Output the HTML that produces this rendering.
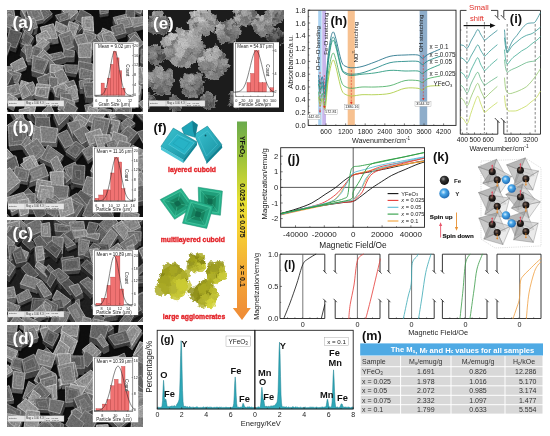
<!DOCTYPE html>
<html><head><meta charset="utf-8"><style>
html,body{margin:0;padding:0;background:#fff;}
body{width:550px;height:436px;overflow:hidden;}
svg{display:block;font-family:"Liberation Sans",Arial,sans-serif;}
</style></head><body>
<svg width="550" height="436" viewBox="0 0 550 436">
<defs>
<filter id="semtex" x="0" y="0" width="1" height="1" color-interpolation-filters="sRGB">
<feTurbulence type="fractalNoise" baseFrequency="0.55" numOctaves="2" seed="4" result="n"/>
<feColorMatrix in="n" type="matrix" values="0.32 0 0 0 0.72  0.32 0 0 0 0.72  0.32 0 0 0 0.72  0 0 0 0 1" result="ng"/>
<feBlend in="SourceGraphic" in2="ng" mode="multiply" result="m"/>
<feComponentTransfer in="m" result="m2"><feFuncR type="linear" slope="1.13"/><feFuncG type="linear" slope="1.13"/><feFuncB type="linear" slope="1.13"/></feComponentTransfer>
<feGaussianBlur in="m2" stdDeviation="0.55"/>
</filter>
<filter id="rough" x="-10%" y="-10%" width="120%" height="120%">
<feTurbulence type="fractalNoise" baseFrequency="0.22" numOctaves="2" seed="3" result="n"/>
<feDisplacementMap in="SourceGraphic" in2="n" scale="6" xChannelSelector="R" yChannelSelector="G" result="d"/>
<feTurbulence type="fractalNoise" baseFrequency="0.7" numOctaves="2" seed="7" result="n2"/>
<feColorMatrix in="n2" type="matrix" values="0.5 0 0 0 0.6  0.5 0 0 0 0.6  0.5 0 0 0 0.6  0 0 0 0 1" result="ng"/>
<feBlend in="d" in2="ng" mode="multiply" result="m"/>
<feComposite in="m" in2="d" operator="in" result="mm"/>
<feGaussianBlur in="mm" stdDeviation="0.35"/>
</filter>
<clipPath id="clipa"><rect x="7" y="10" width="136" height="102"/></clipPath>
<clipPath id="clipb"><rect x="7" y="114" width="136" height="103"/></clipPath>
<clipPath id="clipc"><rect x="7" y="220" width="136" height="102"/></clipPath>
<clipPath id="clipd"><rect x="7" y="325" width="136" height="102"/></clipPath>
<clipPath id="clipe"><rect x="148" y="10" width="136" height="102"/></clipPath>
<radialGradient id="blobG" cx="0.42" cy="0.4" r="0.62"><stop offset="0" stop-color="#fff" stop-opacity="1"/><stop offset="0.7" stop-color="#fff" stop-opacity="0.75"/><stop offset="1" stop-color="#fff" stop-opacity="0.35"/></radialGradient>
<linearGradient id="cyanA" x1="0" y1="0" x2="1" y2="1"><stop offset="0" stop-color="#3cc4d2"/><stop offset="1" stop-color="#168f9f"/></linearGradient>
<linearGradient id="grnA" x1="0" y1="0" x2="1" y2="1"><stop offset="0" stop-color="#3cc69e"/><stop offset="1" stop-color="#159070"/></linearGradient>
<radialGradient id="yelA" cx="0.4" cy="0.35" r="0.7"><stop offset="0" stop-color="#d4d448"/><stop offset="0.6" stop-color="#adad22"/><stop offset="1" stop-color="#7a7a10"/></radialGradient>
<linearGradient id="barG" x1="0" y1="0" x2="0" y2="1"><stop offset="0" stop-color="#6aaa4c"/><stop offset="0.18" stop-color="#9cc23a"/><stop offset="0.4" stop-color="#e6e032"/><stop offset="0.55" stop-color="#f6d033"/><stop offset="0.78" stop-color="#f3a637"/><stop offset="1" stop-color="#ef8a36"/></linearGradient>
<filter id="rough2" x="-10%" y="-10%" width="120%" height="120%">
<feTurbulence type="fractalNoise" baseFrequency="0.3" numOctaves="2" seed="5" result="n"/>
<feDisplacementMap in="SourceGraphic" in2="n" scale="4.5" xChannelSelector="R" yChannelSelector="G"/>
</filter>
<radialGradient id="feB" cx="0.38" cy="0.35" r="0.7"><stop offset="0" stop-color="#9a9a9a"/><stop offset="0.35" stop-color="#333"/><stop offset="1" stop-color="#0a0a0a"/></radialGradient>
<radialGradient id="yB" cx="0.4" cy="0.38" r="0.7"><stop offset="0" stop-color="#d8f0ff"/><stop offset="0.35" stop-color="#48a6e8"/><stop offset="1" stop-color="#1a5fa8"/></radialGradient>
<radialGradient id="feS" cx="0.4" cy="0.38" r="0.65"><stop offset="0" stop-color="#8a7060"/><stop offset="0.45" stop-color="#2a2220"/><stop offset="1" stop-color="#080808"/></radialGradient>
</defs>
<rect width="550" height="436" fill="#fff"/>
<g clip-path="url(#clipa)">
<g filter="url(#semtex)"><rect x="7" y="10" width="136" height="102" fill="#101010"/>
<polygon points="47.8,12.7 38.9,18.4 34.0,11.5 44.8,6.5" fill="#080808" opacity="0.55"/>
<polygon points="44.9,5.2 36.0,10.9 37.4,16.4 46.3,10.7" fill="#606060" stroke="#797979" stroke-width="0.4"/>
<polygon points="36.0,10.9 31.2,4.0 32.5,9.5 37.4,16.4" fill="#595959" stroke="#727272" stroke-width="0.4"/>
<polygon points="44.9,5.2 36.0,10.9 31.2,4.0 41.9,-1.0" fill="#8b8b8b" stroke="#c5c5c5" stroke-width="0.85" stroke-linejoin="round"/>
<polygon points="44.1,5.2 36.0,8.3 34.2,3.5 41.4,1.0" fill="#868686" stroke="#b8b8b8" stroke-width="0.55"/>
<polygon points="132.8,3.0 145.6,10.7 143.1,18.8 130.4,13.3" fill="#080808" opacity="0.55"/>
<polygon points="143.1,5.6 140.7,13.7 141.6,16.8 144.1,8.7" fill="#3e3e3e" stroke="#575757" stroke-width="0.4"/>
<polygon points="140.7,13.7 127.9,8.2 128.9,11.3 141.6,16.8" fill="#4c4c4c" stroke="#656565" stroke-width="0.4"/>
<polygon points="130.3,-2.1 143.1,5.6 140.7,13.7 127.9,8.2" fill="#747474" stroke="#aeaeae" stroke-width="0.85" stroke-linejoin="round"/>
<polygon points="110.0,3.2 109.7,17.8 101.6,19.1 100.2,5.8" fill="#080808" opacity="0.55"/>
<polygon points="108.2,12.7 100.2,14.0 100.1,17.1 108.2,15.8" fill="#414141" stroke="#5a5a5a" stroke-width="0.4"/>
<polygon points="100.2,14.0 98.8,0.7 98.7,3.8 100.1,17.1" fill="#2c2c2c" stroke="#454545" stroke-width="0.4"/>
<polygon points="108.6,-1.9 108.2,12.7 100.2,14.0 98.8,0.7" fill="#636363" stroke="#9d9d9d" stroke-width="0.85" stroke-linejoin="round"/>
<polygon points="107.9,-0.0 107.7,11.3 100.5,11.6 100.6,3.4" fill="#606060" stroke="#909090" stroke-width="0.55"/>
<polygon points="79.7,18.4 70.9,26.1 63.3,15.0 74.7,9.4" fill="#080808" opacity="0.55"/>
<polygon points="77.8,11.8 68.9,19.5 69.4,24.1 78.2,16.4" fill="#636363" stroke="#7c7c7c" stroke-width="0.4"/>
<polygon points="68.9,19.5 61.4,8.4 61.8,13.0 69.4,24.1" fill="#5e5e5e" stroke="#777777" stroke-width="0.4"/>
<polygon points="77.8,11.8 68.9,19.5 61.4,8.4 72.7,2.8" fill="#919191" stroke="#cbcbcb" stroke-width="0.85" stroke-linejoin="round"/>
<polygon points="29.3,11.5 37.8,23.7 27.8,27.6 21.8,16.5" fill="#080808" opacity="0.55"/>
<polygon points="36.8,15.7 26.8,19.6 26.3,25.6 36.3,21.7" fill="#686868" stroke="#818181" stroke-width="0.4"/>
<polygon points="26.8,19.6 20.7,8.5 20.3,14.5 26.3,25.6" fill="#5b5b5b" stroke="#747474" stroke-width="0.4"/>
<polygon points="28.2,3.5 36.8,15.7 26.8,19.6 20.7,8.5" fill="#8f8f8f" stroke="#c9c9c9" stroke-width="0.85" stroke-linejoin="round"/>
<polygon points="53.7,19.3 45.0,26.5 39.4,20.3 46.8,11.1" fill="#080808" opacity="0.55"/>
<polygon points="52.2,13.8 43.4,21.0 43.5,24.5 52.2,17.3" fill="#333333" stroke="#4c4c4c" stroke-width="0.4"/>
<polygon points="43.4,21.0 37.9,14.8 37.9,18.3 43.5,24.5" fill="#303030" stroke="#494949" stroke-width="0.4"/>
<polygon points="52.2,13.8 43.4,21.0 37.9,14.8 45.3,5.6" fill="#616161" stroke="#9b9b9b" stroke-width="0.85" stroke-linejoin="round"/>
<polygon points="49.2,13.7 44.0,18.0 41.2,13.6 44.8,9.7" fill="#696969" stroke="#8e8e8e" stroke-width="0.55"/>
<polygon points="15.7,25.2 4.8,24.8 4.9,16.3 14.3,16.1" fill="#080808" opacity="0.55"/>
<polygon points="15.1,18.2 4.2,17.8 3.3,22.8 14.2,23.2" fill="#595959" stroke="#727272" stroke-width="0.4"/>
<polygon points="4.2,17.8 4.3,9.3 3.4,14.3 3.3,22.8" fill="#414141" stroke="#5a5a5a" stroke-width="0.4"/>
<polygon points="15.1,18.2 4.2,17.8 4.3,9.3 13.7,9.1" fill="#787878" stroke="#b2b2b2" stroke-width="0.85" stroke-linejoin="round"/>
<polygon points="13.0,15.5 6.2,16.0 7.1,11.9 11.3,10.9" fill="#6f6f6f" stroke="#a5a5a5" stroke-width="0.55"/>
<polygon points="44.5,24.9 30.9,28.3 27.2,15.8 39.8,13.5" fill="#080808" opacity="0.55"/>
<polygon points="43.9,18.8 30.4,22.2 29.4,26.3 43.0,22.9" fill="#515151" stroke="#6a6a6a" stroke-width="0.4"/>
<polygon points="30.4,22.2 26.6,9.7 25.7,13.8 29.4,26.3" fill="#3f3f3f" stroke="#585858" stroke-width="0.4"/>
<polygon points="43.9,18.8 30.4,22.2 26.6,9.7 39.2,7.4" fill="#757575" stroke="#afafaf" stroke-width="0.85" stroke-linejoin="round"/>
<polygon points="40.6,15.9 33.2,17.9 30.7,11.2 37.1,10.4" fill="#737373" stroke="#a2a2a2" stroke-width="0.55"/>
<polygon points="136.8,14.6 136.4,27.1 127.3,25.0 128.1,14.7" fill="#080808" opacity="0.55"/>
<polygon points="134.9,8.9 134.5,21.3 134.9,25.1 135.3,12.6" fill="#2b2b2b" stroke="#444444" stroke-width="0.4"/>
<polygon points="134.5,21.3 125.4,19.3 125.8,23.0 134.9,25.1" fill="#3f3f3f" stroke="#585858" stroke-width="0.4"/>
<polygon points="134.9,8.9 134.5,21.3 125.4,19.3 126.2,8.9" fill="#626262" stroke="#9c9c9c" stroke-width="0.85" stroke-linejoin="round"/>
<polygon points="71.9,27.2 62.2,30.2 58.2,23.8 70.8,20.8" fill="#080808" opacity="0.55"/>
<polygon points="69.2,18.7 59.6,21.7 60.7,28.2 70.4,25.2" fill="#404040" stroke="#595959" stroke-width="0.4"/>
<polygon points="59.6,21.7 55.5,15.3 56.7,21.8 60.7,28.2" fill="#323232" stroke="#4b4b4b" stroke-width="0.4"/>
<polygon points="68.1,12.3 69.2,18.7 70.4,25.2 69.3,18.8" fill="#2f2f2f" stroke="#484848" stroke-width="0.4"/>
<polygon points="69.2,18.7 59.6,21.7 55.5,15.3 68.1,12.3" fill="#666666" stroke="#a0a0a0" stroke-width="0.85" stroke-linejoin="round"/>
<polygon points="67.2,17.0 60.7,20.0 59.8,16.9 65.4,14.3" fill="#6a6a6a" stroke="#939393" stroke-width="0.55"/>
<polygon points="80.7,14.4 91.5,20.5 84.2,29.7 75.5,25.0" fill="#080808" opacity="0.55"/>
<polygon points="91.4,15.1 84.1,24.4 82.7,27.7 90.0,18.5" fill="#2b2b2b" stroke="#444444" stroke-width="0.4"/>
<polygon points="84.1,24.4 75.4,19.6 74.0,23.0 82.7,27.7" fill="#333333" stroke="#4c4c4c" stroke-width="0.4"/>
<polygon points="80.6,9.0 91.4,15.1 84.1,24.4 75.4,19.6" fill="#5d5d5d" stroke="#979797" stroke-width="0.85" stroke-linejoin="round"/>
<polygon points="127.2,29.4 116.6,31.3 114.3,25.1 127.4,21.9" fill="#080808" opacity="0.55"/>
<polygon points="126.2,21.8 115.6,23.6 115.1,29.3 125.7,27.4" fill="#525252" stroke="#6b6b6b" stroke-width="0.4"/>
<polygon points="115.6,23.6 113.3,17.5 112.8,23.1 115.1,29.3" fill="#3f3f3f" stroke="#585858" stroke-width="0.4"/>
<polygon points="126.2,21.8 115.6,23.6 113.3,17.5 126.4,14.2" fill="#747474" stroke="#aeaeae" stroke-width="0.85" stroke-linejoin="round"/>
<polygon points="124.2,20.3 116.6,22.2 114.7,18.8 125.1,16.3" fill="#7b7b7b" stroke="#a1a1a1" stroke-width="0.55"/>
<polygon points="18.5,25.3 15.9,38.0 6.4,33.7 10.9,22.1" fill="#080808" opacity="0.55"/>
<polygon points="16.1,16.9 13.4,29.6 14.4,36.0 17.0,23.3" fill="#404040" stroke="#595959" stroke-width="0.4"/>
<polygon points="13.4,29.6 3.9,25.2 4.9,31.7 14.4,36.0" fill="#4e4e4e" stroke="#676767" stroke-width="0.4"/>
<polygon points="16.1,16.9 13.4,29.6 3.9,25.2 8.4,13.7" fill="#777777" stroke="#b1b1b1" stroke-width="0.85" stroke-linejoin="round"/>
<polygon points="14.7,17.9 12.8,25.8 5.5,23.7 7.9,15.6" fill="#797979" stroke="#a4a4a4" stroke-width="0.55"/>
<polygon points="147.5,30.4 133.4,34.3 132.5,24.1 146.5,22.6" fill="#080808" opacity="0.55"/>
<polygon points="145.5,24.2 131.4,28.1 131.9,32.3 146.0,28.4" fill="#5c5c5c" stroke="#757575" stroke-width="0.4"/>
<polygon points="145.5,24.2 131.4,28.1 130.6,17.9 144.5,16.5" fill="#808080" stroke="#bababa" stroke-width="0.85" stroke-linejoin="round"/>
<polygon points="143.1,22.5 133.5,24.5 132.6,18.7 141.2,17.5" fill="#888888" stroke="#adadad" stroke-width="0.55"/>
<polygon points="135.0,34.5 121.1,38.1 118.3,28.3 131.9,25.5" fill="#080808" opacity="0.55"/>
<polygon points="133.1,26.0 119.2,29.6 119.6,36.1 133.5,32.5" fill="#565656" stroke="#6f6f6f" stroke-width="0.4"/>
<polygon points="119.2,29.6 116.3,19.8 116.8,26.3 119.6,36.1" fill="#454545" stroke="#5e5e5e" stroke-width="0.4"/>
<polygon points="133.1,26.0 119.2,29.6 116.3,19.8 129.9,17.0" fill="#7b7b7b" stroke="#b5b5b5" stroke-width="0.85" stroke-linejoin="round"/>
<polygon points="130.0,23.9 122.4,26.7 119.8,21.3 127.7,18.9" fill="#7d7d7d" stroke="#a8a8a8" stroke-width="0.55"/>
<polygon points="25.7,24.8 19.6,35.9 12.8,31.2 18.4,21.6" fill="#080808" opacity="0.55"/>
<polygon points="25.0,19.7 18.8,30.9 18.1,33.9 24.2,22.8" fill="#363636" stroke="#4f4f4f" stroke-width="0.4"/>
<polygon points="18.8,30.9 12.0,26.1 11.3,29.2 18.1,33.9" fill="#3e3e3e" stroke="#575757" stroke-width="0.4"/>
<polygon points="25.0,19.7 18.8,30.9 12.0,26.1 17.7,16.5" fill="#6a6a6a" stroke="#a4a4a4" stroke-width="0.85" stroke-linejoin="round"/>
<polygon points="35.3,27.0 38.2,35.7 29.7,38.9 26.2,26.5" fill="#080808" opacity="0.55"/>
<polygon points="37.5,27.3 29.0,30.5 28.2,36.9 36.7,33.7" fill="#4e4e4e" stroke="#676767" stroke-width="0.4"/>
<polygon points="29.0,30.5 25.5,18.1 24.7,24.5 28.2,36.9" fill="#3f3f3f" stroke="#585858" stroke-width="0.4"/>
<polygon points="34.6,18.6 37.5,27.3 29.0,30.5 25.5,18.1" fill="#757575" stroke="#afafaf" stroke-width="0.85" stroke-linejoin="round"/>
<polygon points="32.5,19.7 34.9,24.9 29.7,27.9 27.7,19.8" fill="#767676" stroke="#a2a2a2" stroke-width="0.55"/>
<polygon points="94.9,25.0 95.8,39.6 84.1,37.2 84.2,25.7" fill="#080808" opacity="0.55"/>
<polygon points="92.7,16.6 93.6,31.2 94.3,37.6 93.4,23.0" fill="#5d5d5d" stroke="#767676" stroke-width="0.4"/>
<polygon points="93.6,31.2 81.9,28.8 82.6,35.2 94.3,37.6" fill="#717171" stroke="#8a8a8a" stroke-width="0.4"/>
<polygon points="92.7,16.6 93.6,31.2 81.9,28.8 82.0,17.4" fill="#949494" stroke="#cecece" stroke-width="0.85" stroke-linejoin="round"/>
<polygon points="91.1,19.7 90.7,27.9 85.0,27.7 84.8,18.8" fill="#8a8a8a" stroke="#c1c1c1" stroke-width="0.55"/>
<polygon points="34.7,29.9 31.8,40.5 23.2,36.7 27.0,25.5" fill="#080808" opacity="0.55"/>
<polygon points="34.5,23.0 31.6,33.6 30.3,38.5 33.2,27.9" fill="#292929" stroke="#424242" stroke-width="0.4"/>
<polygon points="31.6,33.6 22.9,29.8 21.7,34.7 30.3,38.5" fill="#373737" stroke="#505050" stroke-width="0.4"/>
<polygon points="34.5,23.0 31.6,33.6 22.9,29.8 26.8,18.6" fill="#5f5f5f" stroke="#999999" stroke-width="0.85" stroke-linejoin="round"/>
<polygon points="58.3,28.4 72.4,35.1 69.3,43.4 57.3,36.8" fill="#080808" opacity="0.55"/>
<polygon points="70.1,27.9 67.0,36.2 67.8,41.4 70.9,33.1" fill="#545454" stroke="#6d6d6d" stroke-width="0.4"/>
<polygon points="67.0,36.2 55.0,29.6 55.8,34.8 67.8,41.4" fill="#5f5f5f" stroke="#787878" stroke-width="0.4"/>
<polygon points="56.0,21.2 70.1,27.9 67.0,36.2 55.0,29.6" fill="#898989" stroke="#c3c3c3" stroke-width="0.85" stroke-linejoin="round"/>
<polygon points="58.8,23.4 67.3,27.3 66.2,32.9 56.5,29.4" fill="#888888" stroke="#b6b6b6" stroke-width="0.55"/>
<polygon points="84.2,33.2 75.6,43.6 67.7,34.3 78.7,27.0" fill="#080808" opacity="0.55"/>
<polygon points="82.3,27.4 73.6,37.8 74.1,41.6 82.7,31.2" fill="#2c2c2c" stroke="#454545" stroke-width="0.4"/>
<polygon points="73.6,37.8 65.7,28.5 66.2,32.3 74.1,41.6" fill="#2c2c2c" stroke="#454545" stroke-width="0.4"/>
<polygon points="82.3,27.4 73.6,37.8 65.7,28.5 76.7,21.2" fill="#5d5d5d" stroke="#979797" stroke-width="0.85" stroke-linejoin="round"/>
<polygon points="78.9,28.3 75.1,34.1 71.3,28.6 76.4,24.8" fill="#585858" stroke="#8a8a8a" stroke-width="0.55"/>
<polygon points="127.1,38.8 115.5,42.2 112.3,33.3 123.9,29.4" fill="#080808" opacity="0.55"/>
<polygon points="126.0,32.6 114.4,36.0 114.0,40.2 125.6,36.8" fill="#424242" stroke="#5b5b5b" stroke-width="0.4"/>
<polygon points="114.4,36.0 111.2,27.0 110.8,31.3 114.0,40.2" fill="#323232" stroke="#4b4b4b" stroke-width="0.4"/>
<polygon points="126.0,32.6 114.4,36.0 111.2,27.0 122.9,23.1" fill="#676767" stroke="#a1a1a1" stroke-width="0.85" stroke-linejoin="round"/>
<polygon points="122.9,31.8 116.1,31.8 115.0,28.3 120.9,27.2" fill="#6a6a6a" stroke="#949494" stroke-width="0.55"/>
<polygon points="78.8,30.2 74.6,44.0 65.6,43.0 69.4,26.7" fill="#080808" opacity="0.55"/>
<polygon points="74.3,38.7 65.4,37.7 64.1,41.0 73.1,42.0" fill="#676767" stroke="#808080" stroke-width="0.4"/>
<polygon points="65.4,37.7 69.2,21.4 67.9,24.7 64.1,41.0" fill="#515151" stroke="#6a6a6a" stroke-width="0.4"/>
<polygon points="78.6,24.9 74.3,38.7 65.4,37.7 69.2,21.4" fill="#888888" stroke="#c2c2c2" stroke-width="0.85" stroke-linejoin="round"/>
<polygon points="76.6,27.1 73.4,35.7 68.5,35.6 70.1,24.3" fill="#8c8c8c" stroke="#b5b5b5" stroke-width="0.55"/>
<polygon points="55.9,31.1 60.1,45.2 46.7,47.4 43.0,34.6" fill="#080808" opacity="0.55"/>
<polygon points="57.6,37.8 44.2,40.1 45.2,45.4 58.6,43.2" fill="#686868" stroke="#818181" stroke-width="0.4"/>
<polygon points="44.2,40.1 40.4,27.3 41.5,32.6 45.2,45.4" fill="#545454" stroke="#6d6d6d" stroke-width="0.4"/>
<polygon points="53.3,23.7 57.6,37.8 44.2,40.1 40.4,27.3" fill="#8a8a8a" stroke="#c4c4c4" stroke-width="0.85" stroke-linejoin="round"/>
<polygon points="50.4,27.4 54.5,34.8 45.1,35.8 43.5,28.6" fill="#939393" stroke="#b7b7b7" stroke-width="0.55"/>
<polygon points="103.3,35.8 114.6,40.9 110.3,45.2 101.1,41.9" fill="#080808" opacity="0.55"/>
<polygon points="114.1,33.1 109.8,37.4 108.8,43.2 113.1,38.9" fill="#505050" stroke="#696969" stroke-width="0.4"/>
<polygon points="109.8,37.4 100.5,34.1 99.6,39.9 108.8,43.2" fill="#595959" stroke="#727272" stroke-width="0.4"/>
<polygon points="102.7,28.1 114.1,33.1 109.8,37.4 100.5,34.1" fill="#7f7f7f" stroke="#b9b9b9" stroke-width="0.85" stroke-linejoin="round"/>
<polygon points="104.6,29.3 111.3,32.8 108.4,36.6 102.6,34.0" fill="#858585" stroke="#acacac" stroke-width="0.55"/>
<polygon points="53.0,44.5 38.5,47.5 37.8,41.6 48.1,36.3" fill="#080808" opacity="0.55"/>
<polygon points="51.3,38.3 36.9,41.3 37.0,45.5 51.5,42.5" fill="#6c6c6c" stroke="#858585" stroke-width="0.4"/>
<polygon points="36.9,41.3 36.1,35.4 36.3,39.6 37.0,45.5" fill="#595959" stroke="#727272" stroke-width="0.4"/>
<polygon points="51.3,38.3 36.9,41.3 36.1,35.4 46.4,30.1" fill="#8f8f8f" stroke="#c9c9c9" stroke-width="0.85" stroke-linejoin="round"/>
<polygon points="48.1,37.7 38.9,38.0 39.0,35.6 45.1,33.4" fill="#919191" stroke="#bcbcbc" stroke-width="0.55"/>
<polygon points="137.6,40.0 142.2,47.8 135.8,52.3 129.5,43.2" fill="#080808" opacity="0.55"/>
<polygon points="140.6,39.7 134.2,44.3 134.3,50.3 140.7,45.8" fill="#3c3c3c" stroke="#555555" stroke-width="0.4"/>
<polygon points="134.2,44.3 127.9,35.2 128.0,41.2 134.3,50.3" fill="#353535" stroke="#4e4e4e" stroke-width="0.4"/>
<polygon points="136.0,31.9 140.6,39.7 134.2,44.3 127.9,35.2" fill="#686868" stroke="#a2a2a2" stroke-width="0.85" stroke-linejoin="round"/>
<polygon points="104.7,35.3 115.0,46.2 107.1,52.2 97.5,41.4" fill="#080808" opacity="0.55"/>
<polygon points="113.6,40.8 105.6,46.8 105.6,50.2 113.5,44.2" fill="#565656" stroke="#6f6f6f" stroke-width="0.4"/>
<polygon points="105.6,46.8 96.1,36.0 96.0,39.4 105.6,50.2" fill="#535353" stroke="#6c6c6c" stroke-width="0.4"/>
<polygon points="103.3,30.0 113.6,40.8 105.6,46.8 96.1,36.0" fill="#838383" stroke="#bdbdbd" stroke-width="0.85" stroke-linejoin="round"/>
<polygon points="103.2,32.2 111.0,39.1 106.0,43.6 98.4,35.6" fill="#7e7e7e" stroke="#b0b0b0" stroke-width="0.55"/>
<polygon points="112.1,36.8 118.8,47.4 106.3,51.2 103.1,39.1" fill="#080808" opacity="0.55"/>
<polygon points="117.6,42.0 105.1,45.8 104.8,49.2 117.3,45.4" fill="#5d5d5d" stroke="#767676" stroke-width="0.4"/>
<polygon points="105.1,45.8 101.9,33.8 101.6,37.1 104.8,49.2" fill="#4c4c4c" stroke="#656565" stroke-width="0.4"/>
<polygon points="110.9,31.5 117.6,42.0 105.1,45.8 101.9,33.8" fill="#828282" stroke="#bcbcbc" stroke-width="0.85" stroke-linejoin="round"/>
<polygon points="109.1,35.2 114.6,39.8 106.9,42.2 104.5,35.6" fill="#7c7c7c" stroke="#afafaf" stroke-width="0.55"/>
<polygon points="35.7,42.9 30.4,52.7 22.0,48.6 27.2,35.9" fill="#080808" opacity="0.55"/>
<polygon points="33.5,37.2 28.2,47.0 28.9,50.7 34.2,40.9" fill="#343434" stroke="#4d4d4d" stroke-width="0.4"/>
<polygon points="28.2,47.0 19.8,42.9 20.5,46.6 28.9,50.7" fill="#3f3f3f" stroke="#585858" stroke-width="0.4"/>
<polygon points="33.5,37.2 28.2,47.0 19.8,42.9 25.0,30.2" fill="#686868" stroke="#a2a2a2" stroke-width="0.85" stroke-linejoin="round"/>
<polygon points="31.7,37.2 27.7,44.8 22.5,40.6 25.2,32.5" fill="#5f5f5f" stroke="#959595" stroke-width="0.55"/>
<polygon points="91.1,49.0 77.8,50.5 76.0,42.0 88.0,41.1" fill="#080808" opacity="0.55"/>
<polygon points="89.1,42.2 75.9,43.7 76.3,48.5 89.6,47.0" fill="#515151" stroke="#6a6a6a" stroke-width="0.4"/>
<polygon points="75.9,43.7 74.0,35.2 74.5,40.0 76.3,48.5" fill="#3c3c3c" stroke="#555555" stroke-width="0.4"/>
<polygon points="89.1,42.2 75.9,43.7 74.0,35.2 86.0,34.3" fill="#727272" stroke="#acacac" stroke-width="0.85" stroke-linejoin="round"/>
<polygon points="22.8,39.0 17.0,54.2 6.7,51.1 11.1,35.1" fill="#080808" opacity="0.55"/>
<polygon points="21.8,32.9 15.9,48.0 15.5,52.2 21.3,37.0" fill="#242424" stroke="#3d3d3d" stroke-width="0.4"/>
<polygon points="15.9,48.0 5.7,44.9 5.2,49.1 15.5,52.2" fill="#343434" stroke="#4d4d4d" stroke-width="0.4"/>
<polygon points="21.8,32.9 15.9,48.0 5.7,44.9 10.1,28.9" fill="#5a5a5a" stroke="#949494" stroke-width="0.85" stroke-linejoin="round"/>
<polygon points="73.0,35.9 79.0,50.7 66.4,56.5 60.9,40.3" fill="#080808" opacity="0.55"/>
<polygon points="76.9,45.2 64.3,51.0 64.9,54.5 77.5,48.7" fill="#4e4e4e" stroke="#676767" stroke-width="0.4"/>
<polygon points="64.3,51.0 58.8,34.8 59.4,38.3 64.9,54.5" fill="#414141" stroke="#5a5a5a" stroke-width="0.4"/>
<polygon points="70.9,30.4 76.9,45.2 64.3,51.0 58.8,34.8" fill="#777777" stroke="#b1b1b1" stroke-width="0.85" stroke-linejoin="round"/>
<polygon points="69.3,35.3 72.0,43.6 65.4,45.7 62.1,38.2" fill="#6e6e6e" stroke="#a4a4a4" stroke-width="0.55"/>
<polygon points="99.0,40.6 94.9,53.5 83.6,51.7 86.8,36.4" fill="#080808" opacity="0.55"/>
<polygon points="96.3,34.7 92.1,47.6 93.4,51.5 97.5,38.6" fill="#444444" stroke="#5d5d5d" stroke-width="0.4"/>
<polygon points="92.1,47.6 80.9,45.8 82.1,49.7 93.4,51.5" fill="#585858" stroke="#717171" stroke-width="0.4"/>
<polygon points="96.3,34.7 92.1,47.6 80.9,45.8 84.0,30.5" fill="#7a7a7a" stroke="#b4b4b4" stroke-width="0.85" stroke-linejoin="round"/>
<polygon points="93.0,36.4 89.8,44.4 82.2,45.1 85.9,33.7" fill="#757575" stroke="#a7a7a7" stroke-width="0.55"/>
<polygon points="84.6,41.1 89.6,54.0 79.7,57.6 74.5,44.9" fill="#080808" opacity="0.55"/>
<polygon points="89.5,46.1 79.7,49.8 78.2,55.6 88.1,52.0" fill="#555555" stroke="#6e6e6e" stroke-width="0.4"/>
<polygon points="79.7,49.8 74.4,37.1 73.0,42.9 78.2,55.6" fill="#474747" stroke="#606060" stroke-width="0.4"/>
<polygon points="84.6,33.3 89.5,46.1 79.7,49.8 74.4,37.1" fill="#7c7c7c" stroke="#b6b6b6" stroke-width="0.85" stroke-linejoin="round"/>
<polygon points="83.9,36.4 86.7,43.6 81.9,46.6 78.0,39.2" fill="#7e7e7e" stroke="#a9a9a9" stroke-width="0.55"/>
<polygon points="146.4,51.5 135.0,61.9 127.9,53.1 136.8,42.9" fill="#080808" opacity="0.55"/>
<polygon points="143.9,43.0 132.5,53.5 133.5,59.9 144.9,49.5" fill="#474747" stroke="#606060" stroke-width="0.4"/>
<polygon points="132.5,53.5 125.4,44.6 126.4,51.1 133.5,59.9" fill="#444444" stroke="#5d5d5d" stroke-width="0.4"/>
<polygon points="143.9,43.0 132.5,53.5 125.4,44.6 134.2,34.4" fill="#767676" stroke="#b0b0b0" stroke-width="0.85" stroke-linejoin="round"/>
<polygon points="51.0,50.0 42.7,58.3 35.6,54.7 44.6,45.5" fill="#080808" opacity="0.55"/>
<polygon points="49.2,42.4 40.9,50.7 41.2,56.3 49.5,48.0" fill="#5f5f5f" stroke="#787878" stroke-width="0.4"/>
<polygon points="40.9,50.7 33.8,47.1 34.1,52.7 41.2,56.3" fill="#656565" stroke="#7e7e7e" stroke-width="0.4"/>
<polygon points="49.2,42.4 40.9,50.7 33.8,47.1 42.8,37.9" fill="#8f8f8f" stroke="#c9c9c9" stroke-width="0.85" stroke-linejoin="round"/>
<polygon points="46.7,42.8 40.8,48.6 36.0,45.6 43.3,41.3" fill="#919191" stroke="#bcbcbc" stroke-width="0.55"/>
<polygon points="106.0,54.2 93.2,63.0 85.8,56.4 96.6,45.4" fill="#080808" opacity="0.55"/>
<polygon points="104.3,46.6 91.5,55.4 91.7,61.0 104.5,52.2" fill="#3a3a3a" stroke="#535353" stroke-width="0.4"/>
<polygon points="91.5,55.4 84.1,48.7 84.3,54.4 91.7,61.0" fill="#373737" stroke="#505050" stroke-width="0.4"/>
<polygon points="104.3,46.6 91.5,55.4 84.1,48.7 94.9,37.8" fill="#666666" stroke="#a0a0a0" stroke-width="0.85" stroke-linejoin="round"/>
<polygon points="98.5,47.8 93.0,51.7 88.1,48.4 93.3,41.3" fill="#6e6e6e" stroke="#939393" stroke-width="0.55"/>
<polygon points="138.0,59.1 128.3,59.2 126.2,50.7 136.7,47.7" fill="#080808" opacity="0.55"/>
<polygon points="137.4,52.4 127.7,52.6 126.8,57.2 136.5,57.1" fill="#757575" stroke="#8e8e8e" stroke-width="0.4"/>
<polygon points="127.7,52.6 125.6,44.1 124.7,48.7 126.8,57.2" fill="#5d5d5d" stroke="#767676" stroke-width="0.4"/>
<polygon points="137.4,52.4 127.7,52.6 125.6,44.1 136.0,41.1" fill="#939393" stroke="#cdcdcd" stroke-width="0.85" stroke-linejoin="round"/>
<polygon points="11.3,51.7 5.5,66.9 -2.5,62.0 1.6,47.3" fill="#080808" opacity="0.55"/>
<polygon points="11.2,43.7 5.4,58.8 4.0,64.9 9.8,49.7" fill="#2f2f2f" stroke="#484848" stroke-width="0.4"/>
<polygon points="5.4,58.8 -2.6,53.9 -4.0,60.0 4.0,64.9" fill="#393939" stroke="#525252" stroke-width="0.4"/>
<polygon points="11.2,43.7 5.4,58.8 -2.6,53.9 1.5,39.2" fill="#646464" stroke="#9e9e9e" stroke-width="0.85" stroke-linejoin="round"/>
<polygon points="106.1,47.8 117.3,57.7 111.2,63.4 103.2,55.0" fill="#080808" opacity="0.55"/>
<polygon points="116.7,50.3 110.6,55.9 109.7,61.4 115.8,55.7" fill="#3c3c3c" stroke="#555555" stroke-width="0.4"/>
<polygon points="110.6,55.9 102.6,47.5 101.7,53.0 109.7,61.4" fill="#3b3b3b" stroke="#545454" stroke-width="0.4"/>
<polygon points="105.5,40.3 116.7,50.3 110.6,55.9 102.6,47.5" fill="#6b6b6b" stroke="#a5a5a5" stroke-width="0.85" stroke-linejoin="round"/>
<polygon points="107.8,44.3 112.6,49.6 109.0,53.4 105.3,47.9" fill="#6b6b6b" stroke="#989898" stroke-width="0.55"/>
<polygon points="26.1,51.7 32.4,58.2 26.9,63.1 21.6,57.7" fill="#080808" opacity="0.55"/>
<polygon points="32.2,50.4 26.7,55.3 25.4,61.1 30.9,56.2" fill="#393939" stroke="#525252" stroke-width="0.4"/>
<polygon points="26.7,55.3 21.3,49.9 20.1,55.7 25.4,61.1" fill="#383838" stroke="#515151" stroke-width="0.4"/>
<polygon points="25.9,43.9 32.2,50.4 26.7,55.3 21.3,49.9" fill="#686868" stroke="#a2a2a2" stroke-width="0.85" stroke-linejoin="round"/>
<polygon points="26.6,46.1 30.7,50.1 26.0,53.1 23.8,49.5" fill="#6a6a6a" stroke="#959595" stroke-width="0.55"/>
<polygon points="93.2,50.1 92.4,64.7 80.4,64.8 80.1,51.8" fill="#080808" opacity="0.55"/>
<polygon points="91.6,42.7 90.8,57.3 90.9,62.7 91.7,48.1" fill="#545454" stroke="#6d6d6d" stroke-width="0.4"/>
<polygon points="90.8,57.3 78.8,57.4 78.9,62.8 90.9,62.7" fill="#6d6d6d" stroke="#868686" stroke-width="0.4"/>
<polygon points="78.8,57.4 78.5,44.4 78.6,49.8 78.9,62.8" fill="#545454" stroke="#6d6d6d" stroke-width="0.4"/>
<polygon points="91.6,42.7 90.8,57.3 78.8,57.4 78.5,44.4" fill="#8b8b8b" stroke="#c5c5c5" stroke-width="0.85" stroke-linejoin="round"/>
<polygon points="128.4,52.5 131.0,67.1 121.5,66.2 118.7,51.0" fill="#080808" opacity="0.55"/>
<polygon points="129.5,60.1 120.0,59.2 120.0,64.2 129.5,65.1" fill="#454545" stroke="#5e5e5e" stroke-width="0.4"/>
<polygon points="120.0,59.2 117.2,43.9 117.2,49.0 120.0,64.2" fill="#2f2f2f" stroke="#484848" stroke-width="0.4"/>
<polygon points="126.9,45.4 129.5,60.1 120.0,59.2 117.2,43.9" fill="#666666" stroke="#a0a0a0" stroke-width="0.85" stroke-linejoin="round"/>
<polygon points="125.4,48.0 127.6,56.1 122.3,56.6 120.0,48.2" fill="#5f5f5f" stroke="#939393" stroke-width="0.55"/>
<polygon points="65.9,56.0 76.1,58.1 75.4,64.0 64.6,63.9" fill="#080808" opacity="0.55"/>
<polygon points="74.6,51.0 73.8,56.8 73.9,62.0 74.6,56.1" fill="#353535" stroke="#4e4e4e" stroke-width="0.4"/>
<polygon points="73.8,56.8 63.0,56.7 63.1,61.9 73.9,62.0" fill="#4d4d4d" stroke="#666666" stroke-width="0.4"/>
<polygon points="64.3,48.8 74.6,51.0 73.8,56.8 63.0,56.7" fill="#6b6b6b" stroke="#a5a5a5" stroke-width="0.85" stroke-linejoin="round"/>
<polygon points="34.2,50.5 40.6,66.2 29.8,67.1 27.6,51.6" fill="#080808" opacity="0.55"/>
<polygon points="37.6,60.5 26.9,61.3 28.3,65.1 39.1,64.2" fill="#4e4e4e" stroke="#676767" stroke-width="0.4"/>
<polygon points="31.3,44.7 37.6,60.5 26.9,61.3 24.7,45.8" fill="#6e6e6e" stroke="#a8a8a8" stroke-width="0.85" stroke-linejoin="round"/>
<polygon points="30.3,46.9 35.2,58.2 27.0,58.1 27.3,48.4" fill="#737373" stroke="#9b9b9b" stroke-width="0.55"/>
<polygon points="43.7,54.5 43.8,66.6 33.0,64.7 36.8,52.4" fill="#080808" opacity="0.55"/>
<polygon points="40.9,47.9 41.0,60.0 42.3,64.6 42.2,52.5" fill="#303030" stroke="#494949" stroke-width="0.4"/>
<polygon points="41.0,60.0 30.2,58.1 31.5,62.7 42.3,64.6" fill="#454545" stroke="#5e5e5e" stroke-width="0.4"/>
<polygon points="40.9,47.9 41.0,60.0 30.2,58.1 34.0,45.7" fill="#676767" stroke="#a1a1a1" stroke-width="0.85" stroke-linejoin="round"/>
<polygon points="40.1,50.0 40.2,57.7 32.2,57.2 34.6,48.9" fill="#606060" stroke="#949494" stroke-width="0.55"/>
<polygon points="150.5,55.8 148.6,70.0 141.4,68.3 141.8,54.8" fill="#080808" opacity="0.55"/>
<polygon points="148.0,64.2 140.8,62.6 139.9,66.3 147.1,68.0" fill="#3f3f3f" stroke="#585858" stroke-width="0.4"/>
<polygon points="140.8,62.6 141.1,49.1 140.3,52.8 139.9,66.3" fill="#2b2b2b" stroke="#444444" stroke-width="0.4"/>
<polygon points="149.9,50.1 148.0,64.2 140.8,62.6 141.1,49.1" fill="#626262" stroke="#9c9c9c" stroke-width="0.85" stroke-linejoin="round"/>
<polygon points="148.0,51.7 146.0,60.8 141.8,60.1 143.3,51.9" fill="#5c5c5c" stroke="#8f8f8f" stroke-width="0.55"/>
<polygon points="67.3,64.9 53.5,68.5 51.2,62.3 63.9,59.5" fill="#080808" opacity="0.55"/>
<polygon points="65.1,57.3 51.3,60.8 52.0,66.5 65.8,62.9" fill="#4a4a4a" stroke="#636363" stroke-width="0.4"/>
<polygon points="51.3,60.8 49.0,54.6 49.7,60.3 52.0,66.5" fill="#393939" stroke="#525252" stroke-width="0.4"/>
<polygon points="65.1,57.3 51.3,60.8 49.0,54.6 61.7,51.9" fill="#6e6e6e" stroke="#a8a8a8" stroke-width="0.85" stroke-linejoin="round"/>
<polygon points="60.6,56.1 53.5,57.6 53.5,54.5 58.9,54.0" fill="#6e6e6e" stroke="#9b9b9b" stroke-width="0.55"/>
<polygon points="43.9,56.9 52.9,65.2 45.2,72.9 37.3,63.2" fill="#080808" opacity="0.55"/>
<polygon points="52.5,57.8 44.8,65.6 43.7,70.9 51.4,63.2" fill="#545454" stroke="#6d6d6d" stroke-width="0.4"/>
<polygon points="44.8,65.6 36.9,55.8 35.8,61.2 43.7,70.9" fill="#535353" stroke="#6c6c6c" stroke-width="0.4"/>
<polygon points="43.5,49.5 52.5,57.8 44.8,65.6 36.9,55.8" fill="#848484" stroke="#bebebe" stroke-width="0.85" stroke-linejoin="round"/>
<polygon points="43.2,52.4 49.0,57.7 45.4,62.5 40.3,56.9" fill="#8c8c8c" stroke="#b1b1b1" stroke-width="0.55"/>
<polygon points="115.4,62.5 109.1,73.3 99.7,68.5 106.2,59.1" fill="#080808" opacity="0.55"/>
<polygon points="114.7,54.5 108.4,65.2 107.6,71.3 113.9,60.5" fill="#5e5e5e" stroke="#777777" stroke-width="0.4"/>
<polygon points="108.4,65.2 99.0,60.4 98.2,66.5 107.6,71.3" fill="#686868" stroke="#818181" stroke-width="0.4"/>
<polygon points="114.7,54.5 108.4,65.2 99.0,60.4 105.5,51.0" fill="#929292" stroke="#cccccc" stroke-width="0.85" stroke-linejoin="round"/>
<polygon points="110.8,56.3 107.2,62.1 102.7,58.5 106.1,54.5" fill="#898989" stroke="#bfbfbf" stroke-width="0.55"/>
<polygon points="119.2,57.4 117.1,70.7 106.1,70.5 108.3,56.3" fill="#080808" opacity="0.55"/>
<polygon points="118.0,52.3 115.9,65.6 115.6,68.7 117.7,55.4" fill="#4c4c4c" stroke="#656565" stroke-width="0.4"/>
<polygon points="115.9,65.6 104.9,65.4 104.6,68.5 115.6,68.7" fill="#646464" stroke="#7d7d7d" stroke-width="0.4"/>
<polygon points="118.0,52.3 115.9,65.6 104.9,65.4 107.1,51.3" fill="#838383" stroke="#bdbdbd" stroke-width="0.85" stroke-linejoin="round"/>
<polygon points="114.3,57.0 113.8,61.8 109.0,61.5 109.5,55.9" fill="#8c8c8c" stroke="#b0b0b0" stroke-width="0.55"/>
<polygon points="112.8,71.3 100.4,74.8 100.6,63.8 112.6,60.5" fill="#080808" opacity="0.55"/>
<polygon points="110.9,64.1 98.5,67.6 98.9,72.8 111.3,69.3" fill="#626262" stroke="#7b7b7b" stroke-width="0.4"/>
<polygon points="110.8,53.3 110.9,64.1 111.3,69.3 111.1,58.5" fill="#505050" stroke="#696969" stroke-width="0.4"/>
<polygon points="110.9,64.1 98.5,67.6 98.7,56.6 110.8,53.3" fill="#878787" stroke="#c1c1c1" stroke-width="0.85" stroke-linejoin="round"/>
<polygon points="107.9,62.5 101.8,64.2 100.3,57.7 108.6,55.7" fill="#7b7b7b" stroke="#b4b4b4" stroke-width="0.55"/>
<polygon points="46.7,61.4 57.0,71.7 48.8,76.9 40.8,67.7" fill="#080808" opacity="0.55"/>
<polygon points="55.4,64.5 47.1,69.6 47.3,74.9 55.5,69.7" fill="#4b4b4b" stroke="#646464" stroke-width="0.4"/>
<polygon points="47.1,69.6 39.2,60.5 39.3,65.7 47.3,74.9" fill="#454545" stroke="#5e5e5e" stroke-width="0.4"/>
<polygon points="45.0,54.1 55.4,64.5 47.1,69.6 39.2,60.5" fill="#767676" stroke="#b0b0b0" stroke-width="0.85" stroke-linejoin="round"/>
<polygon points="132.8,74.0 118.3,74.7 118.2,63.7 130.6,61.2" fill="#080808" opacity="0.55"/>
<polygon points="130.9,68.4 116.4,69.2 116.8,72.7 131.3,72.0" fill="#6b6b6b" stroke="#848484" stroke-width="0.4"/>
<polygon points="130.9,68.4 116.4,69.2 116.3,58.1 128.7,55.6" fill="#8a8a8a" stroke="#c4c4c4" stroke-width="0.85" stroke-linejoin="round"/>
<polygon points="127.1,65.0 118.9,65.3 118.9,61.0 125.2,59.2" fill="#8f8f8f" stroke="#b7b7b7" stroke-width="0.55"/>
<polygon points="27.3,71.9 15.1,76.9 11.2,69.2 23.2,62.7" fill="#080808" opacity="0.55"/>
<polygon points="26.5,66.7 14.4,71.7 13.6,74.9 25.8,69.9" fill="#656565" stroke="#7e7e7e" stroke-width="0.4"/>
<polygon points="14.4,71.7 10.5,64.0 9.7,67.2 13.6,74.9" fill="#585858" stroke="#717171" stroke-width="0.4"/>
<polygon points="26.5,66.7 14.4,71.7 10.5,64.0 22.5,57.5" fill="#8d8d8d" stroke="#c7c7c7" stroke-width="0.85" stroke-linejoin="round"/>
<polygon points="50.4,68.0 44.9,81.4 33.6,78.1 35.2,62.7" fill="#080808" opacity="0.55"/>
<polygon points="48.5,60.5 43.1,73.9 43.4,79.4 48.9,66.0" fill="#3d3d3d" stroke="#565656" stroke-width="0.4"/>
<polygon points="43.1,73.9 31.7,70.6 32.1,76.1 43.4,79.4" fill="#4d4d4d" stroke="#666666" stroke-width="0.4"/>
<polygon points="48.5,60.5 43.1,73.9 31.7,70.6 33.3,55.2" fill="#727272" stroke="#acacac" stroke-width="0.85" stroke-linejoin="round"/>
<polygon points="47.0,61.1 42.4,71.5 34.0,69.0 35.8,58.9" fill="#676767" stroke="#9f9f9f" stroke-width="0.55"/>
<polygon points="81.7,68.8 95.6,71.3 95.8,79.9 81.1,79.3" fill="#080808" opacity="0.55"/>
<polygon points="92.6,63.8 92.8,72.3 94.3,77.9 94.1,69.3" fill="#333333" stroke="#4c4c4c" stroke-width="0.4"/>
<polygon points="92.8,72.3 78.1,71.8 79.6,77.3 94.3,77.9" fill="#4b4b4b" stroke="#646464" stroke-width="0.4"/>
<polygon points="78.7,61.2 92.6,63.8 92.8,72.3 78.1,71.8" fill="#6a6a6a" stroke="#a4a4a4" stroke-width="0.85" stroke-linejoin="round"/>
<polygon points="115.1,72.3 111.2,82.0 101.2,78.7 107.8,68.3" fill="#080808" opacity="0.55"/>
<polygon points="113.9,63.9 110.1,73.5 109.7,80.0 113.6,70.3" fill="#515151" stroke="#6a6a6a" stroke-width="0.4"/>
<polygon points="110.1,73.5 100.0,70.3 99.7,76.7 109.7,80.0" fill="#616161" stroke="#7a7a7a" stroke-width="0.4"/>
<polygon points="113.9,63.9 110.1,73.5 100.0,70.3 106.7,59.8" fill="#868686" stroke="#c0c0c0" stroke-width="0.85" stroke-linejoin="round"/>
<polygon points="110.1,64.9 108.7,69.8 104.0,68.5 106.4,63.8" fill="#828282" stroke="#b3b3b3" stroke-width="0.55"/>
<polygon points="50.8,70.4 64.7,71.8 62.9,79.7 50.1,78.4" fill="#080808" opacity="0.55"/>
<polygon points="62.7,73.6 49.9,72.3 48.6,76.4 61.4,77.7" fill="#6e6e6e" stroke="#878787" stroke-width="0.4"/>
<polygon points="49.9,72.3 50.6,64.3 49.3,68.4 48.6,76.4" fill="#575757" stroke="#707070" stroke-width="0.4"/>
<polygon points="50.6,64.3 64.5,65.7 62.7,73.6 49.9,72.3" fill="#8e8e8e" stroke="#c8c8c8" stroke-width="0.85" stroke-linejoin="round"/>
<polygon points="53.9,67.1 60.5,67.0 60.3,71.9 54.4,70.5" fill="#949494" stroke="#bbbbbb" stroke-width="0.55"/>
<polygon points="64.7,70.2 78.8,70.6 77.0,79.1 65.8,77.2" fill="#080808" opacity="0.55"/>
<polygon points="76.8,73.7 65.6,71.8 64.3,75.2 75.5,77.1" fill="#414141" stroke="#5a5a5a" stroke-width="0.4"/>
<polygon points="65.6,71.8 64.4,64.7 63.2,68.2 64.3,75.2" fill="#2c2c2c" stroke="#454545" stroke-width="0.4"/>
<polygon points="64.4,64.7 78.6,65.2 76.8,73.7 65.6,71.8" fill="#636363" stroke="#9d9d9d" stroke-width="0.85" stroke-linejoin="round"/>
<polygon points="67.2,66.6 76.2,67.0 75.9,72.9 68.4,70.2" fill="#6c6c6c" stroke="#909090" stroke-width="0.55"/>
<polygon points="129.0,65.9 138.2,75.6 132.2,82.1 122.9,73.2" fill="#080808" opacity="0.55"/>
<polygon points="136.5,70.5 130.4,77.0 130.7,80.1 136.7,73.6" fill="#5f5f5f" stroke="#787878" stroke-width="0.4"/>
<polygon points="130.4,77.0 121.1,68.1 121.4,71.2 130.7,80.1" fill="#606060" stroke="#797979" stroke-width="0.4"/>
<polygon points="127.3,60.8 136.5,70.5 130.4,77.0 121.1,68.1" fill="#8f8f8f" stroke="#c9c9c9" stroke-width="0.85" stroke-linejoin="round"/>
<polygon points="127.3,62.4 134.0,70.6 129.4,75.3 123.4,68.8" fill="#878787" stroke="#bcbcbc" stroke-width="0.55"/>
<polygon points="111.7,68.4 116.9,79.9 109.7,82.8 105.2,72.9" fill="#080808" opacity="0.55"/>
<polygon points="115.4,74.9 108.2,77.8 108.2,80.8 115.4,77.9" fill="#4b4b4b" stroke="#646464" stroke-width="0.4"/>
<polygon points="108.2,77.8 103.7,67.9 103.7,70.9 108.2,80.8" fill="#3e3e3e" stroke="#575757" stroke-width="0.4"/>
<polygon points="110.1,63.4 115.4,74.9 108.2,77.8 103.7,67.9" fill="#727272" stroke="#acacac" stroke-width="0.85" stroke-linejoin="round"/>
<polygon points="109.9,66.0 113.4,73.5 109.0,75.2 104.8,68.8" fill="#7b7b7b" stroke="#9f9f9f" stroke-width="0.55"/>
<polygon points="148.3,71.1 152.9,81.8 148.0,86.0 142.0,74.1" fill="#080808" opacity="0.55"/>
<polygon points="151.0,76.3 146.1,80.5 146.5,84.0 151.4,79.8" fill="#666666" stroke="#7f7f7f" stroke-width="0.4"/>
<polygon points="146.1,80.5 140.1,68.6 140.5,72.1 146.5,84.0" fill="#606060" stroke="#797979" stroke-width="0.4"/>
<polygon points="146.4,65.6 151.0,76.3 146.1,80.5 140.1,68.6" fill="#949494" stroke="#cecece" stroke-width="0.85" stroke-linejoin="round"/>
<polygon points="146.8,69.4 148.2,74.5 145.8,76.0 142.5,70.7" fill="#949494" stroke="#c1c1c1" stroke-width="0.55"/>
<polygon points="14.8,74.0 8.2,88.8 1.7,83.5 6.8,73.6" fill="#080808" opacity="0.55"/>
<polygon points="13.0,67.0 6.4,81.7 6.7,86.8 13.3,72.0" fill="#3e3e3e" stroke="#575757" stroke-width="0.4"/>
<polygon points="6.4,81.7 -0.1,76.4 0.2,81.5 6.7,86.8" fill="#464646" stroke="#5f5f5f" stroke-width="0.4"/>
<polygon points="13.0,67.0 6.4,81.7 -0.1,76.4 5.0,66.5" fill="#737373" stroke="#adadad" stroke-width="0.85" stroke-linejoin="round"/>
<polygon points="10.1,69.6 6.1,78.5 2.2,75.6 6.0,68.9" fill="#797979" stroke="#a0a0a0" stroke-width="0.55"/>
<polygon points="111.8,72.9 123.8,76.8 120.2,87.1 108.8,83.8" fill="#080808" opacity="0.55"/>
<polygon points="123.0,69.3 119.4,79.6 118.7,85.1 122.3,74.8" fill="#575757" stroke="#707070" stroke-width="0.4"/>
<polygon points="119.4,79.6 108.1,76.3 107.3,81.8 118.7,85.1" fill="#686868" stroke="#818181" stroke-width="0.4"/>
<polygon points="111.1,65.4 123.0,69.3 119.4,79.6 108.1,76.3" fill="#8d8d8d" stroke="#c7c7c7" stroke-width="0.85" stroke-linejoin="round"/>
<polygon points="112.4,67.2 121.2,71.2 118.7,77.6 111.1,75.8" fill="#848484" stroke="#bababa" stroke-width="0.55"/>
<polygon points="82.9,75.9 95.9,79.4 95.7,87.3 81.9,86.1" fill="#080808" opacity="0.55"/>
<polygon points="93.4,71.4 93.2,79.2 94.2,85.3 94.4,77.4" fill="#363636" stroke="#4f4f4f" stroke-width="0.4"/>
<polygon points="93.2,79.2 79.4,78.1 80.4,84.1 94.2,85.3" fill="#4d4d4d" stroke="#666666" stroke-width="0.4"/>
<polygon points="80.4,67.8 93.4,71.4 93.2,79.2 79.4,78.1" fill="#6d6d6d" stroke="#a7a7a7" stroke-width="0.85" stroke-linejoin="round"/>
<polygon points="83.6,70.3 90.6,72.5 90.9,76.2 81.9,76.0" fill="#6f6f6f" stroke="#9a9a9a" stroke-width="0.55"/>
<polygon points="13.5,76.8 5.7,89.0 -0.5,81.7 4.9,74.1" fill="#080808" opacity="0.55"/>
<polygon points="11.4,71.4 3.6,83.5 4.2,87.0 12.0,74.8" fill="#303030" stroke="#494949" stroke-width="0.4"/>
<polygon points="3.6,83.5 -2.6,76.2 -2.0,79.7 4.2,87.0" fill="#323232" stroke="#4b4b4b" stroke-width="0.4"/>
<polygon points="11.4,71.4 3.6,83.5 -2.6,76.2 2.8,68.7" fill="#636363" stroke="#9d9d9d" stroke-width="0.85" stroke-linejoin="round"/>
<polygon points="8.8,72.0 3.7,79.9 -0.0,75.5 4.0,70.5" fill="#616161" stroke="#909090" stroke-width="0.55"/>
<polygon points="64.3,74.6 70.3,86.1 60.8,90.4 55.6,78.7" fill="#080808" opacity="0.55"/>
<polygon points="68.6,80.3 59.1,84.6 59.3,88.4 68.8,84.1" fill="#5a5a5a" stroke="#737373" stroke-width="0.4"/>
<polygon points="59.1,84.6 53.9,72.9 54.1,76.7 59.3,88.4" fill="#4e4e4e" stroke="#676767" stroke-width="0.4"/>
<polygon points="62.5,68.8 68.6,80.3 59.1,84.6 53.9,72.9" fill="#838383" stroke="#bdbdbd" stroke-width="0.85" stroke-linejoin="round"/>
<polygon points="10.0,75.8 22.5,79.7 19.0,89.0 5.3,87.8" fill="#080808" opacity="0.55"/>
<polygon points="21.2,73.8 17.7,83.0 17.5,87.0 21.0,77.7" fill="#3c3c3c" stroke="#555555" stroke-width="0.4"/>
<polygon points="17.7,83.0 4.0,81.8 3.8,85.8 17.5,87.0" fill="#525252" stroke="#6b6b6b" stroke-width="0.4"/>
<polygon points="8.7,69.8 21.2,73.8 17.7,83.0 4.0,81.8" fill="#727272" stroke="#acacac" stroke-width="0.85" stroke-linejoin="round"/>
<polygon points="10.1,73.5 18.4,75.3 15.7,79.6 8.5,78.9" fill="#6e6e6e" stroke="#9f9f9f" stroke-width="0.55"/>
<polygon points="15.2,83.3 10.4,93.0 1.4,87.5 8.3,77.9" fill="#080808" opacity="0.55"/>
<polygon points="12.3,75.2 7.6,84.8 8.9,91.0 13.7,81.3" fill="#393939" stroke="#525252" stroke-width="0.4"/>
<polygon points="7.6,84.8 -1.5,79.4 -0.1,85.5 8.9,91.0" fill="#424242" stroke="#5b5b5b" stroke-width="0.4"/>
<polygon points="12.3,75.2 7.6,84.8 -1.5,79.4 5.4,69.8" fill="#6d6d6d" stroke="#a7a7a7" stroke-width="0.85" stroke-linejoin="round"/>
<polygon points="143.0,73.8 146.5,89.9 132.9,94.2 128.8,79.2" fill="#080808" opacity="0.55"/>
<polygon points="144.4,82.6 130.8,86.9 131.4,92.2 145.0,87.9" fill="#656565" stroke="#7e7e7e" stroke-width="0.4"/>
<polygon points="130.8,86.9 126.7,71.9 127.3,77.2 131.4,92.2" fill="#545454" stroke="#6d6d6d" stroke-width="0.4"/>
<polygon points="140.9,66.6 144.4,82.6 130.8,86.9 126.7,71.9" fill="#8a8a8a" stroke="#c4c4c4" stroke-width="0.85" stroke-linejoin="round"/>
<polygon points="137.6,72.8 138.7,79.6 133.1,82.6 131.3,74.4" fill="#909090" stroke="#b7b7b7" stroke-width="0.55"/>
<polygon points="115.1,76.6 125.6,80.2 122.6,92.4 107.9,88.0" fill="#080808" opacity="0.55"/>
<polygon points="123.0,75.1 120.0,87.4 121.1,90.4 124.1,78.2" fill="#3e3e3e" stroke="#575757" stroke-width="0.4"/>
<polygon points="120.0,87.4 105.3,82.9 106.4,86.0 121.1,90.4" fill="#4f4f4f" stroke="#686868" stroke-width="0.4"/>
<polygon points="112.6,71.6 123.0,75.1 120.0,87.4 105.3,82.9" fill="#757575" stroke="#afafaf" stroke-width="0.85" stroke-linejoin="round"/>
<polygon points="113.0,74.6 119.3,75.8 118.3,83.5 109.9,80.8" fill="#727272" stroke="#a2a2a2" stroke-width="0.55"/>
<polygon points="139.0,81.3 140.7,91.9 135.0,91.2 133.7,82.4" fill="#080808" opacity="0.55"/>
<polygon points="136.5,74.7 138.2,85.3 139.2,89.9 137.5,79.3" fill="#434343" stroke="#5c5c5c" stroke-width="0.4"/>
<polygon points="138.2,85.3 132.5,84.6 133.5,89.2 139.2,89.9" fill="#595959" stroke="#727272" stroke-width="0.4"/>
<polygon points="136.5,74.7 138.2,85.3 132.5,84.6 131.2,75.8" fill="#7a7a7a" stroke="#b4b4b4" stroke-width="0.85" stroke-linejoin="round"/>
<polygon points="46.7,81.3 57.3,85.8 54.7,95.2 44.7,89.0" fill="#080808" opacity="0.55"/>
<polygon points="55.2,78.2 52.5,87.6 53.2,93.2 55.8,83.8" fill="#545454" stroke="#6d6d6d" stroke-width="0.4"/>
<polygon points="52.5,87.6 42.6,81.5 43.2,87.0 53.2,93.2" fill="#5e5e5e" stroke="#777777" stroke-width="0.4"/>
<polygon points="44.5,73.8 55.2,78.2 52.5,87.6 42.6,81.5" fill="#8a8a8a" stroke="#c4c4c4" stroke-width="0.85" stroke-linejoin="round"/>
<polygon points="45.7,75.9 51.9,79.8 50.9,84.3 45.8,81.6" fill="#929292" stroke="#b7b7b7" stroke-width="0.55"/>
<polygon points="54.9,89.9 42.7,94.2 39.4,84.2 52.5,79.0" fill="#080808" opacity="0.55"/>
<polygon points="52.7,83.9 40.5,88.2 41.2,92.2 53.4,87.9" fill="#4a4a4a" stroke="#636363" stroke-width="0.4"/>
<polygon points="40.5,88.2 37.2,78.1 37.9,82.2 41.2,92.2" fill="#3a3a3a" stroke="#535353" stroke-width="0.4"/>
<polygon points="52.7,83.9 40.5,88.2 37.2,78.1 50.2,72.9" fill="#707070" stroke="#aaaaaa" stroke-width="0.85" stroke-linejoin="round"/>
<polygon points="58.5,83.7 57.3,93.7 50.1,93.3 49.3,82.8" fill="#080808" opacity="0.55"/>
<polygon points="57.0,87.9 49.8,87.5 48.6,91.3 55.8,91.7" fill="#515151" stroke="#6a6a6a" stroke-width="0.4"/>
<polygon points="49.8,87.5 49.0,77.0 47.8,80.8 48.6,91.3" fill="#3a3a3a" stroke="#535353" stroke-width="0.4"/>
<polygon points="58.2,77.9 57.0,87.9 49.8,87.5 49.0,77.0" fill="#707070" stroke="#aaaaaa" stroke-width="0.85" stroke-linejoin="round"/>
<polygon points="90.6,95.3 81.6,95.6 80.3,88.2 91.1,85.5" fill="#080808" opacity="0.55"/>
<polygon points="89.5,88.2 80.5,88.5 80.1,93.6 89.1,93.3" fill="#505050" stroke="#696969" stroke-width="0.4"/>
<polygon points="80.5,88.5 79.2,81.1 78.8,86.2 80.1,93.6" fill="#383838" stroke="#515151" stroke-width="0.4"/>
<polygon points="89.5,88.2 80.5,88.5 79.2,81.1 90.0,78.4" fill="#6e6e6e" stroke="#a8a8a8" stroke-width="0.85" stroke-linejoin="round"/>
<polygon points="86.8,87.0 82.3,87.3 81.6,82.2 87.8,80.4" fill="#787878" stroke="#9b9b9b" stroke-width="0.55"/>
<polygon points="124.1,84.1 132.2,96.2 124.8,103.0 116.9,87.5" fill="#080808" opacity="0.55"/>
<polygon points="130.2,88.4 122.8,95.2 123.3,101.0 130.7,94.2" fill="#5b5b5b" stroke="#747474" stroke-width="0.4"/>
<polygon points="122.8,95.2 115.0,79.7 115.4,85.5 123.3,101.0" fill="#555555" stroke="#6e6e6e" stroke-width="0.4"/>
<polygon points="122.1,76.3 130.2,88.4 122.8,95.2 115.0,79.7" fill="#8a8a8a" stroke="#c4c4c4" stroke-width="0.85" stroke-linejoin="round"/>
<polygon points="94.4,87.9 106.0,87.7 107.0,99.3 92.3,98.1" fill="#080808" opacity="0.55"/>
<polygon points="104.0,81.3 105.0,92.8 105.5,97.3 104.5,85.7" fill="#4e4e4e" stroke="#676767" stroke-width="0.4"/>
<polygon points="105.0,92.8 90.3,91.6 90.8,96.1 105.5,97.3" fill="#656565" stroke="#7e7e7e" stroke-width="0.4"/>
<polygon points="92.4,81.5 104.0,81.3 105.0,92.8 90.3,91.6" fill="#858585" stroke="#bfbfbf" stroke-width="0.85" stroke-linejoin="round"/>
<polygon points="94.9,84.3 100.1,83.0 102.0,89.7 94.3,88.0" fill="#7b7b7b" stroke="#b2b2b2" stroke-width="0.55"/>
<polygon points="33.7,89.7 30.1,101.5 20.4,96.7 22.5,86.2" fill="#080808" opacity="0.55"/>
<polygon points="32.4,84.0 28.9,95.7 28.6,99.5 32.2,87.7" fill="#5a5a5a" stroke="#737373" stroke-width="0.4"/>
<polygon points="28.9,95.7 19.1,91.0 18.9,94.7 28.6,99.5" fill="#676767" stroke="#808080" stroke-width="0.4"/>
<polygon points="32.4,84.0 28.9,95.7 19.1,91.0 21.2,80.4" fill="#909090" stroke="#cacaca" stroke-width="0.85" stroke-linejoin="round"/>
<polygon points="30.6,85.4 27.8,94.1 20.1,90.6 21.8,82.6" fill="#888888" stroke="#bdbdbd" stroke-width="0.55"/>
<polygon points="33.9,88.5 38.7,98.5 32.1,103.4 26.1,91.7" fill="#080808" opacity="0.55"/>
<polygon points="37.6,91.7 30.9,96.5 30.6,101.4 37.2,96.5" fill="#4f4f4f" stroke="#686868" stroke-width="0.4"/>
<polygon points="30.9,96.5 24.9,84.9 24.6,89.7 30.6,101.4" fill="#484848" stroke="#616161" stroke-width="0.4"/>
<polygon points="32.8,81.7 37.6,91.7 30.9,96.5 24.9,84.9" fill="#7c7c7c" stroke="#b6b6b6" stroke-width="0.85" stroke-linejoin="round"/>
<polygon points="32.8,84.7 34.3,89.0 32.0,92.2 28.6,86.1" fill="#7e7e7e" stroke="#a9a9a9" stroke-width="0.55"/>
<polygon points="78.6,97.6 64.4,103.7 60.0,91.2 74.5,86.9" fill="#080808" opacity="0.55"/>
<polygon points="77.9,90.9 63.7,97.0 62.9,101.7 77.1,95.6" fill="#4c4c4c" stroke="#656565" stroke-width="0.4"/>
<polygon points="63.7,97.0 59.3,84.5 58.5,89.2 62.9,101.7" fill="#3e3e3e" stroke="#575757" stroke-width="0.4"/>
<polygon points="77.9,90.9 63.7,97.0 59.3,84.5 73.8,80.2" fill="#747474" stroke="#aeaeae" stroke-width="0.85" stroke-linejoin="round"/>
<polygon points="74.3,89.9 67.0,91.7 64.7,85.7 70.8,84.2" fill="#757575" stroke="#a1a1a1" stroke-width="0.55"/>
<polygon points="143.3,94.7 141.6,102.9 133.1,101.9 133.9,90.0" fill="#080808" opacity="0.55"/>
<polygon points="141.2,86.4 139.6,94.7 140.1,100.9 141.8,92.7" fill="#585858" stroke="#717171" stroke-width="0.4"/>
<polygon points="139.6,94.7 131.0,93.7 131.6,99.9 140.1,100.9" fill="#6e6e6e" stroke="#878787" stroke-width="0.4"/>
<polygon points="141.2,86.4 139.6,94.7 131.0,93.7 131.9,81.8" fill="#8e8e8e" stroke="#c8c8c8" stroke-width="0.85" stroke-linejoin="round"/>
<polygon points="138.6,87.0 137.6,91.7 132.8,91.4 132.9,84.2" fill="#8e8e8e" stroke="#bbbbbb" stroke-width="0.55"/>
<polygon points="72.6,97.8 58.6,105.6 54.7,94.4 66.2,90.1" fill="#080808" opacity="0.55"/>
<polygon points="71.0,90.7 57.0,98.4 57.1,103.6 71.1,95.8" fill="#626262" stroke="#7b7b7b" stroke-width="0.4"/>
<polygon points="57.0,98.4 53.1,87.3 53.2,92.4 57.1,103.6" fill="#565656" stroke="#6f6f6f" stroke-width="0.4"/>
<polygon points="71.0,90.7 57.0,98.4 53.1,87.3 64.5,83.0" fill="#8c8c8c" stroke="#c6c6c6" stroke-width="0.85" stroke-linejoin="round"/>
<polygon points="67.4,90.2 58.0,96.0 56.5,87.9 63.6,84.7" fill="#858585" stroke="#b9b9b9" stroke-width="0.55"/>
<polygon points="23.5,98.5 8.1,102.7 6.9,92.5 21.5,88.9" fill="#080808" opacity="0.55"/>
<polygon points="20.8,93.2 5.4,97.5 6.6,100.7 22.0,96.5" fill="#5b5b5b" stroke="#747474" stroke-width="0.4"/>
<polygon points="18.8,83.7 20.8,93.2 22.0,96.5 20.0,86.9" fill="#494949" stroke="#626262" stroke-width="0.4"/>
<polygon points="20.8,93.2 5.4,97.5 4.1,87.2 18.8,83.7" fill="#808080" stroke="#bababa" stroke-width="0.85" stroke-linejoin="round"/>
<polygon points="16.9,92.2 10.1,93.9 9.7,88.5 15.0,86.9" fill="#787878" stroke="#adadad" stroke-width="0.55"/>
<polygon points="95.0,89.8 95.0,104.5 87.1,104.6 84.3,90.6" fill="#080808" opacity="0.55"/>
<polygon points="93.8,97.1 85.8,97.1 85.6,102.6 93.5,102.5" fill="#464646" stroke="#5f5f5f" stroke-width="0.4"/>
<polygon points="85.8,97.1 83.1,83.1 82.8,88.6 85.6,102.6" fill="#2e2e2e" stroke="#474747" stroke-width="0.4"/>
<polygon points="93.7,82.4 93.8,97.1 85.8,97.1 83.1,83.1" fill="#646464" stroke="#9e9e9e" stroke-width="0.85" stroke-linejoin="round"/>
<polygon points="93.0,86.0 93.1,95.6 87.6,95.7 84.1,85.5" fill="#656565" stroke="#919191" stroke-width="0.55"/>
<polygon points="52.1,90.5 44.4,106.4 36.4,99.7 38.3,89.0" fill="#080808" opacity="0.55"/>
<polygon points="50.5,85.2 42.9,101.1 42.9,104.4 50.6,88.5" fill="#5c5c5c" stroke="#757575" stroke-width="0.4"/>
<polygon points="42.9,101.1 34.8,94.4 34.9,97.7 42.9,104.4" fill="#636363" stroke="#7c7c7c" stroke-width="0.4"/>
<polygon points="50.5,85.2 42.9,101.1 34.8,94.4 36.8,83.7" fill="#909090" stroke="#cacaca" stroke-width="0.85" stroke-linejoin="round"/>
<polygon points="47.0,88.1 42.8,96.2 36.5,93.8 39.5,87.4" fill="#8d8d8d" stroke="#bdbdbd" stroke-width="0.55"/>
<polygon points="38.5,93.0 51.0,93.9 49.2,104.0 37.0,101.0" fill="#080808" opacity="0.55"/>
<polygon points="49.3,88.0 47.4,98.0 47.7,102.0 49.5,91.9" fill="#505050" stroke="#696969" stroke-width="0.4"/>
<polygon points="47.4,98.0 35.2,95.1 35.5,99.0 47.7,102.0" fill="#636363" stroke="#7c7c7c" stroke-width="0.4"/>
<polygon points="36.8,87.1 49.3,88.0 47.4,98.0 35.2,95.1" fill="#878787" stroke="#c1c1c1" stroke-width="0.85" stroke-linejoin="round"/>
<polygon points="39.7,88.8 46.0,90.0 44.9,95.7 37.7,94.7" fill="#7f7f7f" stroke="#b4b4b4" stroke-width="0.55"/>
<polygon points="27.2,91.4 33.7,101.7 25.1,106.4 21.7,96.4" fill="#080808" opacity="0.55"/>
<polygon points="31.3,94.4 22.7,99.0 23.6,104.4 32.2,99.7" fill="#5a5a5a" stroke="#737373" stroke-width="0.4"/>
<polygon points="22.7,99.0 19.3,89.1 20.2,94.4 23.6,104.4" fill="#4e4e4e" stroke="#676767" stroke-width="0.4"/>
<polygon points="24.8,84.1 31.3,94.4 22.7,99.0 19.3,89.1" fill="#848484" stroke="#bebebe" stroke-width="0.85" stroke-linejoin="round"/>
<polygon points="25.6,86.1 28.6,94.4 23.6,96.9 21.2,89.8" fill="#7e7e7e" stroke="#b1b1b1" stroke-width="0.55"/>
<polygon points="77.2,90.0 79.9,103.8 66.0,107.0 67.4,93.7" fill="#080808" opacity="0.55"/>
<polygon points="78.4,98.7 64.5,102.0 64.5,105.0 78.4,101.8" fill="#666666" stroke="#7f7f7f" stroke-width="0.4"/>
<polygon points="75.7,85.0 78.4,98.7 64.5,102.0 65.9,88.6" fill="#8a8a8a" stroke="#c4c4c4" stroke-width="0.85" stroke-linejoin="round"/>
<polygon points="73.6,87.7 77.2,96.7 65.5,100.1 68.0,90.4" fill="#929292" stroke="#b7b7b7" stroke-width="0.55"/>
<polygon points="57.7,95.3 69.1,99.8 66.1,107.9 55.4,104.5" fill="#080808" opacity="0.55"/>
<polygon points="68.9,91.5 65.9,99.6 64.6,105.9 67.6,97.8" fill="#333333" stroke="#4c4c4c" stroke-width="0.4"/>
<polygon points="65.9,99.6 55.2,96.2 53.9,102.5 64.6,105.9" fill="#434343" stroke="#5c5c5c" stroke-width="0.4"/>
<polygon points="57.5,87.0 68.9,91.5 65.9,99.6 55.2,96.2" fill="#696969" stroke="#a3a3a3" stroke-width="0.85" stroke-linejoin="round"/>
<polygon points="59.3,90.2 66.1,91.8 64.1,97.4 58.1,96.4" fill="#686868" stroke="#969696" stroke-width="0.55"/>
<polygon points="137.7,100.1 136.6,110.4 126.8,110.2 131.7,96.6" fill="#080808" opacity="0.55"/>
<polygon points="134.7,92.3 133.6,102.6 135.1,108.4 136.2,98.1" fill="#333333" stroke="#4c4c4c" stroke-width="0.4"/>
<polygon points="133.6,102.6 123.9,102.5 125.3,108.2 135.1,108.4" fill="#4c4c4c" stroke="#656565" stroke-width="0.4"/>
<polygon points="134.7,92.3 133.6,102.6 123.9,102.5 128.7,88.8" fill="#6a6a6a" stroke="#a4a4a4" stroke-width="0.85" stroke-linejoin="round"/>
<polygon points="116.1,97.8 129.4,104.8 125.2,111.4 112.9,103.9" fill="#080808" opacity="0.55"/>
<polygon points="128.8,97.2 124.6,103.8 123.7,109.4 127.9,102.8" fill="#303030" stroke="#494949" stroke-width="0.4"/>
<polygon points="124.6,103.8 112.3,96.3 111.4,101.9 123.7,109.4" fill="#383838" stroke="#515151" stroke-width="0.4"/>
<polygon points="115.5,90.3 128.8,97.2 124.6,103.8 112.3,96.3" fill="#636363" stroke="#9d9d9d" stroke-width="0.85" stroke-linejoin="round"/>
<polygon points="117.7,94.4 124.1,97.3 122.7,100.1 116.4,97.7" fill="#646464" stroke="#909090" stroke-width="0.55"/>
<polygon points="72.4,102.1 73.8,112.3 62.8,116.1 60.6,101.1" fill="#080808" opacity="0.55"/>
<polygon points="73.1,104.1 62.1,107.9 61.3,114.1 72.3,110.3" fill="#464646" stroke="#5f5f5f" stroke-width="0.4"/>
<polygon points="62.1,107.9 59.9,92.9 59.1,99.1 61.3,114.1" fill="#363636" stroke="#4f4f4f" stroke-width="0.4"/>
<polygon points="71.7,93.9 73.1,104.1 62.1,107.9 59.9,92.9" fill="#6c6c6c" stroke="#a6a6a6" stroke-width="0.85" stroke-linejoin="round"/>
<polygon points="8.4,99.0 18.0,104.9 14.8,113.0 3.0,105.9" fill="#080808" opacity="0.55"/>
<polygon points="17.7,98.9 14.5,107.0 13.3,111.0 16.5,102.9" fill="#5c5c5c" stroke="#757575" stroke-width="0.4"/>
<polygon points="14.5,107.0 2.7,100.0 1.5,103.9 13.3,111.0" fill="#666666" stroke="#7f7f7f" stroke-width="0.4"/>
<polygon points="8.1,93.0 17.7,98.9 14.5,107.0 2.7,100.0" fill="#919191" stroke="#cbcbcb" stroke-width="0.85" stroke-linejoin="round"/>
<polygon points="9.3,96.6 14.2,98.7 12.5,103.8 6.6,101.0" fill="#8c8c8c" stroke="#bebebe" stroke-width="0.55"/>
<polygon points="108.4,109.4 99.0,115.4 94.5,110.6 104.5,101.7" fill="#080808" opacity="0.55"/>
<polygon points="106.1,101.5 96.6,107.5 97.5,113.4 106.9,107.4" fill="#3b3b3b" stroke="#545454" stroke-width="0.4"/>
<polygon points="96.6,107.5 92.1,102.7 93.0,108.6 97.5,113.4" fill="#363636" stroke="#4f4f4f" stroke-width="0.4"/>
<polygon points="106.1,101.5 96.6,107.5 92.1,102.7 102.1,93.7" fill="#676767" stroke="#a1a1a1" stroke-width="0.85" stroke-linejoin="round"/>
<polygon points="104.1,101.0 96.8,104.9 94.9,102.7 102.3,96.7" fill="#6a6a6a" stroke="#949494" stroke-width="0.55"/>
<polygon points="159.5,110.1 149.2,117.7 140.9,108.4 154.0,100.9" fill="#080808" opacity="0.55"/>
<polygon points="157.0,104.5 146.8,112.1 147.7,115.7 158.0,108.1" fill="#5c5c5c" stroke="#757575" stroke-width="0.4"/>
<polygon points="146.8,112.1 138.4,102.8 139.4,106.4 147.7,115.7" fill="#585858" stroke="#717171" stroke-width="0.4"/>
<polygon points="157.0,104.5 146.8,112.1 138.4,102.8 151.5,95.3" fill="#898989" stroke="#c3c3c3" stroke-width="0.85" stroke-linejoin="round"/>
<polygon points="64.2,102.6 77.3,106.9 76.5,120.5 60.8,114.6" fill="#080808" opacity="0.55"/>
<polygon points="74.3,101.5 73.6,115.1 75.0,118.5 75.8,104.9" fill="#4a4a4a" stroke="#636363" stroke-width="0.4"/>
<polygon points="73.6,115.1 57.9,109.2 59.3,112.6 75.0,118.5" fill="#5a5a5a" stroke="#737373" stroke-width="0.4"/>
<polygon points="61.3,97.2 74.3,101.5 73.6,115.1 57.9,109.2" fill="#818181" stroke="#bbbbbb" stroke-width="0.85" stroke-linejoin="round"/>
<polygon points="130.4,116.8 121.2,122.8 114.5,114.7 121.7,110.3" fill="#080808" opacity="0.55"/>
<polygon points="128.7,108.7 119.5,114.8 119.7,120.8 128.9,114.8" fill="#5c5c5c" stroke="#757575" stroke-width="0.4"/>
<polygon points="119.5,114.8 112.8,106.6 113.0,112.7 119.7,120.8" fill="#565656" stroke="#6f6f6f" stroke-width="0.4"/>
<polygon points="128.7,108.7 119.5,114.8 112.8,106.6 120.0,102.2" fill="#888888" stroke="#c2c2c2" stroke-width="0.85" stroke-linejoin="round"/>
<polygon points="126.3,108.9 119.8,112.1 115.0,106.6 120.4,104.7" fill="#909090" stroke="#b5b5b5" stroke-width="0.55"/>
<polygon points="102.6,121.8 89.0,123.5 86.6,113.5 96.6,111.5" fill="#080808" opacity="0.55"/>
<polygon points="100.7,113.5 87.2,115.2 87.5,121.5 101.1,119.8" fill="#494949" stroke="#626262" stroke-width="0.4"/>
<polygon points="87.2,115.2 84.7,105.2 85.1,111.5 87.5,121.5" fill="#343434" stroke="#4d4d4d" stroke-width="0.4"/>
<polygon points="100.7,113.5 87.2,115.2 84.7,105.2 94.7,103.1" fill="#6a6a6a" stroke="#a4a4a4" stroke-width="0.85" stroke-linejoin="round"/>
<polygon points="97.6,111.1 88.5,112.8 87.2,106.4 92.7,104.6" fill="#666666" stroke="#979797" stroke-width="0.55"/>
<polygon points="78.4,114.3 71.7,124.5 62.4,120.4 67.6,108.1" fill="#080808" opacity="0.55"/>
<polygon points="77.7,107.9 71.0,118.1 70.2,122.5 76.9,112.3" fill="#3e3e3e" stroke="#575757" stroke-width="0.4"/>
<polygon points="71.0,118.1 61.7,114.0 60.9,118.4 70.2,122.5" fill="#494949" stroke="#626262" stroke-width="0.4"/>
<polygon points="77.7,107.9 71.0,118.1 61.7,114.0 66.9,101.6" fill="#717171" stroke="#ababab" stroke-width="0.85" stroke-linejoin="round"/>
<polygon points="37.1,109.5 33.2,126.3 23.0,125.5 26.5,108.9" fill="#080808" opacity="0.55"/>
<polygon points="36.6,102.6 32.6,119.5 31.7,124.3 35.6,107.5" fill="#5e5e5e" stroke="#777777" stroke-width="0.4"/>
<polygon points="32.6,119.5 22.5,118.7 21.5,123.5 31.7,124.3" fill="#747474" stroke="#8d8d8d" stroke-width="0.4"/>
<polygon points="36.6,102.6 32.6,119.5 22.5,118.7 25.9,102.1" fill="#949494" stroke="#cecece" stroke-width="0.85" stroke-linejoin="round"/>
<polygon points="133.2,110.6 132.2,121.8 121.2,125.3 119.9,109.8" fill="#080808" opacity="0.55"/>
<polygon points="131.8,105.2 130.8,116.4 130.7,119.8 131.7,108.6" fill="#3c3c3c" stroke="#555555" stroke-width="0.4"/>
<polygon points="130.8,116.4 119.8,120.0 119.7,123.3 130.7,119.8" fill="#4d4d4d" stroke="#666666" stroke-width="0.4"/>
<polygon points="119.8,120.0 118.5,104.4 118.4,107.8 119.7,123.3" fill="#3c3c3c" stroke="#555555" stroke-width="0.4"/>
<polygon points="131.8,105.2 130.8,116.4 119.8,120.0 118.5,104.4" fill="#727272" stroke="#acacac" stroke-width="0.85" stroke-linejoin="round"/>
<polygon points="129.9,107.5 129.1,115.0 122.2,115.9 121.5,106.4" fill="#686868" stroke="#9f9f9f" stroke-width="0.55"/>
<polygon points="100.7,114.4 111.7,116.5 109.4,125.4 96.2,120.3" fill="#080808" opacity="0.55"/>
<polygon points="111.4,109.9 109.1,118.7 107.9,123.4 110.2,114.5" fill="#3a3a3a" stroke="#535353" stroke-width="0.4"/>
<polygon points="109.1,118.7 95.9,113.6 94.7,118.3 107.9,123.4" fill="#494949" stroke="#626262" stroke-width="0.4"/>
<polygon points="100.4,107.8 111.4,109.9 109.1,118.7 95.9,113.6" fill="#707070" stroke="#aaaaaa" stroke-width="0.85" stroke-linejoin="round"/>
<polygon points="101.5,108.8 109.1,111.2 107.2,117.3 98.8,113.0" fill="#6c6c6c" stroke="#9d9d9d" stroke-width="0.55"/>
<polygon points="50.9,110.7 56.9,122.6 48.8,126.2 43.3,117.6" fill="#080808" opacity="0.55"/>
<polygon points="56.0,116.2 47.9,119.8 47.3,124.2 55.4,120.6" fill="#565656" stroke="#6f6f6f" stroke-width="0.4"/>
<polygon points="47.9,119.8 42.4,111.2 41.8,115.6 47.3,124.2" fill="#4b4b4b" stroke="#646464" stroke-width="0.4"/>
<polygon points="50.0,104.2 56.0,116.2 47.9,119.8 42.4,111.2" fill="#7e7e7e" stroke="#b8b8b8" stroke-width="0.85" stroke-linejoin="round"/>
<polygon points="157.1,121.3 147.8,130.3 139.6,123.6 149.2,115.2" fill="#080808" opacity="0.55"/>
<polygon points="154.2,113.8 145.0,122.8 146.3,128.3 155.6,119.3" fill="#3b3b3b" stroke="#545454" stroke-width="0.4"/>
<polygon points="145.0,122.8 136.8,116.0 138.1,121.6 146.3,128.3" fill="#3c3c3c" stroke="#555555" stroke-width="0.4"/>
<polygon points="154.2,113.8 145.0,122.8 136.8,116.0 146.3,107.7" fill="#6a6a6a" stroke="#a4a4a4" stroke-width="0.85" stroke-linejoin="round"/>
<polygon points="150.4,113.8 145.8,119.4 140.0,114.9 145.9,110.9" fill="#636363" stroke="#979797" stroke-width="0.55"/>
<polygon points="99.3,117.0 95.9,132.1 86.0,128.0 90.4,114.0" fill="#080808" opacity="0.55"/>
<polygon points="98.1,109.1 94.7,124.1 94.4,130.1 97.8,115.0" fill="#535353" stroke="#6c6c6c" stroke-width="0.4"/>
<polygon points="94.7,124.1 84.8,120.1 84.5,126.0 94.4,130.1" fill="#626262" stroke="#7b7b7b" stroke-width="0.4"/>
<polygon points="98.1,109.1 94.7,124.1 84.8,120.1 89.2,106.1" fill="#8a8a8a" stroke="#c4c4c4" stroke-width="0.85" stroke-linejoin="round"/>
<polygon points="95.6,111.0 93.4,122.2 87.3,118.2 89.8,108.3" fill="#898989" stroke="#b7b7b7" stroke-width="0.55"/>
<polygon points="12.1,122.1 2.3,126.7 -0.9,119.9 9.6,116.2" fill="#080808" opacity="0.55"/>
<polygon points="9.7,116.1 -0.1,120.7 0.8,124.7 10.6,120.1" fill="#585858" stroke="#717171" stroke-width="0.4"/>
<polygon points="-0.1,120.7 -3.3,113.9 -2.4,117.9 0.8,124.7" fill="#4c4c4c" stroke="#656565" stroke-width="0.4"/>
<polygon points="9.7,116.1 -0.1,120.7 -3.3,113.9 7.2,110.2" fill="#808080" stroke="#bababa" stroke-width="0.85" stroke-linejoin="round"/>
<polygon points="6.7,115.3 1.3,119.2 -0.6,113.9 5.5,111.4" fill="#808080" stroke="#adadad" stroke-width="0.55"/>
<polygon points="127.8,117.4 120.6,125.9 113.7,124.6 120.6,113.9" fill="#080808" opacity="0.55"/>
<polygon points="125.2,111.3 117.9,119.8 119.1,123.9 126.3,115.4" fill="#303030" stroke="#494949" stroke-width="0.4"/>
<polygon points="117.9,119.8 111.1,118.5 112.2,122.6 119.1,123.9" fill="#3f3f3f" stroke="#585858" stroke-width="0.4"/>
<polygon points="125.2,111.3 117.9,119.8 111.1,118.5 118.0,107.9" fill="#616161" stroke="#9b9b9b" stroke-width="0.85" stroke-linejoin="round"/>
<polygon points="121.8,113.2 118.7,117.5 113.9,117.6 117.7,111.0" fill="#5a5a5a" stroke="#8e8e8e" stroke-width="0.55"/>
<polygon points="32.0,114.5 31.9,128.4 22.7,131.1 20.9,116.8" fill="#080808" opacity="0.55"/>
<polygon points="30.1,107.5 30.0,121.4 30.4,126.4 30.5,112.5" fill="#525252" stroke="#6b6b6b" stroke-width="0.4"/>
<polygon points="30.0,121.4 20.8,124.1 21.2,129.1 30.4,126.4" fill="#646464" stroke="#7d7d7d" stroke-width="0.4"/>
<polygon points="20.8,124.1 19.1,109.8 19.4,114.8 21.2,129.1" fill="#525252" stroke="#6b6b6b" stroke-width="0.4"/>
<polygon points="30.1,107.5 30.0,121.4 20.8,124.1 19.1,109.8" fill="#898989" stroke="#c3c3c3" stroke-width="0.85" stroke-linejoin="round"/>
<polygon points="29.5,110.2 27.9,119.3 22.6,120.9 21.7,112.3" fill="#828282" stroke="#b6b6b6" stroke-width="0.55"/>
<polygon points="67.9,121.5 59.3,129.5 51.2,125.0 61.9,116.4" fill="#080808" opacity="0.55"/>
<polygon points="67.7,114.0 59.1,122.0 57.8,127.5 66.4,119.5" fill="#2c2c2c" stroke="#454545" stroke-width="0.4"/>
<polygon points="59.1,122.0 51.0,117.6 49.7,123.0 57.8,127.5" fill="#313131" stroke="#4a4a4a" stroke-width="0.4"/>
<polygon points="67.7,114.0 59.1,122.0 51.0,117.6 61.7,109.0" fill="#5b5b5b" stroke="#959595" stroke-width="0.85" stroke-linejoin="round"/>
</g></g>
<text x="12.5" y="22.3" font-size="17" font-weight="bold" fill="#fff" dominant-baseline="central" stroke="#666" stroke-width="0.5" paint-order="stroke">(a)</text>
<rect x="8.0" y="100.5" width="56.0" height="5.8" fill="#e6e6e6" stroke="#999" stroke-width="0.3"/>
<line x1="25.0" y1="100.5" x2="25.0" y2="106.3" stroke="#777" stroke-width="0.3"/>
<line x1="45.0" y1="100.5" x2="45.0" y2="106.3" stroke="#777" stroke-width="0.3"/>
<text x="9" y="102.5" font-size="2" fill="#333" dominant-baseline="central">Detector</text>
<text x="26" y="103.5" font-size="2.6" fill="#333" dominant-baseline="central">Mag = 3.00 K X</text>
<text x="46" y="102.5" font-size="2" fill="#333" dominant-baseline="central">WD = 8.5 mm</text>
<text x="46" y="104.8" font-size="2" fill="#333" dominant-baseline="central">EHT = 5.00 kV</text>
<rect x="93.2" y="42.2" width="45.4" height="65.3" fill="#fff" stroke="none" stroke-width="0.8"/>
<rect x="94.9" y="43.2" width="38.3" height="53.5" fill="none" stroke="#333" stroke-width="0.5"/>
<text x="114.4" y="46.5" font-size="4.5" text-anchor="middle" dominant-baseline="central" fill="#222">Mean = 9.02 μm</text>
<rect x="101.1" y="83.1" width="3.1" height="12.1" fill="#f07272" stroke="#b03030" stroke-width="0.35"/>
<rect x="104.3" y="88.2" width="3.1" height="7.0" fill="#f07272" stroke="#b03030" stroke-width="0.35"/>
<rect x="107.4" y="78.1" width="3.3" height="17.1" fill="#f07272" stroke="#b03030" stroke-width="0.35"/>
<rect x="110.7" y="64.4" width="2.8" height="30.8" fill="#f07272" stroke="#b03030" stroke-width="0.35"/>
<rect x="113.4" y="51.5" width="2.8" height="43.7" fill="#f07272" stroke="#b03030" stroke-width="0.35"/>
<rect x="116.2" y="57.9" width="2.8" height="37.2" fill="#f07272" stroke="#b03030" stroke-width="0.35"/>
<rect x="118.9" y="70.8" width="2.8" height="24.4" fill="#f07272" stroke="#b03030" stroke-width="0.35"/>
<rect x="121.7" y="88.2" width="3.3" height="7.0" fill="#f07272" stroke="#b03030" stroke-width="0.35"/>
<path d="M95.1,95.5 C95.3,95.5 96.1,95.5 96.6,95.5 C97.1,95.5 97.6,95.5 98.1,95.5 C98.6,95.5 99.1,95.4 99.6,95.4 C100.1,95.3 100.6,95.2 101.1,95.0 C101.6,94.8 102.0,94.6 102.5,94.2 C103.0,93.8 103.5,93.4 104.0,92.6 C104.5,91.8 105.0,90.9 105.5,89.6 C106.0,88.3 106.5,86.7 107.0,84.7 C107.5,82.8 108.0,80.4 108.5,77.8 C109.0,75.3 109.5,72.2 110.0,69.4 C110.5,66.6 111.0,63.4 111.5,60.9 C112.0,58.4 112.5,55.9 113.0,54.2 C113.5,52.6 114.0,51.5 114.5,51.2 C115.0,51.0 115.5,51.5 116.0,52.7 C116.5,53.9 117.0,56.1 117.5,58.4 C118.0,60.6 118.4,63.7 118.9,66.5 C119.4,69.3 119.9,72.4 120.4,75.1 C120.9,77.8 121.4,80.4 121.9,82.6 C122.4,84.8 122.9,86.6 123.4,88.2 C123.9,89.7 124.4,90.8 124.9,91.8 C125.4,92.7 125.9,93.3 126.4,93.8 C126.9,94.3 127.4,94.6 127.9,94.8 C128.4,95.1 128.9,95.2 129.4,95.3 C129.9,95.4 130.6,95.4 130.9,95.5" stroke="#222" stroke-width="0.55" fill="none" stroke-linejoin="round" stroke-linecap="round"/>
<line x1="94.9" y1="95.2" x2="133.2" y2="95.2" stroke="#333" stroke-width="0.35"/>
<text x="96.4" y="100.9" font-size="3.8" text-anchor="middle" dominant-baseline="central" fill="#222">6</text>
<line x1="96.4" y1="96.7" x2="96.4" y2="95.5" stroke="#333" stroke-width="0.4"/>
<text x="107.0" y="100.9" font-size="3.8" text-anchor="middle" dominant-baseline="central" fill="#222">8</text>
<line x1="107.0" y1="96.7" x2="107.0" y2="95.5" stroke="#333" stroke-width="0.4"/>
<text x="118.6" y="100.9" font-size="3.8" text-anchor="middle" dominant-baseline="central" fill="#222">10</text>
<line x1="118.6" y1="96.7" x2="118.6" y2="95.5" stroke="#333" stroke-width="0.4"/>
<text x="130.0" y="100.9" font-size="3.8" text-anchor="middle" dominant-baseline="central" fill="#222">12</text>
<line x1="130.0" y1="96.7" x2="130.0" y2="95.5" stroke="#333" stroke-width="0.4"/>
<text x="134.1" y="45.6" font-size="3.7" text-anchor="start" dominant-baseline="central" fill="#222">20</text>
<line x1="133.2" y1="45.6" x2="132.0" y2="45.6" stroke="#333" stroke-width="0.4"/>
<text x="134.1" y="55.6" font-size="3.7" text-anchor="start" dominant-baseline="central" fill="#222">16</text>
<line x1="133.2" y1="55.6" x2="132.0" y2="55.6" stroke="#333" stroke-width="0.4"/>
<text x="134.1" y="65.3" font-size="3.7" text-anchor="start" dominant-baseline="central" fill="#222">12</text>
<line x1="133.2" y1="65.3" x2="132.0" y2="65.3" stroke="#333" stroke-width="0.4"/>
<text x="134.1" y="75.4" font-size="3.7" text-anchor="start" dominant-baseline="central" fill="#222">8</text>
<line x1="133.2" y1="75.4" x2="132.0" y2="75.4" stroke="#333" stroke-width="0.4"/>
<text x="134.1" y="84.9" font-size="3.7" text-anchor="start" dominant-baseline="central" fill="#222">4</text>
<line x1="133.2" y1="84.9" x2="132.0" y2="84.9" stroke="#333" stroke-width="0.4"/>
<text x="134.1" y="94.6" font-size="3.7" text-anchor="start" dominant-baseline="central" fill="#222">0</text>
<line x1="133.2" y1="94.6" x2="132.0" y2="94.6" stroke="#333" stroke-width="0.4"/>
<text x="114.4" y="104.8" font-size="4.5" text-anchor="middle" dominant-baseline="central" fill="#222">Grain Size (μm)</text>
<text x="127.2" y="70.2" font-size="4.5" text-anchor="middle" dominant-baseline="central" fill="#222" transform="rotate(90 127.19999999999999 70.2)">Count</text>
<g clip-path="url(#clipb)">
<g filter="url(#semtex)"><rect x="7" y="114" width="136" height="103" fill="#101010"/>
<polygon points="119.3,104.3 123.2,121.9 111.9,126.1 106.9,110.5" fill="#080808" opacity="0.55"/>
<polygon points="122.1,114.2 110.8,118.5 110.4,124.1 121.7,119.9" fill="#696969" stroke="#828282" stroke-width="0.4"/>
<polygon points="110.8,118.5 105.7,102.8 105.4,108.5 110.4,124.1" fill="#5a5a5a" stroke="#737373" stroke-width="0.4"/>
<polygon points="118.2,96.6 122.1,114.2 110.8,118.5 105.7,102.8" fill="#909090" stroke="#cacaca" stroke-width="0.85" stroke-linejoin="round"/>
<polygon points="117.5,101.4 119.2,112.5 111.2,115.5 109.4,105.6" fill="#969696" stroke="#bdbdbd" stroke-width="0.55"/>
<polygon points="121.0,110.5 133.5,116.8 129.8,125.9 117.5,118.6" fill="#080808" opacity="0.55"/>
<polygon points="130.8,108.5 127.0,117.7 128.3,123.9 132.0,114.8" fill="#454545" stroke="#5e5e5e" stroke-width="0.4"/>
<polygon points="127.0,117.7 114.7,110.3 116.0,116.6 128.3,123.9" fill="#4f4f4f" stroke="#686868" stroke-width="0.4"/>
<polygon points="118.2,102.2 130.8,108.5 127.0,117.7 114.7,110.3" fill="#7a7a7a" stroke="#b4b4b4" stroke-width="0.85" stroke-linejoin="round"/>
<polygon points="143.8,104.1 154.5,117.4 145.6,125.8 134.0,113.2" fill="#080808" opacity="0.55"/>
<polygon points="151.8,112.2 142.9,120.6 144.1,123.8 153.0,115.4" fill="#3b3b3b" stroke="#545454" stroke-width="0.4"/>
<polygon points="142.9,120.6 131.3,108.0 132.5,111.2 144.1,123.8" fill="#393939" stroke="#525252" stroke-width="0.4"/>
<polygon points="141.0,98.9 151.8,112.2 142.9,120.6 131.3,108.0" fill="#6a6a6a" stroke="#a4a4a4" stroke-width="0.85" stroke-linejoin="round"/>
<polygon points="142.2,103.8 147.7,112.3 143.5,116.0 135.3,110.1" fill="#696969" stroke="#979797" stroke-width="0.55"/>
<polygon points="72.7,109.7 80.3,118.4 76.2,125.2 63.4,114.9" fill="#080808" opacity="0.55"/>
<polygon points="80.2,112.9 76.1,119.7 74.7,123.2 78.8,116.4" fill="#3b3b3b" stroke="#545454" stroke-width="0.4"/>
<polygon points="76.1,119.7 63.3,109.4 61.9,112.9 74.7,123.2" fill="#404040" stroke="#595959" stroke-width="0.4"/>
<polygon points="72.5,104.2 80.2,112.9 76.1,119.7 63.3,109.4" fill="#6e6e6e" stroke="#a8a8a8" stroke-width="0.85" stroke-linejoin="round"/>
<polygon points="72.8,106.1 78.5,111.6 75.6,118.0 66.3,109.7" fill="#686868" stroke="#9b9b9b" stroke-width="0.55"/>
<polygon points="123.3,113.3 135.4,117.4 132.5,126.5 119.0,119.3" fill="#080808" opacity="0.55"/>
<polygon points="134.7,109.7 131.8,118.7 131.0,124.5 133.9,115.4" fill="#414141" stroke="#5a5a5a" stroke-width="0.4"/>
<polygon points="131.8,118.7 118.3,111.5 117.5,117.3 131.0,124.5" fill="#4d4d4d" stroke="#666666" stroke-width="0.4"/>
<polygon points="122.7,105.5 134.7,109.7 131.8,118.7 118.3,111.5" fill="#777777" stroke="#b1b1b1" stroke-width="0.85" stroke-linejoin="round"/>
<polygon points="123.4,107.0 132.7,109.6 130.3,117.7 120.7,112.3" fill="#707070" stroke="#a4a4a4" stroke-width="0.55"/>
<polygon points="38.3,106.5 51.9,118.7 42.4,130.9 29.1,119.7" fill="#080808" opacity="0.55"/>
<polygon points="50.2,111.3 40.6,123.5 40.9,128.9 50.4,116.7" fill="#4a4a4a" stroke="#636363" stroke-width="0.4"/>
<polygon points="40.6,123.5 27.4,112.3 27.6,117.7 40.9,128.9" fill="#4d4d4d" stroke="#666666" stroke-width="0.4"/>
<polygon points="36.5,99.1 50.2,111.3 40.6,123.5 27.4,112.3" fill="#7b7b7b" stroke="#b5b5b5" stroke-width="0.85" stroke-linejoin="round"/>
<polygon points="36.4,105.0 44.1,111.8 39.1,119.1 31.1,112.5" fill="#7f7f7f" stroke="#a8a8a8" stroke-width="0.55"/>
<polygon points="19.6,110.7 24.3,124.4 16.9,125.5 10.0,112.9" fill="#080808" opacity="0.55"/>
<polygon points="24.3,118.5 16.9,119.6 15.4,123.5 22.8,122.4" fill="#616161" stroke="#7a7a7a" stroke-width="0.4"/>
<polygon points="16.9,119.6 10.0,107.0 8.5,110.9 15.4,123.5" fill="#4f4f4f" stroke="#686868" stroke-width="0.4"/>
<polygon points="19.6,104.8 24.3,118.5 16.9,119.6 10.0,107.0" fill="#828282" stroke="#bcbcbc" stroke-width="0.85" stroke-linejoin="round"/>
<polygon points="18.1,108.5 20.9,115.2 17.5,116.3 14.3,109.1" fill="#7a7a7a" stroke="#afafaf" stroke-width="0.55"/>
<polygon points="87.0,112.5 102.0,118.8 99.0,128.5 82.4,122.2" fill="#080808" opacity="0.55"/>
<polygon points="100.3,110.9 97.4,120.6 97.5,126.5 100.5,116.8" fill="#2a2a2a" stroke="#434343" stroke-width="0.4"/>
<polygon points="97.4,120.6 80.8,114.3 80.9,120.2 97.5,126.5" fill="#393939" stroke="#525252" stroke-width="0.4"/>
<polygon points="85.4,104.6 100.3,110.9 97.4,120.6 80.8,114.3" fill="#606060" stroke="#9a9a9a" stroke-width="0.85" stroke-linejoin="round"/>
<polygon points="87.7,107.6 96.7,112.6 94.3,118.0 85.4,113.7" fill="#575757" stroke="#8d8d8d" stroke-width="0.55"/>
<polygon points="91.3,108.0 92.4,127.2 76.9,128.4 72.5,111.4" fill="#080808" opacity="0.55"/>
<polygon points="89.5,102.8 90.5,122.0 90.9,125.2 89.8,106.0" fill="#3c3c3c" stroke="#555555" stroke-width="0.4"/>
<polygon points="90.5,122.0 75.0,123.2 75.4,126.4 90.9,125.2" fill="#535353" stroke="#6c6c6c" stroke-width="0.4"/>
<polygon points="75.0,123.2 70.6,106.2 71.0,109.4 75.4,126.4" fill="#3c3c3c" stroke="#555555" stroke-width="0.4"/>
<polygon points="89.5,102.8 90.5,122.0 75.0,123.2 70.6,106.2" fill="#737373" stroke="#adadad" stroke-width="0.85" stroke-linejoin="round"/>
<polygon points="86.6,106.8 87.6,118.8 76.0,119.5 73.4,109.0" fill="#787878" stroke="#a0a0a0" stroke-width="0.55"/>
<polygon points="107.8,116.1 98.6,131.2 87.9,127.0 96.9,112.4" fill="#080808" opacity="0.55"/>
<polygon points="107.6,109.8 98.4,124.9 97.1,129.2 106.3,114.1" fill="#545454" stroke="#6d6d6d" stroke-width="0.4"/>
<polygon points="98.4,124.9 87.7,120.7 86.4,125.0 97.1,129.2" fill="#606060" stroke="#797979" stroke-width="0.4"/>
<polygon points="107.6,109.8 98.4,124.9 87.7,120.7 96.6,106.1" fill="#878787" stroke="#c1c1c1" stroke-width="0.85" stroke-linejoin="round"/>
<polygon points="70.1,123.7 60.2,133.3 55.1,121.1 64.4,113.7" fill="#080808" opacity="0.55"/>
<polygon points="68.7,115.6 58.8,125.2 58.7,131.3 68.6,121.7" fill="#4c4c4c" stroke="#656565" stroke-width="0.4"/>
<polygon points="58.8,125.2 53.7,113.0 53.6,119.1 58.7,131.3" fill="#464646" stroke="#5f5f5f" stroke-width="0.4"/>
<polygon points="68.7,115.6 58.8,125.2 53.7,113.0 63.0,105.6" fill="#7b7b7b" stroke="#b5b5b5" stroke-width="0.85" stroke-linejoin="round"/>
<polygon points="65.3,114.9 60.3,120.4 57.9,114.1 62.1,110.5" fill="#777777" stroke="#a8a8a8" stroke-width="0.55"/>
<polygon points="41.5,113.7 48.2,125.4 41.8,133.0 32.4,119.1" fill="#080808" opacity="0.55"/>
<polygon points="47.1,117.9 40.7,125.4 40.3,131.0 46.7,123.4" fill="#393939" stroke="#525252" stroke-width="0.4"/>
<polygon points="40.7,125.4 31.3,111.6 30.9,117.1 40.3,131.0" fill="#373737" stroke="#505050" stroke-width="0.4"/>
<polygon points="40.4,106.2 47.1,117.9 40.7,125.4 31.3,111.6" fill="#6a6a6a" stroke="#a4a4a4" stroke-width="0.85" stroke-linejoin="round"/>
<polygon points="41.3,111.5 43.4,115.8 40.5,120.9 34.9,113.3" fill="#6e6e6e" stroke="#979797" stroke-width="0.55"/>
<polygon points="89.8,127.2 82.6,138.4 72.7,131.7 79.4,120.9" fill="#080808" opacity="0.55"/>
<polygon points="88.4,120.5 81.2,131.7 81.1,136.4 88.3,125.2" fill="#585858" stroke="#717171" stroke-width="0.4"/>
<polygon points="81.2,131.7 71.3,125.0 71.2,129.7 81.1,136.4" fill="#5f5f5f" stroke="#787878" stroke-width="0.4"/>
<polygon points="88.4,120.5 81.2,131.7 71.3,125.0 78.0,114.2" fill="#8b8b8b" stroke="#c5c5c5" stroke-width="0.85" stroke-linejoin="round"/>
<polygon points="84.5,122.2 80.2,127.3 75.7,124.9 79.4,118.9" fill="#8b8b8b" stroke="#b8b8b8" stroke-width="0.55"/>
<polygon points="136.3,128.6 123.4,137.6 120.4,129.8 129.0,123.3" fill="#080808" opacity="0.55"/>
<polygon points="135.1,123.3 122.1,132.3 121.9,135.6 134.8,126.6" fill="#464646" stroke="#5f5f5f" stroke-width="0.4"/>
<polygon points="122.1,132.3 119.1,124.4 118.9,127.8 121.9,135.6" fill="#3d3d3d" stroke="#565656" stroke-width="0.4"/>
<polygon points="135.1,123.3 122.1,132.3 119.1,124.4 127.8,117.9" fill="#727272" stroke="#acacac" stroke-width="0.85" stroke-linejoin="round"/>
<polygon points="131.1,124.6 124.6,128.4 121.8,124.2 126.2,120.6" fill="#777777" stroke="#9f9f9f" stroke-width="0.55"/>
<polygon points="103.0,125.4 122.5,129.7 118.7,143.3 101.2,136.6" fill="#080808" opacity="0.55"/>
<polygon points="120.1,121.3 116.3,134.9 117.2,141.3 121.0,127.7" fill="#525252" stroke="#6b6b6b" stroke-width="0.4"/>
<polygon points="116.3,134.9 98.8,128.2 99.7,134.6 117.2,141.3" fill="#616161" stroke="#7a7a7a" stroke-width="0.4"/>
<polygon points="100.6,117.0 120.1,121.3 116.3,134.9 98.8,128.2" fill="#888888" stroke="#c2c2c2" stroke-width="0.85" stroke-linejoin="round"/>
<polygon points="104.6,121.7 114.1,123.2 112.8,128.8 103.7,126.4" fill="#878787" stroke="#b5b5b5" stroke-width="0.55"/>
<polygon points="34.1,135.0 19.0,144.3 9.2,132.6 22.9,123.1" fill="#080808" opacity="0.55"/>
<polygon points="32.5,127.6 17.4,136.9 17.5,142.3 32.6,133.0" fill="#515151" stroke="#6a6a6a" stroke-width="0.4"/>
<polygon points="17.4,136.9 7.5,125.2 7.7,130.6 17.5,142.3" fill="#4b4b4b" stroke="#646464" stroke-width="0.4"/>
<polygon points="32.5,127.6 17.4,136.9 7.5,125.2 21.3,115.7" fill="#7c7c7c" stroke="#b6b6b6" stroke-width="0.85" stroke-linejoin="round"/>
<polygon points="112.1,124.5 108.0,140.6 92.3,137.9 95.5,121.5" fill="#080808" opacity="0.55"/>
<polygon points="110.1,119.5 106.1,135.5 106.5,138.6 110.6,122.5" fill="#3b3b3b" stroke="#545454" stroke-width="0.4"/>
<polygon points="106.1,135.5 90.3,132.9 90.8,135.9 106.5,138.6" fill="#4f4f4f" stroke="#686868" stroke-width="0.4"/>
<polygon points="110.1,119.5 106.1,135.5 90.3,132.9 93.5,116.5" fill="#727272" stroke="#acacac" stroke-width="0.85" stroke-linejoin="round"/>
<polygon points="104.9,121.6 102.8,131.1 94.1,129.2 95.1,119.6" fill="#767676" stroke="#9f9f9f" stroke-width="0.55"/>
<polygon points="49.7,125.1 51.3,143.2 35.1,142.5 36.3,125.0" fill="#080808" opacity="0.55"/>
<polygon points="50.9,135.5 34.7,134.8 33.6,140.5 49.8,141.2" fill="#444444" stroke="#5d5d5d" stroke-width="0.4"/>
<polygon points="34.7,134.8 35.9,117.3 34.8,123.0 33.6,140.5" fill="#2c2c2c" stroke="#454545" stroke-width="0.4"/>
<polygon points="49.3,117.3 50.9,135.5 34.7,134.8 35.9,117.3" fill="#636363" stroke="#9d9d9d" stroke-width="0.85" stroke-linejoin="round"/>
<polygon points="22.4,123.7 38.0,133.4 28.8,149.0 13.8,136.7" fill="#080808" opacity="0.55"/>
<polygon points="35.8,126.5 26.7,142.1 27.3,147.0 36.5,131.4" fill="#474747" stroke="#606060" stroke-width="0.4"/>
<polygon points="26.7,142.1 11.6,129.8 12.3,134.7 27.3,147.0" fill="#4d4d4d" stroke="#666666" stroke-width="0.4"/>
<polygon points="20.2,116.8 35.8,126.5 26.7,142.1 11.6,129.8" fill="#7a7a7a" stroke="#b4b4b4" stroke-width="0.85" stroke-linejoin="round"/>
<polygon points="21.7,121.7 30.2,127.0 25.1,136.6 17.3,129.6" fill="#838383" stroke="#a7a7a7" stroke-width="0.55"/>
<polygon points="79.9,127.4 86.8,144.7 75.6,146.1 69.2,130.8" fill="#080808" opacity="0.55"/>
<polygon points="85.2,137.0 74.0,138.5 74.1,144.1 85.3,142.7" fill="#5a5a5a" stroke="#737373" stroke-width="0.4"/>
<polygon points="74.0,138.5 67.6,123.2 67.7,128.8 74.1,144.1" fill="#464646" stroke="#5f5f5f" stroke-width="0.4"/>
<polygon points="78.3,119.8 85.2,137.0 74.0,138.5 67.6,123.2" fill="#7b7b7b" stroke="#b5b5b5" stroke-width="0.85" stroke-linejoin="round"/>
<polygon points="43.7,134.8 42.5,148.2 32.5,146.3 35.3,132.0" fill="#080808" opacity="0.55"/>
<polygon points="42.2,142.4 32.3,140.5 31.0,144.3 41.0,146.2" fill="#5a5a5a" stroke="#737373" stroke-width="0.4"/>
<polygon points="32.3,140.5 35.1,126.2 33.8,130.0 31.0,144.3" fill="#474747" stroke="#606060" stroke-width="0.4"/>
<polygon points="43.5,129.0 42.2,142.4 32.3,140.5 35.1,126.2" fill="#7d7d7d" stroke="#b7b7b7" stroke-width="0.85" stroke-linejoin="round"/>
<polygon points="41.5,130.0 41.7,140.3 33.7,138.5 35.1,128.8" fill="#828282" stroke="#aaaaaa" stroke-width="0.55"/>
<polygon points="140.3,139.8 129.2,153.0 119.7,144.0 131.0,133.1" fill="#080808" opacity="0.55"/>
<polygon points="137.3,132.6 126.3,145.7 127.7,151.0 138.8,137.8" fill="#3e3e3e" stroke="#575757" stroke-width="0.4"/>
<polygon points="126.3,145.7 116.8,136.7 118.2,142.0 127.7,151.0" fill="#404040" stroke="#595959" stroke-width="0.4"/>
<polygon points="137.3,132.6 126.3,145.7 116.8,136.7 128.1,125.9" fill="#6f6f6f" stroke="#a9a9a9" stroke-width="0.85" stroke-linejoin="round"/>
<polygon points="131.9,134.5 125.5,141.2 120.9,135.8 126.7,129.5" fill="#686868" stroke="#9c9c9c" stroke-width="0.55"/>
<polygon points="85.7,132.9 95.6,143.4 83.2,151.3 74.4,139.3" fill="#080808" opacity="0.55"/>
<polygon points="94.0,136.2 81.6,144.0 81.7,149.3 94.1,141.4" fill="#4b4b4b" stroke="#646464" stroke-width="0.4"/>
<polygon points="81.6,144.0 72.8,132.1 72.9,137.3 81.7,149.3" fill="#444444" stroke="#5d5d5d" stroke-width="0.4"/>
<polygon points="84.1,125.7 94.0,136.2 81.6,144.0 72.8,132.1" fill="#767676" stroke="#b0b0b0" stroke-width="0.85" stroke-linejoin="round"/>
<polygon points="42.6,132.5 60.3,134.8 58.1,149.0 44.1,148.1" fill="#080808" opacity="0.55"/>
<polygon points="57.8,128.4 55.6,142.5 56.6,147.0 58.8,132.8" fill="#4a4a4a" stroke="#636363" stroke-width="0.4"/>
<polygon points="55.6,142.5 41.6,141.7 42.6,146.1 56.6,147.0" fill="#616161" stroke="#7a7a7a" stroke-width="0.4"/>
<polygon points="40.1,126.1 57.8,128.4 55.6,142.5 41.6,141.7" fill="#808080" stroke="#bababa" stroke-width="0.85" stroke-linejoin="round"/>
<polygon points="27.5,131.7 30.6,150.4 11.8,152.7 11.2,133.0" fill="#080808" opacity="0.55"/>
<polygon points="24.8,124.9 27.9,143.6 29.1,148.4 26.0,129.7" fill="#363636" stroke="#4f4f4f" stroke-width="0.4"/>
<polygon points="27.9,143.6 9.1,145.9 10.3,150.7 29.1,148.4" fill="#4c4c4c" stroke="#656565" stroke-width="0.4"/>
<polygon points="24.8,124.9 27.9,143.6 9.1,145.9 8.5,126.2" fill="#6d6d6d" stroke="#a7a7a7" stroke-width="0.85" stroke-linejoin="round"/>
<polygon points="22.1,128.6 23.2,140.1 12.7,141.8 11.6,129.6" fill="#676767" stroke="#9a9a9a" stroke-width="0.55"/>
<polygon points="106.0,144.9 91.1,150.2 86.6,139.3 101.6,134.1" fill="#080808" opacity="0.55"/>
<polygon points="104.5,139.2 89.6,144.6 89.6,148.2 104.5,142.9" fill="#686868" stroke="#818181" stroke-width="0.4"/>
<polygon points="89.6,144.6 85.1,133.7 85.1,137.3 89.6,148.2" fill="#595959" stroke="#727272" stroke-width="0.4"/>
<polygon points="104.5,139.2 89.6,144.6 85.1,133.7 100.1,128.5" fill="#8e8e8e" stroke="#c8c8c8" stroke-width="0.85" stroke-linejoin="round"/>
<polygon points="153.4,133.2 156.9,145.0 147.3,150.8 140.1,137.3" fill="#080808" opacity="0.55"/>
<polygon points="150.7,127.8 154.1,139.7 155.4,143.0 151.9,131.2" fill="#363636" stroke="#4f4f4f" stroke-width="0.4"/>
<polygon points="154.1,139.7 144.5,145.5 145.8,148.8 155.4,143.0" fill="#414141" stroke="#5a5a5a" stroke-width="0.4"/>
<polygon points="144.5,145.5 137.3,132.0 138.6,135.3 145.8,148.8" fill="#383838" stroke="#515151" stroke-width="0.4"/>
<polygon points="150.7,127.8 154.1,139.7 144.5,145.5 137.3,132.0" fill="#6c6c6c" stroke="#a6a6a6" stroke-width="0.85" stroke-linejoin="round"/>
<polygon points="68.9,135.3 75.7,149.0 66.9,153.5 58.9,140.1" fill="#080808" opacity="0.55"/>
<polygon points="73.8,143.6 65.0,148.1 65.4,151.5 74.2,147.0" fill="#484848" stroke="#616161" stroke-width="0.4"/>
<polygon points="65.0,148.1 57.0,134.7 57.4,138.1 65.4,151.5" fill="#3e3e3e" stroke="#575757" stroke-width="0.4"/>
<polygon points="67.0,129.9 73.8,143.6 65.0,148.1 57.0,134.7" fill="#727272" stroke="#acacac" stroke-width="0.85" stroke-linejoin="round"/>
<polygon points="113.7,139.8 127.2,145.1 127.0,154.2 110.8,149.9" fill="#080808" opacity="0.55"/>
<polygon points="126.8,145.8 110.6,141.5 109.3,147.9 125.5,152.2" fill="#656565" stroke="#7e7e7e" stroke-width="0.4"/>
<polygon points="113.5,131.5 127.0,136.7 126.8,145.8 110.6,141.5" fill="#8a8a8a" stroke="#c4c4c4" stroke-width="0.85" stroke-linejoin="round"/>
<polygon points="113.9,151.7 100.7,156.3 96.3,142.9 112.3,142.3" fill="#080808" opacity="0.55"/>
<polygon points="111.4,144.1 98.3,148.6 99.2,154.3 112.4,149.7" fill="#6a6a6a" stroke="#838383" stroke-width="0.4"/>
<polygon points="98.3,148.6 93.9,135.2 94.8,140.9 99.2,154.3" fill="#5b5b5b" stroke="#747474" stroke-width="0.4"/>
<polygon points="111.4,144.1 98.3,148.6 93.9,135.2 109.8,134.7" fill="#909090" stroke="#cacaca" stroke-width="0.85" stroke-linejoin="round"/>
<polygon points="107.3,142.0 101.7,144.4 99.3,137.5 106.7,137.5" fill="#8e8e8e" stroke="#bdbdbd" stroke-width="0.55"/>
<polygon points="27.2,141.4 39.2,152.8 33.2,158.4 21.6,150.0" fill="#080808" opacity="0.55"/>
<polygon points="38.8,147.6 32.8,153.2 31.7,156.4 37.7,150.8" fill="#474747" stroke="#606060" stroke-width="0.4"/>
<polygon points="32.8,153.2 21.1,144.8 20.1,148.0 31.7,156.4" fill="#4a4a4a" stroke="#636363" stroke-width="0.4"/>
<polygon points="26.7,136.2 38.8,147.6 32.8,153.2 21.1,144.8" fill="#767676" stroke="#b0b0b0" stroke-width="0.85" stroke-linejoin="round"/>
<polygon points="28.2,139.6 34.6,146.9 31.0,149.5 23.6,144.4" fill="#7c7c7c" stroke="#a3a3a3" stroke-width="0.55"/>
<polygon points="115.0,144.5 121.3,157.6 112.3,161.2 106.5,147.2" fill="#080808" opacity="0.55"/>
<polygon points="121.1,152.6 112.2,156.2 110.8,159.2 119.8,155.6" fill="#464646" stroke="#5f5f5f" stroke-width="0.4"/>
<polygon points="112.2,156.2 106.3,142.2 105.0,145.2 110.8,159.2" fill="#383838" stroke="#515151" stroke-width="0.4"/>
<polygon points="114.8,139.5 121.1,152.6 112.2,156.2 106.3,142.2" fill="#6d6d6d" stroke="#a7a7a7" stroke-width="0.85" stroke-linejoin="round"/>
<polygon points="114.4,141.8 119.7,152.0 113.1,153.3 108.5,143.9" fill="#767676" stroke="#9a9a9a" stroke-width="0.55"/>
<polygon points="86.5,153.2 77.3,163.7 67.6,157.0 77.7,146.5" fill="#080808" opacity="0.55"/>
<polygon points="84.8,147.8 75.6,158.3 75.8,161.7 85.0,151.2" fill="#343434" stroke="#4d4d4d" stroke-width="0.4"/>
<polygon points="75.6,158.3 65.9,151.6 66.1,155.0 75.8,161.7" fill="#393939" stroke="#525252" stroke-width="0.4"/>
<polygon points="84.8,147.8 75.6,158.3 65.9,151.6 76.0,141.1" fill="#656565" stroke="#9f9f9f" stroke-width="0.85" stroke-linejoin="round"/>
<polygon points="80.3,148.7 75.8,155.5 68.5,151.0 75.0,144.5" fill="#646464" stroke="#929292" stroke-width="0.55"/>
<polygon points="37.6,144.4 47.6,157.9 34.3,167.4 24.6,153.0" fill="#080808" opacity="0.55"/>
<polygon points="47.0,152.1 33.7,161.6 32.8,165.4 46.1,155.9" fill="#4c4c4c" stroke="#656565" stroke-width="0.4"/>
<polygon points="33.7,161.6 24.0,147.2 23.1,151.0 32.8,165.4" fill="#454545" stroke="#5e5e5e" stroke-width="0.4"/>
<polygon points="37.0,138.5 47.0,152.1 33.7,161.6 24.0,147.2" fill="#787878" stroke="#b2b2b2" stroke-width="0.85" stroke-linejoin="round"/>
<polygon points="36.8,145.0 41.9,150.6 35.5,156.3 30.4,147.9" fill="#747474" stroke="#a5a5a5" stroke-width="0.55"/>
<polygon points="132.0,151.3 123.1,168.3 113.7,163.6 120.5,148.0" fill="#080808" opacity="0.55"/>
<polygon points="130.9,143.7 122.0,160.7 121.6,166.3 130.5,149.3" fill="#474747" stroke="#606060" stroke-width="0.4"/>
<polygon points="122.0,160.7 112.6,156.0 112.2,161.6 121.6,166.3" fill="#525252" stroke="#6b6b6b" stroke-width="0.4"/>
<polygon points="130.9,143.7 122.0,160.7 112.6,156.0 119.4,140.4" fill="#7b7b7b" stroke="#b5b5b5" stroke-width="0.85" stroke-linejoin="round"/>
<polygon points="132.9,153.0 143.6,158.0 140.6,167.3 127.0,160.7" fill="#080808" opacity="0.55"/>
<polygon points="143.6,150.3 140.5,159.6 139.1,165.3 142.1,156.0" fill="#515151" stroke="#6a6a6a" stroke-width="0.4"/>
<polygon points="140.5,159.6 126.9,153.0 125.5,158.7 139.1,165.3" fill="#5d5d5d" stroke="#767676" stroke-width="0.4"/>
<polygon points="132.8,145.3 143.6,150.3 140.5,159.6 126.9,153.0" fill="#868686" stroke="#c0c0c0" stroke-width="0.85" stroke-linejoin="round"/>
<polygon points="134.9,148.1 140.2,150.6 138.3,154.9 130.9,153.1" fill="#7d7d7d" stroke="#b3b3b3" stroke-width="0.55"/>
<polygon points="100.5,157.7 89.7,165.7 83.9,155.5 93.8,149.9" fill="#080808" opacity="0.55"/>
<polygon points="98.5,152.4 87.8,160.4 88.2,163.7 99.0,155.7" fill="#484848" stroke="#616161" stroke-width="0.4"/>
<polygon points="87.8,160.4 82.0,150.3 82.4,153.5 88.2,163.7" fill="#424242" stroke="#5b5b5b" stroke-width="0.4"/>
<polygon points="98.5,152.4 87.8,160.4 82.0,150.3 91.9,144.6" fill="#757575" stroke="#afafaf" stroke-width="0.85" stroke-linejoin="round"/>
<polygon points="96.8,152.8 87.3,157.9 84.6,151.4 90.8,146.0" fill="#767676" stroke="#a2a2a2" stroke-width="0.55"/>
<polygon points="6.5,151.5 14.8,160.6 9.7,169.2 -0.7,160.4" fill="#080808" opacity="0.55"/>
<polygon points="13.1,155.5 8.0,164.0 8.2,167.2 13.3,158.6" fill="#5d5d5d" stroke="#767676" stroke-width="0.4"/>
<polygon points="8.0,164.0 -2.4,155.3 -2.2,158.4 8.2,167.2" fill="#626262" stroke="#7b7b7b" stroke-width="0.4"/>
<polygon points="4.8,146.4 13.1,155.5 8.0,164.0 -2.4,155.3" fill="#909090" stroke="#cacaca" stroke-width="0.85" stroke-linejoin="round"/>
<polygon points="5.4,150.7 9.7,155.0 7.0,158.6 2.1,155.8" fill="#969696" stroke="#bdbdbd" stroke-width="0.55"/>
<polygon points="48.8,151.1 64.3,161.8 57.8,171.6 41.4,164.4" fill="#080808" opacity="0.55"/>
<polygon points="63.4,155.8 56.9,165.6 56.3,169.6 62.8,159.8" fill="#3c3c3c" stroke="#555555" stroke-width="0.4"/>
<polygon points="56.9,165.6 40.5,158.5 39.9,162.4 56.3,169.6" fill="#474747" stroke="#606060" stroke-width="0.4"/>
<polygon points="48.0,145.1 63.4,155.8 56.9,165.6 40.5,158.5" fill="#6f6f6f" stroke="#a9a9a9" stroke-width="0.85" stroke-linejoin="round"/>
<polygon points="49.9,148.3 59.7,155.3 55.0,162.3 44.8,158.6" fill="#767676" stroke="#9c9c9c" stroke-width="0.55"/>
<polygon points="117.4,160.8 107.4,174.4 95.3,167.4 103.4,153.6" fill="#080808" opacity="0.55"/>
<polygon points="116.6,155.3 106.6,168.9 105.9,172.4 115.9,158.8" fill="#4a4a4a" stroke="#636363" stroke-width="0.4"/>
<polygon points="106.6,168.9 94.5,162.0 93.8,165.4 105.9,172.4" fill="#515151" stroke="#6a6a6a" stroke-width="0.4"/>
<polygon points="116.6,155.3 106.6,168.9 94.5,162.0 102.6,148.1" fill="#7c7c7c" stroke="#b6b6b6" stroke-width="0.85" stroke-linejoin="round"/>
<polygon points="113.0,156.8 105.9,164.8 98.4,160.5 103.1,152.4" fill="#848484" stroke="#a9a9a9" stroke-width="0.55"/>
<polygon points="138.6,159.7 136.4,173.9 123.3,174.8 123.2,158.6" fill="#080808" opacity="0.55"/>
<polygon points="137.4,153.0 135.3,167.2 134.9,171.9 137.1,157.7" fill="#4b4b4b" stroke="#646464" stroke-width="0.4"/>
<polygon points="135.3,167.2 122.1,168.1 121.8,172.8 134.9,171.9" fill="#626262" stroke="#7b7b7b" stroke-width="0.4"/>
<polygon points="122.1,168.1 122.0,152.0 121.7,156.6 121.8,172.8" fill="#4b4b4b" stroke="#646464" stroke-width="0.4"/>
<polygon points="137.4,153.0 135.3,167.2 122.1,168.1 122.0,152.0" fill="#828282" stroke="#bcbcbc" stroke-width="0.85" stroke-linejoin="round"/>
<polygon points="135.9,155.5 134.6,164.8 124.0,166.6 123.8,154.1" fill="#848484" stroke="#afafaf" stroke-width="0.55"/>
<polygon points="99.4,158.4 117.9,161.5 116.2,173.2 100.1,170.8" fill="#080808" opacity="0.55"/>
<polygon points="115.3,168.1 99.1,165.6 98.6,168.8 114.7,171.2" fill="#4a4a4a" stroke="#636363" stroke-width="0.4"/>
<polygon points="99.1,165.6 98.5,153.2 97.9,156.4 98.6,168.8" fill="#353535" stroke="#4e4e4e" stroke-width="0.4"/>
<polygon points="98.5,153.2 117.0,156.4 115.3,168.1 99.1,165.6" fill="#6c6c6c" stroke="#a6a6a6" stroke-width="0.85" stroke-linejoin="round"/>
<polygon points="152.0,174.0 134.6,178.2 132.2,164.1 148.1,161.2" fill="#080808" opacity="0.55"/>
<polygon points="149.3,167.5 131.9,171.7 133.1,176.2 150.5,172.0" fill="#616161" stroke="#7a7a7a" stroke-width="0.4"/>
<polygon points="149.3,167.5 131.9,171.7 129.6,157.6 145.5,154.7" fill="#858585" stroke="#bfbfbf" stroke-width="0.85" stroke-linejoin="round"/>
<polygon points="145.5,166.1 135.8,168.6 134.4,159.7 142.5,158.5" fill="#8e8e8e" stroke="#b2b2b2" stroke-width="0.55"/>
<polygon points="35.0,160.5 41.1,172.5 28.9,179.5 24.6,163.3" fill="#080808" opacity="0.55"/>
<polygon points="39.6,167.3 27.4,174.4 27.4,177.5 39.6,170.5" fill="#6c6c6c" stroke="#858585" stroke-width="0.4"/>
<polygon points="27.4,174.4 23.2,158.2 23.1,161.3 27.4,177.5" fill="#606060" stroke="#797979" stroke-width="0.4"/>
<polygon points="33.5,155.4 39.6,167.3 27.4,174.4 23.2,158.2" fill="#969696" stroke="#d0d0d0" stroke-width="0.85" stroke-linejoin="round"/>
<polygon points="33.5,159.3 37.5,165.8 28.4,171.2 25.6,160.1" fill="#8b8b8b" stroke="#c3c3c3" stroke-width="0.55"/>
<polygon points="57.7,161.5 64.8,175.2 56.6,178.5 51.2,166.3" fill="#080808" opacity="0.55"/>
<polygon points="64.0,169.5 55.7,172.9 55.1,176.5 63.3,173.2" fill="#5e5e5e" stroke="#777777" stroke-width="0.4"/>
<polygon points="55.7,172.9 50.3,160.6 49.7,164.3 55.1,176.5" fill="#515151" stroke="#6a6a6a" stroke-width="0.4"/>
<polygon points="56.8,155.8 64.0,169.5 55.7,172.9 50.3,160.6" fill="#868686" stroke="#c0c0c0" stroke-width="0.85" stroke-linejoin="round"/>
<polygon points="17.2,163.9 20.4,176.6 6.0,179.6 7.0,166.6" fill="#080808" opacity="0.55"/>
<polygon points="19.0,169.0 4.7,172.0 4.5,177.6 18.9,174.6" fill="#747474" stroke="#8d8d8d" stroke-width="0.4"/>
<polygon points="15.8,156.3 19.0,169.0 4.7,172.0 5.6,158.9" fill="#979797" stroke="#d1d1d1" stroke-width="0.85" stroke-linejoin="round"/>
<polygon points="15.2,157.4 17.2,167.4 6.0,170.2 8.2,159.4" fill="#9d9d9d" stroke="#c4c4c4" stroke-width="0.55"/>
<polygon points="19.1,173.0 2.7,179.8 0.3,169.7 15.1,161.6" fill="#080808" opacity="0.55"/>
<polygon points="19.0,166.9 2.6,173.7 1.2,177.8 17.6,171.0" fill="#353535" stroke="#4e4e4e" stroke-width="0.4"/>
<polygon points="2.6,173.7 0.2,163.6 -1.2,167.7 1.2,177.8" fill="#262626" stroke="#3f3f3f" stroke-width="0.4"/>
<polygon points="19.0,166.9 2.6,173.7 0.2,163.6 15.0,155.5" fill="#5c5c5c" stroke="#969696" stroke-width="0.85" stroke-linejoin="round"/>
<polygon points="16.7,167.1 5.4,171.6 3.1,164.8 13.9,159.1" fill="#646464" stroke="#898989" stroke-width="0.55"/>
<polygon points="109.5,169.8 101.6,184.8 92.9,179.3 98.7,164.6" fill="#080808" opacity="0.55"/>
<polygon points="107.3,161.5 99.3,176.5 100.1,182.8 108.0,167.8" fill="#515151" stroke="#6a6a6a" stroke-width="0.4"/>
<polygon points="99.3,176.5 90.7,171.0 91.4,177.3 100.1,182.8" fill="#5a5a5a" stroke="#737373" stroke-width="0.4"/>
<polygon points="107.3,161.5 99.3,176.5 90.7,171.0 96.4,156.2" fill="#868686" stroke="#c0c0c0" stroke-width="0.85" stroke-linejoin="round"/>
<polygon points="103.8,162.8 99.3,173.8 93.6,169.3 96.8,159.7" fill="#8e8e8e" stroke="#b3b3b3" stroke-width="0.55"/>
<polygon points="30.7,164.9 36.5,174.1 28.8,180.6 20.6,171.9" fill="#080808" opacity="0.55"/>
<polygon points="36.5,166.7 28.8,173.3 27.3,178.6 35.0,172.1" fill="#5c5c5c" stroke="#757575" stroke-width="0.4"/>
<polygon points="28.8,173.3 20.6,164.5 19.1,169.9 27.3,178.6" fill="#5a5a5a" stroke="#737373" stroke-width="0.4"/>
<polygon points="30.7,157.5 36.5,166.7 28.8,173.3 20.6,164.5" fill="#8a8a8a" stroke="#c4c4c4" stroke-width="0.85" stroke-linejoin="round"/>
<polygon points="30.6,160.9 33.2,166.3 29.1,170.3 24.6,164.8" fill="#8d8d8d" stroke="#b7b7b7" stroke-width="0.55"/>
<polygon points="139.2,167.9 131.7,182.2 114.2,175.9 121.6,161.5" fill="#080808" opacity="0.55"/>
<polygon points="137.9,162.9 130.4,177.2 130.2,180.2 137.7,165.9" fill="#393939" stroke="#525252" stroke-width="0.4"/>
<polygon points="130.4,177.2 113.0,170.9 112.7,173.9 130.2,180.2" fill="#474747" stroke="#606060" stroke-width="0.4"/>
<polygon points="137.9,162.9 130.4,177.2 113.0,170.9 120.3,156.5" fill="#6d6d6d" stroke="#a7a7a7" stroke-width="0.85" stroke-linejoin="round"/>
<polygon points="134.1,163.6 128.7,173.1 116.9,170.4 121.4,160.6" fill="#686868" stroke="#9a9a9a" stroke-width="0.55"/>
<polygon points="131.6,167.4 143.3,176.9 135.5,188.3 126.0,178.8" fill="#080808" opacity="0.55"/>
<polygon points="141.8,170.1 134.0,181.6 134.0,186.3 141.8,174.9" fill="#2b2b2b" stroke="#444444" stroke-width="0.4"/>
<polygon points="134.0,181.6 124.5,172.0 124.5,176.8 134.0,186.3" fill="#2e2e2e" stroke="#474747" stroke-width="0.4"/>
<polygon points="130.2,160.7 141.8,170.1 134.0,181.6 124.5,172.0" fill="#5e5e5e" stroke="#989898" stroke-width="0.85" stroke-linejoin="round"/>
<polygon points="132.2,164.5 139.0,169.6 134.2,178.4 127.9,172.6" fill="#5f5f5f" stroke="#8b8b8b" stroke-width="0.55"/>
<polygon points="77.5,169.1 83.8,185.5 73.3,191.3 66.7,174.0" fill="#080808" opacity="0.55"/>
<polygon points="81.5,178.6 70.9,184.4 71.8,189.3 82.3,183.5" fill="#424242" stroke="#5b5b5b" stroke-width="0.4"/>
<polygon points="70.9,184.4 64.4,167.0 65.2,172.0 71.8,189.3" fill="#363636" stroke="#4f4f4f" stroke-width="0.4"/>
<polygon points="75.1,162.1 81.5,178.6 70.9,184.4 64.4,167.0" fill="#6c6c6c" stroke="#a6a6a6" stroke-width="0.85" stroke-linejoin="round"/>
<polygon points="74.9,166.0 79.4,176.1 72.7,179.5 66.6,167.9" fill="#6c6c6c" stroke="#999999" stroke-width="0.55"/>
<polygon points="49.0,182.8 29.6,189.7 24.9,178.9 44.4,170.8" fill="#080808" opacity="0.55"/>
<polygon points="48.5,175.5 29.1,182.4 28.1,187.7 47.5,180.8" fill="#535353" stroke="#6c6c6c" stroke-width="0.4"/>
<polygon points="29.1,182.4 24.4,171.6 23.4,176.9 28.1,187.7" fill="#454545" stroke="#5e5e5e" stroke-width="0.4"/>
<polygon points="48.5,175.5 29.1,182.4 24.4,171.6 43.9,163.5" fill="#797979" stroke="#b3b3b3" stroke-width="0.85" stroke-linejoin="round"/>
<polygon points="42.3,174.8 33.2,178.1 30.4,173.2 41.0,167.9" fill="#818181" stroke="#a6a6a6" stroke-width="0.55"/>
<polygon points="17.4,171.8 31.2,175.7 28.9,186.7 14.1,184.4" fill="#080808" opacity="0.55"/>
<polygon points="29.5,170.4 27.2,181.3 27.4,184.7 29.7,173.7" fill="#383838" stroke="#515151" stroke-width="0.4"/>
<polygon points="27.2,181.3 12.4,179.0 12.6,182.4 27.4,184.7" fill="#4d4d4d" stroke="#666666" stroke-width="0.4"/>
<polygon points="15.7,166.4 29.5,170.4 27.2,181.3 12.4,179.0" fill="#6f6f6f" stroke="#a9a9a9" stroke-width="0.85" stroke-linejoin="round"/>
<polygon points="19.4,170.6 26.6,172.3 25.6,178.7 17.4,177.3" fill="#6c6c6c" stroke="#9c9c9c" stroke-width="0.55"/>
<polygon points="86.9,171.2 85.9,190.9 73.6,188.1 74.9,170.3" fill="#080808" opacity="0.55"/>
<polygon points="84.8,165.6 83.9,185.4 84.4,188.9 85.4,169.2" fill="#262626" stroke="#3f3f3f" stroke-width="0.4"/>
<polygon points="83.9,185.4 71.5,182.5 72.1,186.1 84.4,188.9" fill="#393939" stroke="#525252" stroke-width="0.4"/>
<polygon points="84.8,165.6 83.9,185.4 71.5,182.5 72.8,164.7" fill="#5d5d5d" stroke="#979797" stroke-width="0.85" stroke-linejoin="round"/>
<polygon points="80.6,170.4 80.7,179.7 75.8,177.3 74.9,170.7" fill="#545454" stroke="#8a8a8a" stroke-width="0.55"/>
<polygon points="62.3,173.2 73.2,183.8 63.1,193.1 52.6,181.8" fill="#080808" opacity="0.55"/>
<polygon points="70.8,178.2 60.6,187.5 61.6,191.1 71.7,181.8" fill="#444444" stroke="#5d5d5d" stroke-width="0.4"/>
<polygon points="60.6,187.5 50.2,176.2 51.1,179.8 61.6,191.1" fill="#424242" stroke="#5b5b5b" stroke-width="0.4"/>
<polygon points="59.8,167.6 70.8,178.2 60.6,187.5 50.2,176.2" fill="#737373" stroke="#adadad" stroke-width="0.85" stroke-linejoin="round"/>
<polygon points="60.4,171.8 66.2,178.5 60.6,182.2 55.5,176.7" fill="#747474" stroke="#a0a0a0" stroke-width="0.55"/>
<polygon points="10.1,175.8 20.4,189.5 6.8,200.9 -5.5,184.9" fill="#080808" opacity="0.55"/>
<polygon points="20.3,181.4 6.6,192.7 5.3,198.9 18.9,187.5" fill="#636363" stroke="#7c7c7c" stroke-width="0.4"/>
<polygon points="6.6,192.7 -5.6,176.8 -7.0,182.9 5.3,198.9" fill="#5f5f5f" stroke="#787878" stroke-width="0.4"/>
<polygon points="9.9,167.7 20.3,181.4 6.6,192.7 -5.6,176.8" fill="#919191" stroke="#cbcbcb" stroke-width="0.85" stroke-linejoin="round"/>
<polygon points="114.5,176.5 126.4,190.6 115.0,199.3 101.0,184.9" fill="#080808" opacity="0.55"/>
<polygon points="126.0,183.0 114.6,191.8 113.5,197.3 124.9,188.6" fill="#555555" stroke="#6e6e6e" stroke-width="0.4"/>
<polygon points="114.6,191.8 100.6,177.3 99.5,182.9 113.5,197.3" fill="#535353" stroke="#6c6c6c" stroke-width="0.4"/>
<polygon points="114.1,168.9 126.0,183.0 114.6,191.8 100.6,177.3" fill="#828282" stroke="#bcbcbc" stroke-width="0.85" stroke-linejoin="round"/>
<polygon points="114.1,173.8 119.3,181.9 114.8,186.4 106.1,179.8" fill="#838383" stroke="#afafaf" stroke-width="0.55"/>
<polygon points="142.9,195.4 126.0,198.2 119.9,185.5 138.2,179.0" fill="#080808" opacity="0.55"/>
<polygon points="140.3,187.7 123.4,190.6 124.5,196.2 141.4,193.4" fill="#6b6b6b" stroke="#848484" stroke-width="0.4"/>
<polygon points="123.4,190.6 117.3,177.9 118.4,183.5 124.5,196.2" fill="#585858" stroke="#717171" stroke-width="0.4"/>
<polygon points="140.3,187.7 123.4,190.6 117.3,177.9 135.6,171.4" fill="#8d8d8d" stroke="#c7c7c7" stroke-width="0.85" stroke-linejoin="round"/>
<polygon points="134.0,183.4 125.4,185.7 123.1,180.0 132.1,177.1" fill="#8d8d8d" stroke="#bababa" stroke-width="0.55"/>
<polygon points="65.6,178.7 66.1,198.7 54.8,198.7 52.3,179.7" fill="#080808" opacity="0.55"/>
<polygon points="63.1,171.1 63.6,191.1 64.6,196.7 64.1,176.7" fill="#5d5d5d" stroke="#767676" stroke-width="0.4"/>
<polygon points="63.6,191.1 52.3,191.1 53.3,196.7 64.6,196.7" fill="#767676" stroke="#8f8f8f" stroke-width="0.4"/>
<polygon points="63.1,171.1 63.6,191.1 52.3,191.1 49.8,172.1" fill="#949494" stroke="#cecece" stroke-width="0.85" stroke-linejoin="round"/>
<polygon points="145.5,194.5 128.2,200.0 125.4,184.4 142.2,179.3" fill="#080808" opacity="0.55"/>
<polygon points="143.2,186.5 125.9,192.1 126.7,198.0 144.0,192.5" fill="#575757" stroke="#707070" stroke-width="0.4"/>
<polygon points="125.9,192.1 123.0,176.4 123.9,182.4 126.7,198.0" fill="#464646" stroke="#5f5f5f" stroke-width="0.4"/>
<polygon points="143.2,186.5 125.9,192.1 123.0,176.4 139.8,171.3" fill="#7d7d7d" stroke="#b7b7b7" stroke-width="0.85" stroke-linejoin="round"/>
<polygon points="137.4,184.8 128.4,187.4 128.1,179.0 136.2,175.6" fill="#717171" stroke="#aaaaaa" stroke-width="0.55"/>
<polygon points="142.0,178.0 150.3,194.4 139.3,200.7 130.4,186.7" fill="#080808" opacity="0.55"/>
<polygon points="149.6,187.6 138.6,193.9 137.8,198.7 148.8,192.4" fill="#5f5f5f" stroke="#787878" stroke-width="0.4"/>
<polygon points="138.6,193.9 129.7,179.8 128.9,184.7 137.8,198.7" fill="#565656" stroke="#6f6f6f" stroke-width="0.4"/>
<polygon points="141.3,171.2 149.6,187.6 138.6,193.9 129.7,179.8" fill="#898989" stroke="#c3c3c3" stroke-width="0.85" stroke-linejoin="round"/>
<polygon points="139.4,176.6 144.6,184.7 139.1,187.5 134.0,182.3" fill="#8c8c8c" stroke="#b6b6b6" stroke-width="0.55"/>
<polygon points="38.0,187.3 52.8,189.8 50.2,203.2 36.2,198.6" fill="#080808" opacity="0.55"/>
<polygon points="52.1,181.8 49.5,195.1 48.7,201.2 51.3,187.8" fill="#565656" stroke="#6f6f6f" stroke-width="0.4"/>
<polygon points="49.5,195.1 35.5,190.5 34.7,196.6 48.7,201.2" fill="#676767" stroke="#808080" stroke-width="0.4"/>
<polygon points="37.3,179.3 52.1,181.8 49.5,195.1 35.5,190.5" fill="#8d8d8d" stroke="#c7c7c7" stroke-width="0.85" stroke-linejoin="round"/>
<polygon points="40.8,182.1 47.4,183.5 45.6,190.5 39.4,187.4" fill="#878787" stroke="#bababa" stroke-width="0.55"/>
<polygon points="99.1,186.8 93.3,203.2 82.8,199.1 87.7,183.8" fill="#080808" opacity="0.55"/>
<polygon points="98.2,179.4 92.5,195.8 91.8,201.2 97.6,184.8" fill="#494949" stroke="#626262" stroke-width="0.4"/>
<polygon points="92.5,195.8 81.9,191.6 81.3,197.1 91.8,201.2" fill="#575757" stroke="#707070" stroke-width="0.4"/>
<polygon points="98.2,179.4 92.5,195.8 81.9,191.6 86.9,176.3" fill="#7e7e7e" stroke="#b8b8b8" stroke-width="0.85" stroke-linejoin="round"/>
<polygon points="145.3,191.7 147.6,206.5 134.2,209.3 131.5,194.6" fill="#080808" opacity="0.55"/>
<polygon points="145.6,200.0 132.2,202.8 132.7,207.3 146.1,204.5" fill="#3c3c3c" stroke="#555555" stroke-width="0.4"/>
<polygon points="132.2,202.8 129.4,188.1 130.0,192.6 132.7,207.3" fill="#292929" stroke="#424242" stroke-width="0.4"/>
<polygon points="143.3,185.1 145.6,200.0 132.2,202.8 129.4,188.1" fill="#5f5f5f" stroke="#999999" stroke-width="0.85" stroke-linejoin="round"/>
<polygon points="140.7,190.2 140.6,196.9 134.6,198.5 134.3,190.4" fill="#5c5c5c" stroke="#8c8c8c" stroke-width="0.55"/>
<polygon points="53.9,190.1 71.5,191.6 69.6,208.0 50.0,207.1" fill="#080808" opacity="0.55"/>
<polygon points="68.6,186.2 66.7,202.6 68.1,206.0 70.0,189.6" fill="#3f3f3f" stroke="#585858" stroke-width="0.4"/>
<polygon points="66.7,202.6 47.1,201.7 48.5,205.1 68.1,206.0" fill="#565656" stroke="#6f6f6f" stroke-width="0.4"/>
<polygon points="51.0,184.7 68.6,186.2 66.7,202.6 47.1,201.7" fill="#757575" stroke="#afafaf" stroke-width="0.85" stroke-linejoin="round"/>
<polygon points="102.8,196.1 120.0,195.9 118.7,207.6 101.9,205.4" fill="#080808" opacity="0.55"/>
<polygon points="118.0,189.9 116.7,201.6 117.2,205.6 118.5,193.9" fill="#2e2e2e" stroke="#474747" stroke-width="0.4"/>
<polygon points="116.7,201.6 100.0,199.4 100.4,203.4 117.2,205.6" fill="#444444" stroke="#5d5d5d" stroke-width="0.4"/>
<polygon points="100.8,190.2 118.0,189.9 116.7,201.6 100.0,199.4" fill="#656565" stroke="#9f9f9f" stroke-width="0.85" stroke-linejoin="round"/>
<polygon points="103.7,190.6 116.1,190.8 114.7,198.8 103.3,198.6" fill="#6b6b6b" stroke="#929292" stroke-width="0.55"/>
<polygon points="53.6,192.8 53.6,211.1 36.3,209.5 40.0,191.2" fill="#080808" opacity="0.55"/>
<polygon points="53.2,205.1 35.9,203.5 34.8,207.5 52.1,209.1" fill="#6e6e6e" stroke="#878787" stroke-width="0.4"/>
<polygon points="35.9,203.5 39.6,185.2 38.5,189.2 34.8,207.5" fill="#585858" stroke="#717171" stroke-width="0.4"/>
<polygon points="53.2,186.8 53.2,205.1 35.9,203.5 39.6,185.2" fill="#8f8f8f" stroke="#c9c9c9" stroke-width="0.85" stroke-linejoin="round"/>
<polygon points="49.3,190.0 49.2,199.6 40.0,200.1 41.6,189.1" fill="#979797" stroke="#bcbcbc" stroke-width="0.55"/>
<polygon points="83.0,198.2 95.0,206.0 88.6,214.3 77.3,204.9" fill="#080808" opacity="0.55"/>
<polygon points="92.8,198.0 86.4,206.2 87.1,212.3 93.5,204.0" fill="#2c2c2c" stroke="#454545" stroke-width="0.4"/>
<polygon points="86.4,206.2 75.2,196.8 75.8,202.9 87.1,212.3" fill="#303030" stroke="#494949" stroke-width="0.4"/>
<polygon points="80.9,190.2 92.8,198.0 86.4,206.2 75.2,196.8" fill="#5e5e5e" stroke="#989898" stroke-width="0.85" stroke-linejoin="round"/>
<polygon points="114.7,194.8 129.2,205.7 124.7,214.6 108.4,207.3" fill="#080808" opacity="0.55"/>
<polygon points="128.2,200.0 123.7,208.9 123.2,212.6 127.7,203.7" fill="#2e2e2e" stroke="#474747" stroke-width="0.4"/>
<polygon points="123.7,208.9 107.3,201.7 106.9,205.3 123.2,212.6" fill="#3a3a3a" stroke="#535353" stroke-width="0.4"/>
<polygon points="113.7,189.2 128.2,200.0 123.7,208.9 107.3,201.7" fill="#626262" stroke="#9c9c9c" stroke-width="0.85" stroke-linejoin="round"/>
<polygon points="114.5,193.6 122.9,200.6 121.3,204.7 111.0,201.3" fill="#5c5c5c" stroke="#8f8f8f" stroke-width="0.55"/>
<polygon points="41.8,205.2 29.5,215.7 18.9,205.4 31.1,194.0" fill="#080808" opacity="0.55"/>
<polygon points="38.9,199.5 26.7,210.0 28.0,213.7 40.3,203.2" fill="#343434" stroke="#4d4d4d" stroke-width="0.4"/>
<polygon points="26.7,210.0 16.0,199.7 17.4,203.4 28.0,213.7" fill="#333333" stroke="#4c4c4c" stroke-width="0.4"/>
<polygon points="38.9,199.5 26.7,210.0 16.0,199.7 28.2,188.2" fill="#636363" stroke="#9d9d9d" stroke-width="0.85" stroke-linejoin="round"/>
<polygon points="31.9,200.3 26.2,204.8 22.8,200.6 26.8,195.2" fill="#636363" stroke="#909090" stroke-width="0.55"/>
<polygon points="36.3,215.9 21.0,216.4 19.4,203.0 35.5,201.5" fill="#080808" opacity="0.55"/>
<polygon points="35.7,208.0 20.4,208.5 19.5,214.4 34.8,213.9" fill="#525252" stroke="#6b6b6b" stroke-width="0.4"/>
<polygon points="20.4,208.5 18.8,195.1 17.9,201.0 19.5,214.4" fill="#3a3a3a" stroke="#535353" stroke-width="0.4"/>
<polygon points="35.7,208.0 20.4,208.5 18.8,195.1 34.9,193.6" fill="#717171" stroke="#ababab" stroke-width="0.85" stroke-linejoin="round"/>
<polygon points="30.9,205.6 22.4,204.2 21.9,196.9 30.7,197.2" fill="#6c6c6c" stroke="#9e9e9e" stroke-width="0.55"/>
<polygon points="32.1,208.4 13.5,217.9 8.0,203.6 25.0,198.3" fill="#080808" opacity="0.55"/>
<polygon points="30.4,202.5 11.8,212.0 12.0,215.9 30.6,206.4" fill="#646464" stroke="#7d7d7d" stroke-width="0.4"/>
<polygon points="11.8,212.0 6.3,197.7 6.5,201.6 12.0,215.9" fill="#585858" stroke="#717171" stroke-width="0.4"/>
<polygon points="30.4,202.5 11.8,212.0 6.3,197.7 23.3,192.4" fill="#8d8d8d" stroke="#c7c7c7" stroke-width="0.85" stroke-linejoin="round"/>
<polygon points="25.8,202.8 14.0,208.3 10.9,198.5 21.9,195.7" fill="#8e8e8e" stroke="#bababa" stroke-width="0.55"/>
<polygon points="108.3,199.7 115.3,216.9 102.9,220.7 99.7,202.9" fill="#080808" opacity="0.55"/>
<polygon points="112.9,209.0 100.6,212.9 101.4,218.7 113.8,214.9" fill="#4e4e4e" stroke="#676767" stroke-width="0.4"/>
<polygon points="100.6,212.9 97.3,195.1 98.2,200.9 101.4,218.7" fill="#3d3d3d" stroke="#565656" stroke-width="0.4"/>
<polygon points="106.0,191.8 112.9,209.0 100.6,212.9 97.3,195.1" fill="#747474" stroke="#aeaeae" stroke-width="0.85" stroke-linejoin="round"/>
<polygon points="104.7,195.1 109.4,206.6 101.8,208.7 99.5,198.5" fill="#787878" stroke="#a1a1a1" stroke-width="0.55"/>
<polygon points="55.1,204.4 71.7,203.7 71.4,212.7 54.6,213.4" fill="#080808" opacity="0.55"/>
<polygon points="71.3,206.8 54.5,207.5 53.1,211.4 69.9,210.7" fill="#555555" stroke="#6e6e6e" stroke-width="0.4"/>
<polygon points="54.5,207.5 55.0,198.5 53.6,202.4 53.1,211.4" fill="#3d3d3d" stroke="#565656" stroke-width="0.4"/>
<polygon points="55.0,198.5 71.6,197.8 71.3,206.8 54.5,207.5" fill="#747474" stroke="#aeaeae" stroke-width="0.85" stroke-linejoin="round"/>
<polygon points="58.3,200.2 67.8,200.4 69.0,204.3 58.8,205.9" fill="#696969" stroke="#a1a1a1" stroke-width="0.55"/>
<polygon points="76.8,199.9 88.0,213.1 77.1,223.6 64.7,207.0" fill="#080808" opacity="0.55"/>
<polygon points="87.9,206.4 77.0,216.9 75.6,221.6 86.5,211.1" fill="#383838" stroke="#515151" stroke-width="0.4"/>
<polygon points="77.0,216.9 64.6,200.3 63.2,205.0 75.6,221.6" fill="#353535" stroke="#4e4e4e" stroke-width="0.4"/>
<polygon points="76.7,193.2 87.9,206.4 77.0,216.9 64.6,200.3" fill="#676767" stroke="#a1a1a1" stroke-width="0.85" stroke-linejoin="round"/>
<polygon points="76.8,198.0 84.0,205.9 77.5,212.5 68.8,201.4" fill="#666666" stroke="#949494" stroke-width="0.55"/>
<polygon points="66.8,212.1 53.3,222.1 44.2,213.4 56.0,202.2" fill="#080808" opacity="0.55"/>
<polygon points="65.6,205.0 52.0,214.9 51.8,220.1 65.3,210.1" fill="#454545" stroke="#5e5e5e" stroke-width="0.4"/>
<polygon points="52.0,214.9 42.9,206.2 42.7,211.4 51.8,220.1" fill="#434343" stroke="#5c5c5c" stroke-width="0.4"/>
<polygon points="65.6,205.0 52.0,214.9 42.9,206.2 54.8,195.0" fill="#727272" stroke="#acacac" stroke-width="0.85" stroke-linejoin="round"/>
<polygon points="61.5,204.5 53.9,211.6 47.3,206.4 55.4,198.4" fill="#6e6e6e" stroke="#9f9f9f" stroke-width="0.55"/>
<polygon points="69.4,202.5 85.7,211.3 78.0,223.7 64.5,213.3" fill="#080808" opacity="0.55"/>
<polygon points="83.5,205.3 75.8,217.7 76.5,221.7 84.2,209.3" fill="#393939" stroke="#525252" stroke-width="0.4"/>
<polygon points="75.8,217.7 62.4,207.3 63.0,211.3 76.5,221.7" fill="#3f3f3f" stroke="#585858" stroke-width="0.4"/>
<polygon points="67.2,196.5 83.5,205.3 75.8,217.7 62.4,207.3" fill="#6d6d6d" stroke="#a7a7a7" stroke-width="0.85" stroke-linejoin="round"/>
<polygon points="68.8,200.3 79.2,205.2 73.5,213.8 65.1,207.0" fill="#616161" stroke="#9a9a9a" stroke-width="0.55"/>
<polygon points="29.4,204.2 29.2,218.7 21.1,221.5 18.5,206.1" fill="#080808" opacity="0.55"/>
<polygon points="28.6,213.1 20.5,215.9 19.6,219.5 27.7,216.7" fill="#6b6b6b" stroke="#848484" stroke-width="0.4"/>
<polygon points="20.5,215.9 17.8,200.5 17.0,204.1 19.6,219.5" fill="#5b5b5b" stroke="#747474" stroke-width="0.4"/>
<polygon points="28.8,198.6 28.6,213.1 20.5,215.9 17.8,200.5" fill="#929292" stroke="#cccccc" stroke-width="0.85" stroke-linejoin="round"/>
<polygon points="48.0,204.8 64.9,212.0 58.3,225.8 44.2,218.5" fill="#080808" opacity="0.55"/>
<polygon points="63.3,204.0 56.7,217.9 56.8,223.8 63.4,210.0" fill="#393939" stroke="#525252" stroke-width="0.4"/>
<polygon points="56.7,217.9 42.7,210.5 42.7,216.5 56.8,223.8" fill="#444444" stroke="#5d5d5d" stroke-width="0.4"/>
<polygon points="46.4,196.8 63.3,204.0 56.7,217.9 42.7,210.5" fill="#6d6d6d" stroke="#a7a7a7" stroke-width="0.85" stroke-linejoin="round"/>
<polygon points="48.3,199.4 59.4,205.7 54.4,215.9 44.3,209.3" fill="#6c6c6c" stroke="#9a9a9a" stroke-width="0.55"/>
<polygon points="72.4,203.7 75.2,218.8 62.0,224.1 57.8,208.7" fill="#080808" opacity="0.55"/>
<polygon points="74.1,212.6 61.0,218.0 60.5,222.1 73.7,216.8" fill="#6c6c6c" stroke="#858585" stroke-width="0.4"/>
<polygon points="61.0,218.0 56.8,202.6 56.3,206.7 60.5,222.1" fill="#5e5e5e" stroke="#777777" stroke-width="0.4"/>
<polygon points="71.3,197.5 74.1,212.6 61.0,218.0 56.8,202.6" fill="#949494" stroke="#cecece" stroke-width="0.85" stroke-linejoin="round"/>
<polygon points="67.5,203.1 68.9,210.1 62.5,212.1 61.9,206.1" fill="#909090" stroke="#c1c1c1" stroke-width="0.55"/>
<polygon points="101.2,208.1 92.4,224.6 84.1,221.4 92.1,204.7" fill="#080808" opacity="0.55"/>
<polygon points="99.7,202.1 90.9,218.6 90.9,222.6 99.7,206.1" fill="#383838" stroke="#515151" stroke-width="0.4"/>
<polygon points="90.9,218.6 82.6,215.4 82.6,219.4 90.9,222.6" fill="#454545" stroke="#5e5e5e" stroke-width="0.4"/>
<polygon points="99.7,202.1 90.9,218.6 82.6,215.4 90.6,198.6" fill="#6c6c6c" stroke="#a6a6a6" stroke-width="0.85" stroke-linejoin="round"/>
<polygon points="44.3,205.1 48.7,219.9 39.9,224.9 34.1,212.7" fill="#080808" opacity="0.55"/>
<polygon points="46.1,214.1 37.3,219.2 38.4,222.9 47.2,217.9" fill="#333333" stroke="#4c4c4c" stroke-width="0.4"/>
<polygon points="37.3,219.2 31.5,207.0 32.6,210.7 38.4,222.9" fill="#292929" stroke="#424242" stroke-width="0.4"/>
<polygon points="41.8,199.4 46.1,214.1 37.3,219.2 31.5,207.0" fill="#5e5e5e" stroke="#989898" stroke-width="0.85" stroke-linejoin="round"/>
<polygon points="138.1,210.8 137.2,226.6 124.7,226.6 127.3,209.7" fill="#080808" opacity="0.55"/>
<polygon points="136.4,219.7 123.8,219.7 123.2,224.6 135.7,224.6" fill="#404040" stroke="#595959" stroke-width="0.4"/>
<polygon points="137.2,203.9 136.4,219.7 123.8,219.7 126.5,202.8" fill="#5e5e5e" stroke="#989898" stroke-width="0.85" stroke-linejoin="round"/>
<polygon points="115.1,226.1 100.2,232.5 93.6,219.6 109.4,214.6" fill="#080808" opacity="0.55"/>
<polygon points="114.8,219.2 99.8,225.7 98.7,230.5 113.6,224.1" fill="#393939" stroke="#525252" stroke-width="0.4"/>
<polygon points="99.8,225.7 93.2,212.7 92.1,217.6 98.7,230.5" fill="#2d2d2d" stroke="#464646" stroke-width="0.4"/>
<polygon points="114.8,219.2 99.8,225.7 93.2,212.7 109.1,207.8" fill="#616161" stroke="#9b9b9b" stroke-width="0.85" stroke-linejoin="round"/>
<polygon points="122.0,215.1 139.7,220.0 136.6,233.9 120.5,228.6" fill="#080808" opacity="0.55"/>
<polygon points="136.2,228.0 120.1,222.7 119.0,226.6 135.1,231.9" fill="#5c5c5c" stroke="#757575" stroke-width="0.4"/>
<polygon points="120.1,222.7 121.6,209.2 120.5,213.1 119.0,226.6" fill="#4b4b4b" stroke="#646464" stroke-width="0.4"/>
<polygon points="121.6,209.2 139.4,214.1 136.2,228.0 120.1,222.7" fill="#828282" stroke="#bcbcbc" stroke-width="0.85" stroke-linejoin="round"/>
<polygon points="124.3,211.4 135.8,216.0 134.6,226.1 122.3,221.0" fill="#858585" stroke="#afafaf" stroke-width="0.55"/>
<polygon points="5.0,218.5 14.5,229.0 3.0,238.4 -7.5,226.7" fill="#080808" opacity="0.55"/>
<polygon points="14.2,222.3 2.8,231.7 1.5,236.4 13.0,227.0" fill="#353535" stroke="#4e4e4e" stroke-width="0.4"/>
<polygon points="2.8,231.7 -7.8,219.9 -9.0,224.7 1.5,236.4" fill="#323232" stroke="#4b4b4b" stroke-width="0.4"/>
<polygon points="4.7,211.7 14.2,222.3 2.8,231.7 -7.8,219.9" fill="#636363" stroke="#9d9d9d" stroke-width="0.85" stroke-linejoin="round"/>
<polygon points="105.2,224.2 94.1,236.2 87.3,230.8 97.7,218.1" fill="#080808" opacity="0.55"/>
<polygon points="103.4,218.8 92.3,230.8 92.6,234.2 103.7,222.2" fill="#4c4c4c" stroke="#656565" stroke-width="0.4"/>
<polygon points="92.3,230.8 85.5,225.4 85.8,228.8 92.6,234.2" fill="#4f4f4f" stroke="#686868" stroke-width="0.4"/>
<polygon points="103.4,218.8 92.3,230.8 85.5,225.4 95.9,212.7" fill="#7c7c7c" stroke="#b6b6b6" stroke-width="0.85" stroke-linejoin="round"/>
<polygon points="99.8,219.5 94.3,226.3 89.7,223.2 95.2,216.9" fill="#747474" stroke="#a9a9a9" stroke-width="0.55"/>
</g></g>
<text x="12.5" y="127.8" font-size="17" font-weight="bold" fill="#fff" dominant-baseline="central" stroke="#666" stroke-width="0.5" paint-order="stroke">(b)</text>
<rect x="8.0" y="203.5" width="56.0" height="5.8" fill="#e6e6e6" stroke="#999" stroke-width="0.3"/>
<line x1="25.0" y1="203.5" x2="25.0" y2="209.3" stroke="#777" stroke-width="0.3"/>
<line x1="45.0" y1="203.5" x2="45.0" y2="209.3" stroke="#777" stroke-width="0.3"/>
<text x="9" y="205.5" font-size="2" fill="#333" dominant-baseline="central">Detector</text>
<text x="26" y="206.5" font-size="2.6" fill="#333" dominant-baseline="central">Mag = 3.00 K X</text>
<text x="46" y="205.5" font-size="2" fill="#333" dominant-baseline="central">WD = 8.5 mm</text>
<text x="46" y="207.8" font-size="2" fill="#333" dominant-baseline="central">EHT = 5.00 kV</text>
<rect x="92.8" y="147.0" width="45.4" height="65.3" fill="#fff" stroke="none" stroke-width="0.8"/>
<rect x="94.5" y="148.0" width="38.3" height="53.5" fill="none" stroke="#333" stroke-width="0.5"/>
<text x="114.0" y="151.3" font-size="4.5" text-anchor="middle" dominant-baseline="central" fill="#222">Mean = 11.16 μm</text>
<rect x="95.1" y="198.3" width="3.7" height="2.2" fill="#f07272" stroke="#b03030" stroke-width="0.35"/>
<rect x="98.8" y="195.0" width="4.6" height="5.5" fill="#f07272" stroke="#b03030" stroke-width="0.35"/>
<rect x="103.3" y="189.9" width="3.7" height="10.6" fill="#f07272" stroke="#b03030" stroke-width="0.35"/>
<rect x="107.0" y="189.9" width="3.7" height="10.6" fill="#f07272" stroke="#b03030" stroke-width="0.35"/>
<rect x="110.7" y="173.0" width="3.7" height="27.5" fill="#f07272" stroke="#b03030" stroke-width="0.35"/>
<rect x="114.4" y="157.4" width="4.2" height="43.1" fill="#f07272" stroke="#b03030" stroke-width="0.35"/>
<rect x="118.6" y="162.0" width="3.1" height="38.5" fill="#f07272" stroke="#b03030" stroke-width="0.35"/>
<rect x="121.7" y="188.6" width="3.3" height="11.9" fill="#f07272" stroke="#b03030" stroke-width="0.35"/>
<path d="M94.2,200.9 C94.5,200.9 95.3,200.9 95.9,200.9 C96.4,200.9 97.0,200.9 97.5,200.9 C98.1,200.9 98.7,200.9 99.2,200.8 C99.8,200.7 100.3,200.7 100.9,200.5 C101.5,200.4 102.0,200.3 102.6,199.9 C103.1,199.6 103.7,199.2 104.3,198.5 C104.8,197.8 105.4,197.0 105.9,195.8 C106.5,194.6 107.1,193.1 107.6,191.2 C108.2,189.2 108.8,186.9 109.3,184.3 C109.9,181.8 110.4,178.7 111.0,175.8 C111.6,173.0 112.1,169.7 112.7,167.1 C113.2,164.5 113.8,161.9 114.4,160.3 C114.9,158.7 115.5,157.6 116.0,157.5 C116.6,157.3 117.2,158.1 117.7,159.5 C118.3,160.8 118.8,163.2 119.4,165.7 C120.0,168.1 120.5,171.3 121.1,174.2 C121.6,177.1 122.2,180.2 122.8,182.9 C123.3,185.5 123.9,188.0 124.4,190.1 C125.0,192.1 125.6,193.8 126.1,195.1 C126.7,196.4 127.3,197.4 127.8,198.1 C128.4,198.9 128.9,199.3 129.5,199.7 C130.1,200.1 130.6,200.3 131.2,200.5 C131.7,200.6 132.3,200.7 132.9,200.8 C133.4,200.8 134.3,200.9 134.5,200.9" stroke="#222" stroke-width="0.55" fill="none" stroke-linejoin="round" stroke-linecap="round"/>
<line x1="94.5" y1="200.6" x2="132.8" y2="200.6" stroke="#333" stroke-width="0.35"/>
<text x="96.4" y="205.7" font-size="3.8" text-anchor="middle" dominant-baseline="central" fill="#222">6</text>
<line x1="96.4" y1="201.5" x2="96.4" y2="200.3" stroke="#333" stroke-width="0.4"/>
<text x="103.0" y="205.7" font-size="3.8" text-anchor="middle" dominant-baseline="central" fill="#222">8</text>
<line x1="103.0" y1="201.5" x2="103.0" y2="200.3" stroke="#333" stroke-width="0.4"/>
<text x="110.7" y="205.7" font-size="3.8" text-anchor="middle" dominant-baseline="central" fill="#222">10</text>
<line x1="110.7" y1="201.5" x2="110.7" y2="200.3" stroke="#333" stroke-width="0.4"/>
<text x="118.0" y="205.7" font-size="3.8" text-anchor="middle" dominant-baseline="central" fill="#222">12</text>
<line x1="118.0" y1="201.5" x2="118.0" y2="200.3" stroke="#333" stroke-width="0.4"/>
<text x="125.4" y="205.7" font-size="3.8" text-anchor="middle" dominant-baseline="central" fill="#222">14</text>
<line x1="125.4" y1="201.5" x2="125.4" y2="200.3" stroke="#333" stroke-width="0.4"/>
<text x="132.7" y="205.7" font-size="3.8" text-anchor="middle" dominant-baseline="central" fill="#222">16</text>
<line x1="132.7" y1="201.5" x2="132.7" y2="200.3" stroke="#333" stroke-width="0.4"/>
<text x="133.7" y="150.6" font-size="3.7" text-anchor="start" dominant-baseline="central" fill="#222">20</text>
<line x1="132.8" y1="150.6" x2="131.6" y2="150.6" stroke="#333" stroke-width="0.4"/>
<text x="133.7" y="160.6" font-size="3.7" text-anchor="start" dominant-baseline="central" fill="#222">16</text>
<line x1="132.8" y1="160.6" x2="131.6" y2="160.6" stroke="#333" stroke-width="0.4"/>
<text x="133.7" y="170.3" font-size="3.7" text-anchor="start" dominant-baseline="central" fill="#222">12</text>
<line x1="132.8" y1="170.3" x2="131.6" y2="170.3" stroke="#333" stroke-width="0.4"/>
<text x="133.7" y="180.0" font-size="3.7" text-anchor="start" dominant-baseline="central" fill="#222">8</text>
<line x1="132.8" y1="180.0" x2="131.6" y2="180.0" stroke="#333" stroke-width="0.4"/>
<text x="133.7" y="189.9" font-size="3.7" text-anchor="start" dominant-baseline="central" fill="#222">4</text>
<line x1="132.8" y1="189.9" x2="131.6" y2="189.9" stroke="#333" stroke-width="0.4"/>
<text x="133.7" y="199.6" font-size="3.7" text-anchor="start" dominant-baseline="central" fill="#222">0</text>
<line x1="132.8" y1="199.6" x2="131.6" y2="199.6" stroke="#333" stroke-width="0.4"/>
<text x="114.0" y="209.6" font-size="4.5" text-anchor="middle" dominant-baseline="central" fill="#222">Particle Size (μm)</text>
<text x="126.8" y="175.0" font-size="4.5" text-anchor="middle" dominant-baseline="central" fill="#222" transform="rotate(90 126.80000000000001 175)">Count</text>
<g clip-path="url(#clipc)">
<g filter="url(#semtex)"><rect x="7" y="220" width="136" height="102" fill="#202020"/>
<polygon points="131.3,214.8 132.1,227.8 125.1,230.3 120.6,216.1" fill="#080808" opacity="0.55"/>
<polygon points="129.1,208.8 129.9,221.8 130.6,225.8 129.8,212.8" fill="#464646" stroke="#5f5f5f" stroke-width="0.4"/>
<polygon points="129.9,221.8 122.9,224.3 123.6,228.3 130.6,225.8" fill="#575757" stroke="#707070" stroke-width="0.4"/>
<polygon points="122.9,224.3 118.4,210.1 119.1,214.1 123.6,228.3" fill="#474747" stroke="#606060" stroke-width="0.4"/>
<polygon points="129.1,208.8 129.9,221.8 122.9,224.3 118.4,210.1" fill="#7d7d7d" stroke="#b7b7b7" stroke-width="0.85" stroke-linejoin="round"/>
<polygon points="127.0,210.5 127.3,219.2 123.3,221.6 119.8,211.8" fill="#828282" stroke="#aaaaaa" stroke-width="0.55"/>
<polygon points="10.8,219.7 12.8,232.4 5.2,230.3 6.2,219.0" fill="#080808" opacity="0.55"/>
<polygon points="11.1,224.1 3.5,222.1 3.7,228.3 11.3,230.4" fill="#5e5e5e" stroke="#777777" stroke-width="0.4"/>
<polygon points="9.1,211.5 11.1,224.1 3.5,222.1 4.5,210.8" fill="#838383" stroke="#bdbdbd" stroke-width="0.85" stroke-linejoin="round"/>
<polygon points="36.0,216.2 43.7,226.5 36.5,233.4 28.1,220.9" fill="#080808" opacity="0.55"/>
<polygon points="42.8,219.6 35.6,226.5 35.0,231.4 42.2,224.5" fill="#3e3e3e" stroke="#575757" stroke-width="0.4"/>
<polygon points="35.6,226.5 27.2,214.0 26.6,218.9 35.0,231.4" fill="#3a3a3a" stroke="#535353" stroke-width="0.4"/>
<polygon points="35.2,209.3 42.8,219.6 35.6,226.5 27.2,214.0" fill="#6d6d6d" stroke="#a7a7a7" stroke-width="0.85" stroke-linejoin="round"/>
<polygon points="63.0,218.2 78.2,226.4 68.7,235.1 55.2,226.9" fill="#080808" opacity="0.55"/>
<polygon points="77.4,218.5 68.0,227.3 67.2,233.1 76.7,224.4" fill="#393939" stroke="#525252" stroke-width="0.4"/>
<polygon points="68.0,227.3 54.5,219.0 53.7,224.9 67.2,233.1" fill="#3c3c3c" stroke="#555555" stroke-width="0.4"/>
<polygon points="62.2,210.3 77.4,218.5 68.0,227.3 54.5,219.0" fill="#686868" stroke="#a2a2a2" stroke-width="0.85" stroke-linejoin="round"/>
<polygon points="63.5,213.1 74.5,218.3 67.5,224.4 57.4,218.2" fill="#6d6d6d" stroke="#959595" stroke-width="0.55"/>
<polygon points="42.9,222.4 30.7,235.6 23.7,230.2 34.0,216.0" fill="#080808" opacity="0.55"/>
<polygon points="41.9,215.9 29.7,229.2 29.2,233.6 41.4,220.4" fill="#202020" stroke="#393939" stroke-width="0.4"/>
<polygon points="29.7,229.2 22.7,223.8 22.2,228.2 29.2,233.6" fill="#232323" stroke="#3c3c3c" stroke-width="0.4"/>
<polygon points="41.9,215.9 29.7,229.2 22.7,223.8 33.0,209.5" fill="#505050" stroke="#8a8a8a" stroke-width="0.85" stroke-linejoin="round"/>
<polygon points="39.0,216.9 31.5,225.4 25.6,222.3 32.1,214.0" fill="#545454" stroke="#7d7d7d" stroke-width="0.55"/>
<polygon points="143.2,226.3 132.6,233.5 128.2,228.0 140.5,220.1" fill="#080808" opacity="0.55"/>
<polygon points="142.4,220.2 131.7,227.4 131.1,231.5 141.7,224.3" fill="#373737" stroke="#505050" stroke-width="0.4"/>
<polygon points="131.7,227.4 127.3,221.9 126.7,226.0 131.1,231.5" fill="#313131" stroke="#4a4a4a" stroke-width="0.4"/>
<polygon points="142.4,220.2 131.7,227.4 127.3,221.9 139.6,214.0" fill="#636363" stroke="#9d9d9d" stroke-width="0.85" stroke-linejoin="round"/>
<polygon points="133.6,220.1 138.5,237.4 129.3,238.5 124.1,222.2" fill="#080808" opacity="0.55"/>
<polygon points="137.6,230.2 128.5,231.3 127.8,236.5 137.0,235.4" fill="#353535" stroke="#4e4e4e" stroke-width="0.4"/>
<polygon points="128.5,231.3 123.3,215.0 122.6,220.2 127.8,236.5" fill="#212121" stroke="#3a3a3a" stroke-width="0.4"/>
<polygon points="132.7,212.9 137.6,230.2 128.5,231.3 123.3,215.0" fill="#565656" stroke="#909090" stroke-width="0.85" stroke-linejoin="round"/>
<polygon points="133.0,215.9 135.8,227.4 130.1,227.8 126.1,216.8" fill="#575757" stroke="#838383" stroke-width="0.55"/>
<polygon points="119.9,228.6 107.9,240.1 100.6,230.9 112.6,220.2" fill="#080808" opacity="0.55"/>
<polygon points="118.0,222.2 106.0,233.7 106.4,238.1 118.4,226.6" fill="#3e3e3e" stroke="#575757" stroke-width="0.4"/>
<polygon points="106.0,233.7 98.8,224.5 99.1,228.9 106.4,238.1" fill="#3c3c3c" stroke="#555555" stroke-width="0.4"/>
<polygon points="118.0,222.2 106.0,233.7 98.8,224.5 110.7,213.8" fill="#6d6d6d" stroke="#a7a7a7" stroke-width="0.85" stroke-linejoin="round"/>
<polygon points="114.5,223.1 107.2,231.2 102.3,224.4 109.7,216.2" fill="#707070" stroke="#9a9a9a" stroke-width="0.55"/>
<polygon points="15.6,223.2 30.6,236.2 23.7,243.7 9.3,231.2" fill="#080808" opacity="0.55"/>
<polygon points="30.0,228.0 23.0,235.5 22.2,241.7 29.1,234.2" fill="#4a4a4a" stroke="#636363" stroke-width="0.4"/>
<polygon points="23.0,235.5 8.7,223.0 7.8,229.2 22.2,241.7" fill="#4b4b4b" stroke="#646464" stroke-width="0.4"/>
<polygon points="14.9,215.0 30.0,228.0 23.0,235.5 8.7,223.0" fill="#7a7a7a" stroke="#b4b4b4" stroke-width="0.85" stroke-linejoin="round"/>
<polygon points="16.6,218.8 26.5,226.9 22.1,231.3 11.7,223.5" fill="#7c7c7c" stroke="#a7a7a7" stroke-width="0.55"/>
<polygon points="87.2,236.4 73.5,236.1 71.8,228.7 85.9,227.7" fill="#080808" opacity="0.55"/>
<polygon points="84.8,230.0 71.1,229.7 72.0,234.1 85.7,234.4" fill="#555555" stroke="#6e6e6e" stroke-width="0.4"/>
<polygon points="71.1,229.7 69.4,222.2 70.3,226.7 72.0,234.1" fill="#3d3d3d" stroke="#565656" stroke-width="0.4"/>
<polygon points="83.6,221.3 84.8,230.0 85.7,234.4 84.4,225.7" fill="#3d3d3d" stroke="#565656" stroke-width="0.4"/>
<polygon points="84.8,230.0 71.1,229.7 69.4,222.2 83.6,221.3" fill="#747474" stroke="#aeaeae" stroke-width="0.85" stroke-linejoin="round"/>
<polygon points="82.2,228.0 72.6,227.9 70.8,224.0 81.9,221.6" fill="#737373" stroke="#a1a1a1" stroke-width="0.55"/>
<polygon points="21.5,233.7 8.4,238.3 8.3,230.3 21.8,227.0" fill="#080808" opacity="0.55"/>
<polygon points="19.2,227.3 6.0,231.9 6.9,236.3 20.0,231.7" fill="#616161" stroke="#7a7a7a" stroke-width="0.4"/>
<polygon points="19.4,220.6 19.2,227.3 20.0,231.7 20.3,225.0" fill="#505050" stroke="#696969" stroke-width="0.4"/>
<polygon points="19.2,227.3 6.0,231.9 5.9,223.9 19.4,220.6" fill="#878787" stroke="#c1c1c1" stroke-width="0.85" stroke-linejoin="round"/>
<polygon points="141.8,233.3 125.3,240.8 120.1,228.9 137.1,222.6" fill="#080808" opacity="0.55"/>
<polygon points="140.7,227.1 124.2,234.6 123.8,238.8 140.3,231.3" fill="#595959" stroke="#727272" stroke-width="0.4"/>
<polygon points="124.2,234.6 119.0,222.7 118.6,226.9 123.8,238.8" fill="#4c4c4c" stroke="#656565" stroke-width="0.4"/>
<polygon points="140.7,227.1 124.2,234.6 119.0,222.7 135.9,216.4" fill="#818181" stroke="#bbbbbb" stroke-width="0.85" stroke-linejoin="round"/>
<polygon points="138.3,226.2 126.4,231.1 121.9,223.0 134.4,219.5" fill="#878787" stroke="#aeaeae" stroke-width="0.55"/>
<polygon points="45.8,235.6 30.4,242.1 26.8,230.4 39.5,224.4" fill="#080808" opacity="0.55"/>
<polygon points="45.3,229.8 29.9,236.3 28.9,240.1 44.3,233.6" fill="#484848" stroke="#616161" stroke-width="0.4"/>
<polygon points="29.9,236.3 26.3,224.6 25.3,228.4 28.9,240.1" fill="#3a3a3a" stroke="#535353" stroke-width="0.4"/>
<polygon points="45.3,229.8 29.9,236.3 26.3,224.6 39.0,218.6" fill="#707070" stroke="#aaaaaa" stroke-width="0.85" stroke-linejoin="round"/>
<polygon points="57.5,231.5 72.8,234.2 73.4,240.6 57.7,239.2" fill="#080808" opacity="0.55"/>
<polygon points="70.2,226.0 70.7,232.4 71.9,238.6 71.3,232.2" fill="#303030" stroke="#494949" stroke-width="0.4"/>
<polygon points="70.7,232.4 55.1,231.0 56.2,237.2 71.9,238.6" fill="#474747" stroke="#606060" stroke-width="0.4"/>
<polygon points="54.8,223.3 70.2,226.0 70.7,232.4 55.1,231.0" fill="#676767" stroke="#a1a1a1" stroke-width="0.85" stroke-linejoin="round"/>
<polygon points="57.4,225.7 67.5,226.9 69.3,230.6 57.0,231.4" fill="#5f5f5f" stroke="#949494" stroke-width="0.55"/>
<polygon points="121.7,228.8 131.6,238.1 124.4,247.6 112.8,234.0" fill="#080808" opacity="0.55"/>
<polygon points="131.2,230.4 124.0,239.9 122.9,245.6 130.1,236.1" fill="#565656" stroke="#6f6f6f" stroke-width="0.4"/>
<polygon points="124.0,239.9 112.4,226.2 111.3,232.0 122.9,245.6" fill="#575757" stroke="#707070" stroke-width="0.4"/>
<polygon points="121.3,221.1 131.2,230.4 124.0,239.9 112.4,226.2" fill="#888888" stroke="#c2c2c2" stroke-width="0.85" stroke-linejoin="round"/>
<polygon points="121.8,223.1 127.8,230.1 123.2,237.8 116.1,226.3" fill="#898989" stroke="#b5b5b5" stroke-width="0.55"/>
<polygon points="52.3,230.8 53.1,244.9 44.0,244.0 44.0,232.1" fill="#080808" opacity="0.55"/>
<polygon points="49.5,222.6 50.3,236.7 51.6,242.9 50.8,228.8" fill="#4b4b4b" stroke="#646464" stroke-width="0.4"/>
<polygon points="50.3,236.7 41.2,235.8 42.5,242.0 51.6,242.9" fill="#626262" stroke="#7b7b7b" stroke-width="0.4"/>
<polygon points="49.5,222.6 50.3,236.7 41.2,235.8 41.2,224.0" fill="#828282" stroke="#bcbcbc" stroke-width="0.85" stroke-linejoin="round"/>
<polygon points="47.6,225.9 47.5,233.9 43.1,233.8 43.7,226.1" fill="#8c8c8c" stroke="#afafaf" stroke-width="0.55"/>
<polygon points="98.5,230.9 92.5,246.0 84.6,244.8 89.3,229.2" fill="#080808" opacity="0.55"/>
<polygon points="98.4,223.7 92.4,238.7 91.0,244.0 97.0,228.9" fill="#2d2d2d" stroke="#464646" stroke-width="0.4"/>
<polygon points="92.4,238.7 84.5,237.5 83.1,242.8 91.0,244.0" fill="#404040" stroke="#595959" stroke-width="0.4"/>
<polygon points="98.4,223.7 92.4,238.7 84.5,237.5 89.2,221.9" fill="#626262" stroke="#9c9c9c" stroke-width="0.85" stroke-linejoin="round"/>
<polygon points="13.6,243.8 0.9,244.0 -1.0,237.2 13.2,236.2" fill="#080808" opacity="0.55"/>
<polygon points="13.2,235.5 0.6,235.7 -0.6,242.0 12.1,241.8" fill="#626262" stroke="#7b7b7b" stroke-width="0.4"/>
<polygon points="0.6,235.7 -1.4,228.9 -2.5,235.2 -0.6,242.0" fill="#4a4a4a" stroke="#636363" stroke-width="0.4"/>
<polygon points="13.2,235.5 0.6,235.7 -1.4,228.9 12.8,227.9" fill="#808080" stroke="#bababa" stroke-width="0.85" stroke-linejoin="round"/>
<polygon points="18.7,236.9 16.9,248.2 6.0,246.8 11.7,234.3" fill="#080808" opacity="0.55"/>
<polygon points="15.9,228.4 14.2,239.7 15.4,246.2 17.2,234.9" fill="#4a4a4a" stroke="#636363" stroke-width="0.4"/>
<polygon points="14.2,239.7 3.3,238.3 4.5,244.8 15.4,246.2" fill="#5f5f5f" stroke="#787878" stroke-width="0.4"/>
<polygon points="15.9,228.4 14.2,239.7 3.3,238.3 9.0,225.8" fill="#808080" stroke="#bababa" stroke-width="0.85" stroke-linejoin="round"/>
<polygon points="90.4,241.8 72.4,245.4 72.4,237.3 88.3,236.0" fill="#080808" opacity="0.55"/>
<polygon points="88.1,235.6 70.0,239.1 70.9,243.4 88.9,239.8" fill="#636363" stroke="#7c7c7c" stroke-width="0.4"/>
<polygon points="88.1,235.6 70.0,239.1 70.0,231.0 85.9,229.8" fill="#868686" stroke="#c0c0c0" stroke-width="0.85" stroke-linejoin="round"/>
<polygon points="84.5,235.2 72.9,237.4 71.8,231.3 83.4,230.6" fill="#838383" stroke="#b3b3b3" stroke-width="0.55"/>
<polygon points="103.1,233.1 115.0,243.0 107.5,250.8 97.4,241.0" fill="#080808" opacity="0.55"/>
<polygon points="112.3,236.4 104.8,244.1 106.0,248.8 113.5,241.0" fill="#2c2c2c" stroke="#454545" stroke-width="0.4"/>
<polygon points="104.8,244.1 94.7,234.4 95.9,239.0 106.0,248.8" fill="#2d2d2d" stroke="#464646" stroke-width="0.4"/>
<polygon points="100.4,226.5 112.3,236.4 104.8,244.1 94.7,234.4" fill="#5c5c5c" stroke="#969696" stroke-width="0.85" stroke-linejoin="round"/>
<polygon points="101.1,229.3 110.3,236.4 104.0,241.0 97.5,234.7" fill="#606060" stroke="#898989" stroke-width="0.55"/>
<polygon points="89.2,239.6 102.2,239.4 100.4,245.3 88.9,242.5" fill="#080808" opacity="0.55"/>
<polygon points="99.9,233.7 98.2,239.7 98.9,243.3 100.7,237.4" fill="#474747" stroke="#606060" stroke-width="0.4"/>
<polygon points="98.2,239.7 86.7,236.9 87.4,240.5 98.9,243.3" fill="#595959" stroke="#727272" stroke-width="0.4"/>
<polygon points="87.0,234.0 99.9,233.7 98.2,239.7 86.7,236.9" fill="#7d7d7d" stroke="#b7b7b7" stroke-width="0.85" stroke-linejoin="round"/>
<polygon points="128.9,238.0 142.6,238.3 142.3,247.4 128.0,248.7" fill="#080808" opacity="0.55"/>
<polygon points="140.9,240.8 126.6,242.1 126.5,246.7 140.8,245.4" fill="#474747" stroke="#606060" stroke-width="0.4"/>
<polygon points="127.6,231.4 141.2,231.7 140.9,240.8 126.6,242.1" fill="#676767" stroke="#a1a1a1" stroke-width="0.85" stroke-linejoin="round"/>
<polygon points="128.3,233.9 137.9,233.6 139.2,240.1 128.9,240.8" fill="#717171" stroke="#949494" stroke-width="0.55"/>
<polygon points="76.0,244.9 67.3,252.3 59.2,244.3 73.0,236.6" fill="#080808" opacity="0.55"/>
<polygon points="74.7,238.3 66.0,245.6 65.8,250.3 74.5,242.9" fill="#2a2a2a" stroke="#434343" stroke-width="0.4"/>
<polygon points="66.0,245.6 57.9,237.6 57.7,242.3 65.8,250.3" fill="#282828" stroke="#414141" stroke-width="0.4"/>
<polygon points="74.7,238.3 66.0,245.6 57.9,237.6 71.7,230.0" fill="#585858" stroke="#929292" stroke-width="0.85" stroke-linejoin="round"/>
<polygon points="23.7,241.9 11.6,253.9 2.6,246.5 15.1,232.8" fill="#080808" opacity="0.55"/>
<polygon points="22.8,234.2 10.7,246.2 10.1,251.9 22.2,239.9" fill="#2f2f2f" stroke="#484848" stroke-width="0.4"/>
<polygon points="10.7,246.2 1.6,238.8 1.1,244.5 10.1,251.9" fill="#313131" stroke="#4a4a4a" stroke-width="0.4"/>
<polygon points="22.8,234.2 10.7,246.2 1.6,238.8 14.1,225.1" fill="#5f5f5f" stroke="#999999" stroke-width="0.85" stroke-linejoin="round"/>
<polygon points="119.2,239.9 109.7,255.2 101.2,248.6 112.7,233.7" fill="#080808" opacity="0.55"/>
<polygon points="117.5,234.8 108.0,250.1 108.2,253.2 117.7,237.9" fill="#4d4d4d" stroke="#666666" stroke-width="0.4"/>
<polygon points="108.0,250.1 99.5,243.5 99.7,246.6 108.2,253.2" fill="#535353" stroke="#6c6c6c" stroke-width="0.4"/>
<polygon points="117.5,234.8 108.0,250.1 99.5,243.5 110.9,228.6" fill="#818181" stroke="#bbbbbb" stroke-width="0.85" stroke-linejoin="round"/>
<polygon points="65.8,238.7 77.9,249.4 69.3,253.3 60.6,244.5" fill="#080808" opacity="0.55"/>
<polygon points="75.5,244.1 66.8,248.0 67.8,251.3 76.4,247.4" fill="#454545" stroke="#5e5e5e" stroke-width="0.4"/>
<polygon points="66.8,248.0 58.1,239.1 59.1,242.5 67.8,251.3" fill="#3d3d3d" stroke="#565656" stroke-width="0.4"/>
<polygon points="63.4,233.4 75.5,244.1 66.8,248.0 58.1,239.1" fill="#6d6d6d" stroke="#a7a7a7" stroke-width="0.85" stroke-linejoin="round"/>
<polygon points="65.1,236.4 71.4,242.4 67.3,244.9 60.7,240.0" fill="#6a6a6a" stroke="#9a9a9a" stroke-width="0.55"/>
<polygon points="5.7,238.8 16.5,249.1 10.8,254.5 1.9,243.9" fill="#080808" opacity="0.55"/>
<polygon points="14.9,243.3 9.1,248.8 9.3,252.5 15.0,247.1" fill="#565656" stroke="#6f6f6f" stroke-width="0.4"/>
<polygon points="9.1,248.8 0.2,238.1 0.4,241.9 9.3,252.5" fill="#545454" stroke="#6d6d6d" stroke-width="0.4"/>
<polygon points="4.1,233.0 14.9,243.3 9.1,248.8 0.2,238.1" fill="#858585" stroke="#bfbfbf" stroke-width="0.85" stroke-linejoin="round"/>
<polygon points="66.4,247.4 50.7,256.4 48.3,249.9 62.2,243.7" fill="#080808" opacity="0.55"/>
<polygon points="64.4,241.0 48.7,249.9 49.2,254.4 64.9,245.4" fill="#2c2c2c" stroke="#454545" stroke-width="0.4"/>
<polygon points="48.7,249.9 46.3,243.4 46.8,247.9 49.2,254.4" fill="#212121" stroke="#3a3a3a" stroke-width="0.4"/>
<polygon points="64.4,241.0 48.7,249.9 46.3,243.4 60.2,237.3" fill="#575757" stroke="#919191" stroke-width="0.85" stroke-linejoin="round"/>
<polygon points="60.8,242.4 52.1,246.6 49.3,243.5 58.4,240.2" fill="#565656" stroke="#848484" stroke-width="0.55"/>
<polygon points="27.9,240.9 37.0,250.0 31.6,254.8 23.2,247.2" fill="#080808" opacity="0.55"/>
<polygon points="36.0,245.0 30.5,249.8 30.1,252.8 35.5,248.0" fill="#202020" stroke="#393939" stroke-width="0.4"/>
<polygon points="30.5,249.8 22.2,242.1 21.7,245.2 30.1,252.8" fill="#1f1f1f" stroke="#383838" stroke-width="0.4"/>
<polygon points="26.9,235.9 36.0,245.0 30.5,249.8 22.2,242.1" fill="#4e4e4e" stroke="#888888" stroke-width="0.85" stroke-linejoin="round"/>
<polygon points="140.0,249.0 128.6,257.2 121.8,250.4 136.6,240.0" fill="#080808" opacity="0.55"/>
<polygon points="137.4,243.1 126.0,251.2 127.1,255.2 138.5,247.0" fill="#484848" stroke="#616161" stroke-width="0.4"/>
<polygon points="126.0,251.2 119.2,244.4 120.3,248.4 127.1,255.2" fill="#444444" stroke="#5d5d5d" stroke-width="0.4"/>
<polygon points="137.4,243.1 126.0,251.2 119.2,244.4 134.0,234.1" fill="#747474" stroke="#aeaeae" stroke-width="0.85" stroke-linejoin="round"/>
<polygon points="133.3,243.7 127.0,246.9 124.5,244.2 131.9,239.1" fill="#777777" stroke="#a1a1a1" stroke-width="0.55"/>
<polygon points="41.5,242.2 53.7,256.7 43.1,261.3 35.2,246.0" fill="#080808" opacity="0.55"/>
<polygon points="52.0,250.1 41.3,254.6 41.6,259.3 52.2,254.7" fill="#393939" stroke="#525252" stroke-width="0.4"/>
<polygon points="41.3,254.6 33.5,239.3 33.7,244.0 41.6,259.3" fill="#2c2c2c" stroke="#454545" stroke-width="0.4"/>
<polygon points="39.8,235.5 52.0,250.1 41.3,254.6 33.5,239.3" fill="#606060" stroke="#9a9a9a" stroke-width="0.85" stroke-linejoin="round"/>
<polygon points="65.0,244.0 64.0,259.8 54.2,259.8 54.0,242.8" fill="#080808" opacity="0.55"/>
<polygon points="63.3,237.6 62.3,253.4 62.5,257.8 63.5,242.0" fill="#3c3c3c" stroke="#555555" stroke-width="0.4"/>
<polygon points="62.3,253.4 52.4,253.4 52.7,257.8 62.5,257.8" fill="#555555" stroke="#6e6e6e" stroke-width="0.4"/>
<polygon points="63.3,237.6 62.3,253.4 52.4,253.4 52.2,236.4" fill="#737373" stroke="#adadad" stroke-width="0.85" stroke-linejoin="round"/>
<polygon points="90.4,246.9 87.9,259.8 79.3,261.5 79.7,245.0" fill="#080808" opacity="0.55"/>
<polygon points="89.6,240.6 87.1,253.5 86.4,257.8 88.9,244.9" fill="#393939" stroke="#525252" stroke-width="0.4"/>
<polygon points="87.1,253.5 78.6,255.3 77.8,259.5 86.4,257.8" fill="#4d4d4d" stroke="#666666" stroke-width="0.4"/>
<polygon points="78.6,255.3 79.0,238.7 78.2,243.0 77.8,259.5" fill="#393939" stroke="#525252" stroke-width="0.4"/>
<polygon points="89.6,240.6 87.1,253.5 78.6,255.3 79.0,238.7" fill="#707070" stroke="#aaaaaa" stroke-width="0.85" stroke-linejoin="round"/>
<polygon points="87.6,242.9 85.6,251.9 81.2,251.4 80.9,241.4" fill="#797979" stroke="#9d9d9d" stroke-width="0.55"/>
<polygon points="52.3,246.9 63.0,254.5 57.5,264.1 45.7,253.8" fill="#080808" opacity="0.55"/>
<polygon points="62.1,248.3 56.5,257.9 56.0,262.1 61.5,252.5" fill="#262626" stroke="#3f3f3f" stroke-width="0.4"/>
<polygon points="56.5,257.9 44.7,247.6 44.2,251.8 56.0,262.1" fill="#2c2c2c" stroke="#454545" stroke-width="0.4"/>
<polygon points="51.3,240.7 62.1,248.3 56.5,257.9 44.7,247.6" fill="#5a5a5a" stroke="#949494" stroke-width="0.85" stroke-linejoin="round"/>
<polygon points="52.7,245.1 58.9,249.4 54.6,253.1 48.7,247.5" fill="#4f4f4f" stroke="#878787" stroke-width="0.55"/>
<polygon points="111.2,259.4 94.6,263.0 94.9,249.5 109.3,250.1" fill="#080808" opacity="0.55"/>
<polygon points="110.1,253.6 93.6,257.1 93.1,261.0 109.7,257.4" fill="#2b2b2b" stroke="#444444" stroke-width="0.4"/>
<polygon points="93.6,257.1 93.9,243.7 93.4,247.5 93.1,261.0" fill="#171717" stroke="#303030" stroke-width="0.4"/>
<polygon points="110.1,253.6 93.6,257.1 93.9,243.7 108.3,244.2" fill="#4e4e4e" stroke="#888888" stroke-width="0.85" stroke-linejoin="round"/>
<polygon points="107.8,252.2 95.4,254.1 96.8,244.8 106.3,246.2" fill="#4f4f4f" stroke="#7b7b7b" stroke-width="0.55"/>
<polygon points="102.8,254.5 95.1,266.7 85.8,262.8 95.8,250.3" fill="#080808" opacity="0.55"/>
<polygon points="100.5,247.0 92.8,259.2 93.6,264.7 101.3,252.5" fill="#262626" stroke="#3f3f3f" stroke-width="0.4"/>
<polygon points="92.8,259.2 83.6,255.3 84.3,260.8 93.6,264.7" fill="#323232" stroke="#4b4b4b" stroke-width="0.4"/>
<polygon points="100.5,247.0 92.8,259.2 83.6,255.3 93.5,242.8" fill="#595959" stroke="#939393" stroke-width="0.85" stroke-linejoin="round"/>
<polygon points="97.8,248.0 93.4,256.6 86.7,253.3 92.8,245.8" fill="#5c5c5c" stroke="#868686" stroke-width="0.55"/>
<polygon points="12.7,254.6 10.7,266.2 1.8,266.0 5.2,252.0" fill="#080808" opacity="0.55"/>
<polygon points="10.6,258.0 1.7,257.7 0.3,264.0 9.2,264.2" fill="#303030" stroke="#494949" stroke-width="0.4"/>
<polygon points="12.6,246.3 10.6,258.0 1.7,257.7 5.1,243.7" fill="#4e4e4e" stroke="#888888" stroke-width="0.85" stroke-linejoin="round"/>
<polygon points="11.4,248.7 10.1,256.1 3.5,256.4 4.8,247.2" fill="#434343" stroke="#7b7b7b" stroke-width="0.55"/>
<polygon points="135.3,252.2 137.5,264.7 131.9,266.7 128.6,255.2" fill="#080808" opacity="0.55"/>
<polygon points="135.6,256.9 130.1,258.9 130.4,264.7 136.0,262.7" fill="#565656" stroke="#6f6f6f" stroke-width="0.4"/>
<polygon points="130.1,258.9 126.7,247.4 127.1,253.2 130.4,264.7" fill="#464646" stroke="#5f5f5f" stroke-width="0.4"/>
<polygon points="133.4,244.4 135.6,256.9 130.1,258.9 126.7,247.4" fill="#7c7c7c" stroke="#b6b6b6" stroke-width="0.85" stroke-linejoin="round"/>
<polygon points="132.0,245.6 135.5,255.1 130.4,257.4 127.4,248.9" fill="#838383" stroke="#a9a9a9" stroke-width="0.55"/>
<polygon points="17.5,252.0 30.7,258.1 28.1,264.7 13.0,255.8" fill="#080808" opacity="0.55"/>
<polygon points="28.6,252.4 26.0,259.1 26.6,262.7 29.2,256.1" fill="#4c4c4c" stroke="#656565" stroke-width="0.4"/>
<polygon points="26.0,259.1 10.9,250.1 11.5,253.8 26.6,262.7" fill="#565656" stroke="#6f6f6f" stroke-width="0.4"/>
<polygon points="15.4,246.3 28.6,252.4 26.0,259.1 10.9,250.1" fill="#818181" stroke="#bbbbbb" stroke-width="0.85" stroke-linejoin="round"/>
<polygon points="17.4,248.0 26.3,252.4 23.6,255.7 13.7,250.4" fill="#848484" stroke="#aeaeae" stroke-width="0.55"/>
<polygon points="120.2,251.3 126.9,263.8 118.3,271.1 110.3,258.9" fill="#080808" opacity="0.55"/>
<polygon points="124.9,255.4 116.3,262.7 116.8,269.1 125.4,261.8" fill="#515151" stroke="#6a6a6a" stroke-width="0.4"/>
<polygon points="116.3,262.7 108.2,250.5 108.8,256.9 116.8,269.1" fill="#4c4c4c" stroke="#656565" stroke-width="0.4"/>
<polygon points="118.2,242.9 124.9,255.4 116.3,262.7 108.2,250.5" fill="#7f7f7f" stroke="#b9b9b9" stroke-width="0.85" stroke-linejoin="round"/>
<polygon points="16.9,253.5 19.4,265.3 11.8,269.2 10.2,253.5" fill="#080808" opacity="0.55"/>
<polygon points="17.5,257.0 9.9,260.9 10.3,267.2 17.9,263.3" fill="#3f3f3f" stroke="#585858" stroke-width="0.4"/>
<polygon points="9.9,260.9 8.2,245.2 8.7,251.5 10.3,267.2" fill="#313131" stroke="#4a4a4a" stroke-width="0.4"/>
<polygon points="15.0,245.2 17.5,257.0 9.9,260.9 8.2,245.2" fill="#686868" stroke="#a2a2a2" stroke-width="0.85" stroke-linejoin="round"/>
<polygon points="14.5,248.4 15.5,254.9 10.6,257.3 10.4,247.4" fill="#6b6b6b" stroke="#959595" stroke-width="0.55"/>
<polygon points="150.4,252.7 156.0,268.2 146.8,268.6 141.7,257.4" fill="#080808" opacity="0.55"/>
<polygon points="153.1,260.1 143.9,260.5 145.3,266.6 154.5,266.2" fill="#5c5c5c" stroke="#757575" stroke-width="0.4"/>
<polygon points="143.9,260.5 138.7,249.3 140.2,255.4 145.3,266.6" fill="#474747" stroke="#606060" stroke-width="0.4"/>
<polygon points="147.4,244.6 153.1,260.1 143.9,260.5 138.7,249.3" fill="#7c7c7c" stroke="#b6b6b6" stroke-width="0.85" stroke-linejoin="round"/>
<polygon points="146.9,248.8 149.5,257.6 145.4,257.8 142.6,250.4" fill="#797979" stroke="#a9a9a9" stroke-width="0.55"/>
<polygon points="43.1,253.8 45.1,266.9 37.2,269.0 35.7,254.6" fill="#080808" opacity="0.55"/>
<polygon points="44.5,259.3 36.6,261.4 35.7,267.0 43.6,264.9" fill="#606060" stroke="#797979" stroke-width="0.4"/>
<polygon points="36.6,261.4 35.2,247.0 34.2,252.6 35.7,267.0" fill="#4d4d4d" stroke="#666666" stroke-width="0.4"/>
<polygon points="42.6,246.2 44.5,259.3 36.6,261.4 35.2,247.0" fill="#848484" stroke="#bebebe" stroke-width="0.85" stroke-linejoin="round"/>
<polygon points="42.2,249.2 42.2,256.0 38.1,258.3 38.1,250.3" fill="#8d8d8d" stroke="#b1b1b1" stroke-width="0.55"/>
<polygon points="21.5,252.9 27.3,267.3 16.8,269.8 13.3,258.1" fill="#080808" opacity="0.55"/>
<polygon points="26.7,260.9 16.2,263.4 15.3,267.8 25.8,265.3" fill="#383838" stroke="#515151" stroke-width="0.4"/>
<polygon points="16.2,263.4 12.7,251.7 11.8,256.1 15.3,267.8" fill="#262626" stroke="#3f3f3f" stroke-width="0.4"/>
<polygon points="20.9,246.5 26.7,260.9 16.2,263.4 12.7,251.7" fill="#5c5c5c" stroke="#969696" stroke-width="0.85" stroke-linejoin="round"/>
<polygon points="20.4,250.8 21.6,258.5 17.7,258.6 15.5,253.6" fill="#5f5f5f" stroke="#898989" stroke-width="0.55"/>
<polygon points="98.5,254.8 98.7,269.5 92.9,268.8 90.0,256.1" fill="#080808" opacity="0.55"/>
<polygon points="98.2,263.0 92.4,262.3 91.4,266.8 97.2,267.5" fill="#606060" stroke="#797979" stroke-width="0.4"/>
<polygon points="92.4,262.3 89.5,249.6 88.5,254.1 91.4,266.8" fill="#4a4a4a" stroke="#636363" stroke-width="0.4"/>
<polygon points="98.0,248.3 98.2,263.0 92.4,262.3 89.5,249.6" fill="#818181" stroke="#bbbbbb" stroke-width="0.85" stroke-linejoin="round"/>
<polygon points="97.6,251.6 96.6,260.1 93.1,259.7 91.6,251.8" fill="#7d7d7d" stroke="#aeaeae" stroke-width="0.55"/>
<polygon points="126.8,259.2 119.7,272.6 114.1,271.5 117.6,254.3" fill="#080808" opacity="0.55"/>
<polygon points="125.5,252.1 118.3,265.6 118.2,270.6 125.3,257.2" fill="#505050" stroke="#696969" stroke-width="0.4"/>
<polygon points="118.3,265.6 112.7,264.4 112.6,269.5 118.2,270.6" fill="#616161" stroke="#7a7a7a" stroke-width="0.4"/>
<polygon points="125.5,252.1 118.3,265.6 112.7,264.4 116.2,247.2" fill="#848484" stroke="#bebebe" stroke-width="0.85" stroke-linejoin="round"/>
<polygon points="123.2,253.4 118.7,263.6 113.6,262.5 116.4,250.5" fill="#7e7e7e" stroke="#b1b1b1" stroke-width="0.55"/>
<polygon points="75.3,271.5 62.1,273.6 61.2,266.5 73.5,264.7" fill="#080808" opacity="0.55"/>
<polygon points="75.2,263.1 62.0,265.2 60.6,271.6 73.8,269.5" fill="#333333" stroke="#4c4c4c" stroke-width="0.4"/>
<polygon points="62.0,265.2 61.1,258.1 59.7,264.5 60.6,271.6" fill="#1f1f1f" stroke="#383838" stroke-width="0.4"/>
<polygon points="75.2,263.1 62.0,265.2 61.1,258.1 73.4,256.2" fill="#555555" stroke="#8f8f8f" stroke-width="0.85" stroke-linejoin="round"/>
<polygon points="71.5,261.7 63.5,263.2 64.7,259.4 71.3,258.9" fill="#535353" stroke="#828282" stroke-width="0.55"/>
<polygon points="134.9,262.9 131.7,276.7 124.7,277.2 125.6,262.5" fill="#080808" opacity="0.55"/>
<polygon points="131.3,270.4 124.3,271.0 123.2,275.2 130.2,274.7" fill="#5f5f5f" stroke="#787878" stroke-width="0.4"/>
<polygon points="124.3,271.0 125.2,256.3 124.1,260.5 123.2,275.2" fill="#484848" stroke="#616161" stroke-width="0.4"/>
<polygon points="134.6,256.6 131.3,270.4 124.3,271.0 125.2,256.3" fill="#7f7f7f" stroke="#b9b9b9" stroke-width="0.85" stroke-linejoin="round"/>
<polygon points="132.9,259.6 130.9,268.2 125.7,269.3 126.6,258.6" fill="#767676" stroke="#acacac" stroke-width="0.55"/>
<polygon points="80.5,275.2 62.9,276.7 62.2,266.1 79.3,262.9" fill="#080808" opacity="0.55"/>
<polygon points="80.3,269.5 62.8,271.0 61.4,274.7 79.0,273.2" fill="#454545" stroke="#5e5e5e" stroke-width="0.4"/>
<polygon points="62.8,271.0 62.0,260.4 60.7,264.1 61.4,274.7" fill="#2e2e2e" stroke="#474747" stroke-width="0.4"/>
<polygon points="80.3,269.5 62.8,271.0 62.0,260.4 79.2,257.2" fill="#656565" stroke="#9f9f9f" stroke-width="0.85" stroke-linejoin="round"/>
<polygon points="78.4,268.2 65.1,269.6 65.5,261.1 77.7,259.9" fill="#5f5f5f" stroke="#929292" stroke-width="0.55"/>
<polygon points="107.2,268.3 120.5,270.9 118.1,279.9 104.0,272.0" fill="#080808" opacity="0.55"/>
<polygon points="119.1,263.1 116.7,272.1 116.6,277.9 119.0,268.9" fill="#1b1b1b" stroke="#343434" stroke-width="0.4"/>
<polygon points="116.7,272.1 102.6,264.1 102.5,270.0 116.6,277.9" fill="#272727" stroke="#404040" stroke-width="0.4"/>
<polygon points="105.8,260.4 119.1,263.1 116.7,272.1 102.6,264.1" fill="#515151" stroke="#8b8b8b" stroke-width="0.85" stroke-linejoin="round"/>
<polygon points="109.1,261.8 116.4,263.6 115.4,269.2 106.0,264.1" fill="#515151" stroke="#7e7e7e" stroke-width="0.55"/>
<polygon points="13.5,275.8 -2.4,276.2 -2.0,268.5 12.5,265.1" fill="#080808" opacity="0.55"/>
<polygon points="11.3,269.6 -4.7,269.9 -3.9,274.2 12.0,273.8" fill="#303030" stroke="#494949" stroke-width="0.4"/>
<polygon points="10.3,258.8 11.3,269.6 12.0,273.8 11.0,263.1" fill="#181818" stroke="#313131" stroke-width="0.4"/>
<polygon points="11.3,269.6 -4.7,269.9 -4.2,262.2 10.3,258.8" fill="#4f4f4f" stroke="#898989" stroke-width="0.85" stroke-linejoin="round"/>
<polygon points="5.0,264.6 16.7,274.5 10.6,284.2 -1.0,274.1" fill="#080808" opacity="0.55"/>
<polygon points="15.3,266.6 9.3,276.2 9.1,282.2 15.2,272.5" fill="#3d3d3d" stroke="#565656" stroke-width="0.4"/>
<polygon points="9.3,276.2 -2.4,266.1 -2.5,272.1 9.1,282.2" fill="#424242" stroke="#5b5b5b" stroke-width="0.4"/>
<polygon points="3.6,256.6 15.3,266.6 9.3,276.2 -2.4,266.1" fill="#717171" stroke="#ababab" stroke-width="0.85" stroke-linejoin="round"/>
<polygon points="5.4,260.6 10.2,265.6 8.6,272.2 2.5,265.9" fill="#6a6a6a" stroke="#9e9e9e" stroke-width="0.55"/>
<polygon points="39.0,270.2 53.1,279.4 47.6,285.2 36.2,274.7" fill="#080808" opacity="0.55"/>
<polygon points="52.0,270.9 46.5,276.7 46.1,283.2 51.6,277.4" fill="#535353" stroke="#6c6c6c" stroke-width="0.4"/>
<polygon points="46.5,276.7 35.1,266.2 34.7,272.7 46.1,283.2" fill="#545454" stroke="#6d6d6d" stroke-width="0.4"/>
<polygon points="37.8,261.7 52.0,270.9 46.5,276.7 35.1,266.2" fill="#838383" stroke="#bdbdbd" stroke-width="0.85" stroke-linejoin="round"/>
<polygon points="39.7,265.6 47.6,269.1 45.0,274.4 39.0,266.5" fill="#8d8d8d" stroke="#b0b0b0" stroke-width="0.55"/>
<polygon points="88.3,266.4 101.9,277.4 95.9,284.0 82.7,272.1" fill="#080808" opacity="0.55"/>
<polygon points="100.3,270.7 94.3,277.3 94.4,282.0 100.4,275.4" fill="#282828" stroke="#414141" stroke-width="0.4"/>
<polygon points="94.3,277.3 81.1,265.4 81.2,270.1 94.4,282.0" fill="#2a2a2a" stroke="#434343" stroke-width="0.4"/>
<polygon points="86.7,259.7 100.3,270.7 94.3,277.3 81.1,265.4" fill="#585858" stroke="#929292" stroke-width="0.85" stroke-linejoin="round"/>
<polygon points="88.8,263.3 95.9,269.5 93.7,274.3 84.3,266.6" fill="#505050" stroke="#858585" stroke-width="0.55"/>
<polygon points="149.4,273.7 139.2,284.4 135.4,279.5 146.2,269.6" fill="#080808" opacity="0.55"/>
<polygon points="146.5,267.5 136.3,278.1 137.7,282.4 147.9,271.7" fill="#282828" stroke="#414141" stroke-width="0.4"/>
<polygon points="136.3,278.1 132.5,273.3 133.9,277.5 137.7,282.4" fill="#272727" stroke="#404040" stroke-width="0.4"/>
<polygon points="146.5,267.5 136.3,278.1 132.5,273.3 143.3,263.4" fill="#585858" stroke="#929292" stroke-width="0.85" stroke-linejoin="round"/>
<polygon points="145.0,267.3 137.9,275.3 134.0,271.6 141.7,266.1" fill="#5f5f5f" stroke="#858585" stroke-width="0.55"/>
<polygon points="29.5,267.7 40.1,280.0 32.9,285.2 22.8,273.0" fill="#080808" opacity="0.55"/>
<polygon points="38.7,274.7 31.5,280.0 31.4,283.2 38.6,278.0" fill="#2c2c2c" stroke="#454545" stroke-width="0.4"/>
<polygon points="31.5,280.0 21.4,267.7 21.3,271.0 31.4,283.2" fill="#282828" stroke="#414141" stroke-width="0.4"/>
<polygon points="28.1,262.5 38.7,274.7 31.5,280.0 21.4,267.7" fill="#595959" stroke="#939393" stroke-width="0.85" stroke-linejoin="round"/>
<polygon points="48.8,271.3 57.6,280.0 53.7,282.7 46.2,274.6" fill="#080808" opacity="0.55"/>
<polygon points="57.4,273.4 53.5,276.2 52.2,280.7 56.1,278.0" fill="#383838" stroke="#515151" stroke-width="0.4"/>
<polygon points="53.5,276.2 46.0,268.0 44.7,272.6 52.2,280.7" fill="#343434" stroke="#4d4d4d" stroke-width="0.4"/>
<polygon points="48.6,264.7 57.4,273.4 53.5,276.2 46.0,268.0" fill="#656565" stroke="#9f9f9f" stroke-width="0.85" stroke-linejoin="round"/>
<polygon points="49.7,268.0 53.8,272.0 52.6,273.3 49.8,269.9" fill="#5a5a5a" stroke="#929292" stroke-width="0.55"/>
<polygon points="129.4,279.8 116.7,291.8 108.7,282.9 121.6,270.1" fill="#080808" opacity="0.55"/>
<polygon points="128.7,271.9 116.0,283.8 115.2,289.8 127.9,277.8" fill="#515151" stroke="#6a6a6a" stroke-width="0.4"/>
<polygon points="116.0,283.8 108.0,274.9 107.2,280.9 115.2,289.8" fill="#4f4f4f" stroke="#686868" stroke-width="0.4"/>
<polygon points="128.7,271.9 116.0,283.8 108.0,274.9 120.9,262.2" fill="#808080" stroke="#bababa" stroke-width="0.85" stroke-linejoin="round"/>
<polygon points="124.2,272.1 116.8,278.9 112.2,274.2 119.2,266.3" fill="#828282" stroke="#adadad" stroke-width="0.55"/>
<polygon points="60.0,274.8 70.2,283.4 62.2,291.1 52.4,278.6" fill="#080808" opacity="0.55"/>
<polygon points="69.2,276.8 61.2,284.5 60.7,289.1 68.7,281.4" fill="#393939" stroke="#525252" stroke-width="0.4"/>
<polygon points="61.2,284.5 51.4,272.0 50.9,276.6 60.7,289.1" fill="#363636" stroke="#4f4f4f" stroke-width="0.4"/>
<polygon points="59.0,268.2 69.2,276.8 61.2,284.5 51.4,272.0" fill="#686868" stroke="#a2a2a2" stroke-width="0.85" stroke-linejoin="round"/>
<polygon points="58.6,272.0 66.0,277.2 59.7,280.1 55.8,273.6" fill="#626262" stroke="#959595" stroke-width="0.55"/>
<polygon points="130.0,280.5 119.0,291.8 111.0,283.3 122.9,272.5" fill="#080808" opacity="0.55"/>
<polygon points="129.1,274.7 118.1,286.0 117.5,289.8 128.5,278.5" fill="#515151" stroke="#6a6a6a" stroke-width="0.4"/>
<polygon points="118.1,286.0 110.2,277.5 109.5,281.3 117.5,289.8" fill="#515151" stroke="#6a6a6a" stroke-width="0.4"/>
<polygon points="129.1,274.7 118.1,286.0 110.2,277.5 122.1,266.7" fill="#818181" stroke="#bbbbbb" stroke-width="0.85" stroke-linejoin="round"/>
<polygon points="123.9,276.1 119.5,281.4 115.9,277.1 120.2,271.0" fill="#828282" stroke="#aeaeae" stroke-width="0.55"/>
<polygon points="147.3,288.2 131.6,288.8 132.1,283.5 146.0,281.2" fill="#080808" opacity="0.55"/>
<polygon points="146.7,282.5 131.0,283.2 130.1,286.8 145.8,286.2" fill="#313131" stroke="#4a4a4a" stroke-width="0.4"/>
<polygon points="131.0,283.2 131.5,277.8 130.6,281.5 130.1,286.8" fill="#1a1a1a" stroke="#333333" stroke-width="0.4"/>
<polygon points="146.7,282.5 131.0,283.2 131.5,277.8 145.4,275.6" fill="#505050" stroke="#8a8a8a" stroke-width="0.85" stroke-linejoin="round"/>
<polygon points="143.0,280.6 133.9,282.4 134.7,278.9 143.5,277.7" fill="#4b4b4b" stroke="#7d7d7d" stroke-width="0.55"/>
<polygon points="58.8,284.8 52.8,295.2 49.3,290.7 53.8,280.0" fill="#080808" opacity="0.55"/>
<polygon points="56.3,277.1 50.3,287.5 51.3,293.2 57.3,282.8" fill="#222222" stroke="#3b3b3b" stroke-width="0.4"/>
<polygon points="50.3,287.5 46.8,282.9 47.8,288.7 51.3,293.2" fill="#242424" stroke="#3d3d3d" stroke-width="0.4"/>
<polygon points="56.3,277.1 50.3,287.5 46.8,282.9 51.3,272.3" fill="#565656" stroke="#909090" stroke-width="0.85" stroke-linejoin="round"/>
<polygon points="27.2,280.5 42.4,286.1 38.5,295.4 22.0,289.9" fill="#080808" opacity="0.55"/>
<polygon points="40.6,280.0 36.7,289.3 37.0,293.4 40.9,284.1" fill="#494949" stroke="#626262" stroke-width="0.4"/>
<polygon points="36.7,289.3 20.1,283.8 20.5,287.9 37.0,293.4" fill="#585858" stroke="#717171" stroke-width="0.4"/>
<polygon points="25.3,274.5 40.6,280.0 36.7,289.3 20.1,283.8" fill="#7e7e7e" stroke="#b8b8b8" stroke-width="0.85" stroke-linejoin="round"/>
<polygon points="113.2,286.6 106.8,296.0 103.7,293.9 108.9,282.1" fill="#080808" opacity="0.55"/>
<polygon points="112.0,279.6 105.5,289.0 105.3,294.0 111.7,284.6" fill="#4c4c4c" stroke="#656565" stroke-width="0.4"/>
<polygon points="105.5,289.0 102.4,286.9 102.2,291.9 105.3,294.0" fill="#535353" stroke="#6c6c6c" stroke-width="0.4"/>
<polygon points="112.0,279.6 105.5,289.0 102.4,286.9 107.6,275.1" fill="#7f7f7f" stroke="#b9b9b9" stroke-width="0.85" stroke-linejoin="round"/>
<polygon points="109.8,280.6 106.2,287.0 103.5,285.8 107.6,276.6" fill="#7b7b7b" stroke="#acacac" stroke-width="0.55"/>
<polygon points="88.1,283.5 100.3,294.1 91.8,300.6 80.1,288.5" fill="#080808" opacity="0.55"/>
<polygon points="100.1,287.6 91.6,294.0 90.3,298.6 98.8,292.1" fill="#3f3f3f" stroke="#585858" stroke-width="0.4"/>
<polygon points="91.6,294.0 79.8,282.0 78.6,286.5 90.3,298.6" fill="#3c3c3c" stroke="#555555" stroke-width="0.4"/>
<polygon points="87.8,277.0 100.1,287.6 91.6,294.0 79.8,282.0" fill="#6c6c6c" stroke="#a6a6a6" stroke-width="0.85" stroke-linejoin="round"/>
<polygon points="88.1,281.2 95.8,285.7 91.4,289.6 84.7,283.4" fill="#6c6c6c" stroke="#999999" stroke-width="0.55"/>
<polygon points="70.1,285.2 80.1,295.2 72.5,301.9 62.9,290.5" fill="#080808" opacity="0.55"/>
<polygon points="78.1,288.3 70.4,295.0 71.0,299.9 78.6,293.2" fill="#252525" stroke="#3e3e3e" stroke-width="0.4"/>
<polygon points="70.4,295.0 60.8,283.5 61.4,288.5 71.0,299.9" fill="#222222" stroke="#3b3b3b" stroke-width="0.4"/>
<polygon points="68.0,278.3 78.1,288.3 70.4,295.0 60.8,283.5" fill="#545454" stroke="#8e8e8e" stroke-width="0.85" stroke-linejoin="round"/>
<polygon points="42.3,286.7 52.5,300.3 45.0,303.4 37.2,290.3" fill="#080808" opacity="0.55"/>
<polygon points="51.8,294.1 44.3,297.3 43.5,301.4 51.0,298.3" fill="#535353" stroke="#6c6c6c" stroke-width="0.4"/>
<polygon points="44.3,297.3 36.5,284.2 35.7,288.3 43.5,301.4" fill="#484848" stroke="#616161" stroke-width="0.4"/>
<polygon points="41.6,280.6 51.8,294.1 44.3,297.3 36.5,284.2" fill="#7b7b7b" stroke="#b5b5b5" stroke-width="0.85" stroke-linejoin="round"/>
<polygon points="41.8,283.8 47.4,291.3 44.6,292.5 39.3,286.6" fill="#808080" stroke="#a8a8a8" stroke-width="0.55"/>
<polygon points="80.7,290.8 84.9,299.5 78.2,303.5 71.4,293.7" fill="#080808" opacity="0.55"/>
<polygon points="82.4,292.5 75.7,296.5 76.7,301.5 83.4,297.5" fill="#484848" stroke="#616161" stroke-width="0.4"/>
<polygon points="75.7,296.5 68.9,286.6 69.9,291.7 76.7,301.5" fill="#404040" stroke="#595959" stroke-width="0.4"/>
<polygon points="78.2,283.7 82.4,292.5 75.7,296.5 68.9,286.6" fill="#737373" stroke="#adadad" stroke-width="0.85" stroke-linejoin="round"/>
<polygon points="17.0,304.6 3.2,306.3 0.6,296.8 14.8,294.3" fill="#080808" opacity="0.55"/>
<polygon points="16.0,297.1 2.1,298.8 1.7,304.3 15.5,302.6" fill="#5f5f5f" stroke="#787878" stroke-width="0.4"/>
<polygon points="2.1,298.8 -0.4,289.2 -0.9,294.8 1.7,304.3" fill="#4a4a4a" stroke="#636363" stroke-width="0.4"/>
<polygon points="16.0,297.1 2.1,298.8 -0.4,289.2 13.8,286.7" fill="#808080" stroke="#bababa" stroke-width="0.85" stroke-linejoin="round"/>
<polygon points="12.6,295.4 5.9,296.3 4.3,291.5 10.5,290.6" fill="#757575" stroke="#adadad" stroke-width="0.55"/>
<polygon points="128.8,293.7 140.4,304.8 136.0,311.2 122.1,298.7" fill="#080808" opacity="0.55"/>
<polygon points="137.7,297.2 133.3,303.6 134.5,309.2 138.9,302.8" fill="#2d2d2d" stroke="#464646" stroke-width="0.4"/>
<polygon points="133.3,303.6 119.4,291.2 120.6,296.7 134.5,309.2" fill="#313131" stroke="#4a4a4a" stroke-width="0.4"/>
<polygon points="126.1,286.1 137.7,297.2 133.3,303.6 119.4,291.2" fill="#606060" stroke="#9a9a9a" stroke-width="0.85" stroke-linejoin="round"/>
<polygon points="127.6,288.0 134.3,297.0 132.6,300.7 121.4,292.6" fill="#5a5a5a" stroke="#8d8d8d" stroke-width="0.55"/>
<polygon points="33.8,302.2 20.4,308.2 18.3,300.8 30.0,294.1" fill="#080808" opacity="0.55"/>
<polygon points="31.8,297.1 18.4,303.1 18.9,306.2 32.3,300.2" fill="#494949" stroke="#626262" stroke-width="0.4"/>
<polygon points="18.4,303.1 16.2,295.7 16.8,298.8 18.9,306.2" fill="#3b3b3b" stroke="#545454" stroke-width="0.4"/>
<polygon points="31.8,297.1 18.4,303.1 16.2,295.7 28.0,289.1" fill="#717171" stroke="#ababab" stroke-width="0.85" stroke-linejoin="round"/>
<polygon points="29.1,295.9 20.1,300.9 19.0,295.8 26.0,290.2" fill="#7b7b7b" stroke="#9e9e9e" stroke-width="0.55"/>
<polygon points="58.7,297.9 72.7,308.3 66.4,313.7 54.3,306.5" fill="#080808" opacity="0.55"/>
<polygon points="70.9,300.4 64.5,305.9 64.9,311.7 71.2,306.3" fill="#494949" stroke="#626262" stroke-width="0.4"/>
<polygon points="64.5,305.9 52.5,298.6 52.8,304.5 64.9,311.7" fill="#4c4c4c" stroke="#656565" stroke-width="0.4"/>
<polygon points="56.9,290.1 70.9,300.4 64.5,305.9 52.5,298.6" fill="#777777" stroke="#b1b1b1" stroke-width="0.85" stroke-linejoin="round"/>
<polygon points="145.8,298.1 156.0,311.4 146.7,317.5 139.3,301.3" fill="#080808" opacity="0.55"/>
<polygon points="154.1,304.9 144.8,311.1 145.2,315.5 154.5,309.4" fill="#3e3e3e" stroke="#575757" stroke-width="0.4"/>
<polygon points="144.8,311.1 137.4,294.8 137.8,299.3 145.2,315.5" fill="#353535" stroke="#4e4e4e" stroke-width="0.4"/>
<polygon points="144.0,291.6 154.1,304.9 144.8,311.1 137.4,294.8" fill="#6a6a6a" stroke="#a4a4a4" stroke-width="0.85" stroke-linejoin="round"/>
<polygon points="143.2,296.2 148.0,302.2 145.2,304.7 141.2,298.6" fill="#686868" stroke="#979797" stroke-width="0.55"/>
<polygon points="143.8,300.4 154.9,314.2 144.9,321.2 133.8,307.7" fill="#080808" opacity="0.55"/>
<polygon points="153.5,306.5 143.5,313.6 143.4,319.2 153.4,312.2" fill="#2f2f2f" stroke="#484848" stroke-width="0.4"/>
<polygon points="143.5,313.6 132.3,300.0 132.3,305.7 143.4,319.2" fill="#2a2a2a" stroke="#434343" stroke-width="0.4"/>
<polygon points="142.3,292.7 153.5,306.5 143.5,313.6 132.3,300.0" fill="#5b5b5b" stroke="#959595" stroke-width="0.85" stroke-linejoin="round"/>
<polygon points="113.5,307.9 124.4,310.9 123.8,317.6 110.8,312.5" fill="#080808" opacity="0.55"/>
<polygon points="123.0,309.5 110.1,304.5 109.3,310.5 122.3,315.6" fill="#4e4e4e" stroke="#676767" stroke-width="0.4"/>
<polygon points="112.7,299.8 123.6,302.8 123.0,309.5 110.1,304.5" fill="#757575" stroke="#afafaf" stroke-width="0.85" stroke-linejoin="round"/>
<polygon points="113.5,300.8 121.0,302.6 120.7,307.4 111.1,304.3" fill="#727272" stroke="#a2a2a2" stroke-width="0.55"/>
<polygon points="63.9,313.9 48.4,316.5 46.6,309.8 61.7,305.4" fill="#080808" opacity="0.55"/>
<polygon points="63.6,307.2 48.2,309.9 46.9,314.5 62.4,311.9" fill="#343434" stroke="#4d4d4d" stroke-width="0.4"/>
<polygon points="48.2,309.9 46.3,303.1 45.1,307.8 46.9,314.5" fill="#202020" stroke="#393939" stroke-width="0.4"/>
<polygon points="63.6,307.2 48.2,309.9 46.3,303.1 61.5,298.8" fill="#565656" stroke="#909090" stroke-width="0.85" stroke-linejoin="round"/>
<polygon points="59.5,306.7 51.2,307.3 50.4,304.9 58.8,301.4" fill="#575757" stroke="#838383" stroke-width="0.55"/>
<polygon points="45.9,306.3 45.8,321.0 32.6,318.7 34.3,305.2" fill="#080808" opacity="0.55"/>
<polygon points="44.1,299.1 44.0,313.8 44.3,319.0 44.4,304.3" fill="#191919" stroke="#323232" stroke-width="0.4"/>
<polygon points="44.0,313.8 30.8,311.5 31.1,316.7 44.3,319.0" fill="#2e2e2e" stroke="#474747" stroke-width="0.4"/>
<polygon points="44.1,299.1 44.0,313.8 30.8,311.5 32.6,298.0" fill="#505050" stroke="#8a8a8a" stroke-width="0.85" stroke-linejoin="round"/>
<polygon points="42.6,300.4 42.4,312.0 32.8,309.6 34.7,300.6" fill="#5a5a5a" stroke="#7d7d7d" stroke-width="0.55"/>
<polygon points="48.6,306.7 60.4,312.7 59.5,319.9 43.5,315.6" fill="#080808" opacity="0.55"/>
<polygon points="57.6,304.9 56.8,312.0 58.0,317.9 58.9,310.7" fill="#2a2a2a" stroke="#434343" stroke-width="0.4"/>
<polygon points="56.8,312.0 40.7,307.7 42.0,313.6 58.0,317.9" fill="#3c3c3c" stroke="#555555" stroke-width="0.4"/>
<polygon points="45.8,298.8 57.6,304.9 56.8,312.0 40.7,307.7" fill="#606060" stroke="#9a9a9a" stroke-width="0.85" stroke-linejoin="round"/>
<polygon points="47.1,302.0 54.7,306.1 54.1,309.4 45.4,306.9" fill="#5c5c5c" stroke="#8d8d8d" stroke-width="0.55"/>
<polygon points="81.9,305.4 83.0,319.5 76.5,319.5 78.4,307.2" fill="#080808" opacity="0.55"/>
<polygon points="79.1,299.1 80.2,313.2 81.5,317.5 80.4,303.4" fill="#2d2d2d" stroke="#464646" stroke-width="0.4"/>
<polygon points="80.2,313.2 73.7,313.2 75.0,317.5 81.5,317.5" fill="#464646" stroke="#5f5f5f" stroke-width="0.4"/>
<polygon points="79.1,299.1 80.2,313.2 73.7,313.2 75.6,300.8" fill="#646464" stroke="#9e9e9e" stroke-width="0.85" stroke-linejoin="round"/>
<polygon points="6.4,306.9 22.4,313.1 17.0,324.0 0.7,313.3" fill="#080808" opacity="0.55"/>
<polygon points="20.1,306.2 14.7,317.0 15.5,322.0 20.9,311.1" fill="#414141" stroke="#5a5a5a" stroke-width="0.4"/>
<polygon points="14.7,317.0 -1.6,306.4 -0.8,311.3 15.5,322.0" fill="#4a4a4a" stroke="#636363" stroke-width="0.4"/>
<polygon points="4.1,300.0 20.1,306.2 14.7,317.0 -1.6,306.4" fill="#767676" stroke="#b0b0b0" stroke-width="0.85" stroke-linejoin="round"/>
<polygon points="6.3,301.4 17.5,307.0 12.2,314.9 1.3,305.9" fill="#797979" stroke="#a3a3a3" stroke-width="0.55"/>
<polygon points="106.3,305.2 119.8,314.1 113.1,322.7 99.5,313.7" fill="#080808" opacity="0.55"/>
<polygon points="117.0,308.2 110.4,316.8 111.6,320.7 118.3,312.1" fill="#262626" stroke="#3f3f3f" stroke-width="0.4"/>
<polygon points="110.4,316.8 96.7,307.8 98.0,311.7 111.6,320.7" fill="#2c2c2c" stroke="#454545" stroke-width="0.4"/>
<polygon points="103.5,299.3 117.0,308.2 110.4,316.8 96.7,307.8" fill="#585858" stroke="#929292" stroke-width="0.85" stroke-linejoin="round"/>
<polygon points="98.1,307.3 107.7,312.3 103.4,317.2 93.1,310.6" fill="#080808" opacity="0.55"/>
<polygon points="106.1,307.2 101.7,312.2 101.9,315.2 106.2,310.3" fill="#494949" stroke="#626262" stroke-width="0.4"/>
<polygon points="101.7,312.2 91.5,305.5 91.6,308.6 101.9,315.2" fill="#4e4e4e" stroke="#676767" stroke-width="0.4"/>
<polygon points="96.5,302.3 106.1,307.2 101.7,312.2 91.5,305.5" fill="#7a7a7a" stroke="#b4b4b4" stroke-width="0.85" stroke-linejoin="round"/>
<polygon points="97.7,303.9 103.6,307.5 100.8,310.8 95.3,307.0" fill="#838383" stroke="#a7a7a7" stroke-width="0.55"/>
<polygon points="142.9,316.2 128.2,323.7 122.0,314.8 135.5,304.4" fill="#080808" opacity="0.55"/>
<polygon points="141.4,309.8 126.7,317.3 126.7,321.7 141.4,314.2" fill="#2f2f2f" stroke="#484848" stroke-width="0.4"/>
<polygon points="126.7,317.3 120.6,308.5 120.5,312.8 126.7,321.7" fill="#252525" stroke="#3e3e3e" stroke-width="0.4"/>
<polygon points="141.4,309.8 126.7,317.3 120.6,308.5 134.1,298.0" fill="#585858" stroke="#929292" stroke-width="0.85" stroke-linejoin="round"/>
<polygon points="52.8,312.5 48.9,324.0 40.7,319.2 45.7,307.4" fill="#080808" opacity="0.55"/>
<polygon points="52.0,306.2 48.1,317.6 47.4,322.0 51.3,310.5" fill="#3f3f3f" stroke="#585858" stroke-width="0.4"/>
<polygon points="48.1,317.6 39.9,312.8 39.2,317.2 47.4,322.0" fill="#4a4a4a" stroke="#636363" stroke-width="0.4"/>
<polygon points="52.0,306.2 48.1,317.6 39.9,312.8 44.9,301.0" fill="#757575" stroke="#afafaf" stroke-width="0.85" stroke-linejoin="round"/>
<polygon points="49.6,306.5 47.3,314.4 41.5,312.4 44.7,304.1" fill="#7f7f7f" stroke="#a2a2a2" stroke-width="0.55"/>
<polygon points="48.6,319.1 36.9,326.3 35.4,319.2 45.1,311.5" fill="#080808" opacity="0.55"/>
<polygon points="46.2,311.8 34.5,319.0 35.4,324.3 47.1,317.1" fill="#555555" stroke="#6e6e6e" stroke-width="0.4"/>
<polygon points="34.5,319.0 33.0,311.9 33.9,317.2 35.4,324.3" fill="#494949" stroke="#626262" stroke-width="0.4"/>
<polygon points="46.2,311.8 34.5,319.0 33.0,311.9 42.7,304.2" fill="#808080" stroke="#bababa" stroke-width="0.85" stroke-linejoin="round"/>
<polygon points="44.5,311.2 36.2,317.5 35.0,312.4 41.0,305.6" fill="#7e7e7e" stroke="#adadad" stroke-width="0.55"/>
<polygon points="10.2,314.5 3.4,326.2 -4.2,321.6 3.7,312.1" fill="#080808" opacity="0.55"/>
<polygon points="9.2,308.3 2.4,320.1 1.9,324.2 8.7,312.5" fill="#2c2c2c" stroke="#454545" stroke-width="0.4"/>
<polygon points="2.4,320.1 -5.2,315.5 -5.7,319.6 1.9,324.2" fill="#353535" stroke="#4e4e4e" stroke-width="0.4"/>
<polygon points="9.2,308.3 2.4,320.1 -5.2,315.5 2.7,305.9" fill="#606060" stroke="#9a9a9a" stroke-width="0.85" stroke-linejoin="round"/>
<polygon points="5.8,310.1 1.7,317.5 -3.6,315.3 1.5,307.3" fill="#565656" stroke="#8d8d8d" stroke-width="0.55"/>
<polygon points="118.5,322.0 107.3,324.0 107.0,318.9 120.0,317.4" fill="#080808" opacity="0.55"/>
<polygon points="115.6,315.3 104.5,317.3 105.8,322.0 117.0,320.0" fill="#464646" stroke="#5f5f5f" stroke-width="0.4"/>
<polygon points="117.2,310.6 115.6,315.3 117.0,320.0 118.5,315.4" fill="#333333" stroke="#4c4c4c" stroke-width="0.4"/>
<polygon points="115.6,315.3 104.5,317.3 104.2,312.1 117.2,310.6" fill="#696969" stroke="#a3a3a3" stroke-width="0.85" stroke-linejoin="round"/>
<polygon points="114.5,313.8 107.1,315.8 105.5,312.2 115.9,311.2" fill="#666666" stroke="#969696" stroke-width="0.55"/>
<polygon points="77.4,310.1 87.0,326.3 77.9,331.9 68.1,315.9" fill="#080808" opacity="0.55"/>
<polygon points="86.2,318.3 77.1,323.9 76.4,329.9 85.5,324.3" fill="#4c4c4c" stroke="#656565" stroke-width="0.4"/>
<polygon points="77.1,323.9 67.3,308.0 66.6,313.9 76.4,329.9" fill="#434343" stroke="#5c5c5c" stroke-width="0.4"/>
<polygon points="76.7,302.1 86.2,318.3 77.1,323.9 67.3,308.0" fill="#777777" stroke="#b1b1b1" stroke-width="0.85" stroke-linejoin="round"/>
<polygon points="76.2,308.8 80.4,316.7 76.9,318.3 72.3,310.9" fill="#808080" stroke="#a4a4a4" stroke-width="0.55"/>
<polygon points="70.2,320.2 64.4,333.3 54.6,330.2 60.8,319.4" fill="#080808" opacity="0.55"/>
<polygon points="70.1,312.3 64.3,325.3 62.9,331.3 68.7,318.2" fill="#3e3e3e" stroke="#575757" stroke-width="0.4"/>
<polygon points="64.3,325.3 54.6,322.3 53.1,328.2 62.9,331.3" fill="#4d4d4d" stroke="#666666" stroke-width="0.4"/>
<polygon points="70.1,312.3 64.3,325.3 54.6,322.3 60.7,311.4" fill="#737373" stroke="#adadad" stroke-width="0.85" stroke-linejoin="round"/>
<polygon points="67.8,314.3 62.8,323.0 56.6,320.6 61.7,313.1" fill="#7b7b7b" stroke="#a0a0a0" stroke-width="0.55"/>
<polygon points="134.4,322.1 127.4,333.9 119.4,329.3 128.8,316.6" fill="#080808" opacity="0.55"/>
<polygon points="133.6,315.8 126.7,327.6 125.9,331.9 132.9,320.1" fill="#333333" stroke="#4c4c4c" stroke-width="0.4"/>
<polygon points="126.7,327.6 118.7,323.0 117.9,327.3 125.9,331.9" fill="#3c3c3c" stroke="#555555" stroke-width="0.4"/>
<polygon points="133.6,315.8 126.7,327.6 118.7,323.0 128.1,310.4" fill="#666666" stroke="#a0a0a0" stroke-width="0.85" stroke-linejoin="round"/>
<polygon points="131.0,318.0 126.3,322.4 122.6,321.2 127.8,316.0" fill="#6d6d6d" stroke="#939393" stroke-width="0.55"/>
<polygon points="60.3,320.7 60.0,331.2 50.7,331.4 54.2,319.1" fill="#080808" opacity="0.55"/>
<polygon points="59.0,326.0 49.7,326.2 49.2,329.4 58.5,329.2" fill="#464646" stroke="#5f5f5f" stroke-width="0.4"/>
<polygon points="59.3,315.5 59.0,326.0 49.7,326.2 53.2,313.9" fill="#656565" stroke="#9f9f9f" stroke-width="0.85" stroke-linejoin="round"/>
<polygon points="57.4,316.3 56.9,322.2 52.0,323.6 54.4,316.5" fill="#626262" stroke="#929292" stroke-width="0.55"/>
<polygon points="158.5,326.5 146.5,339.5 137.2,332.2 151.1,318.7" fill="#080808" opacity="0.55"/>
<polygon points="157.4,318.2 145.3,331.2 145.0,337.5 157.0,324.5" fill="#3e3e3e" stroke="#575757" stroke-width="0.4"/>
<polygon points="145.3,331.2 136.0,323.9 135.7,330.2 145.0,337.5" fill="#414141" stroke="#5a5a5a" stroke-width="0.4"/>
<polygon points="157.4,318.2 145.3,331.2 136.0,323.9 149.9,310.4" fill="#6e6e6e" stroke="#a8a8a8" stroke-width="0.85" stroke-linejoin="round"/>
<polygon points="153.0,318.6 145.6,327.0 140.5,322.3 147.8,316.2" fill="#686868" stroke="#9b9b9b" stroke-width="0.55"/>
<polygon points="10.3,331.0 -1.0,334.3 -4.8,322.1 9.7,321.2" fill="#080808" opacity="0.55"/>
<polygon points="8.3,325.0 -3.0,328.3 -2.5,332.3 8.8,329.0" fill="#565656" stroke="#6f6f6f" stroke-width="0.4"/>
<polygon points="-3.0,328.3 -6.8,316.1 -6.3,320.1 -2.5,332.3" fill="#454545" stroke="#5e5e5e" stroke-width="0.4"/>
<polygon points="7.7,315.2 8.3,325.0 8.8,329.0 8.2,319.2" fill="#444444" stroke="#5d5d5d" stroke-width="0.4"/>
<polygon points="8.3,325.0 -3.0,328.3 -6.8,316.1 7.7,315.2" fill="#7a7a7a" stroke="#b4b4b4" stroke-width="0.85" stroke-linejoin="round"/>
<polygon points="5.2,324.0 -0.9,324.2 -2.9,317.7 6.0,317.1" fill="#7b7b7b" stroke="#a7a7a7" stroke-width="0.55"/>
<polygon points="24.9,321.9 38.9,328.6 33.9,335.3 20.7,331.2" fill="#080808" opacity="0.55"/>
<polygon points="37.8,321.7 32.9,328.4 32.4,333.3 37.4,326.6" fill="#474747" stroke="#606060" stroke-width="0.4"/>
<polygon points="32.9,328.4 19.7,324.4 19.2,329.2 32.4,333.3" fill="#535353" stroke="#6c6c6c" stroke-width="0.4"/>
<polygon points="23.9,315.0 37.8,321.7 32.9,328.4 19.7,324.4" fill="#797979" stroke="#b3b3b3" stroke-width="0.85" stroke-linejoin="round"/>
<polygon points="24.7,317.0 34.9,321.5 32.7,327.5 22.4,323.6" fill="#757575" stroke="#a6a6a6" stroke-width="0.55"/>
<polygon points="106.7,324.4 99.8,338.9 89.0,334.4 97.9,320.6" fill="#080808" opacity="0.55"/>
<polygon points="104.6,317.9 97.7,332.4 98.3,336.9 105.2,322.4" fill="#2f2f2f" stroke="#484848" stroke-width="0.4"/>
<polygon points="97.7,332.4 86.9,327.9 87.5,332.4 98.3,336.9" fill="#3c3c3c" stroke="#555555" stroke-width="0.4"/>
<polygon points="104.6,317.9 97.7,332.4 86.9,327.9 95.8,314.1" fill="#646464" stroke="#9e9e9e" stroke-width="0.85" stroke-linejoin="round"/>
<polygon points="101.5,321.0 97.0,328.1 91.6,326.3 96.0,318.5" fill="#6e6e6e" stroke="#919191" stroke-width="0.55"/>
<polygon points="19.7,322.9 13.0,338.5 4.6,334.5 11.7,320.8" fill="#080808" opacity="0.55"/>
<polygon points="18.4,317.7 11.7,333.4 11.5,336.5 18.2,320.9" fill="#1a1a1a" stroke="#333333" stroke-width="0.4"/>
<polygon points="11.7,333.4 3.3,329.3 3.1,332.5 11.5,336.5" fill="#262626" stroke="#3f3f3f" stroke-width="0.4"/>
<polygon points="18.4,317.7 11.7,333.4 3.3,329.3 10.4,315.6" fill="#4f4f4f" stroke="#898989" stroke-width="0.85" stroke-linejoin="round"/>
<polygon points="17.7,320.6 30.9,330.3 25.2,341.1 10.4,331.0" fill="#080808" opacity="0.55"/>
<polygon points="28.7,324.6 23.0,335.3 23.7,339.1 29.4,328.3" fill="#434343" stroke="#5c5c5c" stroke-width="0.4"/>
<polygon points="23.0,335.3 8.2,325.3 8.9,329.0 23.7,339.1" fill="#4b4b4b" stroke="#646464" stroke-width="0.4"/>
<polygon points="15.5,314.9 28.7,324.6 23.0,335.3 8.2,325.3" fill="#777777" stroke="#b1b1b1" stroke-width="0.85" stroke-linejoin="round"/>
<polygon points="17.1,319.3 22.6,324.8 21.1,328.8 14.6,324.1" fill="#6f6f6f" stroke="#a4a4a4" stroke-width="0.55"/>
<polygon points="94.8,325.7 110.6,329.0 108.1,337.0 91.8,335.1" fill="#080808" opacity="0.55"/>
<polygon points="109.6,322.3 107.1,330.3 106.6,335.0 109.1,327.0" fill="#414141" stroke="#5a5a5a" stroke-width="0.4"/>
<polygon points="107.1,330.3 90.8,328.4 90.3,333.1 106.6,335.0" fill="#565656" stroke="#6f6f6f" stroke-width="0.4"/>
<polygon points="93.9,319.0 109.6,322.3 107.1,330.3 90.8,328.4" fill="#777777" stroke="#b1b1b1" stroke-width="0.85" stroke-linejoin="round"/>
<polygon points="97.1,321.7 104.8,322.9 104.7,327.4 94.5,326.1" fill="#727272" stroke="#a4a4a4" stroke-width="0.55"/>
<polygon points="92.7,324.2 92.4,338.3 83.7,339.0 84.7,322.2" fill="#080808" opacity="0.55"/>
<polygon points="90.9,318.6 90.6,332.6 90.9,336.3 91.2,322.2" fill="#484848" stroke="#616161" stroke-width="0.4"/>
<polygon points="90.6,332.6 81.9,333.3 82.2,337.0 90.9,336.3" fill="#5f5f5f" stroke="#787878" stroke-width="0.4"/>
<polygon points="90.9,318.6 90.6,332.6 81.9,333.3 82.9,316.5" fill="#7f7f7f" stroke="#b9b9b9" stroke-width="0.85" stroke-linejoin="round"/>
<polygon points="89.7,322.5 88.3,330.1 84.1,330.6 83.9,319.5" fill="#7c7c7c" stroke="#acacac" stroke-width="0.55"/>
</g></g>
<text x="12.5" y="233.8" font-size="17" font-weight="bold" fill="#fff" dominant-baseline="central" stroke="#666" stroke-width="0.5" paint-order="stroke">(c)</text>
<rect x="8.0" y="311.3" width="56.0" height="5.8" fill="#e6e6e6" stroke="#999" stroke-width="0.3"/>
<line x1="25.0" y1="311.3" x2="25.0" y2="317.1" stroke="#777" stroke-width="0.3"/>
<line x1="45.0" y1="311.3" x2="45.0" y2="317.1" stroke="#777" stroke-width="0.3"/>
<text x="9" y="313.3" font-size="2" fill="#333" dominant-baseline="central">Detector</text>
<text x="26" y="314.3" font-size="2.6" fill="#333" dominant-baseline="central">Mag = 3.00 K X</text>
<text x="46" y="313.3" font-size="2" fill="#333" dominant-baseline="central">WD = 8.5 mm</text>
<text x="46" y="315.6" font-size="2" fill="#333" dominant-baseline="central">EHT = 5.00 kV</text>
<rect x="92.8" y="249.8" width="45.4" height="65.3" fill="#fff" stroke="none" stroke-width="0.8"/>
<rect x="94.5" y="250.8" width="38.3" height="53.5" fill="none" stroke="#333" stroke-width="0.5"/>
<text x="114.0" y="254.1" font-size="4.5" text-anchor="middle" dominant-baseline="central" fill="#222">Mean = 10.89 μm</text>
<rect x="96.0" y="303.3" width="5.5" height="2.2" fill="#f07272" stroke="#b03030" stroke-width="0.35"/>
<rect x="101.5" y="298.2" width="5.5" height="7.3" fill="#f07272" stroke="#b03030" stroke-width="0.35"/>
<rect x="107.0" y="285.4" width="3.7" height="20.2" fill="#f07272" stroke="#b03030" stroke-width="0.35"/>
<rect x="110.7" y="277.1" width="4.6" height="28.4" fill="#f07272" stroke="#b03030" stroke-width="0.35"/>
<rect x="115.3" y="256.0" width="4.6" height="49.5" fill="#f07272" stroke="#b03030" stroke-width="0.35"/>
<rect x="119.9" y="289.0" width="3.7" height="16.5" fill="#f07272" stroke="#b03030" stroke-width="0.35"/>
<path d="M95.1,305.9 C95.3,305.9 96.1,305.8 96.6,305.8 C97.1,305.7 97.6,305.7 98.1,305.6 C98.7,305.5 99.2,305.3 99.7,305.1 C100.2,304.8 100.7,304.5 101.2,304.0 C101.7,303.5 102.2,303.0 102.7,302.1 C103.2,301.2 103.8,300.1 104.3,298.7 C104.8,297.3 105.3,295.6 105.8,293.6 C106.3,291.5 106.8,289.1 107.3,286.5 C107.8,283.9 108.3,280.9 108.9,278.0 C109.4,275.1 109.9,271.9 110.4,269.2 C110.9,266.5 111.4,263.7 111.9,261.7 C112.4,259.7 112.9,258.0 113.4,257.2 C114.0,256.3 114.5,256.2 115.0,256.7 C115.5,257.3 116.0,258.7 116.5,260.5 C117.0,262.3 117.5,264.9 118.0,267.5 C118.5,270.2 119.0,273.3 119.6,276.2 C120.1,279.1 120.6,282.2 121.1,284.9 C121.6,287.6 122.1,290.1 122.6,292.3 C123.1,294.5 123.6,296.3 124.1,297.8 C124.7,299.4 125.2,300.6 125.7,301.5 C126.2,302.5 126.7,303.2 127.2,303.7 C127.7,304.3 128.2,304.6 128.7,304.9 C129.2,305.2 129.8,305.4 130.3,305.5 C130.8,305.6 131.5,305.7 131.8,305.8" stroke="#222" stroke-width="0.55" fill="none" stroke-linejoin="round" stroke-linecap="round"/>
<line x1="94.5" y1="305.6" x2="132.8" y2="305.6" stroke="#333" stroke-width="0.35"/>
<text x="101.5" y="308.5" font-size="3.8" text-anchor="middle" dominant-baseline="central" fill="#222">8</text>
<line x1="101.5" y1="304.3" x2="101.5" y2="303.1" stroke="#333" stroke-width="0.4"/>
<text x="108.9" y="308.5" font-size="3.8" text-anchor="middle" dominant-baseline="central" fill="#222">10</text>
<line x1="108.9" y1="304.3" x2="108.9" y2="303.1" stroke="#333" stroke-width="0.4"/>
<text x="119.9" y="308.5" font-size="3.8" text-anchor="middle" dominant-baseline="central" fill="#222">12</text>
<line x1="119.9" y1="304.3" x2="119.9" y2="303.1" stroke="#333" stroke-width="0.4"/>
<text x="128.1" y="308.5" font-size="3.8" text-anchor="middle" dominant-baseline="central" fill="#222">14</text>
<line x1="128.1" y1="304.3" x2="128.1" y2="303.1" stroke="#333" stroke-width="0.4"/>
<text x="133.7" y="255.6" font-size="3.7" text-anchor="start" dominant-baseline="central" fill="#222">24</text>
<line x1="132.8" y1="255.6" x2="131.6" y2="255.6" stroke="#333" stroke-width="0.4"/>
<text x="133.7" y="268.9" font-size="3.7" text-anchor="start" dominant-baseline="central" fill="#222">18</text>
<line x1="132.8" y1="268.9" x2="131.6" y2="268.9" stroke="#333" stroke-width="0.4"/>
<text x="133.7" y="281.3" font-size="3.7" text-anchor="start" dominant-baseline="central" fill="#222">12</text>
<line x1="132.8" y1="281.3" x2="131.6" y2="281.3" stroke="#333" stroke-width="0.4"/>
<text x="133.7" y="293.6" font-size="3.7" text-anchor="start" dominant-baseline="central" fill="#222">6</text>
<line x1="132.8" y1="293.6" x2="131.6" y2="293.6" stroke="#333" stroke-width="0.4"/>
<text x="133.7" y="304.6" font-size="3.7" text-anchor="start" dominant-baseline="central" fill="#222">0</text>
<line x1="132.8" y1="304.6" x2="131.6" y2="304.6" stroke="#333" stroke-width="0.4"/>
<text x="114.0" y="312.4" font-size="4.5" text-anchor="middle" dominant-baseline="central" fill="#222">Particle Size (μm)</text>
<text x="126.8" y="277.8" font-size="4.5" text-anchor="middle" dominant-baseline="central" fill="#222" transform="rotate(90 126.80000000000001 277.8)">Count</text>
<g clip-path="url(#clipd)">
<g filter="url(#semtex)"><rect x="7" y="325" width="136" height="102" fill="#0e0e0e"/>
<polygon points="120.6,324.8 107.6,333.1 99.6,327.1 115.2,316.1" fill="#080808" opacity="0.55"/>
<polygon points="120.4,319.7 107.4,328.1 106.1,331.1 119.1,322.8" fill="#3a3a3a" stroke="#535353" stroke-width="0.4"/>
<polygon points="107.4,328.1 99.4,322.0 98.1,325.1 106.1,331.1" fill="#383838" stroke="#515151" stroke-width="0.4"/>
<polygon points="120.4,319.7 107.4,328.1 99.4,322.0 115.0,311.0" fill="#666666" stroke="#a0a0a0" stroke-width="0.85" stroke-linejoin="round"/>
<polygon points="114.8,319.2 108.4,324.7 104.6,320.2 112.0,314.9" fill="#6d6d6d" stroke="#939393" stroke-width="0.55"/>
<polygon points="39.7,325.9 30.5,336.6 21.2,330.1 29.1,316.4" fill="#080808" opacity="0.55"/>
<polygon points="38.5,319.2 29.4,329.9 29.0,334.6 38.2,323.9" fill="#626262" stroke="#7b7b7b" stroke-width="0.4"/>
<polygon points="29.4,329.9 20.1,323.3 19.7,328.1 29.0,334.6" fill="#676767" stroke="#808080" stroke-width="0.4"/>
<polygon points="38.5,319.2 29.4,329.9 20.1,323.3 28.0,309.6" fill="#939393" stroke="#cdcdcd" stroke-width="0.85" stroke-linejoin="round"/>
<polygon points="33.7,319.0 28.7,326.4 24.2,321.1 29.0,314.6" fill="#8b8b8b" stroke="#c0c0c0" stroke-width="0.55"/>
<polygon points="55.4,317.0 64.3,332.0 52.9,340.6 43.2,326.3" fill="#080808" opacity="0.55"/>
<polygon points="63.3,323.9 51.8,332.6 51.4,338.6 62.8,330.0" fill="#5c5c5c" stroke="#757575" stroke-width="0.4"/>
<polygon points="51.8,332.6 42.2,318.3 41.7,324.3 51.4,338.6" fill="#565656" stroke="#6f6f6f" stroke-width="0.4"/>
<polygon points="54.4,309.0 63.3,323.9 51.8,332.6 42.2,318.3" fill="#898989" stroke="#c3c3c3" stroke-width="0.85" stroke-linejoin="round"/>
<polygon points="44.0,319.0 47.3,333.0 34.0,335.2 32.1,319.0" fill="#080808" opacity="0.55"/>
<polygon points="46.1,327.7 32.8,329.9 32.5,333.2 45.8,331.0" fill="#757575" stroke="#8e8e8e" stroke-width="0.4"/>
<polygon points="32.8,329.9 30.9,313.8 30.6,317.0 32.5,333.2" fill="#606060" stroke="#797979" stroke-width="0.4"/>
<polygon points="42.8,313.7 46.1,327.7 32.8,329.9 30.9,313.8" fill="#979797" stroke="#d1d1d1" stroke-width="0.85" stroke-linejoin="round"/>
<polygon points="41.7,322.0 39.2,336.2 24.9,338.7 26.7,320.8" fill="#080808" opacity="0.55"/>
<polygon points="38.5,330.1 24.2,332.5 23.4,336.7 37.7,334.2" fill="#757575" stroke="#8e8e8e" stroke-width="0.4"/>
<polygon points="24.2,332.5 26.1,314.7 25.2,318.8 23.4,336.7" fill="#606060" stroke="#797979" stroke-width="0.4"/>
<polygon points="41.0,315.8 38.5,330.1 24.2,332.5 26.1,314.7" fill="#979797" stroke="#d1d1d1" stroke-width="0.85" stroke-linejoin="round"/>
<polygon points="137.6,327.1 132.6,345.1 119.7,340.4 121.2,323.4" fill="#080808" opacity="0.55"/>
<polygon points="136.5,319.7 131.4,337.7 131.1,343.1 136.1,325.1" fill="#424242" stroke="#5b5b5b" stroke-width="0.4"/>
<polygon points="131.4,337.7 118.6,333.0 118.2,338.4 131.1,343.1" fill="#525252" stroke="#6b6b6b" stroke-width="0.4"/>
<polygon points="136.5,319.7 131.4,337.7 118.6,333.0 120.0,316.0" fill="#797979" stroke="#b3b3b3" stroke-width="0.85" stroke-linejoin="round"/>
<polygon points="104.5,327.1 115.2,335.8 106.5,341.8 99.4,332.8" fill="#080808" opacity="0.55"/>
<polygon points="113.6,328.0 104.9,333.9 105.0,339.8 113.7,333.8" fill="#404040" stroke="#595959" stroke-width="0.4"/>
<polygon points="104.9,333.9 97.8,324.9 97.9,330.8 105.0,339.8" fill="#3b3b3b" stroke="#545454" stroke-width="0.4"/>
<polygon points="102.9,319.3 113.6,328.0 104.9,333.9 97.8,324.9" fill="#6c6c6c" stroke="#a6a6a6" stroke-width="0.85" stroke-linejoin="round"/>
<polygon points="103.3,323.3 109.4,327.5 104.6,329.9 100.9,326.4" fill="#6c6c6c" stroke="#999999" stroke-width="0.55"/>
<polygon points="65.7,329.7 80.9,331.7 79.1,344.2 62.7,341.1" fill="#080808" opacity="0.55"/>
<polygon points="78.9,324.2 77.1,336.7 77.6,342.2 79.4,329.7" fill="#565656" stroke="#6f6f6f" stroke-width="0.4"/>
<polygon points="77.1,336.7 60.7,333.6 61.2,339.1 77.6,342.2" fill="#6a6a6a" stroke="#838383" stroke-width="0.4"/>
<polygon points="63.7,322.2 78.9,324.2 77.1,336.7 60.7,333.6" fill="#8c8c8c" stroke="#c6c6c6" stroke-width="0.85" stroke-linejoin="round"/>
<polygon points="17.2,338.5 5.0,342.2 2.9,330.7 18.3,330.0" fill="#080808" opacity="0.55"/>
<polygon points="16.4,332.3 4.2,336.0 3.5,340.2 15.7,336.5" fill="#626262" stroke="#7b7b7b" stroke-width="0.4"/>
<polygon points="4.2,336.0 2.0,324.6 1.4,328.7 3.5,340.2" fill="#505050" stroke="#696969" stroke-width="0.4"/>
<polygon points="16.4,332.3 4.2,336.0 2.0,324.6 17.5,323.9" fill="#878787" stroke="#c1c1c1" stroke-width="0.85" stroke-linejoin="round"/>
<polygon points="109.7,334.2 104.7,349.2 90.8,344.7 93.0,329.7" fill="#080808" opacity="0.55"/>
<polygon points="108.8,326.1 103.8,341.0 103.2,347.2 108.2,332.2" fill="#313131" stroke="#4a4a4a" stroke-width="0.4"/>
<polygon points="103.8,341.0 89.9,336.6 89.3,342.7 103.2,347.2" fill="#424242" stroke="#5b5b5b" stroke-width="0.4"/>
<polygon points="108.8,326.1 103.8,341.0 89.9,336.6 92.1,321.5" fill="#676767" stroke="#a1a1a1" stroke-width="0.85" stroke-linejoin="round"/>
<polygon points="50.8,334.1 54.2,345.3 47.4,349.5 42.7,336.2" fill="#080808" opacity="0.55"/>
<polygon points="51.4,338.0 44.6,342.3 45.9,347.5 52.7,343.3" fill="#595959" stroke="#727272" stroke-width="0.4"/>
<polygon points="44.6,342.3 39.9,329.0 41.2,334.2 45.9,347.5" fill="#4f4f4f" stroke="#686868" stroke-width="0.4"/>
<polygon points="48.1,326.9 51.4,338.0 44.6,342.3 39.9,329.0" fill="#858585" stroke="#bfbfbf" stroke-width="0.85" stroke-linejoin="round"/>
<polygon points="47.1,330.9 48.3,335.0 46.0,337.4 44.6,332.4" fill="#7f7f7f" stroke="#b2b2b2" stroke-width="0.55"/>
<polygon points="34.6,333.1 38.7,344.2 30.4,346.7 28.3,335.7" fill="#080808" opacity="0.55"/>
<polygon points="38.4,337.6 30.1,340.2 28.9,344.7 37.2,342.2" fill="#535353" stroke="#6c6c6c" stroke-width="0.4"/>
<polygon points="30.1,340.2 28.0,329.2 26.8,333.7 28.9,344.7" fill="#414141" stroke="#5a5a5a" stroke-width="0.4"/>
<polygon points="34.4,326.6 38.4,337.6 30.1,340.2 28.0,329.2" fill="#787878" stroke="#b2b2b2" stroke-width="0.85" stroke-linejoin="round"/>
<polygon points="33.4,329.7 35.4,336.0 30.9,337.6 29.2,330.9" fill="#717171" stroke="#a5a5a5" stroke-width="0.55"/>
<polygon points="144.1,335.5 133.7,351.9 123.9,343.5 136.2,327.4" fill="#080808" opacity="0.55"/>
<polygon points="141.4,330.2 131.1,346.6 132.2,349.9 142.6,333.5" fill="#656565" stroke="#7e7e7e" stroke-width="0.4"/>
<polygon points="131.1,346.6 121.3,338.2 122.4,341.5 132.2,349.9" fill="#6a6a6a" stroke="#838383" stroke-width="0.4"/>
<polygon points="141.4,330.2 131.1,346.6 121.3,338.2 133.6,322.1" fill="#989898" stroke="#d2d2d2" stroke-width="0.85" stroke-linejoin="round"/>
<polygon points="137.4,330.8 131.0,341.4 124.7,335.9 133.9,326.3" fill="#8d8d8d" stroke="#c5c5c5" stroke-width="0.55"/>
<polygon points="131.3,346.6 115.7,350.6 109.5,341.7 127.0,335.7" fill="#080808" opacity="0.55"/>
<polygon points="130.2,341.2 114.6,345.2 114.2,348.6 129.8,344.6" fill="#3c3c3c" stroke="#555555" stroke-width="0.4"/>
<polygon points="114.6,345.2 108.4,336.3 108.0,339.7 114.2,348.6" fill="#2e2e2e" stroke="#474747" stroke-width="0.4"/>
<polygon points="130.2,341.2 114.6,345.2 108.4,336.3 125.8,330.3" fill="#616161" stroke="#9b9b9b" stroke-width="0.85" stroke-linejoin="round"/>
<polygon points="123.9,339.9 117.3,340.9 114.4,336.8 122.8,333.7" fill="#656565" stroke="#8e8e8e" stroke-width="0.55"/>
<polygon points="19.7,336.3 28.8,347.2 19.2,352.8 13.2,343.2" fill="#080808" opacity="0.55"/>
<polygon points="28.7,341.2 19.1,346.8 17.7,350.8 27.3,345.2" fill="#484848" stroke="#616161" stroke-width="0.4"/>
<polygon points="19.1,346.8 13.1,337.2 11.7,341.2 17.7,350.8" fill="#404040" stroke="#595959" stroke-width="0.4"/>
<polygon points="19.6,330.4 28.7,341.2 19.1,346.8 13.1,337.2" fill="#737373" stroke="#adadad" stroke-width="0.85" stroke-linejoin="round"/>
<polygon points="20.4,333.6 26.2,339.7 20.1,344.2 15.8,338.0" fill="#6b6b6b" stroke="#a0a0a0" stroke-width="0.55"/>
<polygon points="60.0,339.7 53.8,351.2 44.2,345.5 49.2,334.3" fill="#080808" opacity="0.55"/>
<polygon points="58.7,334.5 52.6,346.1 52.3,349.2 58.5,337.7" fill="#2b2b2b" stroke="#444444" stroke-width="0.4"/>
<polygon points="52.6,346.1 43.0,340.4 42.7,343.5 52.3,349.2" fill="#353535" stroke="#4e4e4e" stroke-width="0.4"/>
<polygon points="58.7,334.5 52.6,346.1 43.0,340.4 47.9,329.1" fill="#606060" stroke="#9a9a9a" stroke-width="0.85" stroke-linejoin="round"/>
<polygon points="54.8,335.2 52.4,342.8 46.5,340.6 49.4,331.8" fill="#565656" stroke="#8d8d8d" stroke-width="0.55"/>
<polygon points="4.0,337.7 21.7,338.1 22.4,352.8 5.0,349.3" fill="#080808" opacity="0.55"/>
<polygon points="21.7,346.8 4.3,343.3 3.5,347.3 20.9,350.8" fill="#424242" stroke="#5b5b5b" stroke-width="0.4"/>
<polygon points="4.3,343.3 3.2,331.7 2.5,335.7 3.5,347.3" fill="#2e2e2e" stroke="#474747" stroke-width="0.4"/>
<polygon points="3.2,331.7 21.0,332.1 21.7,346.8 4.3,343.3" fill="#656565" stroke="#9f9f9f" stroke-width="0.85" stroke-linejoin="round"/>
<polygon points="7.3,334.6 18.5,334.2 18.9,344.6 7.6,340.9" fill="#6b6b6b" stroke="#929292" stroke-width="0.55"/>
<polygon points="103.4,342.3 110.6,353.2 105.3,355.9 99.0,347.4" fill="#080808" opacity="0.55"/>
<polygon points="108.4,344.8 103.0,347.5 103.8,353.9 109.1,351.2" fill="#4c4c4c" stroke="#656565" stroke-width="0.4"/>
<polygon points="103.0,347.5 96.8,339.0 97.5,345.4 103.8,353.9" fill="#434343" stroke="#5c5c5c" stroke-width="0.4"/>
<polygon points="101.2,333.9 108.4,344.8 103.0,347.5 96.8,339.0" fill="#757575" stroke="#afafaf" stroke-width="0.85" stroke-linejoin="round"/>
<polygon points="100.5,336.4 106.6,343.7 103.5,345.6 98.0,339.0" fill="#787878" stroke="#a2a2a2" stroke-width="0.55"/>
<polygon points="62.9,338.0 77.6,347.4 72.8,360.4 58.5,353.2" fill="#080808" opacity="0.55"/>
<polygon points="77.3,340.7 72.4,353.7 71.3,358.4 76.1,345.4" fill="#5d5d5d" stroke="#767676" stroke-width="0.4"/>
<polygon points="72.4,353.7 58.2,346.5 57.0,351.2 71.3,358.4" fill="#6a6a6a" stroke="#838383" stroke-width="0.4"/>
<polygon points="62.6,331.3 77.3,340.7 72.4,353.7 58.2,346.5" fill="#939393" stroke="#cdcdcd" stroke-width="0.85" stroke-linejoin="round"/>
<polygon points="64.8,334.7 75.1,341.4 71.5,351.1 61.8,345.4" fill="#898989" stroke="#c0c0c0" stroke-width="0.55"/>
<polygon points="152.8,351.0 145.8,363.4 135.9,360.2 142.3,347.2" fill="#080808" opacity="0.55"/>
<polygon points="150.4,345.4 143.4,357.8 144.3,361.4 151.3,349.0" fill="#5d5d5d" stroke="#767676" stroke-width="0.4"/>
<polygon points="143.4,357.8 133.4,354.6 134.4,358.2 144.3,361.4" fill="#6c6c6c" stroke="#858585" stroke-width="0.4"/>
<polygon points="150.4,345.4 143.4,357.8 133.4,354.6 139.9,341.6" fill="#919191" stroke="#cbcbcb" stroke-width="0.85" stroke-linejoin="round"/>
<polygon points="92.1,348.0 102.3,357.2 90.7,367.4 83.6,354.5" fill="#080808" opacity="0.55"/>
<polygon points="101.3,351.8 89.7,362.0 89.2,365.4 100.8,355.2" fill="#5b5b5b" stroke="#747474" stroke-width="0.4"/>
<polygon points="89.7,362.0 82.6,349.1 82.1,352.5 89.2,365.4" fill="#565656" stroke="#6f6f6f" stroke-width="0.4"/>
<polygon points="91.1,342.6 101.3,351.8 89.7,362.0 82.6,349.1" fill="#8a8a8a" stroke="#c4c4c4" stroke-width="0.85" stroke-linejoin="round"/>
<polygon points="90.3,345.5 97.6,350.7 89.1,358.4 84.2,350.0" fill="#8e8e8e" stroke="#b7b7b7" stroke-width="0.55"/>
<polygon points="71.2,353.3 67.2,368.0 54.0,362.3 61.6,346.2" fill="#080808" opacity="0.55"/>
<polygon points="69.4,347.2 65.4,361.9 65.7,366.0 69.7,351.3" fill="#5c5c5c" stroke="#757575" stroke-width="0.4"/>
<polygon points="65.4,361.9 52.2,356.2 52.5,360.3 65.7,366.0" fill="#6b6b6b" stroke="#848484" stroke-width="0.4"/>
<polygon points="69.4,347.2 65.4,361.9 52.2,356.2 59.8,340.1" fill="#939393" stroke="#cdcdcd" stroke-width="0.85" stroke-linejoin="round"/>
<polygon points="66.3,349.3 62.7,357.9 55.1,354.0 61.2,345.2" fill="#878787" stroke="#c0c0c0" stroke-width="0.55"/>
<polygon points="8.8,352.5 19.8,356.9 15.8,366.8 2.2,359.4" fill="#080808" opacity="0.55"/>
<polygon points="17.8,350.9 13.8,360.9 14.3,364.8 18.3,354.9" fill="#575757" stroke="#707070" stroke-width="0.4"/>
<polygon points="13.8,360.9 0.2,353.4 0.7,357.4 14.3,364.8" fill="#626262" stroke="#7b7b7b" stroke-width="0.4"/>
<polygon points="6.8,346.6 17.8,350.9 13.8,360.9 0.2,353.4" fill="#8c8c8c" stroke="#c6c6c6" stroke-width="0.85" stroke-linejoin="round"/>
<polygon points="7.7,348.8 16.1,351.7 13.5,357.9 2.3,353.7" fill="#878787" stroke="#b9b9b9" stroke-width="0.55"/>
<polygon points="159.3,358.5 145.6,371.2 135.1,363.8 148.2,348.7" fill="#080808" opacity="0.55"/>
<polygon points="156.7,351.7 143.0,364.4 144.1,369.2 157.8,356.5" fill="#505050" stroke="#696969" stroke-width="0.4"/>
<polygon points="143.0,364.4 132.5,357.0 133.6,361.8 144.1,369.2" fill="#525252" stroke="#6b6b6b" stroke-width="0.4"/>
<polygon points="156.7,351.7 143.0,364.4 132.5,357.0 145.6,341.9" fill="#7f7f7f" stroke="#b9b9b9" stroke-width="0.85" stroke-linejoin="round"/>
<polygon points="150.7,352.2 144.0,358.6 137.2,354.9 145.6,346.8" fill="#868686" stroke="#acacac" stroke-width="0.55"/>
<polygon points="48.3,354.5 58.4,364.8 51.2,370.5 41.6,360.0" fill="#080808" opacity="0.55"/>
<polygon points="57.0,358.1 49.8,363.8 49.7,368.5 56.9,362.8" fill="#333333" stroke="#4c4c4c" stroke-width="0.4"/>
<polygon points="49.8,363.8 40.3,353.2 40.1,358.0 49.7,368.5" fill="#303030" stroke="#494949" stroke-width="0.4"/>
<polygon points="46.9,347.8 57.0,358.1 49.8,363.8 40.3,353.2" fill="#606060" stroke="#9a9a9a" stroke-width="0.85" stroke-linejoin="round"/>
<polygon points="38.4,354.2 55.9,359.5 52.0,372.3 33.4,367.8" fill="#080808" opacity="0.55"/>
<polygon points="51.8,367.2 33.2,362.7 31.9,365.8 50.5,370.3" fill="#626262" stroke="#7b7b7b" stroke-width="0.4"/>
<polygon points="33.2,362.7 38.2,349.2 36.9,352.2 31.9,365.8" fill="#505050" stroke="#696969" stroke-width="0.4"/>
<polygon points="38.2,349.2 55.7,354.5 51.8,367.2 33.2,362.7" fill="#858585" stroke="#bfbfbf" stroke-width="0.85" stroke-linejoin="round"/>
<polygon points="42.1,354.4 50.3,356.4 47.6,361.5 39.3,359.1" fill="#878787" stroke="#b2b2b2" stroke-width="0.55"/>
<polygon points="96.4,366.1 89.4,375.3 81.8,371.4 87.4,359.0" fill="#080808" opacity="0.55"/>
<polygon points="94.6,357.6 87.6,366.8 87.9,373.3 94.9,364.1" fill="#363636" stroke="#4f4f4f" stroke-width="0.4"/>
<polygon points="87.6,366.8 80.0,362.9 80.3,369.4 87.9,373.3" fill="#3e3e3e" stroke="#575757" stroke-width="0.4"/>
<polygon points="94.6,357.6 87.6,366.8 80.0,362.9 85.6,350.5" fill="#676767" stroke="#a1a1a1" stroke-width="0.85" stroke-linejoin="round"/>
<polygon points="85.6,376.4 69.8,376.5 69.2,364.0 84.7,364.2" fill="#080808" opacity="0.55"/>
<polygon points="84.6,368.2 68.8,368.3 68.3,374.5 84.1,374.4" fill="#434343" stroke="#5c5c5c" stroke-width="0.4"/>
<polygon points="68.8,368.3 68.2,355.8 67.7,362.0 68.3,374.5" fill="#2b2b2b" stroke="#444444" stroke-width="0.4"/>
<polygon points="84.6,368.2 68.8,368.3 68.2,355.8 83.7,356.0" fill="#626262" stroke="#9c9c9c" stroke-width="0.85" stroke-linejoin="round"/>
<polygon points="81.4,365.3 70.5,366.3 71.9,357.4 80.3,356.8" fill="#5a5a5a" stroke="#8f8f8f" stroke-width="0.55"/>
<polygon points="70.8,361.1 70.3,376.1 60.6,378.2 57.4,361.2" fill="#080808" opacity="0.55"/>
<polygon points="70.2,368.7 60.5,370.8 59.1,376.2 68.8,374.1" fill="#6f6f6f" stroke="#888888" stroke-width="0.4"/>
<polygon points="60.5,370.8 57.3,353.8 55.9,359.2 59.1,376.2" fill="#5c5c5c" stroke="#757575" stroke-width="0.4"/>
<polygon points="70.7,353.7 70.2,368.7 60.5,370.8 57.3,353.8" fill="#929292" stroke="#cccccc" stroke-width="0.85" stroke-linejoin="round"/>
<polygon points="132.0,373.9 116.2,377.6 113.2,366.1 126.4,359.4" fill="#080808" opacity="0.55"/>
<polygon points="129.8,367.6 114.0,371.3 114.7,375.6 130.5,371.9" fill="#414141" stroke="#5a5a5a" stroke-width="0.4"/>
<polygon points="114.0,371.3 111.1,359.8 111.7,364.1 114.7,375.6" fill="#2f2f2f" stroke="#484848" stroke-width="0.4"/>
<polygon points="129.8,367.6 114.0,371.3 111.1,359.8 124.2,353.1" fill="#656565" stroke="#9f9f9f" stroke-width="0.85" stroke-linejoin="round"/>
<polygon points="125.7,365.5 116.2,366.4 114.8,362.0 121.3,358.2" fill="#626262" stroke="#929292" stroke-width="0.55"/>
<polygon points="122.5,374.1 106.6,379.0 102.8,366.0 120.2,363.4" fill="#080808" opacity="0.55"/>
<polygon points="121.0,366.8 105.1,371.6 105.1,377.0 121.0,372.1" fill="#696969" stroke="#828282" stroke-width="0.4"/>
<polygon points="105.1,371.6 101.3,358.6 101.3,364.0 105.1,377.0" fill="#595959" stroke="#727272" stroke-width="0.4"/>
<polygon points="121.0,366.8 105.1,371.6 101.3,358.6 118.7,356.1" fill="#8f8f8f" stroke="#c9c9c9" stroke-width="0.85" stroke-linejoin="round"/>
<polygon points="15.4,365.0 31.4,369.2 28.4,381.1 12.0,375.5" fill="#080808" opacity="0.55"/>
<polygon points="29.5,361.1 26.5,373.0 26.9,379.1 29.9,367.2" fill="#3a3a3a" stroke="#535353" stroke-width="0.4"/>
<polygon points="26.5,373.0 10.1,367.4 10.5,373.5 26.9,379.1" fill="#4a4a4a" stroke="#636363" stroke-width="0.4"/>
<polygon points="13.6,356.9 29.5,361.1 26.5,373.0 10.1,367.4" fill="#707070" stroke="#aaaaaa" stroke-width="0.85" stroke-linejoin="round"/>
<polygon points="14.9,358.3 26.4,362.3 25.0,370.1 11.8,366.2" fill="#676767" stroke="#9d9d9d" stroke-width="0.55"/>
<polygon points="34.5,362.4 40.9,377.4 25.2,381.6 22.8,368.2" fill="#080808" opacity="0.55"/>
<polygon points="40.4,369.1 24.6,373.3 23.7,379.6 39.4,375.4" fill="#434343" stroke="#5c5c5c" stroke-width="0.4"/>
<polygon points="24.6,373.3 22.2,359.9 21.3,366.2 23.7,379.6" fill="#313131" stroke="#4a4a4a" stroke-width="0.4"/>
<polygon points="34.0,354.1 40.4,369.1 24.6,373.3 22.2,359.9" fill="#676767" stroke="#a1a1a1" stroke-width="0.85" stroke-linejoin="round"/>
<polygon points="33.3,358.2 36.0,366.4 25.8,370.3 24.4,362.2" fill="#616161" stroke="#949494" stroke-width="0.55"/>
<polygon points="129.2,372.3 116.7,376.9 112.1,367.4 127.3,364.3" fill="#080808" opacity="0.55"/>
<polygon points="128.3,366.3 115.8,371.0 115.2,374.9 127.7,370.3" fill="#454545" stroke="#5e5e5e" stroke-width="0.4"/>
<polygon points="115.8,371.0 111.2,361.4 110.6,365.4 115.2,374.9" fill="#373737" stroke="#505050" stroke-width="0.4"/>
<polygon points="128.3,366.3 115.8,371.0 111.2,361.4 126.4,358.3" fill="#6c6c6c" stroke="#a6a6a6" stroke-width="0.85" stroke-linejoin="round"/>
<polygon points="122.4,368.5 131.2,373.7 127.4,385.0 115.2,380.3" fill="#080808" opacity="0.55"/>
<polygon points="128.6,365.5 124.8,376.8 125.9,383.0 129.7,371.7" fill="#3e3e3e" stroke="#575757" stroke-width="0.4"/>
<polygon points="124.8,376.8 112.6,372.0 113.7,378.3 125.9,383.0" fill="#4d4d4d" stroke="#666666" stroke-width="0.4"/>
<polygon points="119.8,360.3 128.6,365.5 124.8,376.8 112.6,372.0" fill="#747474" stroke="#aeaeae" stroke-width="0.85" stroke-linejoin="round"/>
<polygon points="120.9,363.7 126.0,367.6 123.8,373.1 116.7,370.6" fill="#7a7a7a" stroke="#a1a1a1" stroke-width="0.55"/>
<polygon points="122.3,379.1 104.3,384.4 99.0,373.3 114.6,366.3" fill="#080808" opacity="0.55"/>
<polygon points="120.9,372.3 103.0,377.5 102.8,382.4 120.8,377.1" fill="#676767" stroke="#808080" stroke-width="0.4"/>
<polygon points="103.0,377.5 97.7,366.4 97.5,371.3 102.8,382.4" fill="#575757" stroke="#707070" stroke-width="0.4"/>
<polygon points="120.9,372.3 103.0,377.5 97.7,366.4 113.2,359.4" fill="#8c8c8c" stroke="#c6c6c6" stroke-width="0.85" stroke-linejoin="round"/>
<polygon points="116.8,372.0 103.9,375.7 101.5,366.4 111.3,363.3" fill="#929292" stroke="#b9b9b9" stroke-width="0.55"/>
<polygon points="75.0,369.8 78.5,383.9 68.1,384.0 62.6,372.7" fill="#080808" opacity="0.55"/>
<polygon points="78.0,376.1 67.6,376.2 66.6,382.0 77.0,381.9" fill="#5a5a5a" stroke="#737373" stroke-width="0.4"/>
<polygon points="67.6,376.2 62.1,364.9 61.1,370.7 66.6,382.0" fill="#444444" stroke="#5d5d5d" stroke-width="0.4"/>
<polygon points="74.5,362.0 78.0,376.1 67.6,376.2 62.1,364.9" fill="#797979" stroke="#b3b3b3" stroke-width="0.85" stroke-linejoin="round"/>
<polygon points="72.5,366.3 74.4,374.1 69.4,374.1 66.2,367.0" fill="#828282" stroke="#a6a6a6" stroke-width="0.55"/>
<polygon points="136.3,365.2 152.2,372.4 145.3,384.4 131.5,378.5" fill="#080808" opacity="0.55"/>
<polygon points="151.8,367.4 144.9,379.4 143.8,382.4 150.7,370.4" fill="#303030" stroke="#494949" stroke-width="0.4"/>
<polygon points="144.9,379.4 131.1,373.5 130.0,376.5 143.8,382.4" fill="#3c3c3c" stroke="#555555" stroke-width="0.4"/>
<polygon points="131.1,373.5 135.9,360.2 134.8,363.2 130.0,376.5" fill="#2f2f2f" stroke="#484848" stroke-width="0.4"/>
<polygon points="135.9,360.2 151.8,367.4 144.9,379.4 131.1,373.5" fill="#646464" stroke="#9e9e9e" stroke-width="0.85" stroke-linejoin="round"/>
<polygon points="107.8,368.1 110.5,382.3 98.5,383.5 96.8,371.8" fill="#080808" opacity="0.55"/>
<polygon points="109.9,376.0 97.9,377.2 97.0,381.5 109.0,380.3" fill="#646464" stroke="#7d7d7d" stroke-width="0.4"/>
<polygon points="97.9,377.2 96.2,365.6 95.3,369.8 97.0,381.5" fill="#4e4e4e" stroke="#676767" stroke-width="0.4"/>
<polygon points="107.2,361.8 109.9,376.0 97.9,377.2 96.2,365.6" fill="#858585" stroke="#bfbfbf" stroke-width="0.85" stroke-linejoin="round"/>
<polygon points="13.8,376.3 2.7,383.9 -1.5,376.2 9.4,370.2" fill="#080808" opacity="0.55"/>
<polygon points="12.6,370.9 1.5,378.5 1.2,381.9 12.3,374.3" fill="#696969" stroke="#828282" stroke-width="0.4"/>
<polygon points="1.5,378.5 -2.7,370.9 -3.0,374.2 1.2,381.9" fill="#616161" stroke="#7a7a7a" stroke-width="0.4"/>
<polygon points="12.6,370.9 1.5,378.5 -2.7,370.9 8.2,364.8" fill="#959595" stroke="#cfcfcf" stroke-width="0.85" stroke-linejoin="round"/>
<polygon points="9.1,371.2 3.8,375.2 -0.1,371.1 6.5,367.0" fill="#8f8f8f" stroke="#c2c2c2" stroke-width="0.55"/>
<polygon points="74.9,368.9 77.7,389.4 64.0,391.1 59.8,372.2" fill="#080808" opacity="0.55"/>
<polygon points="75.9,382.8 62.2,384.6 62.5,389.1 76.2,387.4" fill="#616161" stroke="#7a7a7a" stroke-width="0.4"/>
<polygon points="62.2,384.6 57.9,365.6 58.3,370.2 62.5,389.1" fill="#4c4c4c" stroke="#656565" stroke-width="0.4"/>
<polygon points="73.0,362.4 75.9,382.8 62.2,384.6 57.9,365.6" fill="#828282" stroke="#bcbcbc" stroke-width="0.85" stroke-linejoin="round"/>
<polygon points="70.8,366.0 73.8,380.2 63.7,381.3 60.3,368.7" fill="#7d7d7d" stroke="#afafaf" stroke-width="0.55"/>
<polygon points="58.7,379.6 50.5,394.4 37.0,385.9 45.0,371.9" fill="#080808" opacity="0.55"/>
<polygon points="55.9,374.1 47.7,388.9 49.0,392.4 57.2,377.6" fill="#515151" stroke="#6a6a6a" stroke-width="0.4"/>
<polygon points="47.7,388.9 34.2,380.4 35.5,383.9 49.0,392.4" fill="#595959" stroke="#727272" stroke-width="0.4"/>
<polygon points="55.9,374.1 47.7,388.9 34.2,380.4 42.2,366.5" fill="#858585" stroke="#bfbfbf" stroke-width="0.85" stroke-linejoin="round"/>
<polygon points="50.0,376.0 45.6,383.0 38.9,379.1 43.0,371.8" fill="#8b8b8b" stroke="#b2b2b2" stroke-width="0.55"/>
<polygon points="25.6,379.9 23.6,395.6 12.8,394.5 14.2,377.7" fill="#080808" opacity="0.55"/>
<polygon points="23.2,389.1 12.4,387.9 11.3,392.5 22.1,393.6" fill="#5e5e5e" stroke="#777777" stroke-width="0.4"/>
<polygon points="12.4,387.9 13.8,371.1 12.7,375.7 11.3,392.5" fill="#484848" stroke="#616161" stroke-width="0.4"/>
<polygon points="25.2,373.4 23.2,389.1 12.4,387.9 13.8,371.1" fill="#7f7f7f" stroke="#b9b9b9" stroke-width="0.85" stroke-linejoin="round"/>
<polygon points="23.2,376.8 21.0,386.1 15.9,384.7 16.1,375.6" fill="#808080" stroke="#acacac" stroke-width="0.55"/>
<polygon points="52.9,379.2 55.2,390.9 45.6,395.0 39.2,383.1" fill="#080808" opacity="0.55"/>
<polygon points="54.2,383.3 44.5,387.3 44.1,393.0 53.7,388.9" fill="#414141" stroke="#5a5a5a" stroke-width="0.4"/>
<polygon points="44.5,387.3 38.2,375.5 37.7,381.1 44.1,393.0" fill="#353535" stroke="#4e4e4e" stroke-width="0.4"/>
<polygon points="51.8,371.6 54.2,383.3 44.5,387.3 38.2,375.5" fill="#696969" stroke="#a3a3a3" stroke-width="0.85" stroke-linejoin="round"/>
<polygon points="102.3,390.3 89.5,399.7 75.7,388.9 92.5,376.8" fill="#080808" opacity="0.55"/>
<polygon points="100.9,383.4 88.1,392.7 88.0,397.7 100.8,388.3" fill="#646464" stroke="#7d7d7d" stroke-width="0.4"/>
<polygon points="88.1,392.7 74.3,382.0 74.2,386.9 88.0,397.7" fill="#636363" stroke="#7c7c7c" stroke-width="0.4"/>
<polygon points="100.9,383.4 88.1,392.7 74.3,382.0 91.1,369.9" fill="#919191" stroke="#cbcbcb" stroke-width="0.85" stroke-linejoin="round"/>
<polygon points="96.5,382.0 88.3,387.3 79.3,381.5 90.5,373.6" fill="#8f8f8f" stroke="#bebebe" stroke-width="0.55"/>
<polygon points="62.4,390.5 51.0,394.2 49.0,387.1 61.0,384.3" fill="#080808" opacity="0.55"/>
<polygon points="61.7,385.1 50.3,388.8 49.5,392.2 60.9,388.5" fill="#757575" stroke="#8e8e8e" stroke-width="0.4"/>
<polygon points="50.3,388.8 48.3,381.7 47.5,385.1 49.5,392.2" fill="#646464" stroke="#7d7d7d" stroke-width="0.4"/>
<polygon points="61.7,385.1 50.3,388.8 48.3,381.7 60.3,378.9" fill="#9a9a9a" stroke="#d4d4d4" stroke-width="0.85" stroke-linejoin="round"/>
<polygon points="147.6,394.6 131.5,402.1 126.1,390.4 143.6,382.4" fill="#080808" opacity="0.55"/>
<polygon points="145.4,387.5 129.3,395.0 130.0,400.1 146.1,392.6" fill="#3c3c3c" stroke="#555555" stroke-width="0.4"/>
<polygon points="129.3,395.0 123.9,383.3 124.6,388.4 130.0,400.1" fill="#303030" stroke="#494949" stroke-width="0.4"/>
<polygon points="145.4,387.5 129.3,395.0 123.9,383.3 141.4,375.3" fill="#646464" stroke="#9e9e9e" stroke-width="0.85" stroke-linejoin="round"/>
<polygon points="59.4,381.3 59.1,400.6 46.2,402.1 43.2,385.7" fill="#080808" opacity="0.55"/>
<polygon points="56.5,375.3 56.2,394.6 57.6,398.6 57.9,379.3" fill="#3f3f3f" stroke="#585858" stroke-width="0.4"/>
<polygon points="56.2,394.6 43.3,396.1 44.7,400.1 57.6,398.6" fill="#555555" stroke="#6e6e6e" stroke-width="0.4"/>
<polygon points="56.5,375.3 56.2,394.6 43.3,396.1 40.3,379.7" fill="#767676" stroke="#b0b0b0" stroke-width="0.85" stroke-linejoin="round"/>
<polygon points="53.9,378.6 53.9,391.3 44.3,392.2 44.2,381.4" fill="#6f6f6f" stroke="#a3a3a3" stroke-width="0.55"/>
<polygon points="104.1,389.1 98.1,402.5 85.3,398.1 95.1,383.7" fill="#080808" opacity="0.55"/>
<polygon points="102.1,382.3 96.0,395.7 96.6,400.5 102.6,387.1" fill="#575757" stroke="#707070" stroke-width="0.4"/>
<polygon points="96.0,395.7 83.2,391.3 83.8,396.1 96.6,400.5" fill="#656565" stroke="#7e7e7e" stroke-width="0.4"/>
<polygon points="102.1,382.3 96.0,395.7 83.2,391.3 93.1,377.0" fill="#8b8b8b" stroke="#c5c5c5" stroke-width="0.85" stroke-linejoin="round"/>
<polygon points="99.0,383.0 95.0,391.5 86.8,388.7 92.3,380.8" fill="#8a8a8a" stroke="#b8b8b8" stroke-width="0.55"/>
<polygon points="136.3,389.0 146.6,396.8 140.8,406.0 128.2,396.6" fill="#080808" opacity="0.55"/>
<polygon points="145.6,391.1 139.8,400.3 139.3,404.0 145.1,394.8" fill="#343434" stroke="#4d4d4d" stroke-width="0.4"/>
<polygon points="139.8,400.3 127.2,390.9 126.7,394.6 139.3,404.0" fill="#3a3a3a" stroke="#535353" stroke-width="0.4"/>
<polygon points="135.2,383.3 145.6,391.1 139.8,400.3 127.2,390.9" fill="#676767" stroke="#a1a1a1" stroke-width="0.85" stroke-linejoin="round"/>
<polygon points="71.6,389.4 86.8,392.5 79.3,405.2 66.9,400.8" fill="#080808" opacity="0.55"/>
<polygon points="86.0,387.2 78.4,399.9 77.8,403.2 85.3,390.5" fill="#636363" stroke="#7c7c7c" stroke-width="0.4"/>
<polygon points="78.4,399.9 66.0,395.5 65.4,398.8 77.8,403.2" fill="#707070" stroke="#898989" stroke-width="0.4"/>
<polygon points="70.8,384.1 86.0,387.2 78.4,399.9 66.0,395.5" fill="#979797" stroke="#d1d1d1" stroke-width="0.85" stroke-linejoin="round"/>
<polygon points="57.9,403.7 41.7,407.6 39.9,393.8 57.1,389.5" fill="#080808" opacity="0.55"/>
<polygon points="56.9,398.6 40.7,402.5 40.2,405.6 56.4,401.7" fill="#6e6e6e" stroke="#878787" stroke-width="0.4"/>
<polygon points="40.7,402.5 38.9,388.7 38.4,391.8 40.2,405.6" fill="#5b5b5b" stroke="#747474" stroke-width="0.4"/>
<polygon points="56.9,398.6 40.7,402.5 38.9,388.7 56.1,384.3" fill="#929292" stroke="#cccccc" stroke-width="0.85" stroke-linejoin="round"/>
<polygon points="53.6,397.0 45.0,398.7 43.9,390.2 52.2,387.7" fill="#989898" stroke="#bfbfbf" stroke-width="0.55"/>
<polygon points="42.3,395.9 35.7,410.2 22.8,404.6 28.8,387.8" fill="#080808" opacity="0.55"/>
<polygon points="42.3,389.5 35.7,403.8 34.2,408.2 40.8,393.9" fill="#3b3b3b" stroke="#545454" stroke-width="0.4"/>
<polygon points="35.7,403.8 22.8,398.1 21.3,402.6 34.2,408.2" fill="#484848" stroke="#616161" stroke-width="0.4"/>
<polygon points="42.3,389.5 35.7,403.8 22.8,398.1 28.8,381.3" fill="#707070" stroke="#aaaaaa" stroke-width="0.85" stroke-linejoin="round"/>
<polygon points="39.6,389.8 35.6,401.6 24.3,396.0 29.3,384.3" fill="#767676" stroke="#9d9d9d" stroke-width="0.55"/>
<polygon points="10.4,391.0 15.0,405.4 3.6,407.1 -0.1,394.9" fill="#080808" opacity="0.55"/>
<polygon points="13.6,400.0 2.2,401.7 2.1,405.1 13.5,403.4" fill="#4a4a4a" stroke="#636363" stroke-width="0.4"/>
<polygon points="2.2,401.7 -1.5,389.5 -1.6,392.9 2.1,405.1" fill="#353535" stroke="#4e4e4e" stroke-width="0.4"/>
<polygon points="9.1,385.6 13.6,400.0 2.2,401.7 -1.5,389.5" fill="#6b6b6b" stroke="#a5a5a5" stroke-width="0.85" stroke-linejoin="round"/>
<polygon points="7.8,388.0 11.5,398.4 3.9,398.7 0.5,390.5" fill="#606060" stroke="#989898" stroke-width="0.55"/>
<polygon points="53.5,401.2 41.8,414.1 29.2,403.4 43.2,390.2" fill="#080808" opacity="0.55"/>
<polygon points="50.5,393.3 38.8,406.2 40.3,412.1 52.0,399.2" fill="#3d3d3d" stroke="#565656" stroke-width="0.4"/>
<polygon points="38.8,406.2 26.2,395.5 27.7,401.4 40.3,412.1" fill="#3f3f3f" stroke="#585858" stroke-width="0.4"/>
<polygon points="50.5,393.3 38.8,406.2 26.2,395.5 40.2,382.3" fill="#6d6d6d" stroke="#a7a7a7" stroke-width="0.85" stroke-linejoin="round"/>
<polygon points="45.5,394.5 39.5,401.5 31.9,395.8 39.4,386.5" fill="#666666" stroke="#9a9a9a" stroke-width="0.55"/>
<polygon points="80.9,396.2 79.3,407.7 67.1,409.1 66.8,392.8" fill="#080808" opacity="0.55"/>
<polygon points="79.6,389.5 78.0,401.1 77.8,405.7 79.4,394.2" fill="#333333" stroke="#4c4c4c" stroke-width="0.4"/>
<polygon points="78.0,401.1 65.7,402.5 65.6,407.1 77.8,405.7" fill="#494949" stroke="#626262" stroke-width="0.4"/>
<polygon points="65.7,402.5 65.5,386.2 65.3,390.8 65.6,407.1" fill="#333333" stroke="#4c4c4c" stroke-width="0.4"/>
<polygon points="79.6,389.5 78.0,401.1 65.7,402.5 65.5,386.2" fill="#6a6a6a" stroke="#a4a4a4" stroke-width="0.85" stroke-linejoin="round"/>
<polygon points="77.3,390.5 76.5,398.2 67.5,399.2 68.5,389.1" fill="#626262" stroke="#979797" stroke-width="0.55"/>
<polygon points="138.7,396.2 150.0,400.2 147.6,409.1 134.8,403.4" fill="#080808" opacity="0.55"/>
<polygon points="147.6,394.8 145.2,403.7 146.1,407.1 148.5,398.2" fill="#575757" stroke="#707070" stroke-width="0.4"/>
<polygon points="145.2,403.7 132.4,398.0 133.3,401.4 146.1,407.1" fill="#656565" stroke="#7e7e7e" stroke-width="0.4"/>
<polygon points="136.3,390.8 147.6,394.8 145.2,403.7 132.4,398.0" fill="#8d8d8d" stroke="#c7c7c7" stroke-width="0.85" stroke-linejoin="round"/>
<polygon points="137.8,394.8 143.8,396.2 141.7,401.1 136.3,397.3" fill="#848484" stroke="#bababa" stroke-width="0.55"/>
<polygon points="116.5,396.2 122.4,408.1 114.7,413.8 107.0,402.8" fill="#080808" opacity="0.55"/>
<polygon points="120.7,399.9 113.0,405.7 113.2,411.8 120.9,406.1" fill="#606060" stroke="#797979" stroke-width="0.4"/>
<polygon points="113.0,405.7 105.4,394.6 105.5,400.8 113.2,411.8" fill="#5a5a5a" stroke="#737373" stroke-width="0.4"/>
<polygon points="114.8,388.0 120.7,399.9 113.0,405.7 105.4,394.6" fill="#8d8d8d" stroke="#c7c7c7" stroke-width="0.85" stroke-linejoin="round"/>
<polygon points="114.4,392.4 116.5,399.4 112.1,400.5 108.7,395.6" fill="#949494" stroke="#bababa" stroke-width="0.55"/>
<polygon points="110.6,402.5 99.8,415.9 92.5,408.5 103.6,397.1" fill="#080808" opacity="0.55"/>
<polygon points="109.8,394.1 99.0,407.5 98.3,413.9 109.1,400.5" fill="#4b4b4b" stroke="#646464" stroke-width="0.4"/>
<polygon points="99.0,407.5 91.7,400.1 91.0,406.5 98.3,413.9" fill="#4c4c4c" stroke="#656565" stroke-width="0.4"/>
<polygon points="109.8,394.1 99.0,407.5 91.7,400.1 102.8,388.7" fill="#7c7c7c" stroke="#b6b6b6" stroke-width="0.85" stroke-linejoin="round"/>
<polygon points="104.5,395.3 100.0,402.9 96.9,398.6 101.5,392.6" fill="#717171" stroke="#a9a9a9" stroke-width="0.55"/>
<polygon points="43.4,402.5 35.7,411.6 29.5,408.4 35.9,396.4" fill="#080808" opacity="0.55"/>
<polygon points="40.9,396.1 33.2,405.2 34.2,409.6 41.9,400.5" fill="#5e5e5e" stroke="#777777" stroke-width="0.4"/>
<polygon points="33.2,405.2 27.0,402.0 28.0,406.4 34.2,409.6" fill="#666666" stroke="#7f7f7f" stroke-width="0.4"/>
<polygon points="40.9,396.1 33.2,405.2 27.0,402.0 33.4,390.0" fill="#909090" stroke="#cacaca" stroke-width="0.85" stroke-linejoin="round"/>
<polygon points="37.1,396.1 33.2,402.0 29.5,400.9 32.7,393.8" fill="#8e8e8e" stroke="#bdbdbd" stroke-width="0.55"/>
<polygon points="113.5,401.8 129.6,401.4 129.4,412.3 114.7,413.5" fill="#080808" opacity="0.55"/>
<polygon points="126.7,393.5 126.6,404.5 127.9,410.3 128.1,399.4" fill="#373737" stroke="#505050" stroke-width="0.4"/>
<polygon points="126.6,404.5 111.9,405.6 113.2,411.5 127.9,410.3" fill="#4e4e4e" stroke="#676767" stroke-width="0.4"/>
<polygon points="110.7,394.0 126.7,393.5 126.6,404.5 111.9,405.6" fill="#6e6e6e" stroke="#a8a8a8" stroke-width="0.85" stroke-linejoin="round"/>
<polygon points="113.8,396.5 124.0,395.1 123.3,402.5 114.2,403.7" fill="#6a6a6a" stroke="#9b9b9b" stroke-width="0.55"/>
<polygon points="87.3,401.0 96.6,416.5 81.5,423.0 74.4,406.4" fill="#080808" opacity="0.55"/>
<polygon points="96.0,408.1 80.9,414.5 80.0,421.0 95.1,414.5" fill="#444444" stroke="#5d5d5d" stroke-width="0.4"/>
<polygon points="80.9,414.5 73.8,398.0 72.9,404.4 80.0,421.0" fill="#373737" stroke="#505050" stroke-width="0.4"/>
<polygon points="86.7,392.6 96.0,408.1 80.9,414.5 73.8,398.0" fill="#6c6c6c" stroke="#a6a6a6" stroke-width="0.85" stroke-linejoin="round"/>
<polygon points="84.3,398.5 90.3,406.5 82.5,408.9 79.1,400.3" fill="#727272" stroke="#999999" stroke-width="0.55"/>
<polygon points="150.8,404.1 152.1,416.5 138.6,419.7 137.0,405.8" fill="#080808" opacity="0.55"/>
<polygon points="151.1,409.1 137.5,412.3 137.1,417.7 150.6,414.5" fill="#595959" stroke="#727272" stroke-width="0.4"/>
<polygon points="137.5,412.3 136.0,398.5 135.5,403.8 137.1,417.7" fill="#464646" stroke="#5f5f5f" stroke-width="0.4"/>
<polygon points="149.8,396.7 151.1,409.1 137.5,412.3 136.0,398.5" fill="#7d7d7d" stroke="#b7b7b7" stroke-width="0.85" stroke-linejoin="round"/>
<polygon points="146.7,398.5 149.0,406.7 138.9,409.8 138.2,399.4" fill="#808080" stroke="#aaaaaa" stroke-width="0.55"/>
<polygon points="53.1,415.1 37.9,414.2 36.4,403.7 51.8,403.0" fill="#080808" opacity="0.55"/>
<polygon points="51.4,410.0 36.2,409.1 36.4,412.2 51.6,413.1" fill="#444444" stroke="#5d5d5d" stroke-width="0.4"/>
<polygon points="36.2,409.1 34.7,398.7 34.9,401.7 36.4,412.2" fill="#2d2d2d" stroke="#464646" stroke-width="0.4"/>
<polygon points="51.4,410.0 36.2,409.1 34.7,398.7 50.1,397.9" fill="#636363" stroke="#9d9d9d" stroke-width="0.85" stroke-linejoin="round"/>
<polygon points="47.9,407.3 38.6,406.2 37.5,402.0 46.5,400.2" fill="#656565" stroke="#909090" stroke-width="0.55"/>
<polygon points="53.1,404.9 67.0,407.6 62.8,419.7 51.5,416.9" fill="#080808" opacity="0.55"/>
<polygon points="64.1,401.5 59.9,413.6 61.3,417.7 65.5,405.6" fill="#3b3b3b" stroke="#545454" stroke-width="0.4"/>
<polygon points="59.9,413.6 48.6,410.7 50.0,414.9 61.3,417.7" fill="#4c4c4c" stroke="#656565" stroke-width="0.4"/>
<polygon points="50.2,398.8 64.1,401.5 59.9,413.6 48.6,410.7" fill="#717171" stroke="#ababab" stroke-width="0.85" stroke-linejoin="round"/>
<polygon points="113.0,402.0 129.6,411.3 122.0,423.0 106.2,416.6" fill="#080808" opacity="0.55"/>
<polygon points="128.0,404.4 120.3,416.1 120.5,421.0 128.1,409.3" fill="#3f3f3f" stroke="#585858" stroke-width="0.4"/>
<polygon points="120.3,416.1 104.6,409.7 104.7,414.6 120.5,421.0" fill="#4a4a4a" stroke="#636363" stroke-width="0.4"/>
<polygon points="111.3,395.1 128.0,404.4 120.3,416.1 104.6,409.7" fill="#727272" stroke="#acacac" stroke-width="0.85" stroke-linejoin="round"/>
<polygon points="113.1,400.9 120.8,406.5 118.3,410.1 111.6,408.8" fill="#696969" stroke="#9f9f9f" stroke-width="0.55"/>
<polygon points="27.2,407.2 39.8,417.4 32.6,425.0 18.7,414.5" fill="#080808" opacity="0.55"/>
<polygon points="38.4,409.0 31.2,416.6 31.1,423.0 38.3,415.4" fill="#676767" stroke="#808080" stroke-width="0.4"/>
<polygon points="31.2,416.6 17.3,406.0 17.2,412.5 31.1,423.0" fill="#6a6a6a" stroke="#838383" stroke-width="0.4"/>
<polygon points="25.8,398.8 38.4,409.0 31.2,416.6 17.3,406.0" fill="#979797" stroke="#d1d1d1" stroke-width="0.85" stroke-linejoin="round"/>
<polygon points="124.9,416.4 116.7,424.1 108.2,417.9 119.5,408.8" fill="#080808" opacity="0.55"/>
<polygon points="122.2,408.9 114.0,416.5 115.2,422.1 123.4,414.4" fill="#5e5e5e" stroke="#777777" stroke-width="0.4"/>
<polygon points="114.0,416.5 105.5,410.4 106.7,415.9 115.2,422.1" fill="#616161" stroke="#7a7a7a" stroke-width="0.4"/>
<polygon points="122.2,408.9 114.0,416.5 105.5,410.4 116.8,401.2" fill="#8e8e8e" stroke="#c8c8c8" stroke-width="0.85" stroke-linejoin="round"/>
<polygon points="119.0,408.9 113.8,414.0 110.3,410.1 114.8,404.7" fill="#8c8c8c" stroke="#bbbbbb" stroke-width="0.55"/>
<polygon points="4.9,410.2 21.2,418.8 18.5,431.5 1.8,423.9" fill="#080808" opacity="0.55"/>
<polygon points="20.9,411.2 18.2,424.0 17.0,429.5 19.7,416.8" fill="#2e2e2e" stroke="#474747" stroke-width="0.4"/>
<polygon points="18.2,424.0 1.4,416.4 0.3,421.9 17.0,429.5" fill="#3c3c3c" stroke="#555555" stroke-width="0.4"/>
<polygon points="4.6,402.7 20.9,411.2 18.2,424.0 1.4,416.4" fill="#646464" stroke="#9e9e9e" stroke-width="0.85" stroke-linejoin="round"/>
<polygon points="7.6,408.1 15.6,411.9 14.3,418.1 6.4,414.6" fill="#666666" stroke="#919191" stroke-width="0.55"/>
<polygon points="152.6,422.7 139.1,432.2 132.3,419.6 148.2,411.0" fill="#080808" opacity="0.55"/>
<polygon points="150.8,415.1 137.2,424.6 137.6,430.2 151.1,420.7" fill="#6c6c6c" stroke="#858585" stroke-width="0.4"/>
<polygon points="137.2,424.6 130.5,412.0 130.8,417.6 137.6,430.2" fill="#656565" stroke="#7e7e7e" stroke-width="0.4"/>
<polygon points="150.8,415.1 137.2,424.6 130.5,412.0 146.4,403.4" fill="#999999" stroke="#d3d3d3" stroke-width="0.85" stroke-linejoin="round"/>
<polygon points="148.2,414.2 139.2,421.5 134.4,412.3 145.5,406.3" fill="#a2a2a2" stroke="#c6c6c6" stroke-width="0.55"/>
<polygon points="82.5,414.9 85.4,427.4 73.8,431.0 73.6,419.0" fill="#080808" opacity="0.55"/>
<polygon points="83.1,419.2 71.5,422.8 72.3,429.0 83.9,425.4" fill="#4f4f4f" stroke="#686868" stroke-width="0.4"/>
<polygon points="80.2,406.7 83.1,419.2 71.5,422.8 71.3,410.8" fill="#757575" stroke="#afafaf" stroke-width="0.85" stroke-linejoin="round"/>
<polygon points="79.1,408.9 79.7,417.5 72.6,420.2 72.4,412.0" fill="#717171" stroke="#a2a2a2" stroke-width="0.55"/>
<polygon points="77.8,414.6 87.2,421.0 81.7,430.2 71.1,424.6" fill="#080808" opacity="0.55"/>
<polygon points="84.4,414.8 78.8,424.1 80.2,428.2 85.7,419.0" fill="#3e3e3e" stroke="#575757" stroke-width="0.4"/>
<polygon points="78.8,424.1 68.2,418.5 69.6,422.6 80.2,428.2" fill="#484848" stroke="#616161" stroke-width="0.4"/>
<polygon points="75.0,408.5 84.4,414.8 78.8,424.1 68.2,418.5" fill="#727272" stroke="#acacac" stroke-width="0.85" stroke-linejoin="round"/>
<polygon points="118.9,413.3 129.6,425.3 119.4,433.9 109.3,423.6" fill="#080808" opacity="0.55"/>
<polygon points="129.4,419.5 119.1,428.1 117.9,431.9 128.1,423.3" fill="#484848" stroke="#616161" stroke-width="0.4"/>
<polygon points="119.1,428.1 109.0,417.8 107.8,421.6 117.9,431.9" fill="#464646" stroke="#5f5f5f" stroke-width="0.4"/>
<polygon points="118.6,407.5 129.4,419.5 119.1,428.1 109.0,417.8" fill="#767676" stroke="#b0b0b0" stroke-width="0.85" stroke-linejoin="round"/>
<polygon points="119.2,413.5 124.9,419.6 118.8,424.4 112.7,419.1" fill="#777777" stroke="#a3a3a3" stroke-width="0.55"/>
<polygon points="41.8,417.6 39.9,436.1 26.3,433.0 28.9,416.1" fill="#080808" opacity="0.55"/>
<polygon points="39.5,411.6 37.6,430.0 38.4,434.1 40.3,415.6" fill="#575757" stroke="#707070" stroke-width="0.4"/>
<polygon points="37.6,430.0 24.0,427.0 24.8,431.0 38.4,434.1" fill="#6a6a6a" stroke="#838383" stroke-width="0.4"/>
<polygon points="39.5,411.6 37.6,430.0 24.0,427.0 26.5,410.0" fill="#8e8e8e" stroke="#c8c8c8" stroke-width="0.85" stroke-linejoin="round"/>
<polygon points="35.7,414.0 34.5,427.3 26.6,425.1 28.6,414.0" fill="#8d8d8d" stroke="#bbbbbb" stroke-width="0.55"/>
<polygon points="98.5,424.4 91.1,441.4 76.1,431.5 85.8,417.0" fill="#080808" opacity="0.55"/>
<polygon points="97.5,418.0 90.2,435.0 89.6,439.4 97.0,422.4" fill="#373737" stroke="#505050" stroke-width="0.4"/>
<polygon points="90.2,435.0 75.2,425.1 74.6,429.5 89.6,439.4" fill="#404040" stroke="#595959" stroke-width="0.4"/>
<polygon points="97.5,418.0 90.2,435.0 75.2,425.1 84.9,410.6" fill="#6c6c6c" stroke="#a6a6a6" stroke-width="0.85" stroke-linejoin="round"/>
<polygon points="72.5,420.4 84.9,430.2 78.2,440.6 66.2,431.4" fill="#080808" opacity="0.55"/>
<polygon points="84.3,423.4 77.7,433.8 76.7,438.6 83.4,428.2" fill="#383838" stroke="#515151" stroke-width="0.4"/>
<polygon points="77.7,433.8 65.7,424.6 64.7,429.4 76.7,438.6" fill="#3e3e3e" stroke="#575757" stroke-width="0.4"/>
<polygon points="72.0,413.6 84.3,423.4 77.7,433.8 65.7,424.6" fill="#6b6b6b" stroke="#a5a5a5" stroke-width="0.85" stroke-linejoin="round"/>
<polygon points="23.7,424.8 18.6,440.0 4.2,439.8 8.1,422.2" fill="#080808" opacity="0.55"/>
<polygon points="22.6,416.4 17.5,431.5 17.1,438.0 22.2,422.8" fill="#585858" stroke="#717171" stroke-width="0.4"/>
<polygon points="17.5,431.5 3.1,431.4 2.7,437.8 17.1,438.0" fill="#6f6f6f" stroke="#888888" stroke-width="0.4"/>
<polygon points="22.6,416.4 17.5,431.5 3.1,431.4 7.0,413.7" fill="#8d8d8d" stroke="#c7c7c7" stroke-width="0.85" stroke-linejoin="round"/>
<polygon points="16.8,419.7 14.2,428.1 8.3,426.4 10.1,418.7" fill="#878787" stroke="#bababa" stroke-width="0.55"/>
<polygon points="133.0,422.7 149.9,423.9 148.3,435.4 131.1,435.3" fill="#080808" opacity="0.55"/>
<polygon points="148.1,428.8 131.0,428.6 129.6,433.3 146.8,433.4" fill="#575757" stroke="#707070" stroke-width="0.4"/>
<polygon points="131.0,428.6 132.8,416.0 131.5,420.7 129.6,433.3" fill="#3f3f3f" stroke="#585858" stroke-width="0.4"/>
<polygon points="132.8,416.0 149.7,417.2 148.1,428.8 131.0,428.6" fill="#757575" stroke="#afafaf" stroke-width="0.85" stroke-linejoin="round"/>
<polygon points="134.7,417.0 148.2,418.1 146.5,427.6 133.6,426.7" fill="#7c7c7c" stroke="#a2a2a2" stroke-width="0.55"/>
<polygon points="52.8,423.0 66.7,430.3 62.7,440.3 48.2,434.8" fill="#080808" opacity="0.55"/>
<polygon points="64.0,424.5 59.9,434.4 61.2,438.3 65.2,428.3" fill="#313131" stroke="#4a4a4a" stroke-width="0.4"/>
<polygon points="59.9,434.4 45.4,428.9 46.7,432.8 61.2,438.3" fill="#404040" stroke="#595959" stroke-width="0.4"/>
<polygon points="50.1,417.1 64.0,424.5 59.9,434.4 45.4,428.9" fill="#666666" stroke="#a0a0a0" stroke-width="0.85" stroke-linejoin="round"/>
<polygon points="50.6,419.8 61.0,424.2 58.3,431.3 48.3,428.7" fill="#666666" stroke="#939393" stroke-width="0.55"/>
<polygon points="55.7,434.1 42.3,447.4 34.6,439.1 47.8,426.2" fill="#080808" opacity="0.55"/>
<polygon points="53.2,426.5 39.9,439.9 40.8,445.4 54.2,432.1" fill="#404040" stroke="#595959" stroke-width="0.4"/>
<polygon points="39.9,439.9 32.1,431.5 33.1,437.1 40.8,445.4" fill="#404040" stroke="#595959" stroke-width="0.4"/>
<polygon points="53.2,426.5 39.9,439.9 32.1,431.5 45.3,418.6" fill="#707070" stroke="#aaaaaa" stroke-width="0.85" stroke-linejoin="round"/>
<polygon points="51.6,426.4 41.2,437.6 35.0,430.0 44.9,421.6" fill="#676767" stroke="#9d9d9d" stroke-width="0.55"/>
<polygon points="18.4,435.2 5.6,447.1 -5.0,437.6 7.3,425.5" fill="#080808" opacity="0.55"/>
<polygon points="15.6,427.8 2.8,439.7 4.1,445.1 16.9,433.2" fill="#505050" stroke="#696969" stroke-width="0.4"/>
<polygon points="2.8,439.7 -7.8,430.3 -6.5,435.6 4.1,445.1" fill="#505050" stroke="#696969" stroke-width="0.4"/>
<polygon points="15.6,427.8 2.8,439.7 -7.8,430.3 4.5,418.2" fill="#7f7f7f" stroke="#b9b9b9" stroke-width="0.85" stroke-linejoin="round"/>
<polygon points="11.6,429.3 3.9,437.3 -4.9,430.4 4.3,421.6" fill="#828282" stroke="#acacac" stroke-width="0.55"/>
<polygon points="98.0,431.5 109.5,431.0 110.6,442.2 97.7,440.6" fill="#080808" opacity="0.55"/>
<polygon points="109.1,435.8 96.2,434.2 96.2,438.6 109.1,440.2" fill="#747474" stroke="#8d8d8d" stroke-width="0.4"/>
<polygon points="96.5,425.1 108.0,424.6 109.1,435.8 96.2,434.2" fill="#959595" stroke="#cfcfcf" stroke-width="0.85" stroke-linejoin="round"/>
<polygon points="97.4,427.0 106.3,426.7 107.2,433.6 97.2,432.2" fill="#9d9d9d" stroke="#c2c2c2" stroke-width="0.55"/>
</g></g>
<text x="12.5" y="338.8" font-size="17" font-weight="bold" fill="#fff" dominant-baseline="central" stroke="#666" stroke-width="0.5" paint-order="stroke">(d)</text>
<rect x="8.0" y="415.8" width="56.0" height="5.8" fill="#e6e6e6" stroke="#999" stroke-width="0.3"/>
<line x1="25.0" y1="415.8" x2="25.0" y2="421.6" stroke="#777" stroke-width="0.3"/>
<line x1="45.0" y1="415.8" x2="45.0" y2="421.6" stroke="#777" stroke-width="0.3"/>
<text x="9" y="417.8" font-size="2" fill="#333" dominant-baseline="central">Detector</text>
<text x="26" y="418.8" font-size="2.6" fill="#333" dominant-baseline="central">Mag = 3.00 K X</text>
<text x="46" y="417.8" font-size="2" fill="#333" dominant-baseline="central">WD = 8.5 mm</text>
<text x="46" y="420.1" font-size="2" fill="#333" dominant-baseline="central">EHT = 5.00 kV</text>
<rect x="92.8" y="357.0" width="45.4" height="65.3" fill="#fff" stroke="none" stroke-width="0.8"/>
<rect x="94.5" y="358.0" width="38.3" height="53.5" fill="none" stroke="#333" stroke-width="0.5"/>
<text x="114.0" y="361.3" font-size="4.5" text-anchor="middle" dominant-baseline="central" fill="#222">Mean = 10.39 μm</text>
<rect x="96.0" y="408.7" width="6.4" height="1.8" fill="#f07272" stroke="#b03030" stroke-width="0.35"/>
<rect x="102.4" y="404.1" width="4.6" height="6.4" fill="#f07272" stroke="#b03030" stroke-width="0.35"/>
<rect x="107.0" y="399.5" width="3.7" height="11.0" fill="#f07272" stroke="#b03030" stroke-width="0.35"/>
<rect x="110.7" y="385.8" width="3.7" height="24.8" fill="#f07272" stroke="#b03030" stroke-width="0.35"/>
<rect x="114.4" y="379.4" width="3.7" height="31.2" fill="#f07272" stroke="#b03030" stroke-width="0.35"/>
<rect x="118.0" y="383.9" width="3.7" height="26.6" fill="#f07272" stroke="#b03030" stroke-width="0.35"/>
<rect x="121.7" y="366.5" width="3.3" height="44.0" fill="#f07272" stroke="#b03030" stroke-width="0.35"/>
<rect x="125.0" y="391.3" width="4.0" height="19.3" fill="#f07272" stroke="#b03030" stroke-width="0.35"/>
<path d="M94.2,410.9 C94.5,410.9 95.3,410.8 95.9,410.8 C96.4,410.8 97.0,410.7 97.5,410.6 C98.1,410.6 98.7,410.5 99.2,410.3 C99.8,410.1 100.3,410.0 100.9,409.6 C101.5,409.3 102.0,409.0 102.6,408.4 C103.1,407.9 103.7,407.3 104.3,406.4 C104.8,405.6 105.4,404.5 105.9,403.3 C106.5,402.0 107.1,400.5 107.6,398.8 C108.2,397.1 108.8,395.2 109.3,393.1 C109.9,391.0 110.4,388.6 111.0,386.3 C111.6,384.0 112.1,381.5 112.7,379.3 C113.2,377.0 113.8,374.7 114.4,372.9 C114.9,371.1 115.5,369.4 116.0,368.2 C116.6,367.1 117.2,366.4 117.7,366.2 C118.3,366.0 118.8,366.4 119.4,367.2 C120.0,368.0 120.5,369.3 121.1,370.9 C121.6,372.6 122.2,374.7 122.8,376.8 C123.3,379.0 123.9,381.4 124.4,383.8 C125.0,386.1 125.6,388.5 126.1,390.7 C126.7,392.9 127.3,395.0 127.8,396.9 C128.4,398.7 128.9,400.4 129.5,401.8 C130.1,403.2 130.6,404.4 131.2,405.4 C131.7,406.4 132.3,407.2 132.9,407.8 C133.4,408.5 134.3,409.0 134.5,409.3" stroke="#222" stroke-width="0.55" fill="none" stroke-linejoin="round" stroke-linecap="round"/>
<line x1="94.5" y1="410.6" x2="132.8" y2="410.6" stroke="#333" stroke-width="0.35"/>
<text x="102.4" y="415.7" font-size="3.8" text-anchor="middle" dominant-baseline="central" fill="#222">8</text>
<line x1="102.4" y1="411.5" x2="102.4" y2="410.3" stroke="#333" stroke-width="0.4"/>
<text x="115.3" y="415.7" font-size="3.8" text-anchor="middle" dominant-baseline="central" fill="#222">10</text>
<line x1="115.3" y1="411.5" x2="115.3" y2="410.3" stroke="#333" stroke-width="0.4"/>
<text x="127.6" y="415.7" font-size="3.8" text-anchor="middle" dominant-baseline="central" fill="#222">12</text>
<line x1="127.6" y1="411.5" x2="127.6" y2="410.3" stroke="#333" stroke-width="0.4"/>
<text x="133.7" y="360.6" font-size="3.7" text-anchor="start" dominant-baseline="central" fill="#222">16</text>
<line x1="132.8" y1="360.6" x2="131.6" y2="360.6" stroke="#333" stroke-width="0.4"/>
<text x="133.7" y="377.5" font-size="3.7" text-anchor="start" dominant-baseline="central" fill="#222">12</text>
<line x1="132.8" y1="377.5" x2="131.6" y2="377.5" stroke="#333" stroke-width="0.4"/>
<text x="133.7" y="394.0" font-size="3.7" text-anchor="start" dominant-baseline="central" fill="#222">8</text>
<line x1="132.8" y1="394.0" x2="131.6" y2="394.0" stroke="#333" stroke-width="0.4"/>
<text x="133.7" y="409.6" font-size="3.7" text-anchor="start" dominant-baseline="central" fill="#222">0</text>
<line x1="132.8" y1="409.6" x2="131.6" y2="409.6" stroke="#333" stroke-width="0.4"/>
<text x="114.0" y="419.6" font-size="4.5" text-anchor="middle" dominant-baseline="central" fill="#222">Particle Size (μm)</text>
<text x="126.8" y="385.0" font-size="4.5" text-anchor="middle" dominant-baseline="central" fill="#222" transform="rotate(90 126.80000000000001 385)">Count</text>
<g clip-path="url(#clipe)"><rect x="148" y="10" width="136" height="102" fill="#1c1c1c"/>
<g filter="url(#rough)">
<circle cx="245" cy="15" r="10.5" fill="#666666"/>
<circle cx="250.6" cy="18.6" r="5.2" fill="#616161"/>
<circle cx="244.6" cy="8.6" r="6.3" fill="#727272"/>
<circle cx="243.3" cy="19.9" r="6.3" fill="#666666"/>
<circle cx="250.8" cy="13.7" r="6.0" fill="#656565"/>
<circle cx="240.9" cy="18.5" r="6.3" fill="#6b6b6b"/>
<circle cx="237.7" cy="18.5" r="2.7" fill="#a7a7a7" opacity="0.8"/>
<circle cx="250.2" cy="16.4" r="2.8" fill="#8f8f8f" opacity="0.8"/>
<circle cx="246.3" cy="12.8" r="2.1" fill="#999999" opacity="0.8"/>
<circle cx="244.9" cy="10.1" r="2.9" fill="#9c9c9c" opacity="0.8"/>
<circle cx="241.5" cy="24.5" r="2.0" fill="#a5a5a5" opacity="0.8"/>
<circle cx="242.5" cy="21.2" r="2.1" fill="#8e8e8e" opacity="0.8"/>
<circle cx="247.9" cy="10.6" r="2.6" fill="#979797" opacity="0.8"/>
<circle cx="243.7" cy="18.8" r="2.8" fill="#8d8d8d" opacity="0.8"/>
<circle cx="236.5" cy="16.6" r="2.0" fill="#b8b8b8" opacity="0.8"/>
<circle cx="249.3" cy="11.5" r="3.0" fill="#a2a2a2" opacity="0.8"/>
<circle cx="243.3" cy="20.5" r="1.9" fill="#8b8b8b" opacity="0.8"/>
<circle cx="237.6" cy="17.3" r="2.5" fill="#a4a4a4" opacity="0.8"/>
<circle cx="248.7" cy="18.7" r="2.6" fill="#878787" opacity="0.8"/>
<circle cx="247.7" cy="20.2" r="3.2" fill="#9a9a9a" opacity="0.8"/>
<circle cx="244.0" cy="8.5" r="2.4" fill="#b3b3b3" opacity="0.8"/>
<circle cx="236.8" cy="11.6" r="1.8" fill="#bbbbbb" opacity="0.8"/>
<circle cx="247.0" cy="21.0" r="2.6" fill="#a2a2a2" opacity="0.8"/>
<circle cx="237.6" cy="20.0" r="2.1" fill="#b6b6b6" opacity="0.8"/>
<circle cx="245.1" cy="23.2" r="2.8" fill="#939393" opacity="0.8"/>
<circle cx="236.6" cy="18.0" r="1.8" fill="#bfbfbf" opacity="0.8"/>
<circle cx="237.0" cy="11.9" r="2.2" fill="#acacac" opacity="0.8"/>
<circle cx="240.5" cy="9.4" r="2.0" fill="#999999" opacity="0.8"/>
<circle cx="248.5" cy="11.4" r="2.6" fill="#a4a4a4" opacity="0.8"/>
<circle cx="246.8" cy="24.8" r="2.5" fill="#9b9b9b" opacity="0.8"/>
<circle cx="247.0" cy="21.9" r="2.3" fill="#787878" opacity="0.8"/>
<circle cx="238.5" cy="18.2" r="2.4" fill="#b4b4b4" opacity="0.8"/>
<circle cx="243.8" cy="17.3" r="2.9" fill="#919191" opacity="0.8"/>
<circle cx="254.5" cy="16.5" r="2.9" fill="#8b8b8b" opacity="0.8"/>
<circle cx="247.4" cy="9.8" r="3.0" fill="#959595" opacity="0.8"/>
<circle cx="252.0" cy="6.4" r="2.6" fill="#969696" opacity="0.8"/>
<circle cx="244.1" cy="5.6" r="2.5" fill="#939393" opacity="0.8"/>
<circle cx="239.4" cy="22.2" r="1.8" fill="#8f8f8f" opacity="0.8"/>
<circle cx="253.1" cy="10.3" r="2.2" fill="#7b7b7b" opacity="0.8"/>
<circle cx="237.2" cy="11.2" r="2.2" fill="#b0b0b0" opacity="0.8"/>
<circle cx="253.9" cy="14.5" r="2.6" fill="#6d6d6d" opacity="0.8"/>
<circle cx="243.4" cy="15.3" r="3.2" fill="#9b9b9b" opacity="0.8"/>
<circle cx="237.6" cy="9.6" r="1.9" fill="#c4c4c4" opacity="0.8"/>
<circle cx="244.1" cy="12.2" r="3.2" fill="#b5b5b5" opacity="0.8"/>
<circle cx="248.4" cy="14.8" r="3.2" fill="#a2a2a2" opacity="0.8"/>
<circle cx="244.9" cy="18.1" r="2.8" fill="#777777" opacity="0.8"/>
<circle cx="235.5" cy="12.1" r="2.4" fill="#a6a6a6" opacity="0.8"/>
<circle cx="276" cy="14" r="8.0" fill="#5b5b5b"/>
<circle cx="273.0" cy="15.7" r="3.8" fill="#616161"/>
<circle cx="271.6" cy="12.1" r="5.2" fill="#686868"/>
<circle cx="279.1" cy="16.3" r="4.9" fill="#555555"/>
<circle cx="274.8" cy="18.6" r="5.1" fill="#5a5a5a"/>
<circle cx="278.8" cy="10.5" r="4.8" fill="#606060"/>
<circle cx="278.0" cy="11.5" r="1.9" fill="#989898" opacity="0.8"/>
<circle cx="268.7" cy="15.0" r="2.7" fill="#a6a6a6" opacity="0.8"/>
<circle cx="270.0" cy="10.2" r="2.6" fill="#8a8a8a" opacity="0.8"/>
<circle cx="283.2" cy="16.2" r="2.5" fill="#7a7a7a" opacity="0.8"/>
<circle cx="271.8" cy="15.2" r="2.7" fill="#9d9d9d" opacity="0.8"/>
<circle cx="282.8" cy="13.4" r="2.5" fill="#686868" opacity="0.8"/>
<circle cx="275.5" cy="11.4" r="1.9" fill="#8d8d8d" opacity="0.8"/>
<circle cx="267.7" cy="12.8" r="2.3" fill="#8a8a8a" opacity="0.8"/>
<circle cx="278.2" cy="7.0" r="2.5" fill="#b0b0b0" opacity="0.8"/>
<circle cx="277.2" cy="8.1" r="2.3" fill="#7b7b7b" opacity="0.8"/>
<circle cx="272.2" cy="17.8" r="2.4" fill="#6e6e6e" opacity="0.8"/>
<circle cx="277.1" cy="18.0" r="1.8" fill="#797979" opacity="0.8"/>
<circle cx="280.8" cy="13.8" r="1.6" fill="#606060" opacity="0.8"/>
<circle cx="275.9" cy="8.7" r="2.7" fill="#888888" opacity="0.8"/>
<circle cx="280.6" cy="13.2" r="2.7" fill="#999999" opacity="0.8"/>
<circle cx="274.0" cy="15.5" r="2.3" fill="#8f8f8f" opacity="0.8"/>
<circle cx="273.9" cy="11.6" r="2.5" fill="#8b8b8b" opacity="0.8"/>
<circle cx="275.1" cy="16.1" r="1.6" fill="#828282" opacity="0.8"/>
<circle cx="279.1" cy="17.5" r="2.4" fill="#868686" opacity="0.8"/>
<circle cx="272.2" cy="15.3" r="2.3" fill="#888888" opacity="0.8"/>
<circle cx="283.3" cy="13.3" r="2.5" fill="#6a6a6a" opacity="0.8"/>
<circle cx="276.6" cy="8.6" r="1.8" fill="#7e7e7e" opacity="0.8"/>
<circle cx="269.2" cy="13.5" r="1.8" fill="#838383" opacity="0.8"/>
<circle cx="270.8" cy="10.8" r="2.4" fill="#b5b5b5" opacity="0.8"/>
<circle cx="280.2" cy="21.2" r="1.9" fill="#797979" opacity="0.8"/>
<circle cx="276.7" cy="21.3" r="1.9" fill="#757575" opacity="0.8"/>
<circle cx="281.4" cy="9.0" r="2.4" fill="#a1a1a1" opacity="0.8"/>
<circle cx="272.4" cy="16.2" r="2.5" fill="#919191" opacity="0.8"/>
<circle cx="274.8" cy="22.3" r="2.6" fill="#878787" opacity="0.8"/>
<circle cx="268.7" cy="15.8" r="2.0" fill="#8a8a8a" opacity="0.8"/>
<circle cx="278.6" cy="8.0" r="2.4" fill="#787878" opacity="0.8"/>
<circle cx="270.6" cy="13.2" r="1.6" fill="#adadad" opacity="0.8"/>
<circle cx="270.4" cy="15.7" r="2.2" fill="#9a9a9a" opacity="0.8"/>
<circle cx="276" cy="38" r="8.0" fill="#323232"/>
<circle cx="278.6" cy="40.6" r="3.9" fill="#2a2a2a"/>
<circle cx="273.7" cy="35.2" r="4.7" fill="#3e3e3e"/>
<circle cx="277.2" cy="33.5" r="5.1" fill="#393939"/>
<circle cx="271.7" cy="37.5" r="4.6" fill="#3c3c3c"/>
<circle cx="272.6" cy="35.4" r="4.1" fill="#3e3e3e"/>
<circle cx="273.8" cy="31.0" r="1.9" fill="#525252" opacity="0.8"/>
<circle cx="272.4" cy="35.8" r="1.9" fill="#777777" opacity="0.8"/>
<circle cx="278.3" cy="30.1" r="2.2" fill="#6e6e6e" opacity="0.8"/>
<circle cx="276.1" cy="44.6" r="2.2" fill="#2e2e2e" opacity="0.8"/>
<circle cx="271.6" cy="32.9" r="1.8" fill="#7b7b7b" opacity="0.8"/>
<circle cx="274.6" cy="45.8" r="1.9" fill="#575757" opacity="0.8"/>
<circle cx="275.9" cy="33.3" r="1.7" fill="#5e5e5e" opacity="0.8"/>
<circle cx="271.5" cy="42.8" r="2.1" fill="#343434" opacity="0.8"/>
<circle cx="274.5" cy="44.0" r="2.3" fill="#363636" opacity="0.8"/>
<circle cx="272.4" cy="36.9" r="2.4" fill="#666666" opacity="0.8"/>
<circle cx="275.0" cy="40.9" r="2.7" fill="#393939" opacity="0.8"/>
<circle cx="273.0" cy="36.7" r="1.9" fill="#4a4a4a" opacity="0.8"/>
<circle cx="280.1" cy="33.6" r="1.7" fill="#373737" opacity="0.8"/>
<circle cx="272.6" cy="35.6" r="2.4" fill="#676767" opacity="0.8"/>
<circle cx="274.2" cy="34.9" r="1.8" fill="#707070" opacity="0.8"/>
<circle cx="281.8" cy="37.5" r="2.1" fill="#434343" opacity="0.8"/>
<circle cx="278.7" cy="40.2" r="1.7" fill="#2c2c2c" opacity="0.8"/>
<circle cx="274.0" cy="40.8" r="2.6" fill="#616161" opacity="0.8"/>
<circle cx="277.3" cy="37.7" r="2.5" fill="#5f5f5f" opacity="0.8"/>
<circle cx="275.6" cy="36.1" r="2.6" fill="#757575" opacity="0.8"/>
<circle cx="271.3" cy="32.7" r="1.8" fill="#808080" opacity="0.8"/>
<circle cx="281.6" cy="41.5" r="2.6" fill="#2f2f2f" opacity="0.8"/>
<circle cx="269.4" cy="39.9" r="1.6" fill="#4b4b4b" opacity="0.8"/>
<circle cx="278.0" cy="30.0" r="1.7" fill="#4d4d4d" opacity="0.8"/>
<circle cx="283.0" cy="39.9" r="2.7" fill="#1e1e1e" opacity="0.8"/>
<circle cx="276.8" cy="31.8" r="1.8" fill="#6b6b6b" opacity="0.8"/>
<circle cx="272.1" cy="38.3" r="1.8" fill="#4c4c4c" opacity="0.8"/>
<circle cx="280.1" cy="41.1" r="2.3" fill="#262626" opacity="0.8"/>
<circle cx="267.9" cy="38.3" r="2.0" fill="#4e4e4e" opacity="0.8"/>
<circle cx="277.7" cy="30.4" r="1.7" fill="#747474" opacity="0.8"/>
<circle cx="281.1" cy="33.1" r="2.6" fill="#606060" opacity="0.8"/>
<circle cx="275.1" cy="35.0" r="2.6" fill="#717171" opacity="0.8"/>
<circle cx="272.3" cy="42.9" r="2.4" fill="#3c3c3c" opacity="0.8"/>
<circle cx="262.7" cy="25" r="9.7" fill="#6a6a6a"/>
<circle cx="260.6" cy="29.0" r="6.0" fill="#6b6b6b"/>
<circle cx="261.2" cy="29.0" r="6.1" fill="#6a6a6a"/>
<circle cx="262.4" cy="20.6" r="4.6" fill="#767676"/>
<circle cx="257.3" cy="27.7" r="4.9" fill="#717171"/>
<circle cx="258.8" cy="25.7" r="5.2" fill="#747474"/>
<circle cx="254.2" cy="22.3" r="2.0" fill="#aaaaaa" opacity="0.8"/>
<circle cx="261.7" cy="26.0" r="2.8" fill="#acacac" opacity="0.8"/>
<circle cx="267.5" cy="29.5" r="2.9" fill="#9d9d9d" opacity="0.8"/>
<circle cx="260.9" cy="20.8" r="2.0" fill="#acacac" opacity="0.8"/>
<circle cx="261.2" cy="17.8" r="2.8" fill="#c8c8c8" opacity="0.8"/>
<circle cx="271.8" cy="28.7" r="2.4" fill="#868686" opacity="0.8"/>
<circle cx="254.6" cy="22.4" r="2.4" fill="#b5b5b5" opacity="0.8"/>
<circle cx="260.7" cy="19.5" r="2.1" fill="#929292" opacity="0.8"/>
<circle cx="270.0" cy="22.5" r="2.8" fill="#9d9d9d" opacity="0.8"/>
<circle cx="261.8" cy="20.5" r="3.0" fill="#9a9a9a" opacity="0.8"/>
<circle cx="269.6" cy="18.8" r="3.0" fill="#b8b8b8" opacity="0.8"/>
<circle cx="258.3" cy="16.4" r="2.0" fill="#bdbdbd" opacity="0.8"/>
<circle cx="264.5" cy="18.4" r="2.1" fill="#b1b1b1" opacity="0.8"/>
<circle cx="258.2" cy="24.7" r="2.1" fill="#9d9d9d" opacity="0.8"/>
<circle cx="267.1" cy="23.9" r="2.1" fill="#a7a7a7" opacity="0.8"/>
<circle cx="262.0" cy="29.2" r="2.8" fill="#a1a1a1" opacity="0.8"/>
<circle cx="263.5" cy="21.4" r="2.2" fill="#8b8b8b" opacity="0.8"/>
<circle cx="257.5" cy="23.9" r="2.5" fill="#969696" opacity="0.8"/>
<circle cx="266.7" cy="27.7" r="3.0" fill="#7d7d7d" opacity="0.8"/>
<circle cx="263.7" cy="31.2" r="1.8" fill="#9e9e9e" opacity="0.8"/>
<circle cx="268.1" cy="33.2" r="2.3" fill="#656565" opacity="0.8"/>
<circle cx="263.8" cy="30.5" r="2.0" fill="#a7a7a7" opacity="0.8"/>
<circle cx="261.9" cy="17.9" r="2.4" fill="#c2c2c2" opacity="0.8"/>
<circle cx="255.0" cy="21.3" r="2.0" fill="#cdcdcd" opacity="0.8"/>
<circle cx="261.9" cy="34.6" r="2.9" fill="#6e6e6e" opacity="0.8"/>
<circle cx="258.3" cy="29.9" r="1.8" fill="#a0a0a0" opacity="0.8"/>
<circle cx="254.5" cy="21.3" r="1.9" fill="#9c9c9c" opacity="0.8"/>
<circle cx="259.6" cy="30.1" r="2.4" fill="#9f9f9f" opacity="0.8"/>
<circle cx="264.7" cy="22.8" r="2.0" fill="#b7b7b7" opacity="0.8"/>
<circle cx="266.7" cy="18.0" r="3.0" fill="#898989" opacity="0.8"/>
<circle cx="257.9" cy="24.3" r="2.0" fill="#a1a1a1" opacity="0.8"/>
<circle cx="264.6" cy="21.2" r="2.3" fill="#878787" opacity="0.8"/>
<circle cx="258.6" cy="26.8" r="2.8" fill="#adadad" opacity="0.8"/>
<circle cx="263.2" cy="34.0" r="2.9" fill="#8e8e8e" opacity="0.8"/>
<circle cx="268.9" cy="22.9" r="2.6" fill="#989898" opacity="0.8"/>
<circle cx="253.8" cy="24.2" r="2.0" fill="#acacac" opacity="0.8"/>
<circle cx="265.3" cy="32.0" r="2.0" fill="#909090" opacity="0.8"/>
<circle cx="266.7" cy="21.7" r="1.8" fill="#b8b8b8" opacity="0.8"/>
<circle cx="157" cy="24" r="10.5" fill="#5b5b5b"/>
<circle cx="161.7" cy="28.1" r="6.7" fill="#555555"/>
<circle cx="151.9" cy="27.2" r="5.8" fill="#616161"/>
<circle cx="154.0" cy="28.8" r="5.9" fill="#5c5c5c"/>
<circle cx="151.7" cy="25.5" r="5.1" fill="#636363"/>
<circle cx="162.2" cy="23.9" r="6.1" fill="#585858"/>
<circle cx="159.4" cy="23.1" r="2.5" fill="#767676" opacity="0.8"/>
<circle cx="154.6" cy="13.9" r="3.1" fill="#9b9b9b" opacity="0.8"/>
<circle cx="160.7" cy="32.1" r="3.1" fill="#8a8a8a" opacity="0.8"/>
<circle cx="155.8" cy="21.3" r="3.2" fill="#a2a2a2" opacity="0.8"/>
<circle cx="162.4" cy="23.5" r="2.3" fill="#6a6a6a" opacity="0.8"/>
<circle cx="161.7" cy="31.4" r="2.6" fill="#636363" opacity="0.8"/>
<circle cx="154.6" cy="17.8" r="1.9" fill="#9f9f9f" opacity="0.8"/>
<circle cx="156.0" cy="17.3" r="2.1" fill="#afafaf" opacity="0.8"/>
<circle cx="148.2" cy="25.6" r="2.6" fill="#a8a8a8" opacity="0.8"/>
<circle cx="153.5" cy="13.8" r="2.6" fill="#b6b6b6" opacity="0.8"/>
<circle cx="154.6" cy="31.8" r="2.6" fill="#747474" opacity="0.8"/>
<circle cx="161.4" cy="17.1" r="2.1" fill="#757575" opacity="0.8"/>
<circle cx="156.2" cy="24.4" r="2.3" fill="#909090" opacity="0.8"/>
<circle cx="151.7" cy="16.7" r="2.1" fill="#8f8f8f" opacity="0.8"/>
<circle cx="161.6" cy="25.3" r="3.2" fill="#7c7c7c" opacity="0.8"/>
<circle cx="162.0" cy="15.6" r="2.3" fill="#888888" opacity="0.8"/>
<circle cx="160.5" cy="13.7" r="3.1" fill="#acacac" opacity="0.8"/>
<circle cx="164.5" cy="29.1" r="2.5" fill="#535353" opacity="0.8"/>
<circle cx="167.4" cy="22.4" r="2.8" fill="#808080" opacity="0.8"/>
<circle cx="166.6" cy="26.6" r="2.1" fill="#585858" opacity="0.8"/>
<circle cx="158.3" cy="26.2" r="2.5" fill="#979797" opacity="0.8"/>
<circle cx="161.0" cy="21.0" r="3.0" fill="#6c6c6c" opacity="0.8"/>
<circle cx="155.2" cy="21.0" r="3.0" fill="#919191" opacity="0.8"/>
<circle cx="164.4" cy="23.9" r="2.4" fill="#717171" opacity="0.8"/>
<circle cx="164.7" cy="17.8" r="2.8" fill="#949494" opacity="0.8"/>
<circle cx="157.0" cy="19.6" r="3.2" fill="#838383" opacity="0.8"/>
<circle cx="150.6" cy="24.0" r="2.6" fill="#898989" opacity="0.8"/>
<circle cx="149.8" cy="25.9" r="2.6" fill="#7d7d7d" opacity="0.8"/>
<circle cx="157.9" cy="26.4" r="2.3" fill="#9b9b9b" opacity="0.8"/>
<circle cx="166.0" cy="24.1" r="2.7" fill="#8d8d8d" opacity="0.8"/>
<circle cx="163.1" cy="29.1" r="1.9" fill="#656565" opacity="0.8"/>
<circle cx="157.7" cy="24.0" r="3.2" fill="#8c8c8c" opacity="0.8"/>
<circle cx="160.6" cy="20.4" r="3.2" fill="#787878" opacity="0.8"/>
<circle cx="149.4" cy="29.4" r="2.8" fill="#757575" opacity="0.8"/>
<circle cx="160.9" cy="28.6" r="2.2" fill="#767676" opacity="0.8"/>
<circle cx="157.5" cy="13.3" r="2.5" fill="#969696" opacity="0.8"/>
<circle cx="165.7" cy="23.8" r="3.2" fill="#666666" opacity="0.8"/>
<circle cx="153.6" cy="24.4" r="3.0" fill="#9f9f9f" opacity="0.8"/>
<circle cx="166.6" cy="26.8" r="2.4" fill="#616161" opacity="0.8"/>
<circle cx="166.9" cy="22.5" r="2.7" fill="#797979" opacity="0.8"/>
<circle cx="167.0" cy="27.3" r="3.1" fill="#646464" opacity="0.8"/>
<circle cx="202.3" cy="22" r="12.2" fill="#797979"/>
<circle cx="208.7" cy="22.3" r="6.4" fill="#777777"/>
<circle cx="196.6" cy="25.9" r="7.4" fill="#808080"/>
<circle cx="202.6" cy="27.2" r="6.2" fill="#767676"/>
<circle cx="201.5" cy="27.6" r="6.6" fill="#787878"/>
<circle cx="200.3" cy="26.8" r="6.1" fill="#7a7a7a"/>
<circle cx="213.4" cy="17.0" r="2.3" fill="#959595" opacity="0.8"/>
<circle cx="200.7" cy="16.3" r="2.4" fill="#adadad" opacity="0.8"/>
<circle cx="201.1" cy="10.0" r="2.8" fill="#ababab" opacity="0.8"/>
<circle cx="213.0" cy="22.4" r="3.2" fill="#919191" opacity="0.8"/>
<circle cx="199.4" cy="24.6" r="3.1" fill="#b3b3b3" opacity="0.8"/>
<circle cx="200.2" cy="9.4" r="3.1" fill="#e1e1e1" opacity="0.8"/>
<circle cx="207.3" cy="33.0" r="2.8" fill="#7b7b7b" opacity="0.8"/>
<circle cx="193.3" cy="21.8" r="2.4" fill="#bcbcbc" opacity="0.8"/>
<circle cx="197.0" cy="13.6" r="3.2" fill="#d2d2d2" opacity="0.8"/>
<circle cx="205.0" cy="30.3" r="2.9" fill="#a3a3a3" opacity="0.8"/>
<circle cx="203.5" cy="27.0" r="2.7" fill="#989898" opacity="0.8"/>
<circle cx="190.1" cy="22.6" r="3.4" fill="#bcbcbc" opacity="0.8"/>
<circle cx="214.3" cy="22.6" r="3.6" fill="#919191" opacity="0.8"/>
<circle cx="201.3" cy="26.3" r="3.0" fill="#a7a7a7" opacity="0.8"/>
<circle cx="198.6" cy="31.7" r="3.7" fill="#c2c2c2" opacity="0.8"/>
<circle cx="208.4" cy="24.7" r="2.1" fill="#b7b7b7" opacity="0.8"/>
<circle cx="212.1" cy="24.5" r="2.6" fill="#8f8f8f" opacity="0.8"/>
<circle cx="207.0" cy="28.3" r="2.8" fill="#9d9d9d" opacity="0.8"/>
<circle cx="200.4" cy="33.5" r="2.0" fill="#a2a2a2" opacity="0.8"/>
<circle cx="208.4" cy="31.4" r="2.4" fill="#828282" opacity="0.8"/>
<circle cx="196.3" cy="19.3" r="2.6" fill="#cecece" opacity="0.8"/>
<circle cx="212.1" cy="23.7" r="2.1" fill="#8b8b8b" opacity="0.8"/>
<circle cx="203.6" cy="11.6" r="3.0" fill="#aeaeae" opacity="0.8"/>
<circle cx="203.6" cy="10.9" r="3.1" fill="#c5c5c5" opacity="0.8"/>
<circle cx="191.1" cy="26.1" r="3.2" fill="#a2a2a2" opacity="0.8"/>
<circle cx="210.4" cy="28.4" r="3.6" fill="#b1b1b1" opacity="0.8"/>
<circle cx="205.8" cy="15.9" r="3.2" fill="#acacac" opacity="0.8"/>
<circle cx="207.9" cy="19.9" r="2.5" fill="#919191" opacity="0.8"/>
<circle cx="193.2" cy="29.3" r="2.1" fill="#bcbcbc" opacity="0.8"/>
<circle cx="195.7" cy="30.4" r="2.8" fill="#a6a6a6" opacity="0.8"/>
<circle cx="204.3" cy="22.8" r="2.1" fill="#cacaca" opacity="0.8"/>
<circle cx="200.9" cy="19.4" r="3.5" fill="#cbcbcb" opacity="0.8"/>
<circle cx="206.5" cy="25.1" r="3.1" fill="#afafaf" opacity="0.8"/>
<circle cx="197.8" cy="27.7" r="2.1" fill="#a0a0a0" opacity="0.8"/>
<circle cx="205.3" cy="32.7" r="3.2" fill="#909090" opacity="0.8"/>
<circle cx="192.0" cy="26.3" r="2.4" fill="#b5b5b5" opacity="0.8"/>
<circle cx="209.2" cy="18.0" r="3.6" fill="#b6b6b6" opacity="0.8"/>
<circle cx="201.7" cy="32.3" r="2.3" fill="#939393" opacity="0.8"/>
<circle cx="200.2" cy="19.7" r="2.8" fill="#d6d6d6" opacity="0.8"/>
<circle cx="208.6" cy="12.5" r="3.1" fill="#bdbdbd" opacity="0.8"/>
<circle cx="192.2" cy="14.6" r="3.1" fill="#d4d4d4" opacity="0.8"/>
<circle cx="213.1" cy="19.8" r="2.2" fill="#b5b5b5" opacity="0.8"/>
<circle cx="206.5" cy="14.4" r="2.3" fill="#a9a9a9" opacity="0.8"/>
<circle cx="209.8" cy="12.9" r="2.2" fill="#acacac" opacity="0.8"/>
<circle cx="204.6" cy="30.3" r="2.3" fill="#9a9a9a" opacity="0.8"/>
<circle cx="211.5" cy="28.7" r="3.3" fill="#989898" opacity="0.8"/>
<circle cx="228.6" cy="31.3" r="11.0" fill="#666666"/>
<circle cx="223.4" cy="35.1" r="6.9" fill="#6c6c6c"/>
<circle cx="233.3" cy="32.7" r="5.3" fill="#626262"/>
<circle cx="224.7" cy="29.1" r="5.5" fill="#747474"/>
<circle cx="232.6" cy="35.0" r="6.2" fill="#606060"/>
<circle cx="233.4" cy="30.8" r="6.7" fill="#646464"/>
<circle cx="218.8" cy="26.7" r="2.6" fill="#c0c0c0" opacity="0.8"/>
<circle cx="222.2" cy="34.1" r="2.4" fill="#a9a9a9" opacity="0.8"/>
<circle cx="234.0" cy="31.2" r="3.4" fill="#8e8e8e" opacity="0.8"/>
<circle cx="231.1" cy="21.2" r="1.9" fill="#c0c0c0" opacity="0.8"/>
<circle cx="218.9" cy="25.9" r="2.2" fill="#c1c1c1" opacity="0.8"/>
<circle cx="221.3" cy="33.4" r="2.7" fill="#8f8f8f" opacity="0.8"/>
<circle cx="231.1" cy="20.6" r="2.6" fill="#a0a0a0" opacity="0.8"/>
<circle cx="239.5" cy="31.8" r="3.1" fill="#949494" opacity="0.8"/>
<circle cx="235.2" cy="33.7" r="2.9" fill="#919191" opacity="0.8"/>
<circle cx="229.3" cy="30.7" r="2.4" fill="#7a7a7a" opacity="0.8"/>
<circle cx="235.9" cy="25.8" r="1.9" fill="#a5a5a5" opacity="0.8"/>
<circle cx="234.2" cy="35.3" r="3.0" fill="#696969" opacity="0.8"/>
<circle cx="233.3" cy="40.4" r="1.9" fill="#707070" opacity="0.8"/>
<circle cx="233.8" cy="35.5" r="2.8" fill="#6f6f6f" opacity="0.8"/>
<circle cx="219.3" cy="32.3" r="2.1" fill="#a4a4a4" opacity="0.8"/>
<circle cx="236.9" cy="27.5" r="3.3" fill="#9b9b9b" opacity="0.8"/>
<circle cx="230.3" cy="26.4" r="2.8" fill="#aaaaaa" opacity="0.8"/>
<circle cx="230.8" cy="21.2" r="2.2" fill="#9d9d9d" opacity="0.8"/>
<circle cx="229.7" cy="26.8" r="2.0" fill="#959595" opacity="0.8"/>
<circle cx="220.8" cy="24.4" r="2.1" fill="#a9a9a9" opacity="0.8"/>
<circle cx="218.9" cy="37.1" r="2.7" fill="#878787" opacity="0.8"/>
<circle cx="235.8" cy="34.1" r="2.8" fill="#868686" opacity="0.8"/>
<circle cx="231.5" cy="38.1" r="3.1" fill="#7a7a7a" opacity="0.8"/>
<circle cx="223.7" cy="40.1" r="2.6" fill="#a4a4a4" opacity="0.8"/>
<circle cx="233.6" cy="38.7" r="2.6" fill="#767676" opacity="0.8"/>
<circle cx="233.3" cy="21.6" r="1.9" fill="#a9a9a9" opacity="0.8"/>
<circle cx="217.6" cy="29.6" r="1.9" fill="#bbbbbb" opacity="0.8"/>
<circle cx="229.3" cy="23.0" r="3.1" fill="#959595" opacity="0.8"/>
<circle cx="220.5" cy="32.5" r="3.1" fill="#a2a2a2" opacity="0.8"/>
<circle cx="226.2" cy="38.2" r="2.8" fill="#acacac" opacity="0.8"/>
<circle cx="219.3" cy="30.2" r="3.1" fill="#a3a3a3" opacity="0.8"/>
<circle cx="221.3" cy="36.0" r="3.3" fill="#9f9f9f" opacity="0.8"/>
<circle cx="227.2" cy="39.3" r="2.0" fill="#878787" opacity="0.8"/>
<circle cx="234.4" cy="29.4" r="2.3" fill="#868686" opacity="0.8"/>
<circle cx="223.9" cy="41.3" r="2.9" fill="#737373" opacity="0.8"/>
<circle cx="232.4" cy="22.8" r="2.0" fill="#a1a1a1" opacity="0.8"/>
<circle cx="223.4" cy="35.1" r="2.1" fill="#a8a8a8" opacity="0.8"/>
<circle cx="219.1" cy="25.5" r="1.9" fill="#cccccc" opacity="0.8"/>
<circle cx="221.7" cy="26.9" r="2.9" fill="#b9b9b9" opacity="0.8"/>
<circle cx="217.9" cy="31.9" r="2.4" fill="#c5c5c5" opacity="0.8"/>
<circle cx="224.1" cy="37.6" r="3.3" fill="#818181" opacity="0.8"/>
<circle cx="219.0" cy="34.4" r="3.4" fill="#9b9b9b" opacity="0.8"/>
<circle cx="156" cy="55" r="8.8" fill="#545454"/>
<circle cx="152.8" cy="52.7" r="4.6" fill="#616161"/>
<circle cx="152.3" cy="51.1" r="5.1" fill="#616161"/>
<circle cx="153.0" cy="59.1" r="4.5" fill="#555555"/>
<circle cx="156.1" cy="59.4" r="4.3" fill="#4f4f4f"/>
<circle cx="157.0" cy="59.0" r="5.0" fill="#4e4e4e"/>
<circle cx="162.0" cy="52.7" r="2.3" fill="#7d7d7d" opacity="0.8"/>
<circle cx="159.6" cy="48.7" r="2.1" fill="#747474" opacity="0.8"/>
<circle cx="154.7" cy="52.4" r="2.5" fill="#828282" opacity="0.8"/>
<circle cx="161.2" cy="58.7" r="2.6" fill="#696969" opacity="0.8"/>
<circle cx="163.2" cy="57.5" r="2.8" fill="#5b5b5b" opacity="0.8"/>
<circle cx="157.1" cy="63.9" r="2.3" fill="#585858" opacity="0.8"/>
<circle cx="155.2" cy="55.6" r="2.6" fill="#949494" opacity="0.8"/>
<circle cx="160.8" cy="49.0" r="1.7" fill="#6b6b6b" opacity="0.8"/>
<circle cx="153.0" cy="51.8" r="2.6" fill="#757575" opacity="0.8"/>
<circle cx="162.1" cy="52.1" r="2.3" fill="#5d5d5d" opacity="0.8"/>
<circle cx="164.2" cy="51.2" r="1.9" fill="#5e5e5e" opacity="0.8"/>
<circle cx="159.8" cy="61.4" r="2.5" fill="#595959" opacity="0.8"/>
<circle cx="153.8" cy="53.4" r="2.8" fill="#a0a0a0" opacity="0.8"/>
<circle cx="155.0" cy="47.9" r="2.0" fill="#939393" opacity="0.8"/>
<circle cx="148.0" cy="58.6" r="2.1" fill="#a2a2a2" opacity="0.8"/>
<circle cx="151.4" cy="52.5" r="2.3" fill="#868686" opacity="0.8"/>
<circle cx="163.4" cy="55.8" r="2.8" fill="#535353" opacity="0.8"/>
<circle cx="155.4" cy="45.8" r="2.5" fill="#a9a9a9" opacity="0.8"/>
<circle cx="155.9" cy="62.5" r="2.5" fill="#7e7e7e" opacity="0.8"/>
<circle cx="154.4" cy="60.6" r="2.5" fill="#787878" opacity="0.8"/>
<circle cx="156.8" cy="61.9" r="2.6" fill="#868686" opacity="0.8"/>
<circle cx="150.9" cy="56.4" r="1.9" fill="#8a8a8a" opacity="0.8"/>
<circle cx="160.2" cy="52.2" r="2.2" fill="#838383" opacity="0.8"/>
<circle cx="155.4" cy="63.2" r="1.8" fill="#828282" opacity="0.8"/>
<circle cx="153.5" cy="50.7" r="1.8" fill="#9d9d9d" opacity="0.8"/>
<circle cx="148.0" cy="56.9" r="2.8" fill="#7d7d7d" opacity="0.8"/>
<circle cx="155.4" cy="47.4" r="1.8" fill="#7e7e7e" opacity="0.8"/>
<circle cx="159.7" cy="48.3" r="2.3" fill="#818181" opacity="0.8"/>
<circle cx="151.9" cy="53.9" r="2.1" fill="#9d9d9d" opacity="0.8"/>
<circle cx="155.1" cy="55.5" r="1.6" fill="#7c7c7c" opacity="0.8"/>
<circle cx="150.6" cy="59.8" r="2.1" fill="#6a6a6a" opacity="0.8"/>
<circle cx="152.0" cy="56.8" r="2.9" fill="#898989" opacity="0.8"/>
<circle cx="164.8" cy="57.8" r="2.4" fill="#494949" opacity="0.8"/>
<circle cx="155.1" cy="57.1" r="2.3" fill="#888888" opacity="0.8"/>
<circle cx="150.4" cy="50.2" r="2.5" fill="#8b8b8b" opacity="0.8"/>
<circle cx="156.1" cy="50.1" r="2.3" fill="#848484" opacity="0.8"/>
<circle cx="183.5" cy="47.8" r="17.8" fill="#757575"/>
<circle cx="176.9" cy="52.4" r="11.2" fill="#7c7c7c"/>
<circle cx="191.7" cy="47.8" r="10.4" fill="#737373"/>
<circle cx="183.0" cy="39.6" r="9.0" fill="#828282"/>
<circle cx="176.8" cy="44.8" r="11.1" fill="#838383"/>
<circle cx="194.2" cy="49.4" r="10.6" fill="#727272"/>
<circle cx="191.0" cy="31.5" r="3.1" fill="#cecece" opacity="0.8"/>
<circle cx="197.0" cy="46.5" r="2.9" fill="#9a9a9a" opacity="0.8"/>
<circle cx="177.6" cy="49.3" r="4.1" fill="#9a9a9a" opacity="0.8"/>
<circle cx="181.9" cy="49.4" r="4.8" fill="#999999" opacity="0.8"/>
<circle cx="179.3" cy="55.3" r="4.0" fill="#b7b7b7" opacity="0.8"/>
<circle cx="190.9" cy="34.2" r="3.8" fill="#cbcbcb" opacity="0.8"/>
<circle cx="196.2" cy="51.3" r="3.9" fill="#9e9e9e" opacity="0.8"/>
<circle cx="195.0" cy="42.3" r="4.2" fill="#a5a5a5" opacity="0.8"/>
<circle cx="166.1" cy="50.6" r="2.7" fill="#bcbcbc" opacity="0.8"/>
<circle cx="194.8" cy="56.8" r="2.8" fill="#939393" opacity="0.8"/>
<circle cx="178.2" cy="51.9" r="3.9" fill="#9d9d9d" opacity="0.8"/>
<circle cx="181.0" cy="43.7" r="3.1" fill="#c9c9c9" opacity="0.8"/>
<circle cx="185.8" cy="38.8" r="3.2" fill="#9e9e9e" opacity="0.8"/>
<circle cx="181.4" cy="36.2" r="3.4" fill="#d6d6d6" opacity="0.8"/>
<circle cx="199.8" cy="46.0" r="4.8" fill="#848484" opacity="0.8"/>
<circle cx="185.5" cy="35.3" r="2.7" fill="#adadad" opacity="0.8"/>
<circle cx="194.7" cy="36.5" r="3.5" fill="#a6a6a6" opacity="0.8"/>
<circle cx="187.5" cy="43.4" r="4.9" fill="#a8a8a8" opacity="0.8"/>
<circle cx="197.6" cy="36.9" r="3.7" fill="#8d8d8d" opacity="0.8"/>
<circle cx="168.1" cy="40.8" r="3.8" fill="#dadada" opacity="0.8"/>
<circle cx="165.9" cy="41.7" r="4.9" fill="#b8b8b8" opacity="0.8"/>
<circle cx="193.0" cy="57.5" r="3.5" fill="#868686" opacity="0.8"/>
<circle cx="180.8" cy="50.3" r="4.4" fill="#909090" opacity="0.8"/>
<circle cx="180.5" cy="33.9" r="4.3" fill="#afafaf" opacity="0.8"/>
<circle cx="181.2" cy="63.0" r="4.1" fill="#b8b8b8" opacity="0.8"/>
<circle cx="175.3" cy="61.4" r="3.8" fill="#afafaf" opacity="0.8"/>
<circle cx="169.9" cy="51.0" r="3.8" fill="#a4a4a4" opacity="0.8"/>
<circle cx="191.8" cy="59.4" r="4.6" fill="#a2a2a2" opacity="0.8"/>
<circle cx="179.1" cy="44.4" r="4.8" fill="#b1b1b1" opacity="0.8"/>
<circle cx="186.5" cy="49.9" r="4.8" fill="#8e8e8e" opacity="0.8"/>
<circle cx="193.0" cy="42.6" r="4.7" fill="#9b9b9b" opacity="0.8"/>
<circle cx="182.5" cy="32.4" r="3.0" fill="#d2d2d2" opacity="0.8"/>
<circle cx="186.3" cy="45.1" r="3.1" fill="#c8c8c8" opacity="0.8"/>
<circle cx="183.6" cy="64.6" r="3.5" fill="#848484" opacity="0.8"/>
<circle cx="197.8" cy="45.8" r="4.9" fill="#a1a1a1" opacity="0.8"/>
<circle cx="171.3" cy="36.8" r="4.1" fill="#c2c2c2" opacity="0.8"/>
<circle cx="167.6" cy="54.6" r="3.7" fill="#989898" opacity="0.8"/>
<circle cx="173.7" cy="36.3" r="4.1" fill="#d4d4d4" opacity="0.8"/>
<circle cx="184.2" cy="40.4" r="4.9" fill="#b3b3b3" opacity="0.8"/>
<circle cx="195.3" cy="43.6" r="4.1" fill="#a7a7a7" opacity="0.8"/>
<circle cx="193.2" cy="44.4" r="4.2" fill="#9d9d9d" opacity="0.8"/>
<circle cx="194.3" cy="39.3" r="4.0" fill="#b7b7b7" opacity="0.8"/>
<circle cx="192.2" cy="49.1" r="3.0" fill="#909090" opacity="0.8"/>
<circle cx="181.6" cy="44.0" r="4.8" fill="#cecece" opacity="0.8"/>
<circle cx="186.9" cy="41.9" r="3.6" fill="#cccccc" opacity="0.8"/>
<circle cx="197.9" cy="40.1" r="3.0" fill="#aaaaaa" opacity="0.8"/>
<circle cx="194.8" cy="34.5" r="3.0" fill="#a7a7a7" opacity="0.8"/>
<circle cx="183.5" cy="53.8" r="4.2" fill="#bebebe" opacity="0.8"/>
<circle cx="180.9" cy="62.7" r="2.6" fill="#868686" opacity="0.8"/>
<circle cx="181.5" cy="51.3" r="4.6" fill="#a1a1a1" opacity="0.8"/>
<circle cx="191.2" cy="37.6" r="4.2" fill="#c1c1c1" opacity="0.8"/>
<circle cx="165.5" cy="51.9" r="3.0" fill="#a1a1a1" opacity="0.8"/>
<circle cx="177.9" cy="47.3" r="3.2" fill="#b8b8b8" opacity="0.8"/>
<circle cx="186.4" cy="54.2" r="3.2" fill="#8e8e8e" opacity="0.8"/>
<circle cx="180.2" cy="51.7" r="4.8" fill="#c7c7c7" opacity="0.8"/>
<circle cx="192.2" cy="43.4" r="4.8" fill="#b7b7b7" opacity="0.8"/>
<circle cx="175.0" cy="60.7" r="4.1" fill="#a8a8a8" opacity="0.8"/>
<circle cx="189.3" cy="60.7" r="4.4" fill="#8d8d8d" opacity="0.8"/>
<circle cx="179.5" cy="30.5" r="3.7" fill="#acacac" opacity="0.8"/>
<circle cx="182.7" cy="61.7" r="2.7" fill="#848484" opacity="0.8"/>
<circle cx="187.7" cy="64.7" r="3.9" fill="#aaaaaa" opacity="0.8"/>
<circle cx="197.8" cy="38.1" r="3.6" fill="#b0b0b0" opacity="0.8"/>
<circle cx="213.7" cy="63.6" r="14.4" fill="#6a6a6a"/>
<circle cx="207.9" cy="68.1" r="6.8" fill="#6f6f6f"/>
<circle cx="210.0" cy="55.3" r="7.4" fill="#787878"/>
<circle cx="207.2" cy="64.9" r="8.9" fill="#747474"/>
<circle cx="215.0" cy="56.1" r="7.8" fill="#747474"/>
<circle cx="206.1" cy="60.7" r="9.2" fill="#777777"/>
<circle cx="226.8" cy="65.9" r="2.7" fill="#979797" opacity="0.8"/>
<circle cx="220.2" cy="68.6" r="3.5" fill="#a2a2a2" opacity="0.8"/>
<circle cx="207.1" cy="74.3" r="3.4" fill="#979797" opacity="0.8"/>
<circle cx="215.8" cy="57.9" r="3.1" fill="#b1b1b1" opacity="0.8"/>
<circle cx="201.1" cy="60.0" r="3.7" fill="#c8c8c8" opacity="0.8"/>
<circle cx="220.8" cy="72.6" r="3.2" fill="#959595" opacity="0.8"/>
<circle cx="215.3" cy="76.0" r="2.9" fill="#797979" opacity="0.8"/>
<circle cx="201.8" cy="57.4" r="2.6" fill="#b5b5b5" opacity="0.8"/>
<circle cx="214.1" cy="52.0" r="2.7" fill="#a6a6a6" opacity="0.8"/>
<circle cx="213.7" cy="58.8" r="3.9" fill="#878787" opacity="0.8"/>
<circle cx="209.3" cy="49.2" r="2.5" fill="#d1d1d1" opacity="0.8"/>
<circle cx="219.5" cy="64.1" r="4.2" fill="#969696" opacity="0.8"/>
<circle cx="218.8" cy="66.2" r="2.6" fill="#777777" opacity="0.8"/>
<circle cx="215.8" cy="55.6" r="2.5" fill="#b3b3b3" opacity="0.8"/>
<circle cx="221.6" cy="64.3" r="2.3" fill="#9e9e9e" opacity="0.8"/>
<circle cx="209.6" cy="61.7" r="2.7" fill="#969696" opacity="0.8"/>
<circle cx="215.7" cy="62.4" r="3.8" fill="#949494" opacity="0.8"/>
<circle cx="211.9" cy="75.9" r="3.7" fill="#8c8c8c" opacity="0.8"/>
<circle cx="203.4" cy="61.8" r="3.8" fill="#c6c6c6" opacity="0.8"/>
<circle cx="202.8" cy="56.5" r="2.2" fill="#b6b6b6" opacity="0.8"/>
<circle cx="216.4" cy="75.5" r="3.4" fill="#9a9a9a" opacity="0.8"/>
<circle cx="212.4" cy="59.4" r="3.9" fill="#afafaf" opacity="0.8"/>
<circle cx="205.6" cy="67.2" r="2.6" fill="#949494" opacity="0.8"/>
<circle cx="209.2" cy="60.5" r="4.1" fill="#8f8f8f" opacity="0.8"/>
<circle cx="214.2" cy="66.9" r="3.8" fill="#ababab" opacity="0.8"/>
<circle cx="211.9" cy="73.0" r="2.6" fill="#a4a4a4" opacity="0.8"/>
<circle cx="225.0" cy="68.6" r="3.1" fill="#767676" opacity="0.8"/>
<circle cx="201.7" cy="59.1" r="3.2" fill="#cbcbcb" opacity="0.8"/>
<circle cx="222.6" cy="65.1" r="2.2" fill="#929292" opacity="0.8"/>
<circle cx="207.9" cy="54.1" r="3.4" fill="#c5c5c5" opacity="0.8"/>
<circle cx="206.5" cy="74.2" r="2.4" fill="#838383" opacity="0.8"/>
<circle cx="204.3" cy="52.0" r="2.4" fill="#bababa" opacity="0.8"/>
<circle cx="216.5" cy="74.9" r="3.6" fill="#787878" opacity="0.8"/>
<circle cx="220.7" cy="52.1" r="2.5" fill="#bfbfbf" opacity="0.8"/>
<circle cx="210.0" cy="58.2" r="3.4" fill="#c6c6c6" opacity="0.8"/>
<circle cx="200.9" cy="64.5" r="2.4" fill="#979797" opacity="0.8"/>
<circle cx="226.1" cy="61.8" r="2.2" fill="#a5a5a5" opacity="0.8"/>
<circle cx="218.0" cy="53.1" r="4.1" fill="#959595" opacity="0.8"/>
<circle cx="207.0" cy="76.9" r="2.4" fill="#9c9c9c" opacity="0.8"/>
<circle cx="223.7" cy="61.1" r="3.2" fill="#aaaaaa" opacity="0.8"/>
<circle cx="215.2" cy="55.7" r="3.7" fill="#bebebe" opacity="0.8"/>
<circle cx="215.5" cy="52.7" r="3.2" fill="#b4b4b4" opacity="0.8"/>
<circle cx="215.8" cy="48.9" r="3.4" fill="#c5c5c5" opacity="0.8"/>
<circle cx="202.3" cy="65.3" r="3.9" fill="#8f8f8f" opacity="0.8"/>
<circle cx="205.4" cy="65.3" r="3.7" fill="#8d8d8d" opacity="0.8"/>
<circle cx="218.8" cy="68.0" r="3.6" fill="#737373" opacity="0.8"/>
<circle cx="214.1" cy="64.5" r="3.6" fill="#adadad" opacity="0.8"/>
<circle cx="211.8" cy="65.7" r="3.2" fill="#878787" opacity="0.8"/>
<circle cx="220.6" cy="66.5" r="2.7" fill="#979797" opacity="0.8"/>
<circle cx="218.1" cy="49.8" r="2.2" fill="#bebebe" opacity="0.8"/>
<circle cx="215.6" cy="75.9" r="3.1" fill="#8a8a8a" opacity="0.8"/>
<circle cx="205.6" cy="66.9" r="2.8" fill="#979797" opacity="0.8"/>
<circle cx="161" cy="82" r="12.2" fill="#5f5f5f"/>
<circle cx="154.6" cy="82.6" r="6.5" fill="#696969"/>
<circle cx="158.5" cy="77.2" r="5.8" fill="#6c6c6c"/>
<circle cx="161.3" cy="88.6" r="6.3" fill="#5b5b5b"/>
<circle cx="166.2" cy="81.9" r="6.6" fill="#5c5c5c"/>
<circle cx="158.2" cy="76.0" r="7.6" fill="#6c6c6c"/>
<circle cx="169.7" cy="73.0" r="3.4" fill="#777777" opacity="0.8"/>
<circle cx="161.8" cy="79.5" r="3.3" fill="#9d9d9d" opacity="0.8"/>
<circle cx="167.7" cy="75.1" r="2.4" fill="#a9a9a9" opacity="0.8"/>
<circle cx="153.7" cy="80.5" r="2.7" fill="#b3b3b3" opacity="0.8"/>
<circle cx="158.1" cy="79.0" r="2.8" fill="#8b8b8b" opacity="0.8"/>
<circle cx="155.5" cy="78.1" r="2.5" fill="#b5b5b5" opacity="0.8"/>
<circle cx="157.0" cy="71.3" r="2.7" fill="#979797" opacity="0.8"/>
<circle cx="170.9" cy="80.8" r="3.3" fill="#7a7a7a" opacity="0.8"/>
<circle cx="163.2" cy="82.5" r="3.6" fill="#6b6b6b" opacity="0.8"/>
<circle cx="157.4" cy="77.5" r="2.5" fill="#9a9a9a" opacity="0.8"/>
<circle cx="167.4" cy="91.9" r="3.1" fill="#595959" opacity="0.8"/>
<circle cx="160.1" cy="69.6" r="3.3" fill="#b6b6b6" opacity="0.8"/>
<circle cx="161.0" cy="76.1" r="3.0" fill="#919191" opacity="0.8"/>
<circle cx="165.4" cy="73.2" r="2.8" fill="#979797" opacity="0.8"/>
<circle cx="167.3" cy="73.2" r="2.7" fill="#a2a2a2" opacity="0.8"/>
<circle cx="161.1" cy="80.6" r="2.3" fill="#a6a6a6" opacity="0.8"/>
<circle cx="168.1" cy="91.4" r="3.0" fill="#8c8c8c" opacity="0.8"/>
<circle cx="165.5" cy="88.7" r="3.6" fill="#7c7c7c" opacity="0.8"/>
<circle cx="149.5" cy="77.6" r="2.8" fill="#bebebe" opacity="0.8"/>
<circle cx="153.0" cy="72.0" r="3.3" fill="#919191" opacity="0.8"/>
<circle cx="159.0" cy="77.9" r="2.3" fill="#808080" opacity="0.8"/>
<circle cx="148.6" cy="83.3" r="2.3" fill="#878787" opacity="0.8"/>
<circle cx="159.3" cy="81.3" r="2.6" fill="#929292" opacity="0.8"/>
<circle cx="148.5" cy="79.8" r="2.0" fill="#929292" opacity="0.8"/>
<circle cx="170.7" cy="75.2" r="3.3" fill="#929292" opacity="0.8"/>
<circle cx="159.7" cy="86.7" r="3.6" fill="#a1a1a1" opacity="0.8"/>
<circle cx="165.1" cy="79.7" r="2.2" fill="#8d8d8d" opacity="0.8"/>
<circle cx="158.1" cy="74.5" r="3.3" fill="#979797" opacity="0.8"/>
<circle cx="167.0" cy="72.4" r="3.0" fill="#898989" opacity="0.8"/>
<circle cx="164.8" cy="84.5" r="2.4" fill="#787878" opacity="0.8"/>
<circle cx="168.1" cy="75.6" r="2.9" fill="#808080" opacity="0.8"/>
<circle cx="161.1" cy="86.5" r="3.2" fill="#7e7e7e" opacity="0.8"/>
<circle cx="156.4" cy="81.0" r="3.3" fill="#848484" opacity="0.8"/>
<circle cx="157.3" cy="92.0" r="3.2" fill="#6c6c6c" opacity="0.8"/>
<circle cx="153.6" cy="73.9" r="3.6" fill="#969696" opacity="0.8"/>
<circle cx="170.4" cy="84.5" r="2.6" fill="#757575" opacity="0.8"/>
<circle cx="161.2" cy="89.5" r="3.6" fill="#717171" opacity="0.8"/>
<circle cx="166.6" cy="76.3" r="3.1" fill="#a2a2a2" opacity="0.8"/>
<circle cx="159.8" cy="75.3" r="3.2" fill="#b0b0b0" opacity="0.8"/>
<circle cx="158.1" cy="70.9" r="3.0" fill="#9f9f9f" opacity="0.8"/>
<circle cx="168.6" cy="90.5" r="2.3" fill="#636363" opacity="0.8"/>
<circle cx="155.1" cy="86.9" r="2.4" fill="#949494" opacity="0.8"/>
<circle cx="169.3" cy="82.7" r="3.0" fill="#939393" opacity="0.8"/>
<circle cx="150.8" cy="74.9" r="2.8" fill="#a4a4a4" opacity="0.8"/>
<circle cx="167.8" cy="90.4" r="3.2" fill="#7f7f7f" opacity="0.8"/>
<circle cx="165.5" cy="89.2" r="2.1" fill="#8a8a8a" opacity="0.8"/>
<circle cx="192" cy="84" r="10.5" fill="#5f5f5f"/>
<circle cx="188.1" cy="82.0" r="6.1" fill="#6c6c6c"/>
<circle cx="187.4" cy="83.7" r="6.3" fill="#6a6a6a"/>
<circle cx="194.2" cy="89.1" r="6.7" fill="#595959"/>
<circle cx="188.0" cy="80.8" r="5.1" fill="#6c6c6c"/>
<circle cx="195.9" cy="89.2" r="6.3" fill="#595959"/>
<circle cx="197.4" cy="79.2" r="2.2" fill="#979797" opacity="0.8"/>
<circle cx="192.4" cy="82.2" r="1.9" fill="#9a9a9a" opacity="0.8"/>
<circle cx="195.0" cy="88.7" r="2.9" fill="#818181" opacity="0.8"/>
<circle cx="186.1" cy="77.8" r="2.5" fill="#a2a2a2" opacity="0.8"/>
<circle cx="199.7" cy="83.0" r="2.1" fill="#8c8c8c" opacity="0.8"/>
<circle cx="195.6" cy="82.5" r="3.0" fill="#747474" opacity="0.8"/>
<circle cx="198.5" cy="87.5" r="1.9" fill="#8b8b8b" opacity="0.8"/>
<circle cx="194.9" cy="94.7" r="2.7" fill="#8f8f8f" opacity="0.8"/>
<circle cx="195.7" cy="77.5" r="2.0" fill="#9d9d9d" opacity="0.8"/>
<circle cx="199.1" cy="75.6" r="2.9" fill="#737373" opacity="0.8"/>
<circle cx="201.1" cy="88.8" r="3.0" fill="#555555" opacity="0.8"/>
<circle cx="202.2" cy="81.2" r="2.0" fill="#6b6b6b" opacity="0.8"/>
<circle cx="193.0" cy="89.0" r="2.4" fill="#9a9a9a" opacity="0.8"/>
<circle cx="186.1" cy="83.2" r="2.5" fill="#979797" opacity="0.8"/>
<circle cx="189.0" cy="82.3" r="2.3" fill="#a2a2a2" opacity="0.8"/>
<circle cx="182.4" cy="86.0" r="2.4" fill="#9b9b9b" opacity="0.8"/>
<circle cx="192.4" cy="94.9" r="2.1" fill="#5f5f5f" opacity="0.8"/>
<circle cx="186.8" cy="92.9" r="2.5" fill="#8c8c8c" opacity="0.8"/>
<circle cx="191.2" cy="93.6" r="2.8" fill="#6e6e6e" opacity="0.8"/>
<circle cx="191.7" cy="94.9" r="3.0" fill="#8f8f8f" opacity="0.8"/>
<circle cx="196.3" cy="85.0" r="3.2" fill="#747474" opacity="0.8"/>
<circle cx="192.4" cy="92.6" r="1.8" fill="#757575" opacity="0.8"/>
<circle cx="190.2" cy="76.6" r="2.6" fill="#acacac" opacity="0.8"/>
<circle cx="186.3" cy="84.6" r="2.1" fill="#818181" opacity="0.8"/>
<circle cx="190.4" cy="91.4" r="2.9" fill="#727272" opacity="0.8"/>
<circle cx="193.0" cy="79.7" r="3.2" fill="#9b9b9b" opacity="0.8"/>
<circle cx="193.9" cy="79.0" r="1.8" fill="#adadad" opacity="0.8"/>
<circle cx="200.5" cy="77.8" r="2.5" fill="#9a9a9a" opacity="0.8"/>
<circle cx="198.4" cy="85.1" r="2.4" fill="#636363" opacity="0.8"/>
<circle cx="189.0" cy="89.4" r="2.5" fill="#9f9f9f" opacity="0.8"/>
<circle cx="197.1" cy="86.7" r="3.0" fill="#878787" opacity="0.8"/>
<circle cx="188.5" cy="93.0" r="2.3" fill="#919191" opacity="0.8"/>
<circle cx="192.1" cy="78.1" r="2.8" fill="#b2b2b2" opacity="0.8"/>
<circle cx="186.5" cy="86.7" r="2.2" fill="#a3a3a3" opacity="0.8"/>
<circle cx="196.0" cy="77.9" r="3.0" fill="#9b9b9b" opacity="0.8"/>
<circle cx="182.6" cy="81.5" r="2.9" fill="#a2a2a2" opacity="0.8"/>
<circle cx="185.4" cy="75.4" r="2.4" fill="#939393" opacity="0.8"/>
<circle cx="198.2" cy="81.6" r="3.3" fill="#818181" opacity="0.8"/>
<circle cx="189.0" cy="80.3" r="2.0" fill="#b4b4b4" opacity="0.8"/>
<circle cx="189.4" cy="87.7" r="2.6" fill="#919191" opacity="0.8"/>
<circle cx="185.8" cy="92.8" r="3.1" fill="#6c6c6c" opacity="0.8"/>
<circle cx="208" cy="101" r="7.1" fill="#4c4c4c"/>
<circle cx="204.9" cy="103.1" r="4.2" fill="#515151"/>
<circle cx="205.2" cy="100.0" r="3.4" fill="#585858"/>
<circle cx="211.4" cy="102.8" r="4.0" fill="#464646"/>
<circle cx="206.4" cy="97.8" r="3.5" fill="#595959"/>
<circle cx="204.6" cy="99.3" r="4.3" fill="#585858"/>
<circle cx="214.8" cy="98.3" r="2.0" fill="#858585" opacity="0.8"/>
<circle cx="203.2" cy="97.9" r="1.9" fill="#969696" opacity="0.8"/>
<circle cx="206.5" cy="107.9" r="2.0" fill="#595959" opacity="0.8"/>
<circle cx="208.4" cy="102.7" r="1.7" fill="#747474" opacity="0.8"/>
<circle cx="212.5" cy="102.5" r="2.1" fill="#686868" opacity="0.8"/>
<circle cx="209.9" cy="96.7" r="2.3" fill="#8d8d8d" opacity="0.8"/>
<circle cx="206.8" cy="93.6" r="1.7" fill="#757575" opacity="0.8"/>
<circle cx="210.2" cy="105.9" r="1.7" fill="#6d6d6d" opacity="0.8"/>
<circle cx="209.9" cy="95.8" r="2.1" fill="#868686" opacity="0.8"/>
<circle cx="214.1" cy="104.6" r="2.2" fill="#5a5a5a" opacity="0.8"/>
<circle cx="205.2" cy="104.5" r="2.3" fill="#777777" opacity="0.8"/>
<circle cx="203.5" cy="101.7" r="1.6" fill="#8e8e8e" opacity="0.8"/>
<circle cx="211.7" cy="100.2" r="2.0" fill="#5e5e5e" opacity="0.8"/>
<circle cx="210.9" cy="105.5" r="2.2" fill="#646464" opacity="0.8"/>
<circle cx="204.5" cy="96.5" r="1.7" fill="#a7a7a7" opacity="0.8"/>
<circle cx="209.7" cy="107.0" r="1.6" fill="#6f6f6f" opacity="0.8"/>
<circle cx="208.3" cy="94.1" r="2.5" fill="#747474" opacity="0.8"/>
<circle cx="208.1" cy="101.1" r="1.5" fill="#707070" opacity="0.8"/>
<circle cx="205.7" cy="97.9" r="2.4" fill="#7a7a7a" opacity="0.8"/>
<circle cx="208.3" cy="104.9" r="2.1" fill="#4d4d4d" opacity="0.8"/>
<circle cx="207.2" cy="104.8" r="2.0" fill="#858585" opacity="0.8"/>
<circle cx="210.0" cy="95.7" r="2.4" fill="#6e6e6e" opacity="0.8"/>
<circle cx="203.3" cy="95.6" r="1.9" fill="#9e9e9e" opacity="0.8"/>
<circle cx="210.7" cy="100.6" r="2.3" fill="#8a8a8a" opacity="0.8"/>
<circle cx="201.3" cy="98.0" r="2.0" fill="#777777" opacity="0.8"/>
<circle cx="210.7" cy="94.6" r="2.1" fill="#8a8a8a" opacity="0.8"/>
<circle cx="215.1" cy="99.9" r="1.8" fill="#6b6b6b" opacity="0.8"/>
<circle cx="206.0" cy="104.9" r="2.4" fill="#565656" opacity="0.8"/>
<circle cx="209.4" cy="101.7" r="1.7" fill="#747474" opacity="0.8"/>
<circle cx="208.5" cy="97.9" r="1.6" fill="#777777" opacity="0.8"/>
<circle cx="204.0" cy="101.9" r="1.8" fill="#747474" opacity="0.8"/>
<circle cx="150" cy="100" r="6.3" fill="#454545"/>
<circle cx="151.6" cy="96.9" r="3.0" fill="#4b4b4b"/>
<circle cx="152.4" cy="101.9" r="3.4" fill="#3d3d3d"/>
<circle cx="150.8" cy="103.1" r="3.7" fill="#3f3f3f"/>
<circle cx="146.7" cy="100.5" r="3.6" fill="#4d4d4d"/>
<circle cx="151.6" cy="103.4" r="3.3" fill="#3e3e3e"/>
<circle cx="149.8" cy="104.0" r="1.7" fill="#575757" opacity="0.8"/>
<circle cx="151.1" cy="95.8" r="2.0" fill="#909090" opacity="0.8"/>
<circle cx="150.7" cy="96.2" r="2.2" fill="#626262" opacity="0.8"/>
<circle cx="147.7" cy="94.4" r="1.5" fill="#6c6c6c" opacity="0.8"/>
<circle cx="143.7" cy="100.5" r="1.6" fill="#787878" opacity="0.8"/>
<circle cx="151.8" cy="104.9" r="1.9" fill="#6a6a6a" opacity="0.8"/>
<circle cx="148.2" cy="103.5" r="2.1" fill="#6e6e6e" opacity="0.8"/>
<circle cx="148.2" cy="93.7" r="1.5" fill="#787878" opacity="0.8"/>
<circle cx="149.7" cy="102.8" r="1.7" fill="#474747" opacity="0.8"/>
<circle cx="150.2" cy="101.0" r="1.8" fill="#666666" opacity="0.8"/>
<circle cx="152.8" cy="103.4" r="1.8" fill="#383838" opacity="0.8"/>
<circle cx="154.0" cy="104.4" r="2.1" fill="#454545" opacity="0.8"/>
<circle cx="148.5" cy="94.0" r="1.8" fill="#6b6b6b" opacity="0.8"/>
<circle cx="152.7" cy="97.8" r="2.0" fill="#6a6a6a" opacity="0.8"/>
<circle cx="154.8" cy="103.9" r="1.6" fill="#646464" opacity="0.8"/>
<circle cx="155.8" cy="101.9" r="2.2" fill="#626262" opacity="0.8"/>
<circle cx="148.0" cy="98.3" r="1.7" fill="#626262" opacity="0.8"/>
<circle cx="154.3" cy="99.9" r="1.6" fill="#474747" opacity="0.8"/>
<circle cx="153.3" cy="103.0" r="1.4" fill="#646464" opacity="0.8"/>
<circle cx="145.8" cy="96.3" r="1.9" fill="#707070" opacity="0.8"/>
<circle cx="149.6" cy="99.7" r="2.0" fill="#868686" opacity="0.8"/>
<circle cx="153.6" cy="101.8" r="1.6" fill="#4c4c4c" opacity="0.8"/>
<circle cx="150.4" cy="96.8" r="2.0" fill="#858585" opacity="0.8"/>
<circle cx="146.5" cy="102.9" r="1.5" fill="#898989" opacity="0.8"/>
<circle cx="143.9" cy="101.4" r="2.2" fill="#707070" opacity="0.8"/>
<circle cx="146.4" cy="97.0" r="1.9" fill="#989898" opacity="0.8"/>
<circle cx="148.4" cy="106.2" r="2.2" fill="#555555" opacity="0.8"/>
<circle cx="153.4" cy="104.1" r="1.7" fill="#6b6b6b" opacity="0.8"/>
<circle cx="175" cy="104" r="7.1" fill="#505050"/>
<circle cx="174.9" cy="107.6" r="3.7" fill="#4c4c4c"/>
<circle cx="173.3" cy="101.3" r="4.1" fill="#5d5d5d"/>
<circle cx="176.2" cy="107.2" r="3.9" fill="#4a4a4a"/>
<circle cx="177.9" cy="107.4" r="3.6" fill="#494949"/>
<circle cx="173.9" cy="100.2" r="4.6" fill="#5c5c5c"/>
<circle cx="167.9" cy="104.6" r="1.5" fill="#9b9b9b" opacity="0.8"/>
<circle cx="169.3" cy="105.5" r="1.6" fill="#888888" opacity="0.8"/>
<circle cx="180.2" cy="102.0" r="1.6" fill="#8a8a8a" opacity="0.8"/>
<circle cx="167.6" cy="102.5" r="1.8" fill="#868686" opacity="0.8"/>
<circle cx="172.7" cy="110.9" r="1.7" fill="#747474" opacity="0.8"/>
<circle cx="176.6" cy="103.6" r="1.6" fill="#6a6a6a" opacity="0.8"/>
<circle cx="177.5" cy="101.0" r="2.0" fill="#797979" opacity="0.8"/>
<circle cx="178.7" cy="101.3" r="2.0" fill="#888888" opacity="0.8"/>
<circle cx="170.0" cy="103.3" r="2.0" fill="#767676" opacity="0.8"/>
<circle cx="179.0" cy="105.3" r="1.9" fill="#7f7f7f" opacity="0.8"/>
<circle cx="175.4" cy="106.5" r="1.5" fill="#5a5a5a" opacity="0.8"/>
<circle cx="174.6" cy="108.3" r="2.1" fill="#737373" opacity="0.8"/>
<circle cx="179.1" cy="109.0" r="1.7" fill="#666666" opacity="0.8"/>
<circle cx="173.2" cy="97.0" r="2.3" fill="#858585" opacity="0.8"/>
<circle cx="171.5" cy="105.8" r="1.9" fill="#969696" opacity="0.8"/>
<circle cx="175.2" cy="102.9" r="1.7" fill="#909090" opacity="0.8"/>
<circle cx="176.0" cy="107.0" r="1.6" fill="#5e5e5e" opacity="0.8"/>
<circle cx="173.3" cy="102.1" r="1.6" fill="#9d9d9d" opacity="0.8"/>
<circle cx="180.9" cy="103.2" r="2.0" fill="#4d4d4d" opacity="0.8"/>
<circle cx="173.6" cy="99.5" r="2.2" fill="#787878" opacity="0.8"/>
<circle cx="171.3" cy="103.0" r="2.4" fill="#888888" opacity="0.8"/>
<circle cx="177.3" cy="107.2" r="1.6" fill="#4d4d4d" opacity="0.8"/>
<circle cx="172.2" cy="104.9" r="2.1" fill="#929292" opacity="0.8"/>
<circle cx="175.2" cy="107.1" r="2.4" fill="#5a5a5a" opacity="0.8"/>
<circle cx="179.2" cy="107.9" r="2.0" fill="#4e4e4e" opacity="0.8"/>
<circle cx="179.8" cy="104.8" r="2.4" fill="#838383" opacity="0.8"/>
<circle cx="170.6" cy="105.6" r="2.0" fill="#707070" opacity="0.8"/>
<circle cx="170.0" cy="105.7" r="1.8" fill="#666666" opacity="0.8"/>
<circle cx="172.4" cy="109.1" r="1.6" fill="#595959" opacity="0.8"/>
<circle cx="174.0" cy="107.2" r="1.5" fill="#656565" opacity="0.8"/>
<circle cx="176.0" cy="102.0" r="1.8" fill="#9a9a9a" opacity="0.8"/>
<circle cx="236" cy="100" r="7.1" fill="#454545"/>
<circle cx="238.9" cy="98.5" r="4.0" fill="#444444"/>
<circle cx="238.2" cy="97.1" r="3.8" fill="#494949"/>
<circle cx="240.3" cy="99.3" r="3.4" fill="#424242"/>
<circle cx="232.8" cy="96.9" r="3.9" fill="#515151"/>
<circle cx="233.5" cy="103.0" r="3.6" fill="#464646"/>
<circle cx="234.1" cy="95.1" r="1.8" fill="#747474" opacity="0.8"/>
<circle cx="240.2" cy="104.4" r="1.5" fill="#424242" opacity="0.8"/>
<circle cx="237.1" cy="103.8" r="2.0" fill="#656565" opacity="0.8"/>
<circle cx="230.6" cy="101.5" r="1.9" fill="#757575" opacity="0.8"/>
<circle cx="238.8" cy="102.1" r="2.0" fill="#404040" opacity="0.8"/>
<circle cx="233.5" cy="104.5" r="2.1" fill="#474747" opacity="0.8"/>
<circle cx="235.8" cy="100.4" r="2.2" fill="#7f7f7f" opacity="0.8"/>
<circle cx="233.6" cy="98.8" r="1.5" fill="#656565" opacity="0.8"/>
<circle cx="240.9" cy="96.7" r="1.8" fill="#767676" opacity="0.8"/>
<circle cx="232.9" cy="93.7" r="1.9" fill="#9f9f9f" opacity="0.8"/>
<circle cx="235.4" cy="106.6" r="1.6" fill="#3f3f3f" opacity="0.8"/>
<circle cx="234.2" cy="104.3" r="2.2" fill="#494949" opacity="0.8"/>
<circle cx="239.9" cy="102.3" r="1.9" fill="#555555" opacity="0.8"/>
<circle cx="236.0" cy="99.8" r="2.2" fill="#585858" opacity="0.8"/>
<circle cx="233.7" cy="98.0" r="1.8" fill="#5d5d5d" opacity="0.8"/>
<circle cx="230.4" cy="100.1" r="1.5" fill="#737373" opacity="0.8"/>
<circle cx="237.1" cy="99.7" r="2.0" fill="#7a7a7a" opacity="0.8"/>
<circle cx="230.7" cy="97.0" r="2.4" fill="#737373" opacity="0.8"/>
<circle cx="238.2" cy="106.4" r="1.9" fill="#4c4c4c" opacity="0.8"/>
<circle cx="236.8" cy="93.5" r="1.6" fill="#656565" opacity="0.8"/>
<circle cx="235.3" cy="101.8" r="2.0" fill="#5f5f5f" opacity="0.8"/>
<circle cx="239.7" cy="104.1" r="2.0" fill="#3b3b3b" opacity="0.8"/>
<circle cx="236.6" cy="93.0" r="1.9" fill="#646464" opacity="0.8"/>
<circle cx="236.7" cy="99.2" r="1.7" fill="#717171" opacity="0.8"/>
<circle cx="239.4" cy="98.5" r="1.6" fill="#6d6d6d" opacity="0.8"/>
<circle cx="239.5" cy="98.5" r="2.1" fill="#4e4e4e" opacity="0.8"/>
<circle cx="242.4" cy="99.2" r="1.5" fill="#717171" opacity="0.8"/>
<circle cx="239.8" cy="97.9" r="2.0" fill="#676767" opacity="0.8"/>
<circle cx="233.0" cy="99.1" r="1.9" fill="#888888" opacity="0.8"/>
<circle cx="230.3" cy="104.7" r="1.8" fill="#535353" opacity="0.8"/>
<circle cx="234.6" cy="100.1" r="1.5" fill="#868686" opacity="0.8"/>
</g></g>
<text x="153" y="23.6" font-size="17" font-weight="bold" fill="#fff" dominant-baseline="central" stroke="#666" stroke-width="0.5" paint-order="stroke">(e)</text>
<rect x="149.0" y="100.5" width="56.0" height="5.8" fill="#e6e6e6" stroke="#999" stroke-width="0.3"/>
<line x1="166.0" y1="100.5" x2="166.0" y2="106.3" stroke="#777" stroke-width="0.3"/>
<line x1="186.0" y1="100.5" x2="186.0" y2="106.3" stroke="#777" stroke-width="0.3"/>
<text x="150" y="102.5" font-size="2" fill="#333" dominant-baseline="central">Detector</text>
<text x="167" y="103.5" font-size="2.6" fill="#333" dominant-baseline="central">Mag = 3.00 K X</text>
<text x="187" y="102.5" font-size="2" fill="#333" dominant-baseline="central">WD = 8.5 mm</text>
<text x="187" y="104.8" font-size="2" fill="#333" dominant-baseline="central">EHT = 5.00 kV</text>
<rect x="233.6" y="42.2" width="45.4" height="65.3" fill="#fff" stroke="none" stroke-width="0.8"/>
<rect x="235.3" y="43.2" width="38.3" height="53.5" fill="none" stroke="#333" stroke-width="0.5"/>
<text x="254.8" y="46.5" font-size="4.5" text-anchor="middle" dominant-baseline="central" fill="#222">Mean = 54.97 μm</text>
<rect x="247.0" y="82.7" width="3.7" height="9.2" fill="#f07272" stroke="#b03030" stroke-width="0.35"/>
<rect x="250.7" y="73.5" width="3.7" height="18.3" fill="#f07272" stroke="#b03030" stroke-width="0.35"/>
<rect x="254.4" y="50.6" width="4.6" height="41.3" fill="#f07272" stroke="#b03030" stroke-width="0.35"/>
<rect x="258.9" y="82.7" width="3.7" height="9.2" fill="#f07272" stroke="#b03030" stroke-width="0.35"/>
<rect x="262.6" y="82.7" width="3.7" height="9.2" fill="#f07272" stroke="#b03030" stroke-width="0.35"/>
<rect x="270.0" y="87.8" width="3.7" height="4.0" fill="#f07272" stroke="#b03030" stroke-width="0.35"/>
<path d="M233.3,92.2 C233.5,92.2 234.4,92.2 235.0,92.2 C235.6,92.1 236.1,92.1 236.7,92.0 C237.3,91.9 237.8,91.9 238.4,91.7 C239.0,91.5 239.6,91.3 240.1,91.0 C240.7,90.7 241.3,90.3 241.9,89.7 C242.4,89.1 243.0,88.4 243.6,87.5 C244.2,86.5 244.7,85.4 245.3,84.0 C245.9,82.6 246.4,80.9 247.0,79.0 C247.6,77.2 248.2,75.0 248.7,72.7 C249.3,70.5 249.9,68.0 250.5,65.6 C251.0,63.3 251.6,60.8 252.2,58.8 C252.8,56.8 253.3,54.8 253.9,53.5 C254.5,52.1 255.0,51.1 255.6,50.8 C256.2,50.4 256.8,50.6 257.3,51.3 C257.9,52.0 258.5,53.4 259.1,55.0 C259.6,56.6 260.2,58.8 260.8,61.0 C261.4,63.2 261.9,65.7 262.5,68.0 C263.1,70.4 263.6,72.8 264.2,75.0 C264.8,77.1 265.4,79.1 265.9,80.8 C266.5,82.6 267.1,84.1 267.7,85.3 C268.2,86.6 268.8,87.5 269.4,88.4 C270.0,89.2 270.5,89.7 271.1,90.2 C271.7,90.7 272.2,91.0 272.8,91.3 C273.4,91.6 274.3,91.7 274.5,91.8" stroke="#222" stroke-width="0.55" fill="none" stroke-linejoin="round" stroke-linecap="round"/>
<line x1="235.3" y1="91.9" x2="273.6" y2="91.9" stroke="#333" stroke-width="0.35"/>
<text x="236.4" y="100.9" font-size="3.8" text-anchor="middle" dominant-baseline="central" fill="#222">0</text>
<line x1="236.4" y1="96.7" x2="236.4" y2="95.5" stroke="#333" stroke-width="0.4"/>
<text x="243.3" y="100.9" font-size="3.8" text-anchor="middle" dominant-baseline="central" fill="#222">20</text>
<line x1="243.3" y1="96.7" x2="243.3" y2="95.5" stroke="#333" stroke-width="0.4"/>
<text x="250.7" y="100.9" font-size="3.8" text-anchor="middle" dominant-baseline="central" fill="#222">40</text>
<line x1="250.7" y1="96.7" x2="250.7" y2="95.5" stroke="#333" stroke-width="0.4"/>
<text x="258.0" y="100.9" font-size="3.8" text-anchor="middle" dominant-baseline="central" fill="#222">60</text>
<line x1="258.0" y1="96.7" x2="258.0" y2="95.5" stroke="#333" stroke-width="0.4"/>
<text x="265.4" y="100.9" font-size="3.8" text-anchor="middle" dominant-baseline="central" fill="#222">80</text>
<line x1="265.4" y1="96.7" x2="265.4" y2="95.5" stroke="#333" stroke-width="0.4"/>
<text x="273.1" y="100.9" font-size="3.8" text-anchor="middle" dominant-baseline="central" fill="#222">100</text>
<line x1="273.1" y1="96.7" x2="273.1" y2="95.5" stroke="#333" stroke-width="0.4"/>
<text x="274.5" y="50.6" font-size="3.7" text-anchor="start" dominant-baseline="central" fill="#222">6</text>
<line x1="273.6" y1="50.6" x2="272.4" y2="50.6" stroke="#333" stroke-width="0.4"/>
<text x="274.5" y="73.5" font-size="3.7" text-anchor="start" dominant-baseline="central" fill="#222">4</text>
<line x1="273.6" y1="73.5" x2="272.4" y2="73.5" stroke="#333" stroke-width="0.4"/>
<text x="274.5" y="91.9" font-size="3.7" text-anchor="start" dominant-baseline="central" fill="#222">2</text>
<line x1="273.6" y1="91.9" x2="272.4" y2="91.9" stroke="#333" stroke-width="0.4"/>
<text x="254.8" y="104.8" font-size="4.5" text-anchor="middle" dominant-baseline="central" fill="#222">Particle Size/μm</text>
<text x="267.6" y="70.2" font-size="4.5" text-anchor="middle" dominant-baseline="central" fill="#222" transform="rotate(90 267.6 70.2)">Count</text>
<text x="153.5" y="127.5" font-size="13" text-anchor="start" dominant-baseline="central" fill="#111" font-weight="bold">(f)</text>
<polygon points="194.3,134.6 207.4,126.1 221.8,144.5 206.0,160.8" fill="url(#cyanA)" stroke="#0f7886" stroke-width="0.5"/>
<polygon points="206.0,160.8 221.8,144.5 222.3,147.8 206.5,164.0" fill="#0f8292" stroke="none" stroke-width="0.5"/>
<polygon points="198.5,137.5 207.5,131.0 217.5,144.5 206.5,156.0" fill="none" stroke="#5fcfdf" stroke-width="0.4"/>
<circle cx="205.5" cy="135.5" r="0.9" fill="#0b5560"/>
<polygon points="181.8,128.1 192.3,120.9 197.5,124.8 195.0,137.3 184.0,134.0" fill="#1ea3b6" stroke="#0f7886" stroke-width="0.5"/>
<polygon points="192.3,120.9 197.5,124.8 195.0,137.3 193.0,131.0" fill="#137f90" stroke="none" stroke-width="0.5"/>
<polygon points="160.9,146.4 173.3,128.1 196.9,141.8 183.1,159.5" fill="url(#cyanA)" stroke="#0f7886" stroke-width="0.5"/>
<polygon points="160.9,146.4 183.1,159.5 183.4,163.0 161.0,149.8" fill="#4cc6d6" stroke="none" stroke-width="0.5"/>
<polygon points="183.1,159.5 196.9,141.8 197.0,145.0 183.4,163.0" fill="#108696" stroke="none" stroke-width="0.5"/>
<polygon points="168.7,144.5 177.2,134.6 194.3,142.5 184.5,154.3" fill="#27b3c6" stroke="#74dbe8" stroke-width="0.45"/>
<polygon points="173.0,143.5 179.0,137.5 189.5,142.5 183.5,150.0" fill="none" stroke="#1a93a5" stroke-width="0.4"/>
<polygon points="198.2,187.2 222.4,191.1 220.4,215.3 199.0,212.0" fill="#27b48c" stroke="#15866a" stroke-width="0.5"/>
<polygon points="200.3,189.8 220.2,193.0 218.5,212.8 201.0,210.1" fill="#1f9e7a" stroke="#5fd6b0" stroke-width="0.5"/>
<polygon points="204.1,194.3 216.2,196.2 215.2,208.4 204.5,206.7" fill="#16835f" stroke="none" stroke-width="0.5"/>
<line x1="200.3" y1="189.8" x2="210.0" y2="201.4" stroke="#47c79f" stroke-width="0.5"/>
<line x1="220.2" y1="193.0" x2="210.0" y2="201.4" stroke="#47c79f" stroke-width="0.5"/>
<line x1="218.5" y1="212.8" x2="210.0" y2="201.4" stroke="#47c79f" stroke-width="0.5"/>
<line x1="201.0" y1="210.1" x2="210.0" y2="201.4" stroke="#47c79f" stroke-width="0.5"/>
<polygon points="207.4,198.3 212.7,199.1 212.3,204.5 207.6,203.7" fill="#0f6a4e" stroke="none" stroke-width="0.5"/>
<polygon points="160.2,199.6 181.2,188.5 194.3,206.8 174.6,219.3" fill="#27b48c" stroke="#15866a" stroke-width="0.5"/>
<polygon points="163.3,200.3 180.5,191.2 191.3,206.2 175.1,216.5" fill="#1f9e7a" stroke="#5fd6b0" stroke-width="0.5"/>
<polygon points="168.9,201.6 179.4,196.0 185.9,205.2 176.1,211.4" fill="#16835f" stroke="none" stroke-width="0.5"/>
<line x1="163.3" y1="200.3" x2="177.6" y2="203.6" stroke="#47c79f" stroke-width="0.5"/>
<line x1="180.5" y1="191.2" x2="177.6" y2="203.6" stroke="#47c79f" stroke-width="0.5"/>
<line x1="191.3" y1="206.2" x2="177.6" y2="203.6" stroke="#47c79f" stroke-width="0.5"/>
<line x1="175.1" y1="216.5" x2="177.6" y2="203.6" stroke="#47c79f" stroke-width="0.5"/>
<polygon points="173.8,202.7 178.4,200.2 181.3,204.3 176.9,207.0" fill="#0f6a4e" stroke="none" stroke-width="0.5"/>
<polygon points="182.5,223.2 189.7,199.6 213.2,206.2 206.7,228.4" fill="#27b48c" stroke="#15866a" stroke-width="0.5"/>
<polygon points="185.3,221.6 191.2,202.3 210.5,207.7 205.1,225.9" fill="#1f9e7a" stroke="#5fd6b0" stroke-width="0.5"/>
<polygon points="190.3,218.8 193.9,207.0 205.6,210.3 202.4,221.4" fill="#16835f" stroke="none" stroke-width="0.5"/>
<line x1="185.3" y1="221.6" x2="198.0" y2="214.3" stroke="#47c79f" stroke-width="0.5"/>
<line x1="191.2" y1="202.3" x2="198.0" y2="214.3" stroke="#47c79f" stroke-width="0.5"/>
<line x1="210.5" y1="207.7" x2="198.0" y2="214.3" stroke="#47c79f" stroke-width="0.5"/>
<line x1="205.1" y1="225.9" x2="198.0" y2="214.3" stroke="#47c79f" stroke-width="0.5"/>
<polygon points="194.6,216.3 196.2,211.1 201.4,212.6 199.9,217.4" fill="#0f6a4e" stroke="none" stroke-width="0.5"/>
<g filter="url(#rough2)">
<circle cx="173.5" cy="281" r="14.9" fill="#8a8a18"/>
<circle cx="179.9" cy="291.8" r="5.5" fill="rgb(201,201,55)" opacity="0.85"/>
<circle cx="176.4" cy="294.2" r="6.0" fill="rgb(199,199,54)" opacity="0.85"/>
<circle cx="166.1" cy="280.8" r="3.5" fill="rgb(161,161,35)" opacity="0.85"/>
<circle cx="170.1" cy="279.0" r="6.0" fill="rgb(161,161,37)" opacity="0.85"/>
<circle cx="173.8" cy="284.1" r="6.6" fill="rgb(185,185,44)" opacity="0.85"/>
<circle cx="181.9" cy="272.6" r="3.6" fill="rgb(172,172,42)" opacity="0.85"/>
<circle cx="168.3" cy="281.1" r="6.5" fill="rgb(164,164,37)" opacity="0.85"/>
<circle cx="181.2" cy="292.3" r="3.9" fill="rgb(212,212,57)" opacity="0.85"/>
<circle cx="162.7" cy="284.3" r="4.6" fill="rgb(163,163,35)" opacity="0.85"/>
<circle cx="174.6" cy="283.7" r="6.2" fill="rgb(175,175,45)" opacity="0.85"/>
<circle cx="174.8" cy="274.2" r="6.6" fill="rgb(175,175,37)" opacity="0.85"/>
<circle cx="173.9" cy="267.8" r="5.3" fill="rgb(161,161,31)" opacity="0.85"/>
<circle cx="181.0" cy="288.3" r="6.1" fill="rgb(191,191,53)" opacity="0.85"/>
<circle cx="186.1" cy="274.4" r="4.8" fill="rgb(182,182,47)" opacity="0.85"/>
<circle cx="164.5" cy="283.8" r="6.6" fill="rgb(163,163,36)" opacity="0.85"/>
<circle cx="178.1" cy="281.8" r="5.8" fill="rgb(193,193,46)" opacity="0.85"/>
<circle cx="162.9" cy="281.3" r="5.2" fill="rgb(164,164,33)" opacity="0.85"/>
<circle cx="175.6" cy="292.6" r="5.3" fill="rgb(198,198,52)" opacity="0.85"/>
<circle cx="176.1" cy="286.7" r="4.6" fill="rgb(196,196,48)" opacity="0.85"/>
<circle cx="166.8" cy="290.6" r="4.5" fill="rgb(171,171,44)" opacity="0.85"/>
<circle cx="186.0" cy="286.5" r="5.9" fill="rgb(200,200,56)" opacity="0.85"/>
<circle cx="168.4" cy="269.6" r="6.3" fill="rgb(160,160,28)" opacity="0.85"/>
<circle cx="160.9" cy="289.3" r="6.5" fill="rgb(170,170,38)" opacity="0.85"/>
<circle cx="181.4" cy="273.9" r="4.7" fill="rgb(172,172,42)" opacity="0.85"/>
<circle cx="177.8" cy="276.7" r="3.7" fill="rgb(182,182,42)" opacity="0.85"/>
<circle cx="175.1" cy="270.6" r="6.1" fill="rgb(153,153,35)" opacity="0.85"/>
<circle cx="173.1" cy="289.1" r="4.8" fill="rgb(180,180,48)" opacity="0.85"/>
<circle cx="181.5" cy="284.7" r="6.3" fill="rgb(203,203,51)" opacity="0.85"/>
<circle cx="173.2" cy="270.5" r="4.3" fill="rgb(168,168,33)" opacity="0.85"/>
<circle cx="197" cy="262.8" r="8.3" fill="#8a8a18"/>
<circle cx="189.8" cy="261.6" r="2.0" fill="rgb(146,146,29)" opacity="0.85"/>
<circle cx="201.0" cy="256.4" r="3.5" fill="rgb(171,171,38)" opacity="0.85"/>
<circle cx="191.2" cy="265.7" r="3.5" fill="rgb(163,163,37)" opacity="0.85"/>
<circle cx="192.6" cy="261.8" r="3.3" fill="rgb(151,151,34)" opacity="0.85"/>
<circle cx="193.7" cy="255.2" r="2.0" fill="rgb(148,148,26)" opacity="0.85"/>
<circle cx="192.2" cy="256.6" r="3.0" fill="rgb(140,140,26)" opacity="0.85"/>
<circle cx="190.1" cy="267.4" r="3.6" fill="rgb(161,161,38)" opacity="0.85"/>
<circle cx="199.2" cy="264.3" r="2.0" fill="rgb(184,184,47)" opacity="0.85"/>
<circle cx="202.0" cy="268.9" r="3.1" fill="rgb(198,198,58)" opacity="0.85"/>
<circle cx="192.3" cy="261.6" r="2.8" fill="rgb(153,153,33)" opacity="0.85"/>
<circle cx="198.8" cy="265.9" r="2.6" fill="rgb(193,193,49)" opacity="0.85"/>
<circle cx="195.3" cy="262.2" r="3.2" fill="rgb(176,176,38)" opacity="0.85"/>
<circle cx="198.1" cy="255.3" r="2.0" fill="rgb(158,158,33)" opacity="0.85"/>
<circle cx="203.8" cy="265.7" r="2.3" fill="rgb(206,206,56)" opacity="0.85"/>
<circle cx="196.9" cy="269.9" r="2.5" fill="rgb(184,184,51)" opacity="0.85"/>
<circle cx="193.4" cy="265.8" r="3.5" fill="rgb(169,169,40)" opacity="0.85"/>
<circle cx="190.7" cy="262.7" r="3.6" fill="rgb(149,149,32)" opacity="0.85"/>
<circle cx="192.1" cy="259.2" r="3.3" fill="rgb(161,161,29)" opacity="0.85"/>
<circle cx="194.4" cy="269.4" r="2.9" fill="rgb(186,186,47)" opacity="0.85"/>
<circle cx="215.5" cy="272.5" r="9.3" fill="#8a8a18"/>
<circle cx="223.4" cy="275.9" r="4.1" fill="rgb(200,200,56)" opacity="0.85"/>
<circle cx="211.6" cy="281.1" r="2.4" fill="rgb(177,177,47)" opacity="0.85"/>
<circle cx="223.2" cy="276.3" r="3.7" fill="rgb(202,202,56)" opacity="0.85"/>
<circle cx="214.5" cy="271.6" r="3.5" fill="rgb(169,169,39)" opacity="0.85"/>
<circle cx="209.6" cy="271.9" r="3.0" fill="rgb(153,153,33)" opacity="0.85"/>
<circle cx="221.5" cy="274.4" r="2.7" fill="rgb(198,198,52)" opacity="0.85"/>
<circle cx="218.8" cy="265.1" r="3.1" fill="rgb(161,161,37)" opacity="0.85"/>
<circle cx="210.5" cy="276.9" r="3.5" fill="rgb(182,182,40)" opacity="0.85"/>
<circle cx="221.2" cy="275.9" r="3.2" fill="rgb(201,201,53)" opacity="0.85"/>
<circle cx="222.0" cy="267.2" r="3.4" fill="rgb(184,184,43)" opacity="0.85"/>
<circle cx="211.2" cy="264.8" r="3.6" fill="rgb(150,150,26)" opacity="0.85"/>
<circle cx="215.8" cy="281.6" r="3.0" fill="rgb(199,199,53)" opacity="0.85"/>
<circle cx="219.7" cy="264.2" r="4.2" fill="rgb(156,156,37)" opacity="0.85"/>
<circle cx="213.5" cy="277.4" r="3.0" fill="rgb(174,174,45)" opacity="0.85"/>
<circle cx="213.0" cy="271.6" r="2.8" fill="rgb(176,176,37)" opacity="0.85"/>
<circle cx="215.2" cy="266.0" r="2.4" fill="rgb(168,168,33)" opacity="0.85"/>
<circle cx="214.3" cy="268.4" r="2.9" fill="rgb(165,165,35)" opacity="0.85"/>
<circle cx="213.5" cy="268.1" r="4.1" fill="rgb(156,156,33)" opacity="0.85"/>
<circle cx="215.3" cy="281.3" r="2.5" fill="rgb(199,199,52)" opacity="0.85"/>
<circle cx="217.8" cy="279.5" r="2.7" fill="rgb(195,195,53)" opacity="0.85"/>
<circle cx="221.6" cy="270.1" r="3.1" fill="rgb(187,187,47)" opacity="0.85"/>
<circle cx="205" cy="294" r="11.9" fill="#8a8a18"/>
<circle cx="204.0" cy="299.0" r="3.8" fill="rgb(178,178,45)" opacity="0.85"/>
<circle cx="209.5" cy="305.0" r="2.9" fill="rgb(210,210,57)" opacity="0.85"/>
<circle cx="214.3" cy="289.9" r="2.8" fill="rgb(186,186,47)" opacity="0.85"/>
<circle cx="214.2" cy="296.3" r="4.6" fill="rgb(192,192,53)" opacity="0.85"/>
<circle cx="213.9" cy="294.4" r="3.0" fill="rgb(189,189,51)" opacity="0.85"/>
<circle cx="194.0" cy="297.3" r="3.7" fill="rgb(152,152,33)" opacity="0.85"/>
<circle cx="207.8" cy="283.4" r="4.1" fill="rgb(152,152,34)" opacity="0.85"/>
<circle cx="207.9" cy="301.1" r="4.2" fill="rgb(188,188,52)" opacity="0.85"/>
<circle cx="208.6" cy="283.5" r="5.1" fill="rgb(170,170,35)" opacity="0.85"/>
<circle cx="214.2" cy="295.0" r="3.0" fill="rgb(203,203,52)" opacity="0.85"/>
<circle cx="204.8" cy="283.4" r="3.3" fill="rgb(146,146,31)" opacity="0.85"/>
<circle cx="208.8" cy="285.3" r="4.4" fill="rgb(166,166,37)" opacity="0.85"/>
<circle cx="207.2" cy="287.3" r="3.5" fill="rgb(164,164,37)" opacity="0.85"/>
<circle cx="202.1" cy="303.2" r="5.0" fill="rgb(178,178,48)" opacity="0.85"/>
<circle cx="212.9" cy="297.6" r="4.5" fill="rgb(191,191,53)" opacity="0.85"/>
<circle cx="204.6" cy="296.9" r="2.9" fill="rgb(180,180,44)" opacity="0.85"/>
<circle cx="200.9" cy="285.1" r="3.2" fill="rgb(143,143,28)" opacity="0.85"/>
<circle cx="213.1" cy="290.3" r="3.8" fill="rgb(188,188,46)" opacity="0.85"/>
<circle cx="203.8" cy="285.3" r="3.0" fill="rgb(163,163,32)" opacity="0.85"/>
<circle cx="205.6" cy="296.4" r="3.7" fill="rgb(181,181,44)" opacity="0.85"/>
<circle cx="201.5" cy="290.4" r="4.6" fill="rgb(161,161,34)" opacity="0.85"/>
<circle cx="210.9" cy="303.5" r="4.8" fill="rgb(212,212,57)" opacity="0.85"/>
<circle cx="202.6" cy="288.9" r="4.8" fill="rgb(169,169,34)" opacity="0.85"/>
<circle cx="193.7" cy="291.6" r="5.2" fill="rgb(146,146,27)" opacity="0.85"/>
</g>
<text x="192.0" y="169.1" font-size="6.8" text-anchor="middle" dominant-baseline="central" fill="#e3262b" font-weight="bold" stroke="#e3262b" stroke-width="0.35">layered cuboid</text>
<text x="192.8" y="239.1" font-size="6.8" text-anchor="middle" dominant-baseline="central" fill="#e3262b" font-weight="bold" stroke="#e3262b" stroke-width="0.35">multilayered cuboid</text>
<text x="194.0" y="316.6" font-size="6.8" text-anchor="middle" dominant-baseline="central" fill="#e3262b" font-weight="bold" stroke="#e3262b" stroke-width="0.35">large agglomerates</text>
<path d="M237,121.4 L247,121.4 L247,308 L250.8,308 L242,320 L232.8,308 L237,308 Z" fill="url(#barG)"/>
<text x="242.0" y="146.5" font-size="7" text-anchor="middle" dominant-baseline="central" fill="#111" font-weight="bold" transform="rotate(90 242 146.5)">YFeO<tspan font-size="5" dy="1.2">3</tspan></text>
<text x="242.0" y="210.5" font-size="7" text-anchor="middle" dominant-baseline="central" fill="#111" font-weight="bold" transform="rotate(90 242 210.5)">0.025 ≤ x ≤ 0.075</text>
<text x="242.0" y="276.0" font-size="7" text-anchor="middle" dominant-baseline="central" fill="#111" font-weight="bold" transform="rotate(90 242 276)">x = 0.1</text>
<rect x="318.2" y="10.6" width="3.4" height="114.4" fill="#a9d2f2" stroke="none" stroke-width="0.8"/>
<rect x="322.2" y="10.6" width="3.8" height="114.4" fill="#c8b6ec" stroke="none" stroke-width="0.8"/>
<rect x="347.7" y="10.6" width="7.1" height="114.4" fill="#f7c190" stroke="none" stroke-width="0.8"/>
<rect x="419.6" y="10.6" width="7.6" height="114.4" fill="#8eadca" stroke="none" stroke-width="0.8"/>
<rect x="308.2" y="10.2" width="147.8" height="115.2" fill="none" stroke="#222" stroke-width="0.9"/>
<line x1="308.2" y1="125.4" x2="310.2" y2="125.4" stroke="#222" stroke-width="0.6"/>
<line x1="308.2" y1="119.0" x2="309.4" y2="119.0" stroke="#222" stroke-width="0.5"/>
<text x="305.6" y="125.4" font-size="7.5" text-anchor="end" dominant-baseline="central" fill="#222">0.0</text>
<line x1="308.2" y1="112.6" x2="310.2" y2="112.6" stroke="#222" stroke-width="0.6"/>
<line x1="308.2" y1="106.2" x2="309.4" y2="106.2" stroke="#222" stroke-width="0.5"/>
<text x="305.6" y="112.6" font-size="7.5" text-anchor="end" dominant-baseline="central" fill="#222">0.2</text>
<line x1="308.2" y1="99.8" x2="310.2" y2="99.8" stroke="#222" stroke-width="0.6"/>
<line x1="308.2" y1="93.4" x2="309.4" y2="93.4" stroke="#222" stroke-width="0.5"/>
<text x="305.6" y="99.8" font-size="7.5" text-anchor="end" dominant-baseline="central" fill="#222">0.4</text>
<line x1="308.2" y1="87.0" x2="310.2" y2="87.0" stroke="#222" stroke-width="0.6"/>
<line x1="308.2" y1="80.6" x2="309.4" y2="80.6" stroke="#222" stroke-width="0.5"/>
<text x="305.6" y="87.0" font-size="7.5" text-anchor="end" dominant-baseline="central" fill="#222">0.6</text>
<line x1="308.2" y1="74.2" x2="310.2" y2="74.2" stroke="#222" stroke-width="0.6"/>
<line x1="308.2" y1="67.8" x2="309.4" y2="67.8" stroke="#222" stroke-width="0.5"/>
<text x="305.6" y="74.2" font-size="7.5" text-anchor="end" dominant-baseline="central" fill="#222">0.8</text>
<line x1="308.2" y1="61.4" x2="310.2" y2="61.4" stroke="#222" stroke-width="0.6"/>
<line x1="308.2" y1="55.0" x2="309.4" y2="55.0" stroke="#222" stroke-width="0.5"/>
<text x="305.6" y="61.4" font-size="7.5" text-anchor="end" dominant-baseline="central" fill="#222">1.0</text>
<line x1="308.2" y1="48.6" x2="310.2" y2="48.6" stroke="#222" stroke-width="0.6"/>
<line x1="308.2" y1="42.2" x2="309.4" y2="42.2" stroke="#222" stroke-width="0.5"/>
<text x="305.6" y="48.6" font-size="7.5" text-anchor="end" dominant-baseline="central" fill="#222">1.2</text>
<line x1="308.2" y1="35.8" x2="310.2" y2="35.8" stroke="#222" stroke-width="0.6"/>
<line x1="308.2" y1="29.4" x2="309.4" y2="29.4" stroke="#222" stroke-width="0.5"/>
<text x="305.6" y="35.8" font-size="7.5" text-anchor="end" dominant-baseline="central" fill="#222">1.4</text>
<line x1="308.2" y1="23.0" x2="310.2" y2="23.0" stroke="#222" stroke-width="0.6"/>
<line x1="308.2" y1="16.6" x2="309.4" y2="16.6" stroke="#222" stroke-width="0.5"/>
<text x="305.6" y="23.0" font-size="7.5" text-anchor="end" dominant-baseline="central" fill="#222">1.6</text>
<line x1="308.2" y1="10.2" x2="310.2" y2="10.2" stroke="#222" stroke-width="0.6"/>
<text x="305.6" y="10.2" font-size="7.5" text-anchor="end" dominant-baseline="central" fill="#222">1.8</text>
<line x1="326.0" y1="125.4" x2="326.0" y2="123.4" stroke="#222" stroke-width="0.6"/>
<line x1="316.2" y1="125.4" x2="316.2" y2="124.2" stroke="#222" stroke-width="0.5"/>
<text x="326.0" y="131.3" font-size="6.8" text-anchor="middle" dominant-baseline="central" fill="#222">600</text>
<line x1="345.6" y1="125.4" x2="345.6" y2="123.4" stroke="#222" stroke-width="0.6"/>
<line x1="335.8" y1="125.4" x2="335.8" y2="124.2" stroke="#222" stroke-width="0.5"/>
<text x="345.6" y="131.3" font-size="6.8" text-anchor="middle" dominant-baseline="central" fill="#222">1200</text>
<line x1="365.2" y1="125.4" x2="365.2" y2="123.4" stroke="#222" stroke-width="0.6"/>
<line x1="355.4" y1="125.4" x2="355.4" y2="124.2" stroke="#222" stroke-width="0.5"/>
<text x="365.2" y="131.3" font-size="6.8" text-anchor="middle" dominant-baseline="central" fill="#222">1800</text>
<line x1="384.8" y1="125.4" x2="384.8" y2="123.4" stroke="#222" stroke-width="0.6"/>
<line x1="375.0" y1="125.4" x2="375.0" y2="124.2" stroke="#222" stroke-width="0.5"/>
<text x="384.8" y="131.3" font-size="6.8" text-anchor="middle" dominant-baseline="central" fill="#222">2400</text>
<line x1="404.4" y1="125.4" x2="404.4" y2="123.4" stroke="#222" stroke-width="0.6"/>
<line x1="394.6" y1="125.4" x2="394.6" y2="124.2" stroke="#222" stroke-width="0.5"/>
<text x="404.4" y="131.3" font-size="6.8" text-anchor="middle" dominant-baseline="central" fill="#222">3000</text>
<line x1="424.0" y1="125.4" x2="424.0" y2="123.4" stroke="#222" stroke-width="0.6"/>
<line x1="414.2" y1="125.4" x2="414.2" y2="124.2" stroke="#222" stroke-width="0.5"/>
<text x="424.0" y="131.3" font-size="6.8" text-anchor="middle" dominant-baseline="central" fill="#222">3600</text>
<line x1="443.6" y1="125.4" x2="443.6" y2="123.4" stroke="#222" stroke-width="0.6"/>
<line x1="433.8" y1="125.4" x2="433.8" y2="124.2" stroke="#222" stroke-width="0.5"/>
<text x="443.6" y="131.3" font-size="6.8" text-anchor="middle" dominant-baseline="central" fill="#222">4200</text>
<text x="381.0" y="140.8" font-size="7.2" text-anchor="middle" dominant-baseline="central" fill="#222">Wavenumber/cm<tspan font-size="4.6" dy="-2.5">-1</tspan></text>
<text x="290.6" y="61.8" font-size="7.4" text-anchor="middle" dominant-baseline="central" fill="#222" transform="rotate(-90 290.6 61.8)">Absorbance/a.u.</text>
<path d="M318.6,75.5 C318.9,77.0 319.7,84.2 320.3,84.4 C320.9,84.7 321.5,76.1 322.3,76.8 C323.1,77.4 324.1,91.6 325.0,88.3 C325.9,85.0 327.0,65.5 328.0,56.9 C329.0,48.4 330.1,41.2 331.0,37.1 C331.9,32.9 332.6,31.7 333.4,32.0 C334.2,32.2 334.9,35.4 335.8,38.4 C336.7,41.3 337.5,45.8 338.5,49.9 C339.5,53.9 340.8,59.9 342.0,62.7 C343.2,65.5 344.3,65.7 346.0,66.5 C347.7,67.4 349.3,67.8 352.0,67.8 C354.7,67.8 358.2,67.5 362.0,66.5 C365.8,65.6 370.3,63.7 375.0,62.0 C379.7,60.3 385.0,57.5 390.0,56.3 C395.0,55.1 400.3,55.2 405.0,55.0 C409.7,54.8 415.1,54.5 418.0,55.0 C420.9,55.5 420.8,58.3 422.5,58.2 C424.2,58.1 425.1,55.9 428.0,54.4 C430.9,52.9 438.0,50.1 440.0,49.2" stroke="#1f6f86" stroke-width="0.85" fill="none" stroke-linejoin="round" stroke-linecap="round"/>
<path d="M318.6,80.6 C318.9,82.1 319.7,89.3 320.3,89.6 C320.9,89.8 321.5,81.2 322.3,81.9 C323.1,82.5 324.1,96.7 325.0,93.4 C325.9,90.1 327.0,70.6 328.0,62.0 C329.0,53.5 330.1,46.4 331.0,42.2 C331.9,38.0 332.6,36.9 333.4,37.1 C334.2,37.3 334.9,40.4 335.8,43.5 C336.7,46.6 337.5,51.4 338.5,55.6 C339.5,59.9 340.8,66.2 342.0,69.1 C343.2,72.0 344.3,72.1 346.0,72.9 C347.7,73.8 349.3,74.2 352.0,74.2 C354.7,74.2 358.2,73.9 362.0,72.9 C365.8,72.0 370.3,70.1 375.0,68.4 C379.7,66.7 385.0,63.9 390.0,62.7 C395.0,61.5 400.3,61.6 405.0,61.4 C409.7,61.2 415.1,60.9 418.0,61.4 C420.9,61.9 420.8,64.7 422.5,64.6 C424.2,64.5 425.1,62.1 428.0,60.8 C430.9,59.4 438.0,57.0 440.0,56.3" stroke="#1d8784" stroke-width="0.85" fill="none" stroke-linejoin="round" stroke-linecap="round"/>
<path d="M318.6,84.4 C318.9,85.9 319.7,93.2 320.3,93.4 C320.9,93.6 321.5,85.1 322.3,85.7 C323.1,86.4 324.1,100.6 325.0,97.2 C325.9,93.9 327.0,74.2 328.0,65.6 C329.0,56.9 330.1,49.6 331.0,45.4 C331.9,41.2 332.6,40.1 333.4,40.3 C334.2,40.5 334.9,43.7 335.8,46.7 C336.7,49.6 337.5,53.9 338.5,57.9 C339.5,61.8 340.8,67.6 342.0,70.4 C343.2,73.1 344.3,73.3 346.0,74.2 C347.7,75.1 349.3,75.5 352.0,75.5 C354.7,75.5 358.2,74.6 362.0,74.2 C365.8,73.8 370.3,73.6 375.0,72.9 C379.7,72.3 385.0,70.7 390.0,70.4 C395.0,70.0 400.3,70.9 405.0,71.0 C409.7,71.1 415.1,70.6 418.0,71.0 C420.9,71.4 420.8,73.8 422.5,73.6 C424.2,73.3 425.1,71.2 428.0,69.7 C430.9,68.2 438.0,65.5 440.0,64.6" stroke="#22967a" stroke-width="0.85" fill="none" stroke-linejoin="round" stroke-linecap="round"/>
<path d="M318.6,92.1 C318.9,93.6 319.7,100.9 320.3,101.1 C320.9,101.3 321.5,92.8 322.3,93.4 C323.1,94.0 324.1,107.9 325.0,104.9 C325.9,102.0 327.0,83.6 328.0,75.8 C329.0,68.0 330.1,62.0 331.0,58.2 C331.9,54.4 332.6,52.9 333.4,53.1 C334.2,53.3 334.9,56.5 335.8,59.5 C336.7,62.4 337.5,66.7 338.5,70.7 C339.5,74.6 340.8,80.4 342.0,83.2 C343.2,85.9 344.3,86.1 346.0,87.0 C347.7,87.9 349.3,88.3 352.0,88.3 C354.7,88.3 358.2,87.2 362.0,87.0 C365.8,86.8 370.3,87.2 375.0,87.0 C379.7,86.8 385.0,86.8 390.0,85.7 C395.0,84.7 400.3,81.5 405.0,80.6 C409.7,79.7 415.1,80.3 418.0,80.6 C420.9,80.9 420.8,82.8 422.5,82.5 C424.2,82.2 425.1,79.7 428.0,78.7 C430.9,77.6 438.0,76.5 440.0,76.1" stroke="#48ad62" stroke-width="0.85" fill="none" stroke-linejoin="round" stroke-linecap="round"/>
<path d="M318.6,97.2 C318.9,98.7 319.7,106.0 320.3,106.2 C320.9,106.4 321.5,97.9 322.3,98.5 C323.1,99.2 324.1,112.8 325.0,110.0 C325.9,107.3 327.0,89.3 328.0,81.9 C329.0,74.4 330.1,68.9 331.0,65.2 C331.9,61.6 332.6,59.9 333.4,60.1 C334.2,60.3 334.9,63.5 335.8,66.5 C336.7,69.5 337.5,74.0 338.5,78.0 C339.5,82.1 340.8,88.1 342.0,90.8 C343.2,93.6 344.3,93.8 346.0,94.7 C347.7,95.5 349.3,96.0 352.0,96.0 C354.7,96.0 358.2,94.9 362.0,94.7 C365.8,94.5 370.3,94.9 375.0,94.7 C379.7,94.5 385.0,94.5 390.0,93.4 C395.0,92.3 400.3,89.1 405.0,88.3 C409.7,87.4 415.1,88.0 418.0,88.3 C420.9,88.6 420.8,90.5 422.5,90.2 C424.2,89.9 425.1,87.1 428.0,86.4 C430.9,85.6 438.0,85.8 440.0,85.7" stroke="#aacb3e" stroke-width="0.85" fill="none" stroke-linejoin="round" stroke-linecap="round"/>
<line x1="320.0" y1="72.0" x2="320.0" y2="111.0" stroke="#e0302a" stroke-width="0.6" stroke-dasharray="2,1.3"/>
<polygon points="318.8,110.5 321.2,110.5 320,113" fill="#e0302a"/>
<line x1="324.4" y1="75.0" x2="324.4" y2="106.5" stroke="#e0302a" stroke-width="0.6" stroke-dasharray="2,1.3"/>
<polygon points="323.2,106.0 325.59999999999997,106.0 324.4,108.5" fill="#e0302a"/>
<line x1="351.3" y1="70.0" x2="351.3" y2="102.5" stroke="#e0302a" stroke-width="0.6" stroke-dasharray="2,1.3"/>
<polygon points="350.1,102.0 352.5,102.0 351.3,104.5" fill="#e0302a"/>
<line x1="423.3" y1="55.0" x2="423.3" y2="98.5" stroke="#e0302a" stroke-width="0.6" stroke-dasharray="2,1.3"/>
<polygon points="422.1,98.0 424.5,98.0 423.3,100.5" fill="#e0302a"/>
<rect x="307.2" y="114.6" width="13.5" height="4.8" fill="#fff" stroke="#888" stroke-width="0.3"/>
<text x="313.9" y="117.1" font-size="3.7" text-anchor="middle" dominant-baseline="central" fill="#222">442.65</text>
<rect x="324.2" y="109.4" width="13.5" height="4.8" fill="#fff" stroke="#888" stroke-width="0.3"/>
<text x="330.9" y="111.9" font-size="3.7" text-anchor="middle" dominant-baseline="central" fill="#222">572.81</text>
<rect x="344.5" y="104.6" width="14.5" height="4.8" fill="#fff" stroke="#888" stroke-width="0.3"/>
<text x="351.8" y="107.1" font-size="3.7" text-anchor="middle" dominant-baseline="central" fill="#222">1380.16</text>
<rect x="415.0" y="101.6" width="16.0" height="4.8" fill="#fff" stroke="#888" stroke-width="0.3"/>
<text x="423.0" y="104.1" font-size="3.7" text-anchor="middle" dominant-baseline="central" fill="#222">3544.32</text>
<text x="317.2" y="48.2" font-size="6.1" text-anchor="middle" dominant-baseline="central" fill="#222" transform="rotate(-90 317.2 48.2)">O-Fe-O bending</text>
<text x="325.3" y="33.7" font-size="6.1" text-anchor="middle" dominant-baseline="central" fill="#222" transform="rotate(-90 325.3 33.7)">Fe-O stretching</text>
<text x="355.2" y="42.2" font-size="6.1" text-anchor="middle" dominant-baseline="central" fill="#222" transform="rotate(-90 355.2 42.2)">NO<tspan font-size="4" dy="-2">3-</tspan><tspan dy="2"> stretching</tspan></text>
<text x="420.4" y="33.3" font-size="6.1" text-anchor="middle" dominant-baseline="central" fill="#222" transform="rotate(-90 420.4 33.3)">OH stretching</text>
<text x="338.7" y="20.6" font-size="13" text-anchor="middle" dominant-baseline="central" fill="#111" font-weight="bold">(h)</text>
<text x="429.5" y="46.5" font-size="6.3" text-anchor="start" dominant-baseline="central" fill="#222">x = 0.1</text>
<text x="429.5" y="54.3" font-size="6.3" text-anchor="start" dominant-baseline="central" fill="#222">x = 0.075</text>
<text x="429.5" y="61.7" font-size="6.3" text-anchor="start" dominant-baseline="central" fill="#222">x = 0.05</text>
<text x="429.5" y="73.0" font-size="6.3" text-anchor="start" dominant-baseline="central" fill="#222">x = 0.025</text>
<text x="433.5" y="83.2" font-size="6.3" text-anchor="start" dominant-baseline="central" fill="#222">YFeO<tspan font-size="4.2" dy="1.5">3</tspan></text>
<path d="M497.8,17.5 L497.8,10.4 L460.3,10.4 L460.3,134.2 L497.8,134.2 L497.8,120.5" stroke="#222" stroke-width="0.9" fill="none" stroke-linejoin="round"/>
<path d="M503.8,17.5 L503.8,10.4 L540.5,10.4 L540.5,134.2 L503.8,134.2 L503.8,120.5" stroke="#222" stroke-width="0.9" fill="none" stroke-linejoin="round"/>
<line x1="494.8" y1="15.0" x2="499.6" y2="20.0" stroke="#222" stroke-width="0.8"/>
<line x1="500.8" y1="15.0" x2="505.6" y2="20.0" stroke="#222" stroke-width="0.8"/>
<line x1="494.8" y1="118.0" x2="499.6" y2="123.0" stroke="#222" stroke-width="0.8"/>
<line x1="500.8" y1="118.0" x2="505.6" y2="123.0" stroke="#222" stroke-width="0.8"/>
<line x1="462.4" y1="134.2" x2="462.4" y2="132.4" stroke="#222" stroke-width="0.6"/>
<line x1="474.5" y1="134.2" x2="474.5" y2="132.4" stroke="#222" stroke-width="0.6"/>
<line x1="486.6" y1="134.2" x2="486.6" y2="132.4" stroke="#222" stroke-width="0.6"/>
<line x1="468.4" y1="134.2" x2="468.4" y2="133.1" stroke="#222" stroke-width="0.5"/>
<line x1="480.5" y1="134.2" x2="480.5" y2="133.1" stroke="#222" stroke-width="0.5"/>
<line x1="492.6" y1="134.2" x2="492.6" y2="133.1" stroke="#222" stroke-width="0.5"/>
<line x1="511.0" y1="134.2" x2="511.0" y2="132.4" stroke="#222" stroke-width="0.6"/>
<line x1="530.0" y1="134.2" x2="530.0" y2="132.4" stroke="#222" stroke-width="0.6"/>
<line x1="520.5" y1="134.2" x2="520.5" y2="133.1" stroke="#222" stroke-width="0.5"/>
<line x1="460.3" y1="30.0" x2="461.5" y2="30.0" stroke="#222" stroke-width="0.5"/>
<line x1="460.3" y1="50.0" x2="461.5" y2="50.0" stroke="#222" stroke-width="0.5"/>
<line x1="460.3" y1="70.0" x2="461.5" y2="70.0" stroke="#222" stroke-width="0.5"/>
<line x1="460.3" y1="90.0" x2="461.5" y2="90.0" stroke="#222" stroke-width="0.5"/>
<line x1="460.3" y1="110.0" x2="461.5" y2="110.0" stroke="#222" stroke-width="0.5"/>
<line x1="460.3" y1="130.0" x2="461.5" y2="130.0" stroke="#222" stroke-width="0.5"/>
<text x="462.4" y="139.6" font-size="6.8" text-anchor="middle" dominant-baseline="central" fill="#222">400</text>
<text x="475.2" y="139.6" font-size="6.8" text-anchor="middle" dominant-baseline="central" fill="#222">500</text>
<text x="488.2" y="139.6" font-size="6.8" text-anchor="middle" dominant-baseline="central" fill="#222">600</text>
<text x="511.5" y="139.6" font-size="6.8" text-anchor="middle" dominant-baseline="central" fill="#222">1600</text>
<text x="530.5" y="139.6" font-size="6.8" text-anchor="middle" dominant-baseline="central" fill="#222">3200</text>
<text x="499.0" y="148.6" font-size="7.3" text-anchor="middle" dominant-baseline="central" fill="#222">Wavenumber/cm<tspan font-size="4.8" dy="-2.5">-1</tspan></text>
<line x1="466.9" y1="22.0" x2="466.9" y2="133.2" stroke="#666" stroke-width="0.8" stroke-dasharray="2.6,1.8"/>
<line x1="484.4" y1="22.0" x2="484.4" y2="133.2" stroke="#666" stroke-width="0.8" stroke-dasharray="2.6,1.8"/>
<line x1="507.2" y1="24.0" x2="507.2" y2="133.2" stroke="#666" stroke-width="0.8" stroke-dasharray="2.6,1.8"/>
<line x1="535.2" y1="24.0" x2="535.2" y2="133.2" stroke="#666" stroke-width="0.8" stroke-dasharray="2.6,1.8"/>
<path d="M460.5,44.9 C461.0,45.0 462.4,45.0 463.5,45.5 C464.6,46.0 466.1,48.9 467.3,48.1 C468.6,47.4 469.8,43.2 471.0,41.0 C472.2,38.8 473.4,36.9 474.5,35.0 C475.6,33.1 476.8,29.7 477.8,29.5 C478.8,29.3 479.6,32.5 480.5,34.0 C481.4,35.5 482.6,37.5 483.3,38.5 C484.0,39.5 483.8,40.5 484.9,40.1 C486.0,39.7 488.0,37.6 490.0,36.0 C492.0,34.4 495.9,31.4 497.1,30.5" stroke="#2a8790" stroke-width="0.75" fill="none" stroke-linejoin="round" stroke-linecap="round"/>
<path d="M504.5,30.0 C504.7,32.2 505.2,39.8 505.7,43.3 C506.2,46.8 506.6,50.8 507.3,51.3 C508.0,51.8 509.1,47.9 510.0,46.0 C510.9,44.1 511.8,41.8 513.0,40.0 C514.2,38.2 515.6,37.1 517.0,35.3 C518.4,33.5 519.9,30.9 521.5,29.0 C523.1,27.1 525.0,25.0 526.6,24.0 C528.2,23.0 529.7,23.2 531.0,23.0 C532.3,22.8 533.6,23.2 534.6,22.5 C535.6,21.8 536.0,20.6 537.0,19.0 C538.0,17.4 539.8,13.8 540.3,12.8" stroke="#2a8790" stroke-width="0.75" fill="none" stroke-linejoin="round" stroke-linecap="round"/>
<path d="M460.5,57.7 C461.0,57.9 462.4,58.2 463.5,59.0 C464.6,59.8 466.1,63.0 467.3,62.5 C468.6,62.0 469.8,58.1 471.0,56.0 C472.2,53.9 473.4,51.9 474.5,50.0 C475.6,48.1 476.8,44.9 477.8,44.9 C478.8,44.9 479.6,48.4 480.5,50.0 C481.4,51.6 482.6,53.5 483.3,54.5 C484.0,55.5 483.8,56.7 484.9,56.1 C486.0,55.5 488.0,52.9 490.0,51.0 C492.0,49.1 495.9,45.9 497.1,44.9" stroke="#2c9690" stroke-width="0.75" fill="none" stroke-linejoin="round" stroke-linecap="round"/>
<path d="M504.5,38.0 C504.7,39.7 505.2,45.5 505.7,48.0 C506.2,50.5 506.6,52.7 507.3,52.9 C508.0,53.1 509.1,50.3 510.0,49.0 C510.9,47.7 511.8,46.2 513.0,45.0 C514.2,43.8 515.6,42.9 517.0,41.7 C518.4,40.5 519.9,39.1 521.5,38.0 C523.1,36.9 525.0,36.0 526.6,35.3 C528.2,34.6 529.7,34.5 531.0,34.0 C532.3,33.5 533.6,32.7 534.6,32.0 C535.6,31.3 536.0,30.8 537.0,30.0 C538.0,29.2 539.8,27.8 540.3,27.3" stroke="#2c9690" stroke-width="0.75" fill="none" stroke-linejoin="round" stroke-linecap="round"/>
<path d="M460.5,72.2 C461.0,72.5 462.4,72.9 463.5,74.0 C464.6,75.1 466.1,79.3 467.3,78.6 C468.6,77.9 469.8,72.6 471.0,70.0 C472.2,67.4 473.4,65.0 474.5,63.0 C475.6,61.0 476.8,57.5 477.8,57.7 C478.8,57.9 479.6,62.1 480.5,64.0 C481.4,65.9 482.6,67.9 483.3,69.0 C484.0,70.1 483.8,71.2 484.9,70.6 C486.0,70.0 488.0,67.4 490.0,65.5 C492.0,63.6 495.9,60.3 497.1,59.3" stroke="#34a58e" stroke-width="0.75" fill="none" stroke-linejoin="round" stroke-linecap="round"/>
<path d="M504.5,50.0 C504.7,51.7 505.2,57.6 505.7,60.0 C506.2,62.4 506.6,63.9 507.3,64.1 C508.0,64.3 509.1,62.1 510.0,61.0 C510.9,59.9 511.8,58.6 513.0,57.5 C514.2,56.4 515.6,55.6 517.0,54.5 C518.4,53.4 519.9,52.1 521.5,51.0 C523.1,49.9 525.0,49.2 526.6,48.1 C528.2,47.0 529.7,45.6 531.0,44.5 C532.3,43.4 533.6,42.5 534.6,41.7 C535.6,41.0 536.0,40.8 537.0,40.0 C538.0,39.2 539.8,37.4 540.3,36.9" stroke="#34a58e" stroke-width="0.75" fill="none" stroke-linejoin="round" stroke-linecap="round"/>
<path d="M460.5,85.0 C461.0,85.4 462.4,86.2 463.5,87.5 C464.6,88.8 466.1,93.6 467.3,93.0 C468.6,92.4 469.8,86.7 471.0,84.0 C472.2,81.3 473.4,79.0 474.5,77.0 C475.6,75.0 476.8,72.0 477.8,72.2 C478.8,72.5 479.6,76.6 480.5,78.5 C481.4,80.4 482.6,82.4 483.3,83.5 C484.0,84.6 483.8,85.3 484.9,85.0 C486.0,84.7 488.0,82.8 490.0,81.5 C492.0,80.2 495.9,77.8 497.1,77.0" stroke="#5bb17e" stroke-width="0.75" fill="none" stroke-linejoin="round" stroke-linecap="round"/>
<path d="M504.5,60.0 C504.7,61.4 505.2,66.5 505.7,68.5 C506.2,70.5 506.6,71.9 507.3,72.2 C508.0,72.5 509.1,71.0 510.0,70.5 C510.9,70.0 511.8,69.5 513.0,69.0 C514.2,68.5 515.6,68.0 517.0,67.3 C518.4,66.6 519.9,65.8 521.5,65.0 C523.1,64.2 525.0,63.1 526.6,62.5 C528.2,61.9 529.7,61.8 531.0,61.5 C532.3,61.2 533.6,61.4 534.6,61.0 C535.6,60.6 536.0,59.8 537.0,59.0 C538.0,58.2 539.8,56.6 540.3,56.1" stroke="#5bb17e" stroke-width="0.75" fill="none" stroke-linejoin="round" stroke-linecap="round"/>
<path d="M460.5,97.8 C461.0,98.2 462.4,98.7 463.5,100.0 C464.6,101.3 466.1,106.3 467.3,105.8 C468.6,105.3 469.8,99.8 471.0,97.0 C472.2,94.2 473.4,91.3 474.5,89.0 C475.6,86.7 476.8,83.2 477.8,83.4 C478.8,83.6 479.6,87.9 480.5,90.0 C481.4,92.1 482.6,94.7 483.3,96.0 C484.0,97.3 483.8,98.3 484.9,97.8 C486.0,97.3 488.0,94.9 490.0,93.0 C492.0,91.1 495.9,87.7 497.1,86.6" stroke="#8fc466" stroke-width="0.75" fill="none" stroke-linejoin="round" stroke-linecap="round"/>
<path d="M504.5,78.0 C504.7,79.8 505.1,86.5 505.7,89.0 C506.3,91.5 507.1,92.2 508.0,93.0 C508.9,93.8 510.0,93.6 511.0,93.5 C512.0,93.4 513.0,92.8 514.0,92.5 C515.0,92.2 515.8,92.0 517.0,91.5 C518.2,91.0 519.9,90.3 521.5,89.5 C523.1,88.7 525.0,87.8 526.6,86.6 C528.2,85.3 529.7,83.5 531.0,82.0 C532.3,80.5 533.6,78.8 534.6,77.5 C535.6,76.2 536.0,75.4 537.0,74.0 C538.0,72.6 539.8,69.8 540.3,69.0" stroke="#8fc466" stroke-width="0.75" fill="none" stroke-linejoin="round" stroke-linecap="round"/>
<path d="M460.5,117.0 C461.0,117.3 462.4,117.9 463.5,119.0 C464.6,120.1 466.1,124.5 467.3,123.5 C468.6,122.5 469.8,116.4 471.0,113.0 C472.2,109.6 473.4,105.8 474.5,103.0 C475.6,100.2 476.8,96.2 477.8,96.2 C478.8,96.2 479.6,100.7 480.5,103.0 C481.4,105.3 482.6,108.5 483.3,110.0 C484.0,111.5 483.8,112.5 484.9,112.2 C486.0,111.9 488.0,109.6 490.0,108.0 C492.0,106.4 495.9,103.5 497.1,102.6" stroke="#c2d852" stroke-width="0.75" fill="none" stroke-linejoin="round" stroke-linecap="round"/>
<path d="M504.5,96.0 C504.7,97.7 505.1,103.6 505.7,106.0 C506.3,108.4 507.1,109.8 508.0,110.6 C508.9,111.4 510.0,110.9 511.0,111.0 C512.0,111.1 513.0,111.1 514.0,111.0 C515.0,110.9 515.8,111.0 517.0,110.6 C518.2,110.2 519.9,109.3 521.5,108.5 C523.1,107.7 525.0,106.9 526.6,105.8 C528.2,104.7 529.4,103.3 531.0,102.0 C532.6,100.7 534.7,99.6 536.2,97.8 C537.8,96.0 539.6,92.5 540.3,91.4" stroke="#c2d852" stroke-width="0.75" fill="none" stroke-linejoin="round" stroke-linecap="round"/>
<rect x="466.5" y="2.5" width="24.5" height="10.0" fill="#fff" stroke="none" stroke-width="0.8"/>
<text x="478.8" y="7.9" font-size="7.9" text-anchor="middle" dominant-baseline="central" fill="#e0302a">Small</text>
<text x="476.9" y="18.3" font-size="7.6" text-anchor="middle" dominant-baseline="central" fill="#e0302a">shift</text>
<line x1="463.6" y1="25.6" x2="491.0" y2="25.6" stroke="#111" stroke-width="1.2"/>
<polygon points="490,23.2 495.5,25.6 490,28" fill="#111"/>
<text x="516.0" y="18.6" font-size="13" text-anchor="middle" dominant-baseline="central" fill="#111" font-weight="bold">(i)</text>
<defs><clipPath id="clipj"><rect x="280.7" y="147.7" width="143.8" height="79.60000000000002"/></clipPath></defs>
<line x1="280.7" y1="187.4" x2="424.5" y2="187.4" stroke="#333" stroke-width="0.8"/>
<line x1="353.2" y1="147.7" x2="353.2" y2="227.3" stroke="#333" stroke-width="0.8"/>
<g clip-path="url(#clipj)">
<path d="M428.2,160.9 C426.5,161.0 425.1,160.5 418.1,161.8 C411.1,163.1 394.8,166.9 386.4,168.7 C378.0,170.4 373.2,171.2 367.6,172.3 C362.1,173.3 357.2,173.5 353.2,174.9 C349.2,176.4 346.7,178.8 343.8,180.8 C340.9,182.9 339.0,185.1 335.9,187.4 C332.8,189.7 329.1,191.8 325.1,194.4 C321.1,197.0 316.7,200.5 311.8,203.0 C306.9,205.5 301.1,207.4 295.5,209.2 C289.9,211.1 281.1,213.4 278.2,214.2" stroke="#111" stroke-width="0.9" fill="none" stroke-linejoin="round" stroke-linecap="round"/>
<path d="M278.2,214.5 C281.1,213.8 287.8,211.6 295.5,210.0 C303.2,208.5 316.7,206.6 324.3,205.3 C332.0,204.1 336.9,203.4 341.7,202.7 C346.5,202.0 350.2,202.2 353.2,201.3 C356.2,200.4 356.8,199.3 359.7,197.2 C362.6,195.2 367.4,191.2 370.5,189.0 C373.6,186.7 374.9,185.9 378.4,183.7 C382.0,181.4 387.3,177.8 391.7,175.4 C396.2,173.0 400.7,171.4 405.1,169.5 C409.5,167.6 414.3,165.4 418.1,164.0 C422.0,162.6 426.5,161.4 428.2,160.9" stroke="#111" stroke-width="0.9" fill="none" stroke-linejoin="round" stroke-linecap="round"/>
<path d="M428.2,160.9 C425.3,161.3 418.6,162.1 410.9,163.2 C403.2,164.4 389.7,166.5 382.1,167.9 C374.4,169.3 369.5,170.6 364.7,171.8 C359.9,173.0 355.8,173.6 353.2,174.9 C350.6,176.2 350.4,177.5 348.9,179.6 C347.3,181.7 345.5,184.8 343.8,187.4 C342.1,190.0 341.1,192.7 338.8,195.2 C336.5,197.7 334.9,200.1 330.1,202.2 C325.3,204.3 318.6,205.5 309.9,207.7 C301.3,209.8 283.5,213.9 278.2,215.2" stroke="#f2a23a" stroke-width="0.9" fill="none" stroke-linejoin="round" stroke-linecap="round"/>
<path d="M278.2,215.5 C283.5,214.3 300.3,210.5 309.9,208.5 C319.5,206.4 329.2,204.3 335.9,203.0 C342.6,201.7 347.4,201.2 350.3,200.7 C353.2,200.1 351.8,201.3 353.2,199.9 C354.6,198.4 357.0,194.9 359.0,192.1 C360.9,189.2 362.6,186.1 364.7,182.7 C366.9,179.3 367.9,174.4 372.0,171.8 C376.0,169.2 382.8,168.6 389.3,167.1 C395.8,165.7 404.4,164.3 410.9,163.2 C417.4,162.2 425.3,161.3 428.2,160.9" stroke="#f2a23a" stroke-width="0.9" fill="none" stroke-linejoin="round" stroke-linecap="round"/>
<path d="M428.2,157.0 C425.3,157.6 418.6,159.3 410.9,160.9 C403.2,162.4 389.3,164.5 382.1,166.3 C374.8,168.2 372.4,170.3 367.6,171.8 C362.8,173.3 356.6,173.7 353.2,175.2 C349.8,176.8 349.2,179.1 347.4,181.2 C345.6,183.2 344.3,185.2 342.4,187.4 C340.5,189.6 338.9,192.0 335.9,194.4 C332.9,196.9 328.7,200.1 324.3,202.2 C320.0,204.3 317.6,204.8 309.9,206.9 C302.2,209.0 283.5,213.4 278.2,214.7" stroke="#e53935" stroke-width="0.9" fill="none" stroke-linejoin="round" stroke-linecap="round"/>
<path d="M278.2,215.0 C283.5,213.8 301.0,209.6 309.9,207.7 C318.8,205.8 325.6,204.7 331.6,203.8 C337.6,202.9 342.4,202.6 346.0,202.2 C349.6,201.8 351.3,202.2 353.2,201.3 C355.1,200.4 356.0,198.3 357.5,196.8 C359.1,195.2 360.3,195.3 362.4,191.8 C364.6,188.2 367.0,179.2 370.5,175.4 C374.0,171.5 378.0,170.7 383.5,168.7 C389.0,166.7 396.2,165.1 403.7,163.2 C411.1,161.3 424.1,158.4 428.2,157.4" stroke="#e53935" stroke-width="0.9" fill="none" stroke-linejoin="round" stroke-linecap="round"/>
<path d="M428.2,156.2 C425.3,156.7 418.6,157.9 410.9,159.3 C403.2,160.8 389.7,163.1 382.1,164.8 C374.4,166.5 369.5,168.1 364.7,169.5 C359.9,170.8 355.8,171.4 353.2,173.0 C350.6,174.7 350.3,177.2 348.9,179.6 C347.4,182.0 346.0,184.9 344.5,187.4 C343.1,189.9 342.4,192.1 340.2,194.4 C338.1,196.8 336.6,199.4 331.6,201.4 C326.5,203.5 318.8,204.7 309.9,206.9 C301.0,209.1 283.5,213.4 278.2,214.7" stroke="#5bbcd6" stroke-width="0.9" fill="none" stroke-linejoin="round" stroke-linecap="round"/>
<path d="M278.2,215.0 C283.5,213.8 300.3,209.7 309.9,207.7 C319.5,205.7 329.4,204.2 335.9,203.0 C342.4,201.8 346.0,201.2 348.9,200.7 C351.8,200.1 351.8,200.9 353.2,199.9 C354.6,198.8 356.1,196.5 357.5,194.4 C359.0,192.3 360.4,190.1 361.9,187.4 C363.3,184.7 364.0,180.9 366.2,178.0 C368.3,175.2 371.0,172.3 374.8,170.2 C378.7,168.2 383.3,167.2 389.3,165.6 C395.3,163.9 404.4,161.6 410.9,160.1 C417.4,158.6 425.3,157.1 428.2,156.5" stroke="#5bbcd6" stroke-width="0.9" fill="none" stroke-linejoin="round" stroke-linecap="round"/>
<path d="M428.2,151.5 C425.3,152.2 418.6,153.7 410.9,155.4 C403.2,157.1 390.5,159.9 382.1,161.7 C373.6,163.4 365.2,165.0 360.4,165.9 C355.6,166.8 354.9,165.9 353.2,167.1 C351.5,168.4 351.2,168.8 350.3,173.4 C349.4,177.9 348.9,190.2 347.9,194.4 C346.8,198.6 346.5,197.3 343.8,198.6 C341.1,199.9 337.2,200.7 331.6,202.2 C325.9,203.7 318.8,205.7 309.9,207.7 C301.0,209.6 283.5,212.9 278.2,213.9" stroke="#2e9e44" stroke-width="0.9" fill="none" stroke-linejoin="round" stroke-linecap="round"/>
<path d="M278.2,214.2 C283.5,213.1 299.8,209.7 309.9,207.7 C320.0,205.7 331.8,203.7 338.8,202.2 C345.7,200.7 349.4,200.4 351.8,198.6 C354.2,196.9 351.9,194.7 353.2,191.8 C354.5,188.8 357.8,184.2 359.7,180.8 C361.6,177.5 362.9,174.5 364.7,171.8 C366.5,169.1 367.6,166.2 370.5,164.5 C373.4,162.7 376.5,162.4 382.1,161.2 C387.6,159.9 396.0,158.5 403.7,157.0 C411.4,155.4 424.1,152.7 428.2,151.8" stroke="#2e9e44" stroke-width="0.9" fill="none" stroke-linejoin="round" stroke-linecap="round"/>
</g>
<rect x="280.7" y="147.7" width="143.8" height="79.6" fill="none" stroke="#222" stroke-width="0.9"/>
<line x1="280.7" y1="218.6" x2="282.7" y2="218.6" stroke="#222" stroke-width="0.6"/>
<text x="278.3" y="218.6" font-size="7.6" text-anchor="end" dominant-baseline="central" fill="#222">-2</text>
<line x1="280.7" y1="203.0" x2="282.7" y2="203.0" stroke="#222" stroke-width="0.6"/>
<text x="278.3" y="203.0" font-size="7.6" text-anchor="end" dominant-baseline="central" fill="#222">-1</text>
<line x1="280.7" y1="187.4" x2="282.7" y2="187.4" stroke="#222" stroke-width="0.6"/>
<text x="278.3" y="187.4" font-size="7.6" text-anchor="end" dominant-baseline="central" fill="#222">0</text>
<line x1="280.7" y1="171.8" x2="282.7" y2="171.8" stroke="#222" stroke-width="0.6"/>
<text x="278.3" y="171.8" font-size="7.6" text-anchor="end" dominant-baseline="central" fill="#222">1</text>
<line x1="280.7" y1="156.2" x2="282.7" y2="156.2" stroke="#222" stroke-width="0.6"/>
<text x="278.3" y="156.2" font-size="7.6" text-anchor="end" dominant-baseline="central" fill="#222">2</text>
<line x1="280.7" y1="210.8" x2="281.9" y2="210.8" stroke="#222" stroke-width="0.5"/>
<line x1="280.7" y1="195.2" x2="281.9" y2="195.2" stroke="#222" stroke-width="0.5"/>
<line x1="280.7" y1="179.6" x2="281.9" y2="179.6" stroke="#222" stroke-width="0.5"/>
<line x1="280.7" y1="164.0" x2="281.9" y2="164.0" stroke="#222" stroke-width="0.5"/>
<line x1="295.5" y1="227.3" x2="295.5" y2="225.3" stroke="#222" stroke-width="0.6"/>
<text x="295.5" y="234.2" font-size="8" text-anchor="middle" dominant-baseline="central" fill="#222">-40000</text>
<line x1="324.3" y1="227.3" x2="324.3" y2="225.3" stroke="#222" stroke-width="0.6"/>
<text x="324.3" y="234.2" font-size="8" text-anchor="middle" dominant-baseline="central" fill="#222">-20000</text>
<line x1="353.2" y1="227.3" x2="353.2" y2="225.3" stroke="#222" stroke-width="0.6"/>
<text x="353.2" y="234.2" font-size="8" text-anchor="middle" dominant-baseline="central" fill="#222">0</text>
<line x1="382.1" y1="227.3" x2="382.1" y2="225.3" stroke="#222" stroke-width="0.6"/>
<text x="382.1" y="234.2" font-size="8" text-anchor="middle" dominant-baseline="central" fill="#222">20000</text>
<line x1="410.9" y1="227.3" x2="410.9" y2="225.3" stroke="#222" stroke-width="0.6"/>
<text x="410.9" y="234.2" font-size="8" text-anchor="middle" dominant-baseline="central" fill="#222">40000</text>
<line x1="309.9" y1="227.3" x2="309.9" y2="226.1" stroke="#222" stroke-width="0.5"/>
<line x1="338.8" y1="227.3" x2="338.8" y2="226.1" stroke="#222" stroke-width="0.5"/>
<line x1="367.6" y1="227.3" x2="367.6" y2="226.1" stroke="#222" stroke-width="0.5"/>
<line x1="396.5" y1="227.3" x2="396.5" y2="226.1" stroke="#222" stroke-width="0.5"/>
<text x="353.0" y="245.4" font-size="8.3" text-anchor="middle" dominant-baseline="central" fill="#222">Magnetic Field/Oe</text>
<text x="264.3" y="183.8" font-size="7.7" text-anchor="middle" dominant-baseline="central" fill="#222" transform="rotate(-90 264.3 183.8)">Magnetization/emu/g</text>
<text x="287.5" y="158.0" font-size="13" text-anchor="start" dominant-baseline="central" fill="#111" font-weight="bold">(j)</text>
<line x1="387.6" y1="193.6" x2="398.4" y2="193.6" stroke="#111" stroke-width="1.1"/>
<text x="401.3" y="193.6" font-size="5.6" text-anchor="start" dominant-baseline="central" fill="#222">YFeO<tspan font-size="3.8" dy="1.3">3</tspan></text>
<line x1="387.6" y1="200.4" x2="398.4" y2="200.4" stroke="#e53935" stroke-width="1.1"/>
<text x="401.3" y="200.4" font-size="5.6" text-anchor="start" dominant-baseline="central" fill="#222"><tspan font-style="italic">x</tspan> = 0.025</text>
<line x1="387.6" y1="207.3" x2="398.4" y2="207.3" stroke="#5bbcd6" stroke-width="1.1"/>
<text x="401.3" y="207.3" font-size="5.6" text-anchor="start" dominant-baseline="central" fill="#222"><tspan font-style="italic">x</tspan> = 0.05</text>
<line x1="387.6" y1="214.1" x2="398.4" y2="214.1" stroke="#2e9e44" stroke-width="1.1"/>
<text x="401.3" y="214.1" font-size="5.6" text-anchor="start" dominant-baseline="central" fill="#222"><tspan font-style="italic">x</tspan> = 0.075</text>
<line x1="387.6" y1="221.0" x2="398.4" y2="221.0" stroke="#f2a23a" stroke-width="1.1"/>
<text x="401.3" y="221.0" font-size="5.6" text-anchor="start" dominant-baseline="central" fill="#222"><tspan font-style="italic">x</tspan> = 0.1</text>
<text x="433.0" y="156.4" font-size="13" text-anchor="start" dominant-baseline="central" fill="#111" font-weight="bold">(k)</text>
<circle cx="444.4" cy="180.3" r="4.6" fill="url(#feB)"/>
<circle cx="444.4" cy="193.4" r="5.1" fill="url(#yB)"/>
<text x="454.0" y="180.3" font-size="6.2" text-anchor="start" dominant-baseline="central" fill="#222" font-weight="bold">Fe</text>
<text x="455.3" y="193.6" font-size="6.2" text-anchor="start" dominant-baseline="central" fill="#222" font-weight="bold">Y</text>
<text x="429.8" y="216.3" font-size="6.2" text-anchor="start" dominant-baseline="central" fill="#111" font-weight="bold" stroke="#111" stroke-width="0.15">Spin up</text>
<text x="442.4" y="235.3" font-size="6.2" text-anchor="start" dominant-baseline="central" fill="#111" font-weight="bold" stroke="#111" stroke-width="0.15">Spin down</text>
<line x1="440.6" y1="237.5" x2="440.6" y2="225.5" stroke="#e8556a" stroke-width="0.9"/>
<polygon points="439,226 442.2,226 440.6,222.2" fill="#e8556a"/>
<line x1="456.5" y1="212.5" x2="456.5" y2="227.5" stroke="#e89030" stroke-width="0.9"/>
<polygon points="454.9,227 458.1,227 456.5,230.8" fill="#e89030"/>
<path d="M481.0,161.0 L527.0,159.0 L541.0,168.0 L541.0,246.0 L495.0,248.0 L481.0,239.0 L481.0,161.0" stroke="#aaa" stroke-width="0.4" fill="none" stroke-linejoin="round" stroke-dasharray="1.2,1"/>
<polygon points="520.4,170.2 534.2,175.6 515.5,182.6" fill="#e2e2e2" fill-opacity="0.72" stroke="#6a6a6a" stroke-width="0.35"/>
<polygon points="520.4,170.2 515.5,182.6 506.6,164.8" fill="#b4b4b4" fill-opacity="0.72" stroke="#6a6a6a" stroke-width="0.35"/>
<polygon points="520.4,170.2 506.6,164.8 525.3,157.8" fill="#9c9c9c" fill-opacity="0.72" stroke="#6a6a6a" stroke-width="0.35"/>
<polygon points="520.4,170.2 525.3,157.8 534.2,175.6" fill="#cdcdcd" fill-opacity="0.72" stroke="#6a6a6a" stroke-width="0.35"/>
<polygon points="492.2,171.8 506.2,176.7 487.8,184.4" fill="#e2e2e2" fill-opacity="0.72" stroke="#6a6a6a" stroke-width="0.35"/>
<polygon points="492.2,171.8 487.8,184.4 478.2,166.9" fill="#b4b4b4" fill-opacity="0.72" stroke="#6a6a6a" stroke-width="0.35"/>
<polygon points="492.2,171.8 478.2,166.9 496.6,159.2" fill="#9c9c9c" fill-opacity="0.72" stroke="#6a6a6a" stroke-width="0.35"/>
<polygon points="492.2,171.8 496.6,159.2 506.2,176.7" fill="#cdcdcd" fill-opacity="0.72" stroke="#6a6a6a" stroke-width="0.35"/>
<polygon points="525.9,178.7 538.5,171.0 532.9,190.1" fill="#e2e2e2" fill-opacity="0.72" stroke="#6a6a6a" stroke-width="0.35"/>
<polygon points="525.9,178.7 532.9,190.1 513.3,186.4" fill="#b4b4b4" fill-opacity="0.72" stroke="#6a6a6a" stroke-width="0.35"/>
<polygon points="525.9,178.7 513.3,186.4 518.9,167.3" fill="#9c9c9c" fill-opacity="0.72" stroke="#6a6a6a" stroke-width="0.35"/>
<polygon points="525.9,178.7 518.9,167.3 538.5,171.0" fill="#cdcdcd" fill-opacity="0.72" stroke="#6a6a6a" stroke-width="0.35"/>
<polygon points="497.2,179.8 511.6,176.4 500.3,192.8" fill="#e2e2e2" fill-opacity="0.72" stroke="#6a6a6a" stroke-width="0.35"/>
<polygon points="497.2,179.8 500.3,192.8 482.8,183.2" fill="#b4b4b4" fill-opacity="0.72" stroke="#6a6a6a" stroke-width="0.35"/>
<polygon points="497.2,179.8 482.8,183.2 494.1,166.8" fill="#9c9c9c" fill-opacity="0.72" stroke="#6a6a6a" stroke-width="0.35"/>
<polygon points="497.2,179.8 494.1,166.8 511.6,176.4" fill="#cdcdcd" fill-opacity="0.72" stroke="#6a6a6a" stroke-width="0.35"/>
<polygon points="520.4,197.0 535.0,199.6 518.1,210.1" fill="#e2e2e2" fill-opacity="0.72" stroke="#6a6a6a" stroke-width="0.35"/>
<polygon points="520.4,197.0 518.1,210.1 505.8,194.4" fill="#b4b4b4" fill-opacity="0.72" stroke="#6a6a6a" stroke-width="0.35"/>
<polygon points="520.4,197.0 505.8,194.4 522.7,183.9" fill="#9c9c9c" fill-opacity="0.72" stroke="#6a6a6a" stroke-width="0.35"/>
<polygon points="520.4,197.0 522.7,183.9 535.0,199.6" fill="#cdcdcd" fill-opacity="0.72" stroke="#6a6a6a" stroke-width="0.35"/>
<polygon points="492.2,198.2 505.9,203.9 487.1,210.5" fill="#e2e2e2" fill-opacity="0.72" stroke="#6a6a6a" stroke-width="0.35"/>
<polygon points="492.2,198.2 487.1,210.5 478.5,192.5" fill="#b4b4b4" fill-opacity="0.72" stroke="#6a6a6a" stroke-width="0.35"/>
<polygon points="492.2,198.2 478.5,192.5 497.3,185.9" fill="#9c9c9c" fill-opacity="0.72" stroke="#6a6a6a" stroke-width="0.35"/>
<polygon points="492.2,198.2 497.3,185.9 505.9,203.9" fill="#cdcdcd" fill-opacity="0.72" stroke="#6a6a6a" stroke-width="0.35"/>
<polygon points="525.9,205.0 540.3,201.8 528.8,218.0" fill="#e2e2e2" fill-opacity="0.72" stroke="#6a6a6a" stroke-width="0.35"/>
<polygon points="525.9,205.0 528.8,218.0 511.5,208.2" fill="#b4b4b4" fill-opacity="0.72" stroke="#6a6a6a" stroke-width="0.35"/>
<polygon points="525.9,205.0 511.5,208.2 523.0,192.0" fill="#9c9c9c" fill-opacity="0.72" stroke="#6a6a6a" stroke-width="0.35"/>
<polygon points="525.9,205.0 523.0,192.0 540.3,201.8" fill="#cdcdcd" fill-opacity="0.72" stroke="#6a6a6a" stroke-width="0.35"/>
<polygon points="497.2,206.2 509.6,198.1 504.5,217.4" fill="#e2e2e2" fill-opacity="0.72" stroke="#6a6a6a" stroke-width="0.35"/>
<polygon points="497.2,206.2 504.5,217.4 484.8,214.3" fill="#b4b4b4" fill-opacity="0.72" stroke="#6a6a6a" stroke-width="0.35"/>
<polygon points="497.2,206.2 484.8,214.3 489.9,195.0" fill="#9c9c9c" fill-opacity="0.72" stroke="#6a6a6a" stroke-width="0.35"/>
<polygon points="497.2,206.2 489.9,195.0 509.6,198.1" fill="#cdcdcd" fill-opacity="0.72" stroke="#6a6a6a" stroke-width="0.35"/>
<polygon points="520.4,223.4 533.9,229.4 515.0,235.6" fill="#e2e2e2" fill-opacity="0.72" stroke="#6a6a6a" stroke-width="0.35"/>
<polygon points="520.4,223.4 515.0,235.6 506.9,217.4" fill="#b4b4b4" fill-opacity="0.72" stroke="#6a6a6a" stroke-width="0.35"/>
<polygon points="520.4,223.4 506.9,217.4 525.8,211.2" fill="#9c9c9c" fill-opacity="0.72" stroke="#6a6a6a" stroke-width="0.35"/>
<polygon points="520.4,223.4 525.8,211.2 533.9,229.4" fill="#cdcdcd" fill-opacity="0.72" stroke="#6a6a6a" stroke-width="0.35"/>
<polygon points="492.2,224.5 505.6,230.9 486.5,236.5" fill="#e2e2e2" fill-opacity="0.72" stroke="#6a6a6a" stroke-width="0.35"/>
<polygon points="492.2,224.5 486.5,236.5 478.8,218.1" fill="#b4b4b4" fill-opacity="0.72" stroke="#6a6a6a" stroke-width="0.35"/>
<polygon points="492.2,224.5 478.8,218.1 497.9,212.5" fill="#9c9c9c" fill-opacity="0.72" stroke="#6a6a6a" stroke-width="0.35"/>
<polygon points="492.2,224.5 497.9,212.5 505.6,230.9" fill="#cdcdcd" fill-opacity="0.72" stroke="#6a6a6a" stroke-width="0.35"/>
<polygon points="525.9,231.4 538.2,223.1 533.3,242.4" fill="#e2e2e2" fill-opacity="0.72" stroke="#6a6a6a" stroke-width="0.35"/>
<polygon points="525.9,231.4 533.3,242.4 513.6,239.7" fill="#b4b4b4" fill-opacity="0.72" stroke="#6a6a6a" stroke-width="0.35"/>
<polygon points="525.9,231.4 513.6,239.7 518.5,220.4" fill="#9c9c9c" fill-opacity="0.72" stroke="#6a6a6a" stroke-width="0.35"/>
<polygon points="525.9,231.4 518.5,220.4 538.2,223.1" fill="#cdcdcd" fill-opacity="0.72" stroke="#6a6a6a" stroke-width="0.35"/>
<polygon points="497.2,232.6 510.6,226.2 502.9,244.6" fill="#e2e2e2" fill-opacity="0.72" stroke="#6a6a6a" stroke-width="0.35"/>
<polygon points="497.2,232.6 502.9,244.6 483.8,239.0" fill="#b4b4b4" fill-opacity="0.72" stroke="#6a6a6a" stroke-width="0.35"/>
<polygon points="497.2,232.6 483.8,239.0 491.5,220.6" fill="#9c9c9c" fill-opacity="0.72" stroke="#6a6a6a" stroke-width="0.35"/>
<polygon points="497.2,232.6 491.5,220.6 510.6,226.2" fill="#cdcdcd" fill-opacity="0.72" stroke="#6a6a6a" stroke-width="0.35"/>
<circle cx="492.2" cy="171.8" r="3.5" fill="url(#feS)"/>
<line x1="492.2" y1="170.3" x2="492.2" y2="165.6" stroke="#e8455a" stroke-width="0.8"/>
<polygon points="491.2,166.3 493.2,166.3 492.2,164.60000000000002" fill="#e8455a"/>
<circle cx="497.2" cy="179.8" r="3.5" fill="url(#feS)"/>
<line x1="497.2" y1="181.3" x2="497.2" y2="186.0" stroke="#e88a2a" stroke-width="0.8"/>
<polygon points="496.2,185.3 498.2,185.3 497.2,187.0" fill="#e88a2a"/>
<circle cx="492.2" cy="198.2" r="3.5" fill="url(#feS)"/>
<line x1="492.2" y1="196.7" x2="492.2" y2="192.0" stroke="#e8455a" stroke-width="0.8"/>
<polygon points="491.2,192.7 493.2,192.7 492.2,191.0" fill="#e8455a"/>
<circle cx="497.2" cy="206.2" r="3.5" fill="url(#feS)"/>
<line x1="497.2" y1="207.7" x2="497.2" y2="212.4" stroke="#e88a2a" stroke-width="0.8"/>
<polygon points="496.2,211.7 498.2,211.7 497.2,213.39999999999998" fill="#e88a2a"/>
<circle cx="492.2" cy="224.5" r="3.5" fill="url(#feS)"/>
<line x1="492.2" y1="223.0" x2="492.2" y2="218.3" stroke="#e8455a" stroke-width="0.8"/>
<polygon points="491.2,219.0 493.2,219.0 492.2,217.3" fill="#e8455a"/>
<circle cx="497.2" cy="232.6" r="3.5" fill="url(#feS)"/>
<line x1="497.2" y1="234.1" x2="497.2" y2="238.8" stroke="#e88a2a" stroke-width="0.8"/>
<polygon points="496.2,238.1 498.2,238.1 497.2,239.79999999999998" fill="#e88a2a"/>
<circle cx="520.4" cy="170.2" r="3.5" fill="url(#feS)"/>
<line x1="520.4" y1="168.7" x2="520.4" y2="164.0" stroke="#e8455a" stroke-width="0.8"/>
<polygon points="519.4,164.7 521.4,164.7 520.4,163.0" fill="#e8455a"/>
<circle cx="525.9" cy="178.7" r="3.5" fill="url(#feS)"/>
<line x1="525.9" y1="180.2" x2="525.9" y2="184.9" stroke="#e88a2a" stroke-width="0.8"/>
<polygon points="524.9,184.2 526.9,184.2 525.9,185.89999999999998" fill="#e88a2a"/>
<circle cx="520.4" cy="197" r="3.5" fill="url(#feS)"/>
<line x1="520.4" y1="195.5" x2="520.4" y2="190.8" stroke="#e8455a" stroke-width="0.8"/>
<polygon points="519.4,191.5 521.4,191.5 520.4,189.8" fill="#e8455a"/>
<circle cx="525.9" cy="205" r="3.5" fill="url(#feS)"/>
<line x1="525.9" y1="206.5" x2="525.9" y2="211.2" stroke="#e88a2a" stroke-width="0.8"/>
<polygon points="524.9,210.5 526.9,210.5 525.9,212.2" fill="#e88a2a"/>
<circle cx="520.4" cy="223.4" r="3.5" fill="url(#feS)"/>
<line x1="520.4" y1="221.9" x2="520.4" y2="217.2" stroke="#e8455a" stroke-width="0.8"/>
<polygon points="519.4,217.9 521.4,217.9 520.4,216.20000000000002" fill="#e8455a"/>
<circle cx="525.9" cy="231.4" r="3.5" fill="url(#feS)"/>
<line x1="525.9" y1="232.9" x2="525.9" y2="237.6" stroke="#e88a2a" stroke-width="0.8"/>
<polygon points="524.9,236.9 526.9,236.9 525.9,238.6" fill="#e88a2a"/>
<circle cx="506" cy="179.8" r="4.2" fill="url(#yB)"/>
<circle cx="511.7" cy="188.5" r="4.2" fill="url(#yB)"/>
<circle cx="506" cy="215.4" r="4.2" fill="url(#yB)"/>
<circle cx="511.7" cy="223.4" r="4.2" fill="url(#yB)"/>
<line x1="280.0" y1="254.2" x2="324.8" y2="254.2" stroke="#222" stroke-width="0.9"/>
<line x1="280.0" y1="318.5" x2="324.8" y2="318.5" stroke="#222" stroke-width="0.9"/>
<line x1="302.8" y1="254.2" x2="302.8" y2="318.5" stroke="#555" stroke-width="0.8"/>
<line x1="280.0" y1="254.2" x2="280.0" y2="318.5" stroke="#222" stroke-width="0.9"/>
<line x1="324.8" y1="254.2" x2="324.8" y2="272.0" stroke="#222" stroke-width="0.9"/>
<line x1="324.8" y1="300.5" x2="324.8" y2="318.5" stroke="#222" stroke-width="0.9"/>
<line x1="323.2" y1="270.2" x2="326.4" y2="273.6" stroke="#222" stroke-width="0.8"/>
<line x1="323.2" y1="298.8" x2="326.4" y2="302.2" stroke="#222" stroke-width="0.8"/>
<line x1="287.5" y1="318.5" x2="287.5" y2="317.3" stroke="#222" stroke-width="0.5"/>
<line x1="294.9" y1="318.5" x2="294.9" y2="317.3" stroke="#222" stroke-width="0.5"/>
<line x1="302.4" y1="318.5" x2="302.4" y2="317.3" stroke="#222" stroke-width="0.5"/>
<line x1="309.9" y1="318.5" x2="309.9" y2="317.3" stroke="#222" stroke-width="0.5"/>
<line x1="317.3" y1="318.5" x2="317.3" y2="317.3" stroke="#222" stroke-width="0.5"/>
<text x="302.8" y="324.2" font-size="7.2" text-anchor="middle" dominant-baseline="central" fill="#222">0</text>
<line x1="335.2" y1="254.2" x2="380.0" y2="254.2" stroke="#222" stroke-width="0.9"/>
<line x1="335.2" y1="318.5" x2="380.0" y2="318.5" stroke="#222" stroke-width="0.9"/>
<line x1="357.4" y1="254.2" x2="357.4" y2="318.5" stroke="#555" stroke-width="0.8"/>
<line x1="335.2" y1="254.2" x2="335.2" y2="272.0" stroke="#222" stroke-width="0.9"/>
<line x1="335.2" y1="300.5" x2="335.2" y2="318.5" stroke="#222" stroke-width="0.9"/>
<line x1="333.6" y1="270.2" x2="336.8" y2="273.6" stroke="#222" stroke-width="0.8"/>
<line x1="333.6" y1="298.8" x2="336.8" y2="302.2" stroke="#222" stroke-width="0.8"/>
<line x1="380.0" y1="254.2" x2="380.0" y2="272.0" stroke="#222" stroke-width="0.9"/>
<line x1="380.0" y1="300.5" x2="380.0" y2="318.5" stroke="#222" stroke-width="0.9"/>
<line x1="378.4" y1="270.2" x2="381.6" y2="273.6" stroke="#222" stroke-width="0.8"/>
<line x1="378.4" y1="298.8" x2="381.6" y2="302.2" stroke="#222" stroke-width="0.8"/>
<line x1="342.7" y1="318.5" x2="342.7" y2="317.3" stroke="#222" stroke-width="0.5"/>
<line x1="350.1" y1="318.5" x2="350.1" y2="317.3" stroke="#222" stroke-width="0.5"/>
<line x1="357.6" y1="318.5" x2="357.6" y2="317.3" stroke="#222" stroke-width="0.5"/>
<line x1="365.1" y1="318.5" x2="365.1" y2="317.3" stroke="#222" stroke-width="0.5"/>
<line x1="372.5" y1="318.5" x2="372.5" y2="317.3" stroke="#222" stroke-width="0.5"/>
<text x="357.4" y="324.2" font-size="7.2" text-anchor="middle" dominant-baseline="central" fill="#222">0</text>
<line x1="388.8" y1="254.2" x2="434.2" y2="254.2" stroke="#222" stroke-width="0.9"/>
<line x1="388.8" y1="318.5" x2="434.2" y2="318.5" stroke="#222" stroke-width="0.9"/>
<line x1="411.6" y1="254.2" x2="411.6" y2="318.5" stroke="#555" stroke-width="0.8"/>
<line x1="388.8" y1="254.2" x2="388.8" y2="272.0" stroke="#222" stroke-width="0.9"/>
<line x1="388.8" y1="300.5" x2="388.8" y2="318.5" stroke="#222" stroke-width="0.9"/>
<line x1="387.2" y1="270.2" x2="390.4" y2="273.6" stroke="#222" stroke-width="0.8"/>
<line x1="387.2" y1="298.8" x2="390.4" y2="302.2" stroke="#222" stroke-width="0.8"/>
<line x1="434.2" y1="254.2" x2="434.2" y2="272.0" stroke="#222" stroke-width="0.9"/>
<line x1="434.2" y1="300.5" x2="434.2" y2="318.5" stroke="#222" stroke-width="0.9"/>
<line x1="432.6" y1="270.2" x2="435.8" y2="273.6" stroke="#222" stroke-width="0.8"/>
<line x1="432.6" y1="298.8" x2="435.8" y2="302.2" stroke="#222" stroke-width="0.8"/>
<line x1="396.4" y1="318.5" x2="396.4" y2="317.3" stroke="#222" stroke-width="0.5"/>
<line x1="403.9" y1="318.5" x2="403.9" y2="317.3" stroke="#222" stroke-width="0.5"/>
<line x1="411.5" y1="318.5" x2="411.5" y2="317.3" stroke="#222" stroke-width="0.5"/>
<line x1="419.1" y1="318.5" x2="419.1" y2="317.3" stroke="#222" stroke-width="0.5"/>
<line x1="426.6" y1="318.5" x2="426.6" y2="317.3" stroke="#222" stroke-width="0.5"/>
<text x="411.6" y="324.2" font-size="7.2" text-anchor="middle" dominant-baseline="central" fill="#222">0</text>
<line x1="442.4" y1="254.2" x2="487.0" y2="254.2" stroke="#222" stroke-width="0.9"/>
<line x1="442.4" y1="318.5" x2="487.0" y2="318.5" stroke="#222" stroke-width="0.9"/>
<line x1="465.4" y1="254.2" x2="465.4" y2="318.5" stroke="#555" stroke-width="0.8"/>
<line x1="442.4" y1="254.2" x2="442.4" y2="272.0" stroke="#222" stroke-width="0.9"/>
<line x1="442.4" y1="300.5" x2="442.4" y2="318.5" stroke="#222" stroke-width="0.9"/>
<line x1="440.8" y1="270.2" x2="444.0" y2="273.6" stroke="#222" stroke-width="0.8"/>
<line x1="440.8" y1="298.8" x2="444.0" y2="302.2" stroke="#222" stroke-width="0.8"/>
<line x1="487.0" y1="254.2" x2="487.0" y2="272.0" stroke="#222" stroke-width="0.9"/>
<line x1="487.0" y1="300.5" x2="487.0" y2="318.5" stroke="#222" stroke-width="0.9"/>
<line x1="485.4" y1="270.2" x2="488.6" y2="273.6" stroke="#222" stroke-width="0.8"/>
<line x1="485.4" y1="298.8" x2="488.6" y2="302.2" stroke="#222" stroke-width="0.8"/>
<line x1="449.8" y1="318.5" x2="449.8" y2="317.3" stroke="#222" stroke-width="0.5"/>
<line x1="457.3" y1="318.5" x2="457.3" y2="317.3" stroke="#222" stroke-width="0.5"/>
<line x1="464.7" y1="318.5" x2="464.7" y2="317.3" stroke="#222" stroke-width="0.5"/>
<line x1="472.1" y1="318.5" x2="472.1" y2="317.3" stroke="#222" stroke-width="0.5"/>
<line x1="479.6" y1="318.5" x2="479.6" y2="317.3" stroke="#222" stroke-width="0.5"/>
<text x="465.4" y="324.2" font-size="7.2" text-anchor="middle" dominant-baseline="central" fill="#222">0</text>
<line x1="497.0" y1="254.2" x2="541.0" y2="254.2" stroke="#222" stroke-width="0.9"/>
<line x1="497.0" y1="318.5" x2="541.0" y2="318.5" stroke="#222" stroke-width="0.9"/>
<line x1="519.6" y1="254.2" x2="519.6" y2="318.5" stroke="#555" stroke-width="0.8"/>
<line x1="497.0" y1="254.2" x2="497.0" y2="272.0" stroke="#222" stroke-width="0.9"/>
<line x1="497.0" y1="300.5" x2="497.0" y2="318.5" stroke="#222" stroke-width="0.9"/>
<line x1="495.4" y1="270.2" x2="498.6" y2="273.6" stroke="#222" stroke-width="0.8"/>
<line x1="495.4" y1="298.8" x2="498.6" y2="302.2" stroke="#222" stroke-width="0.8"/>
<line x1="541.0" y1="254.2" x2="541.0" y2="318.5" stroke="#222" stroke-width="0.9"/>
<line x1="504.3" y1="318.5" x2="504.3" y2="317.3" stroke="#222" stroke-width="0.5"/>
<line x1="511.7" y1="318.5" x2="511.7" y2="317.3" stroke="#222" stroke-width="0.5"/>
<line x1="519.0" y1="318.5" x2="519.0" y2="317.3" stroke="#222" stroke-width="0.5"/>
<line x1="526.3" y1="318.5" x2="526.3" y2="317.3" stroke="#222" stroke-width="0.5"/>
<line x1="533.7" y1="318.5" x2="533.7" y2="317.3" stroke="#222" stroke-width="0.5"/>
<text x="519.6" y="324.2" font-size="7.2" text-anchor="middle" dominant-baseline="central" fill="#222">0</text>
<text x="278.3" y="254.2" font-size="7.4" text-anchor="end" dominant-baseline="central" fill="#222">1.0</text>
<line x1="280.0" y1="254.2" x2="282.0" y2="254.2" stroke="#222" stroke-width="0.6"/>
<text x="278.3" y="286.4" font-size="7.4" text-anchor="end" dominant-baseline="central" fill="#222">0.5</text>
<line x1="280.0" y1="286.4" x2="282.0" y2="286.4" stroke="#222" stroke-width="0.6"/>
<text x="278.3" y="318.5" font-size="7.4" text-anchor="end" dominant-baseline="central" fill="#222">0.0</text>
<line x1="280.0" y1="318.5" x2="282.0" y2="318.5" stroke="#222" stroke-width="0.6"/>
<line x1="280.0" y1="302.4" x2="281.2" y2="302.4" stroke="#222" stroke-width="0.5"/>
<line x1="280.0" y1="270.3" x2="281.2" y2="270.3" stroke="#222" stroke-width="0.5"/>
<text x="256.2" y="286.4" font-size="7.2" text-anchor="middle" dominant-baseline="central" fill="#222" transform="rotate(-90 256.2 286.4)">Magnetization/emu/g</text>
<text x="438.2" y="332.4" font-size="7.4" text-anchor="middle" dominant-baseline="central" fill="#222">Magnetic Field/Oe</text>
<text x="284.0" y="265.0" font-size="12" text-anchor="start" dominant-baseline="central" fill="#111" font-weight="bold">(l)</text>
<path d="M283.8,318.5 C284.8,315.9 287.8,308.9 290.0,303.0 C292.2,297.1 294.9,289.4 297.0,283.0 C299.1,276.6 301.0,268.5 302.8,264.5 C304.6,260.5 305.8,260.7 308.0,259.0 C310.2,257.3 314.5,255.0 315.8,254.2" stroke="#111" stroke-width="0.8" fill="none" stroke-linejoin="round" stroke-linecap="round"/>
<path d="M321.3,318.5 L324.8,304.5" stroke="#111" stroke-width="0.8" fill="none" stroke-linejoin="round"/>
<path d="M348.8,318.5 C349.0,316.2 349.3,310.1 350.2,304.5 C351.1,298.9 352.8,292.3 354.0,285.0 C355.2,277.7 355.8,265.7 357.4,260.6 C358.9,255.5 362.3,255.3 363.3,254.2" stroke="#e53935" stroke-width="0.8" fill="none" stroke-linejoin="round" stroke-linecap="round"/>
<path d="M365.8,318.5 C366.1,317.2 366.6,315.8 367.8,311.0 C369.0,306.2 371.1,298.1 373.0,290.0 C374.9,281.9 378.3,267.7 379.5,262.5 C380.7,257.3 379.9,259.6 380.0,259.0" stroke="#e53935" stroke-width="0.8" fill="none" stroke-linejoin="round" stroke-linecap="round"/>
<path d="M403.4,318.5 C404.2,314.9 406.7,302.8 408.0,297.0 C409.3,291.2 410.5,289.6 411.2,284.0 C411.9,278.4 411.2,268.1 412.2,263.5 C413.2,258.9 416.0,257.8 417.0,256.2 C418.0,254.6 417.8,254.5 418.0,254.2" stroke="#3aa8b4" stroke-width="0.8" fill="none" stroke-linejoin="round" stroke-linecap="round"/>
<path d="M418.6,318.5 C419.2,314.9 420.8,304.7 422.0,297.0 C423.2,289.3 424.3,279.4 425.8,272.3 C427.3,265.2 430.1,257.2 431.0,254.2" stroke="#3aa8b4" stroke-width="0.8" fill="none" stroke-linejoin="round" stroke-linecap="round"/>
<path d="M460.0,318.5 C460.5,313.8 462.1,299.2 463.0,290.0 C463.9,280.8 464.4,269.0 465.6,263.0 C466.8,257.0 469.3,255.7 470.0,254.2" stroke="#3a9a48" stroke-width="0.8" fill="none" stroke-linejoin="round" stroke-linecap="round"/>
<path d="M470.0,318.5 C470.7,313.8 472.8,298.2 474.0,290.0 C475.2,281.8 475.6,275.0 477.0,269.0 C478.4,263.0 481.5,256.7 482.4,254.2" stroke="#3a9a48" stroke-width="0.8" fill="none" stroke-linejoin="round" stroke-linecap="round"/>
<path d="M513.0,318.5 C513.7,316.6 515.9,310.4 517.0,307.0 C518.1,303.6 518.9,302.3 519.5,298.0 C520.1,293.7 519.8,284.8 520.5,281.0 C521.2,277.2 522.8,276.7 524.0,275.0 C525.2,273.3 526.2,272.8 528.0,271.0 C529.8,269.2 532.8,266.1 535.0,264.0 C537.2,261.9 540.0,259.4 541.0,258.5" stroke="#f0a040" stroke-width="0.8" fill="none" stroke-linejoin="round" stroke-linecap="round"/>
<path d="M526.4,318.5 C526.8,314.2 527.7,300.6 529.0,293.0 C530.3,285.4 532.5,277.7 534.0,273.0 C535.5,268.3 536.8,266.8 538.0,265.0 C539.2,263.2 540.5,262.5 541.0,262.0" stroke="#f0a040" stroke-width="0.8" fill="none" stroke-linejoin="round" stroke-linecap="round"/>
<path d="M157.2,409.0 L157.20,407.54 L157.69,407.23 L158.17,407.40 L158.66,407.16 L159.15,407.13 L159.64,407.68 L160.12,407.72 L160.61,406.88 L161.10,407.44 L161.59,407.34 L162.07,405.49 L162.56,400.82 L163.05,388.79 L163.54,380.26 L164.02,385.69 L164.51,397.75 L165.00,401.53 L165.49,399.33 L165.97,399.26 L166.46,402.29 L166.95,405.37 L167.44,407.04 L167.92,406.49 L168.41,406.63 L168.90,406.87 L169.39,407.09 L169.88,406.20 L170.36,406.54 L170.85,406.24 L171.34,406.03 L171.82,406.15 L172.31,405.90 L172.80,406.38 L173.29,405.94 L173.77,406.25 L174.26,405.72 L174.75,405.71 L175.24,406.39 L175.72,406.15 L176.21,405.71 L176.70,404.39 L177.19,404.11 L177.67,402.95 L178.16,402.28 L178.65,401.06 L179.14,399.19 L179.62,392.96 L180.11,377.61 L180.60,355.55 L181.09,340.61 L181.57,347.40 L182.06,369.47 L182.55,390.49 L183.04,401.42 L183.52,405.45 L184.01,406.81 L184.50,406.29 L184.99,406.25 L185.47,406.36 L185.96,406.74 L186.45,406.64 L186.94,407.19 L187.42,406.61 L187.91,406.91 L188.40,407.23 L188.89,407.49 L189.38,406.72 L189.86,406.62 L190.35,407.54 L190.84,406.85 L191.32,407.26 L191.81,407.54 L192.30,407.41 L192.79,406.95 L193.27,406.86 L193.76,407.70 L194.25,407.14 L194.74,407.72 L195.22,407.05 L195.71,407.44 L196.20,406.90 L196.69,406.80 L197.17,407.28 L197.66,406.79 L198.15,407.48 L198.64,407.72 L199.12,407.19 L199.61,407.76 L200.10,407.60 L200.59,407.39 L201.07,407.19 L201.56,407.64 L202.05,407.76 L202.54,406.93 L203.02,407.49 L203.51,406.84 L204.00,406.90 L204.49,407.42 L204.97,407.34 L205.46,407.28 L205.95,407.16 L206.44,407.20 L206.92,407.24 L207.41,407.18 L207.90,406.86 L208.39,407.29 L208.88,407.37 L209.36,407.08 L209.85,407.56 L210.34,407.50 L210.82,406.82 L211.31,407.28 L211.80,407.25 L212.29,407.79 L212.77,407.38 L213.26,407.22 L213.75,407.78 L214.24,407.18 L214.72,407.17 L215.21,407.74 L215.70,407.17 L216.19,407.33 L216.67,407.12 L217.16,407.45 L217.65,407.09 L218.14,407.06 L218.62,407.78 L219.11,407.74 L219.60,407.12 L220.09,406.84 L220.57,407.55 L221.06,407.34 L221.55,407.21 L222.04,407.48 L222.52,407.44 L223.01,407.49 L223.50,407.43 L223.99,407.20 L224.47,407.50 L224.96,407.42 L225.45,407.03 L225.94,407.77 L226.42,407.23 L226.91,407.06 L227.40,407.49 L227.89,407.58 L228.38,407.00 L228.86,407.56 L229.35,407.61 L229.84,407.36 L230.32,407.10 L230.81,407.70 L231.30,407.48 L231.79,407.47 L232.27,406.96 L232.76,407.25 L233.25,406.09 L233.74,403.57 L234.22,395.13 L234.71,383.13 L235.20,376.92 L235.69,383.33 L236.18,395.24 L236.66,403.62 L237.15,406.41 L237.64,407.49 L238.12,406.98 L238.61,406.96 L239.10,407.62 L239.59,407.52 L240.07,406.99 L240.56,407.15 L241.05,406.95 L241.54,407.19 L242.02,406.67 L242.51,405.08 L243.00,403.22 L243.49,403.74 L243.97,405.03 L244.46,406.39 L244.95,407.12 L245.44,407.35 L245.93,406.87 L246.41,407.64 L246.90,407.80 L247.39,406.86 L247.88,406.92 L248.36,406.81 L248.85,407.37 L249.34,406.85 L249.82,406.87 L250.31,407.58 L250.80,407.05 L251.29,406.96 L251.77,407.14 L252.26,407.28 L252.75,407.51 L253.24,407.46 L253.72,407.57 L254.21,407.73 L254.70,407.21 L254.7,409.0 Z" fill="#2ea8b8" stroke="#1b7f8e" stroke-width="0.5" stroke-linejoin="round"/>
<path d="M255.0,409.0 L255.00,407.54 L255.49,407.67 L255.98,407.37 L256.47,407.61 L256.96,407.69 L257.45,407.34 L257.95,406.82 L258.44,406.92 L258.93,406.94 L259.42,407.46 L259.91,407.02 L260.40,406.25 L260.89,401.90 L261.38,392.97 L261.87,387.26 L262.37,391.33 L262.86,398.12 L263.35,399.37 L263.84,399.83 L264.33,403.38 L264.82,405.90 L265.31,406.50 L265.80,406.52 L266.29,406.36 L266.78,406.29 L267.27,407.03 L267.77,406.46 L268.26,406.34 L268.75,406.46 L269.24,406.74 L269.73,406.39 L270.22,406.73 L270.71,405.84 L271.20,405.87 L271.69,406.15 L272.19,406.37 L272.68,405.72 L273.17,406.00 L273.66,405.59 L274.15,405.44 L274.64,405.45 L275.13,405.05 L275.62,404.18 L276.11,403.56 L276.60,403.04 L277.10,401.94 L277.59,398.86 L278.08,391.57 L278.57,374.17 L279.06,351.84 L279.55,342.12 L280.04,353.38 L280.53,376.50 L281.02,394.99 L281.51,402.93 L282.00,406.33 L282.50,406.67 L282.99,407.01 L283.48,406.63 L283.97,407.04 L284.46,407.00 L284.95,406.65 L285.44,407.12 L285.93,406.92 L286.42,406.61 L286.92,407.45 L287.41,407.52 L287.90,407.38 L288.39,406.87 L288.88,407.04 L289.37,407.44 L289.86,407.36 L290.35,407.53 L290.84,407.26 L291.33,407.69 L291.82,407.05 L292.32,406.86 L292.81,406.81 L293.30,407.03 L293.79,406.81 L294.28,407.76 L294.77,407.49 L295.26,406.82 L295.75,407.01 L296.24,407.38 L296.74,406.85 L297.23,407.17 L297.72,406.98 L298.21,407.50 L298.70,407.61 L299.19,407.35 L299.68,407.66 L300.17,407.42 L300.66,406.84 L301.15,407.47 L301.64,407.79 L302.14,407.75 L302.63,407.63 L303.12,407.02 L303.61,407.44 L304.10,407.51 L304.59,407.70 L305.08,406.82 L305.57,407.38 L306.06,407.59 L306.56,407.74 L307.05,407.74 L307.54,407.63 L308.03,407.12 L308.52,407.65 L309.01,407.76 L309.50,407.31 L309.99,407.55 L310.48,406.80 L310.97,407.68 L311.46,407.27 L311.96,407.03 L312.45,407.39 L312.94,406.81 L313.43,407.32 L313.92,407.56 L314.41,407.39 L314.90,407.76 L315.39,407.38 L315.88,407.55 L316.38,406.91 L316.87,406.97 L317.36,407.30 L317.85,407.77 L318.34,407.55 L318.83,407.56 L319.32,407.59 L319.81,407.57 L320.30,406.93 L320.79,407.66 L321.29,407.75 L321.78,406.87 L322.27,407.23 L322.76,406.81 L323.25,407.40 L323.74,406.90 L324.23,407.15 L324.72,407.00 L325.21,406.97 L325.70,406.78 L326.19,405.71 L326.69,402.74 L327.18,399.36 L327.67,399.33 L328.16,402.02 L328.65,405.47 L329.14,406.62 L329.63,406.91 L330.12,407.15 L330.61,406.97 L331.11,407.13 L331.60,406.09 L332.09,402.11 L332.58,392.32 L333.07,377.25 L333.56,369.84 L334.05,378.10 L334.54,391.62 L335.03,401.83 L335.52,406.07 L336.01,407.61 L336.51,406.89 L337.00,407.67 L337.49,406.83 L337.98,407.13 L338.47,407.74 L338.96,407.63 L339.45,407.12 L339.94,406.97 L340.43,406.06 L340.93,404.45 L341.42,403.80 L341.91,404.01 L342.40,404.45 L342.89,406.79 L343.38,406.66 L343.87,407.64 L344.36,406.99 L344.85,407.02 L345.34,406.92 L345.84,407.25 L346.33,406.92 L346.82,407.60 L347.31,407.13 L347.80,407.47 L348.29,406.91 L348.78,407.03 L349.27,407.33 L349.76,407.27 L350.25,407.77 L350.75,407.77 L351.24,407.21 L351.73,407.31 L352.22,406.94 L352.71,407.19 L353.20,407.66 L353.2,409.0 Z" fill="#2ea8b8" stroke="#1b7f8e" stroke-width="0.5" stroke-linejoin="round"/>
<rect x="157.2" y="330.3" width="97.5" height="78.7" fill="none" stroke="#222" stroke-width="0.9"/>
<rect x="255.0" y="330.3" width="98.2" height="78.7" fill="none" stroke="#222" stroke-width="0.9"/>
<text x="157.5" y="414.2" font-size="7" text-anchor="middle" dominant-baseline="central" fill="#222">0</text>
<line x1="157.5" y1="409.0" x2="157.5" y2="407.2" stroke="#222" stroke-width="0.6"/>
<text x="181.7" y="414.2" font-size="7" text-anchor="middle" dominant-baseline="central" fill="#222">2</text>
<line x1="181.7" y1="409.0" x2="181.7" y2="407.2" stroke="#222" stroke-width="0.6"/>
<text x="206.2" y="414.2" font-size="7" text-anchor="middle" dominant-baseline="central" fill="#222">4</text>
<line x1="206.2" y1="409.0" x2="206.2" y2="407.2" stroke="#222" stroke-width="0.6"/>
<text x="230.6" y="414.2" font-size="7" text-anchor="middle" dominant-baseline="central" fill="#222">6</text>
<line x1="230.6" y1="409.0" x2="230.6" y2="407.2" stroke="#222" stroke-width="0.6"/>
<text x="255.0" y="414.2" font-size="7" text-anchor="middle" dominant-baseline="central" fill="#222">0</text>
<line x1="255.0" y1="409.0" x2="255.0" y2="407.2" stroke="#222" stroke-width="0.6"/>
<text x="279.6" y="414.2" font-size="7" text-anchor="middle" dominant-baseline="central" fill="#222">2</text>
<line x1="279.6" y1="409.0" x2="279.6" y2="407.2" stroke="#222" stroke-width="0.6"/>
<text x="304.1" y="414.2" font-size="7" text-anchor="middle" dominant-baseline="central" fill="#222">4</text>
<line x1="304.1" y1="409.0" x2="304.1" y2="407.2" stroke="#222" stroke-width="0.6"/>
<text x="328.7" y="414.2" font-size="7" text-anchor="middle" dominant-baseline="central" fill="#222">6</text>
<line x1="328.7" y1="409.0" x2="328.7" y2="407.2" stroke="#222" stroke-width="0.6"/>
<text x="353.2" y="414.2" font-size="7" text-anchor="middle" dominant-baseline="central" fill="#222">8</text>
<line x1="353.2" y1="409.0" x2="353.2" y2="407.2" stroke="#222" stroke-width="0.6"/>
<line x1="169.6" y1="409.0" x2="169.6" y2="407.9" stroke="#222" stroke-width="0.5"/>
<line x1="193.9" y1="409.0" x2="193.9" y2="407.9" stroke="#222" stroke-width="0.5"/>
<line x1="218.4" y1="409.0" x2="218.4" y2="407.9" stroke="#222" stroke-width="0.5"/>
<line x1="242.8" y1="409.0" x2="242.8" y2="407.9" stroke="#222" stroke-width="0.5"/>
<line x1="267.3" y1="409.0" x2="267.3" y2="407.9" stroke="#222" stroke-width="0.5"/>
<line x1="291.8" y1="409.0" x2="291.8" y2="407.9" stroke="#222" stroke-width="0.5"/>
<line x1="316.4" y1="409.0" x2="316.4" y2="407.9" stroke="#222" stroke-width="0.5"/>
<line x1="341.0" y1="409.0" x2="341.0" y2="407.9" stroke="#222" stroke-width="0.5"/>
<text x="260.8" y="423.8" font-size="7.5" text-anchor="middle" dominant-baseline="central" fill="#222">Energy/KeV</text>
<text x="149.3" y="366.8" font-size="8.3" text-anchor="middle" dominant-baseline="central" fill="#222" transform="rotate(-90 149.3 366.8)">Percentage/%</text>
<text x="160.5" y="338.8" font-size="10.5" text-anchor="start" dominant-baseline="central" fill="#111" font-weight="bold">(g)</text>
<text x="181.2" y="344.0" font-size="9.3" text-anchor="start" dominant-baseline="central" fill="#111" font-weight="bold">Y</text>
<text x="160.2" y="375.0" font-size="9.3" text-anchor="start" dominant-baseline="central" fill="#111" font-weight="bold">O</text>
<text x="164.0" y="393.8" font-size="9.3" text-anchor="start" dominant-baseline="central" fill="#111" font-weight="bold">Fe</text>
<text x="230.6" y="371.0" font-size="9.3" text-anchor="start" dominant-baseline="central" fill="#111" font-weight="bold">Fe</text>
<text x="239.0" y="399.1" font-size="9.3" text-anchor="start" dominant-baseline="central" fill="#111" font-weight="bold">Fe</text>
<text x="279.8" y="345.7" font-size="9.3" text-anchor="start" dominant-baseline="central" fill="#111" font-weight="bold">Y</text>
<text x="258.0" y="373.2" font-size="9.3" text-anchor="start" dominant-baseline="central" fill="#111" font-weight="bold">Mn</text>
<text x="259.0" y="382.4" font-size="9.3" text-anchor="start" dominant-baseline="central" fill="#111" font-weight="bold">O</text>
<text x="263.3" y="396.8" font-size="9.3" text-anchor="start" dominant-baseline="central" fill="#111" font-weight="bold">Fe</text>
<text x="320.0" y="394.5" font-size="9.3" text-anchor="start" dominant-baseline="central" fill="#111" font-weight="bold">Mn</text>
<text x="329.0" y="353.3" font-size="9.3" text-anchor="start" dominant-baseline="central" fill="#111" font-weight="bold">Fe</text>
<text x="328.4" y="363.1" font-size="9.3" text-anchor="start" dominant-baseline="central" fill="#111" font-weight="bold">Mn</text>
<text x="337.0" y="398.4" font-size="9.3" text-anchor="start" dominant-baseline="central" fill="#111" font-weight="bold">Fe</text>
<rect x="226.0" y="336.0" width="24.5" height="10.2" fill="#fff" stroke="#999" stroke-width="0.4"/>
<text x="238.2" y="341.2" font-size="6.4" text-anchor="middle" dominant-baseline="central" fill="#222">YFeO<tspan font-size="4.5" dy="1.5">3</tspan></text>
<rect x="324.5" y="337.6" width="24.2" height="7.6" fill="#fff" stroke="#999" stroke-width="0.4"/>
<text x="336.6" y="341.5" font-size="6.2" text-anchor="middle" dominant-baseline="central" fill="#222">x = 0.1</text>
<text x="362.0" y="335.6" font-size="12.6" text-anchor="start" dominant-baseline="central" fill="#111" font-weight="bold">(m)</text>
<rect x="360.2" y="343.4" width="182.8" height="12.1" fill="#4faae4" stroke="none" stroke-width="0.8"/>
<text x="462.5" y="349.6" font-size="7.6" text-anchor="middle" dominant-baseline="central" fill="#fff" font-weight="bold">The M<tspan font-size="4.5" dy="1.5">s</tspan><tspan dy="-1.5">, M</tspan><tspan font-size="4.5" dy="1.5">r</tspan><tspan dy="-1.5"> and H</tspan><tspan font-size="4.5" dy="1.5">c</tspan><tspan dy="-1.5"> values for all samples</tspan></text>
<rect x="360.7" y="356.0" width="39.4" height="10.2" fill="#d8d8d8" stroke="none" stroke-width="0.8"/>
<rect x="401.1" y="356.0" width="49.4" height="10.2" fill="#d8d8d8" stroke="none" stroke-width="0.8"/>
<rect x="451.5" y="356.0" width="53.0" height="10.2" fill="#d8d8d8" stroke="none" stroke-width="0.8"/>
<rect x="505.5" y="356.0" width="37.0" height="10.2" fill="#d8d8d8" stroke="none" stroke-width="0.8"/>
<rect x="360.7" y="367.2" width="39.4" height="8.6" fill="#d8d8d8" stroke="none" stroke-width="0.8"/>
<rect x="401.1" y="367.2" width="49.4" height="8.6" fill="#d8d8d8" stroke="none" stroke-width="0.8"/>
<rect x="451.5" y="367.2" width="53.0" height="8.6" fill="#d8d8d8" stroke="none" stroke-width="0.8"/>
<rect x="505.5" y="367.2" width="37.0" height="8.6" fill="#d8d8d8" stroke="none" stroke-width="0.8"/>
<rect x="360.7" y="376.8" width="39.4" height="8.5" fill="#d8d8d8" stroke="none" stroke-width="0.8"/>
<rect x="401.1" y="376.8" width="49.4" height="8.5" fill="#d8d8d8" stroke="none" stroke-width="0.8"/>
<rect x="451.5" y="376.8" width="53.0" height="8.5" fill="#d8d8d8" stroke="none" stroke-width="0.8"/>
<rect x="505.5" y="376.8" width="37.0" height="8.5" fill="#d8d8d8" stroke="none" stroke-width="0.8"/>
<rect x="360.7" y="386.3" width="39.4" height="8.5" fill="#d8d8d8" stroke="none" stroke-width="0.8"/>
<rect x="401.1" y="386.3" width="49.4" height="8.5" fill="#d8d8d8" stroke="none" stroke-width="0.8"/>
<rect x="451.5" y="386.3" width="53.0" height="8.5" fill="#d8d8d8" stroke="none" stroke-width="0.8"/>
<rect x="505.5" y="386.3" width="37.0" height="8.5" fill="#d8d8d8" stroke="none" stroke-width="0.8"/>
<rect x="360.7" y="395.8" width="39.4" height="8.4" fill="#d8d8d8" stroke="none" stroke-width="0.8"/>
<rect x="401.1" y="395.8" width="49.4" height="8.4" fill="#d8d8d8" stroke="none" stroke-width="0.8"/>
<rect x="451.5" y="395.8" width="53.0" height="8.4" fill="#d8d8d8" stroke="none" stroke-width="0.8"/>
<rect x="505.5" y="395.8" width="37.0" height="8.4" fill="#d8d8d8" stroke="none" stroke-width="0.8"/>
<rect x="360.7" y="405.2" width="39.4" height="8.4" fill="#d8d8d8" stroke="none" stroke-width="0.8"/>
<rect x="401.1" y="405.2" width="49.4" height="8.4" fill="#d8d8d8" stroke="none" stroke-width="0.8"/>
<rect x="451.5" y="405.2" width="53.0" height="8.4" fill="#d8d8d8" stroke="none" stroke-width="0.8"/>
<rect x="505.5" y="405.2" width="37.0" height="8.4" fill="#d8d8d8" stroke="none" stroke-width="0.8"/>
<text x="362.0" y="361.1" font-size="7" text-anchor="start" dominant-baseline="central" fill="#333">Sample</text>
<text x="425.8" y="361.1" font-size="7" text-anchor="middle" dominant-baseline="central" fill="#333">M<tspan font-size="4.5" dy="1.5">s</tspan><tspan dy="-1.5">/emug/g</tspan></text>
<text x="478.0" y="361.1" font-size="7" text-anchor="middle" dominant-baseline="central" fill="#333">M<tspan font-size="4.5" dy="1.5">r</tspan><tspan dy="-1.5">/emug/g</tspan></text>
<text x="524.0" y="361.1" font-size="7" text-anchor="middle" dominant-baseline="central" fill="#333">H<tspan font-size="4.5" dy="1.5">c</tspan><tspan dy="-1.5">/kOe</tspan></text>
<text x="362.0" y="371.5" font-size="7" text-anchor="start" dominant-baseline="central" fill="#333">YFeO<tspan font-size="4.5" dy="1.5">3</tspan></text>
<text x="425.8" y="371.5" font-size="7" text-anchor="middle" dominant-baseline="central" fill="#333">1.691</text>
<text x="478.0" y="371.5" font-size="7" text-anchor="middle" dominant-baseline="central" fill="#333">0.826</text>
<text x="536.5" y="371.5" font-size="7" text-anchor="end" dominant-baseline="central" fill="#333">12.286</text>
<text x="362.0" y="381.1" font-size="7" text-anchor="start" dominant-baseline="central" fill="#333">x = 0.025</text>
<text x="425.8" y="381.1" font-size="7" text-anchor="middle" dominant-baseline="central" fill="#333">1.978</text>
<text x="478.0" y="381.1" font-size="7" text-anchor="middle" dominant-baseline="central" fill="#333">1.016</text>
<text x="536.5" y="381.1" font-size="7" text-anchor="end" dominant-baseline="central" fill="#333">5.170</text>
<text x="362.0" y="390.6" font-size="7" text-anchor="start" dominant-baseline="central" fill="#333">x = 0.05</text>
<text x="425.8" y="390.6" font-size="7" text-anchor="middle" dominant-baseline="central" fill="#333">2.072</text>
<text x="478.0" y="390.6" font-size="7" text-anchor="middle" dominant-baseline="central" fill="#333">0.985</text>
<text x="536.5" y="390.6" font-size="7" text-anchor="end" dominant-baseline="central" fill="#333">3.174</text>
<text x="362.0" y="400.0" font-size="7" text-anchor="start" dominant-baseline="central" fill="#333">x = 0.075</text>
<text x="425.8" y="400.0" font-size="7" text-anchor="middle" dominant-baseline="central" fill="#333">2.332</text>
<text x="478.0" y="400.0" font-size="7" text-anchor="middle" dominant-baseline="central" fill="#333">1.097</text>
<text x="536.5" y="400.0" font-size="7" text-anchor="end" dominant-baseline="central" fill="#333">1.477</text>
<text x="362.0" y="409.4" font-size="7" text-anchor="start" dominant-baseline="central" fill="#333">x = 0.1</text>
<text x="425.8" y="409.4" font-size="7" text-anchor="middle" dominant-baseline="central" fill="#333">1.799</text>
<text x="478.0" y="409.4" font-size="7" text-anchor="middle" dominant-baseline="central" fill="#333">0.633</text>
<text x="536.5" y="409.4" font-size="7" text-anchor="end" dominant-baseline="central" fill="#333">5.554</text>
</svg>
</body></html>
